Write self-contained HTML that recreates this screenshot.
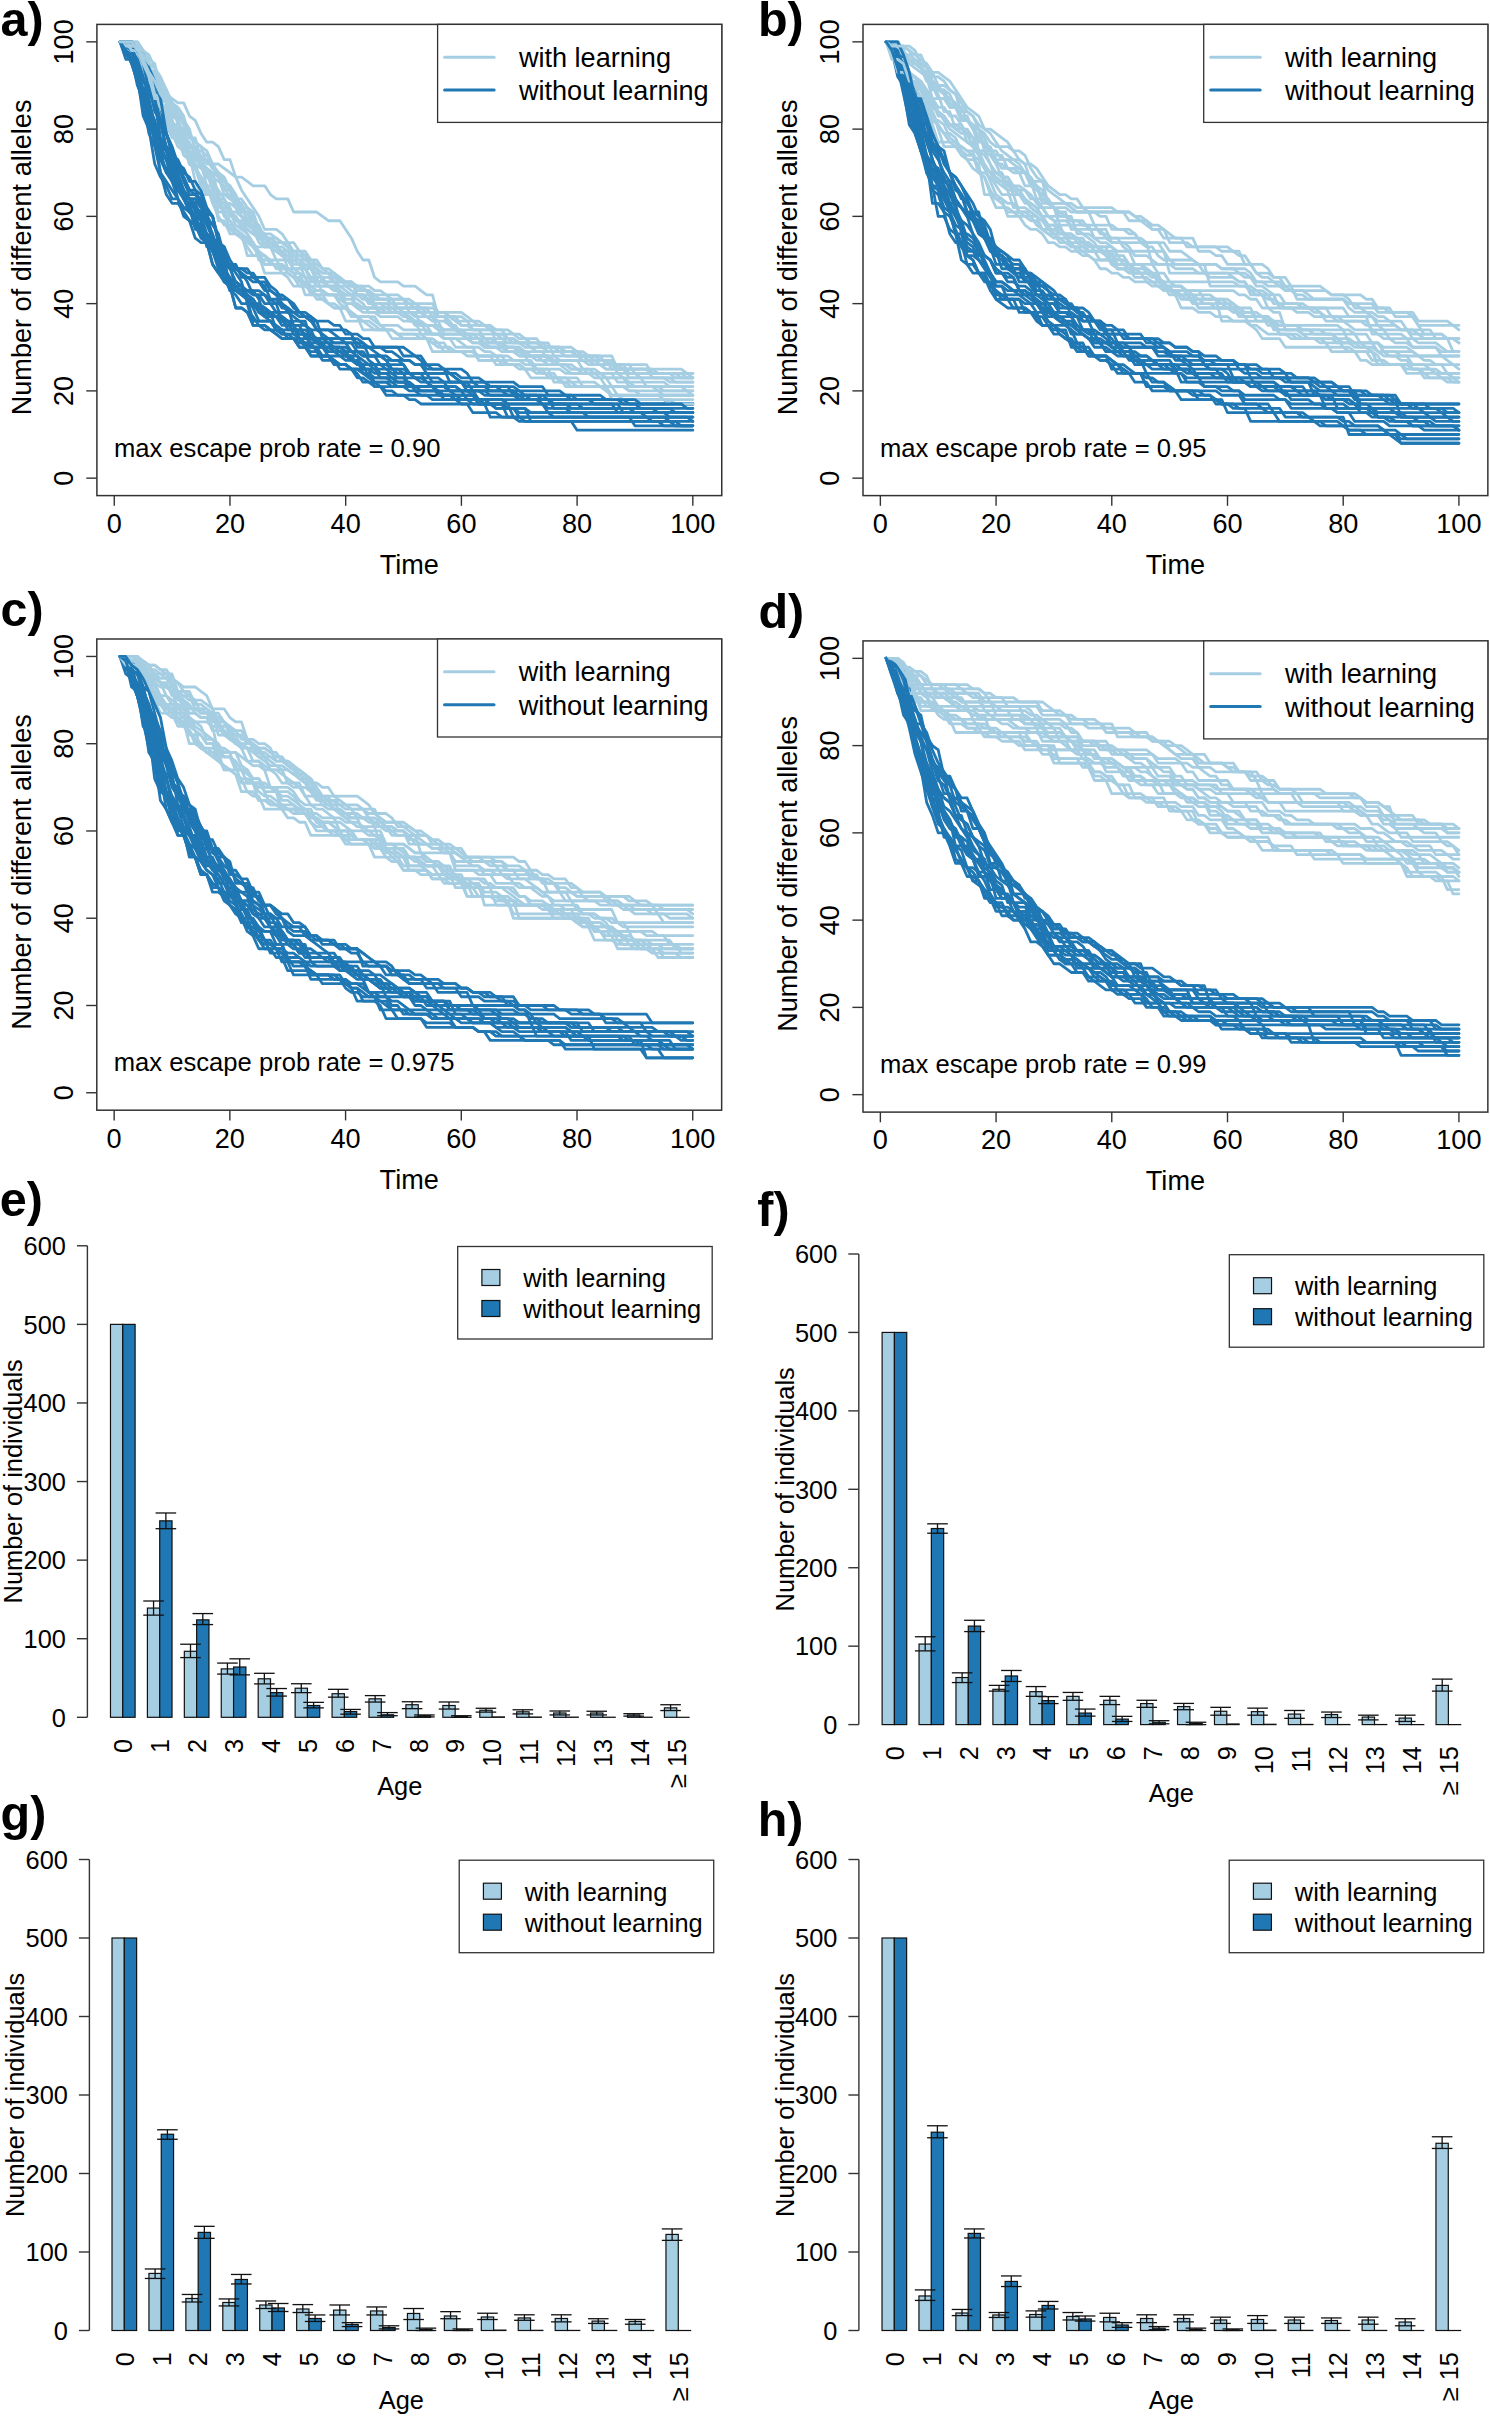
<!DOCTYPE html>
<html><head><meta charset="utf-8"><style>
html,body{margin:0;padding:0;background:#fff;}
svg{display:block;}
text{font-family:"Liberation Sans", sans-serif;fill:#000;}
</style></head><body>
<svg width="1490" height="2417" viewBox="0 0 1490 2417">
<rect width="1490" height="2417" fill="#fff"/>
<g fill="none" stroke-width="2.8" stroke-linejoin="round" stroke-linecap="round">
<polyline stroke="#a6cee3" points="120.04,41.85 125.83,41.85 131.61,41.85 137.4,41.85 143.19,50.58 148.97,54.94 154.76,68.03 160.54,76.76 166.33,89.84 172.11,116.02 177.9,116.02 183.68,120.39 189.47,129.11 195.26,150.93 201.04,150.93 206.83,155.29 212.61,164.01 218.4,177.1 224.18,181.47 229.97,185.83 235.76,194.56 241.54,207.64 247.33,207.64 253.11,216.37 258.9,238.19 264.68,238.19 270.47,238.19 276.26,238.19 282.04,242.55 287.83,246.91 293.61,251.27 299.4,251.27 305.18,255.64 310.97,268.73 316.75,268.73 322.54,273.09 328.33,273.09 334.11,281.81 339.9,281.81 345.68,281.81 351.47,286.18 357.25,286.18 363.04,290.54 368.83,290.54 374.61,299.27 380.4,299.27 386.18,299.27 391.97,299.27 397.75,299.27 403.54,299.27 409.33,312.36 415.11,312.36 420.9,312.36 426.68,312.36 432.47,312.36 438.25,312.36 444.04,312.36 449.82,316.72 455.61,321.08 461.4,325.44 467.18,325.44 472.97,329.81 478.75,329.81 484.54,329.81 490.32,329.81 496.11,329.81 501.9,329.81 507.68,338.53 513.47,338.53 519.25,342.9 525.04,342.9 530.82,342.9 536.61,342.9 542.39,342.9 548.18,347.26 553.97,347.26 559.75,347.26 565.54,351.62 571.32,351.62 577.11,351.62 582.89,351.62 588.68,355.99 594.47,355.99 600.25,355.99 606.04,355.99 611.82,355.99 617.61,369.07 623.39,369.07 629.18,369.07 634.97,369.07 640.75,369.07 646.54,369.07 652.32,369.07 658.11,369.07 663.89,369.07 669.68,369.07 675.46,369.07 681.25,369.07 687.04,373.44 692.82,373.44"/>
<polyline stroke="#1f78b4" points="120.04,41.85 125.83,50.58 131.61,59.3 137.4,76.76 143.19,85.48 148.97,102.93 154.76,137.84 160.54,159.65 166.33,168.38 172.11,177.1 177.9,198.92 183.68,207.64 189.47,212.01 195.26,220.73 201.04,229.46 206.83,233.82 212.61,251.27 218.4,255.64 224.18,268.73 229.97,281.81 235.76,290.54 241.54,294.9 247.33,299.27 253.11,321.08 258.9,321.08 264.68,321.08 270.47,321.08 276.26,325.44 282.04,329.81 287.83,338.53 293.61,338.53 299.4,342.9 305.18,342.9 310.97,342.9 316.75,351.62 322.54,360.35 328.33,360.35 334.11,360.35 339.9,364.71 345.68,364.71 351.47,369.07 357.25,369.07 363.04,369.07 368.83,369.07 374.61,386.53 380.4,386.53 386.18,386.53 391.97,386.53 397.75,386.53 403.54,386.53 409.33,386.53 415.11,386.53 420.9,390.89 426.68,390.89 432.47,390.89 438.25,390.89 444.04,395.25 449.82,395.25 455.61,399.61 461.4,399.61 467.18,399.61 472.97,399.61 478.75,399.61 484.54,403.98 490.32,403.98 496.11,408.34 501.9,408.34 507.68,408.34 513.47,408.34 519.25,408.34 525.04,408.34 530.82,412.7 536.61,412.7 542.39,412.7 548.18,412.7 553.97,412.7 559.75,412.7 565.54,412.7 571.32,412.7 577.11,412.7 582.89,412.7 588.68,417.07 594.47,417.07 600.25,417.07 606.04,417.07 611.82,417.07 617.61,417.07 623.39,417.07 629.18,417.07 634.97,425.79 640.75,425.79 646.54,425.79 652.32,425.79 658.11,425.79 663.89,425.79 669.68,425.79 675.46,425.79 681.25,425.79 687.04,425.79 692.82,425.79"/>
<polyline stroke="#a6cee3" points="120.04,41.85 125.83,46.21 131.61,46.21 137.4,63.67 143.19,68.03 148.97,85.48 154.76,102.93 160.54,107.3 166.33,129.11 172.11,133.47 177.9,146.56 183.68,150.93 189.47,155.29 195.26,181.47 201.04,194.56 206.83,194.56 212.61,194.56 218.4,198.92 224.18,216.37 229.97,220.73 235.76,229.46 241.54,233.82 247.33,238.19 253.11,242.55 258.9,251.27 264.68,255.64 270.47,260 276.26,268.73 282.04,268.73 287.83,268.73 293.61,273.09 299.4,273.09 305.18,277.45 310.97,290.54 316.75,290.54 322.54,290.54 328.33,294.9 334.11,294.9 339.9,299.27 345.68,303.63 351.47,316.72 357.25,316.72 363.04,316.72 368.83,316.72 374.61,316.72 380.4,325.44 386.18,325.44 391.97,325.44 397.75,325.44 403.54,329.81 409.33,329.81 415.11,329.81 420.9,329.81 426.68,329.81 432.47,334.17 438.25,334.17 444.04,338.53 449.82,338.53 455.61,347.26 461.4,347.26 467.18,347.26 472.97,347.26 478.75,360.35 484.54,360.35 490.32,360.35 496.11,360.35 501.9,360.35 507.68,360.35 513.47,360.35 519.25,360.35 525.04,360.35 530.82,360.35 536.61,369.07 542.39,369.07 548.18,369.07 553.97,369.07 559.75,369.07 565.54,373.44 571.32,373.44 577.11,373.44 582.89,373.44 588.68,373.44 594.47,373.44 600.25,377.8 606.04,377.8 611.82,386.53 617.61,386.53 623.39,386.53 629.18,386.53 634.97,386.53 640.75,386.53 646.54,386.53 652.32,386.53 658.11,386.53 663.89,390.89 669.68,390.89 675.46,390.89 681.25,390.89 687.04,390.89 692.82,390.89"/>
<polyline stroke="#1f78b4" points="120.04,41.85 125.83,41.85 131.61,46.21 137.4,59.3 143.19,72.39 148.97,94.21 154.76,102.93 160.54,116.02 166.33,150.93 172.11,159.65 177.9,172.74 183.68,190.19 189.47,198.92 195.26,198.92 201.04,207.64 206.83,220.73 212.61,233.82 218.4,251.27 224.18,264.36 229.97,264.36 235.76,290.54 241.54,290.54 247.33,290.54 253.11,290.54 258.9,290.54 264.68,294.9 270.47,299.27 276.26,303.63 282.04,303.63 287.83,307.99 293.61,325.44 299.4,325.44 305.18,325.44 310.97,329.81 316.75,342.9 322.54,342.9 328.33,342.9 334.11,342.9 339.9,342.9 345.68,342.9 351.47,351.62 357.25,351.62 363.04,355.99 368.83,355.99 374.61,355.99 380.4,355.99 386.18,360.35 391.97,369.07 397.75,369.07 403.54,373.44 409.33,373.44 415.11,373.44 420.9,373.44 426.68,382.16 432.47,382.16 438.25,382.16 444.04,382.16 449.82,390.89 455.61,390.89 461.4,390.89 467.18,390.89 472.97,390.89 478.75,390.89 484.54,395.25 490.32,395.25 496.11,395.25 501.9,395.25 507.68,395.25 513.47,395.25 519.25,399.61 525.04,399.61 530.82,399.61 536.61,399.61 542.39,403.98 548.18,403.98 553.97,403.98 559.75,403.98 565.54,403.98 571.32,403.98 577.11,403.98 582.89,408.34 588.68,408.34 594.47,408.34 600.25,408.34 606.04,408.34 611.82,408.34 617.61,408.34 623.39,408.34 629.18,408.34 634.97,412.7 640.75,412.7 646.54,412.7 652.32,412.7 658.11,412.7 663.89,412.7 669.68,412.7 675.46,412.7 681.25,412.7 687.04,412.7 692.82,412.7"/>
<polyline stroke="#a6cee3" points="120.04,41.85 125.83,41.85 131.61,46.21 137.4,46.21 143.19,54.94 148.97,63.67 154.76,68.03 160.54,81.12 166.33,98.57 172.11,102.93 177.9,107.3 183.68,116.02 189.47,137.84 195.26,137.84 201.04,159.65 206.83,159.65 212.61,168.38 218.4,172.74 224.18,190.19 229.97,190.19 235.76,198.92 241.54,207.64 247.33,212.01 253.11,220.73 258.9,229.46 264.68,233.82 270.47,233.82 276.26,238.19 282.04,242.55 287.83,246.91 293.61,251.27 299.4,251.27 305.18,255.64 310.97,264.36 316.75,264.36 322.54,268.73 328.33,273.09 334.11,277.45 339.9,281.81 345.68,281.81 351.47,281.81 357.25,290.54 363.04,290.54 368.83,290.54 374.61,294.9 380.4,299.27 386.18,299.27 391.97,303.63 397.75,307.99 403.54,307.99 409.33,307.99 415.11,307.99 420.9,307.99 426.68,312.36 432.47,312.36 438.25,316.72 444.04,316.72 449.82,325.44 455.61,325.44 461.4,334.17 467.18,334.17 472.97,334.17 478.75,334.17 484.54,338.53 490.32,342.9 496.11,342.9 501.9,342.9 507.68,347.26 513.47,347.26 519.25,347.26 525.04,355.99 530.82,355.99 536.61,355.99 542.39,355.99 548.18,355.99 553.97,355.99 559.75,360.35 565.54,360.35 571.32,360.35 577.11,360.35 582.89,360.35 588.68,360.35 594.47,360.35 600.25,364.71 606.04,364.71 611.82,364.71 617.61,369.07 623.39,369.07 629.18,369.07 634.97,369.07 640.75,369.07 646.54,369.07 652.32,373.44 658.11,373.44 663.89,373.44 669.68,373.44 675.46,373.44 681.25,373.44 687.04,373.44 692.82,373.44"/>
<polyline stroke="#1f78b4" points="120.04,41.85 125.83,59.3 131.61,59.3 137.4,85.48 143.19,98.57 148.97,116.02 154.76,142.2 160.54,159.65 166.33,172.74 172.11,181.47 177.9,190.19 183.68,198.92 189.47,207.64 195.26,220.73 201.04,225.1 206.83,238.19 212.61,246.91 218.4,260 224.18,268.73 229.97,277.45 235.76,286.18 241.54,290.54 247.33,299.27 253.11,307.99 258.9,321.08 264.68,321.08 270.47,321.08 276.26,329.81 282.04,334.17 287.83,334.17 293.61,338.53 299.4,347.26 305.18,347.26 310.97,351.62 316.75,351.62 322.54,355.99 328.33,355.99 334.11,360.35 339.9,364.71 345.68,364.71 351.47,369.07 357.25,373.44 363.04,382.16 368.83,382.16 374.61,382.16 380.4,382.16 386.18,382.16 391.97,386.53 397.75,386.53 403.54,386.53 409.33,390.89 415.11,390.89 420.9,390.89 426.68,390.89 432.47,390.89 438.25,390.89 444.04,399.61 449.82,399.61 455.61,399.61 461.4,403.98 467.18,403.98 472.97,403.98 478.75,403.98 484.54,403.98 490.32,403.98 496.11,403.98 501.9,403.98 507.68,403.98 513.47,417.07 519.25,417.07 525.04,421.43 530.82,421.43 536.61,421.43 542.39,421.43 548.18,421.43 553.97,421.43 559.75,421.43 565.54,421.43 571.32,421.43 577.11,421.43 582.89,421.43 588.68,421.43 594.47,421.43 600.25,421.43 606.04,421.43 611.82,421.43 617.61,421.43 623.39,421.43 629.18,421.43 634.97,421.43 640.75,421.43 646.54,421.43 652.32,421.43 658.11,421.43 663.89,421.43 669.68,421.43 675.46,425.79 681.25,425.79 687.04,425.79 692.82,425.79"/>
<polyline stroke="#a6cee3" points="120.04,41.85 125.83,41.85 131.61,41.85 137.4,46.21 143.19,59.3 148.97,76.76 154.76,94.21 160.54,94.21 166.33,102.93 172.11,120.39 177.9,133.47 183.68,137.84 189.47,150.93 195.26,164.01 201.04,168.38 206.83,172.74 212.61,190.19 218.4,198.92 224.18,198.92 229.97,212.01 235.76,225.1 241.54,229.46 247.33,233.82 253.11,242.55 258.9,260 264.68,260 270.47,260 276.26,260 282.04,268.73 287.83,268.73 293.61,273.09 299.4,273.09 305.18,286.18 310.97,286.18 316.75,290.54 322.54,290.54 328.33,294.9 334.11,294.9 339.9,294.9 345.68,303.63 351.47,303.63 357.25,307.99 363.04,312.36 368.83,312.36 374.61,312.36 380.4,316.72 386.18,316.72 391.97,316.72 397.75,316.72 403.54,321.08 409.33,321.08 415.11,321.08 420.9,334.17 426.68,334.17 432.47,334.17 438.25,334.17 444.04,334.17 449.82,334.17 455.61,334.17 461.4,334.17 467.18,338.53 472.97,342.9 478.75,342.9 484.54,347.26 490.32,347.26 496.11,347.26 501.9,347.26 507.68,351.62 513.47,351.62 519.25,355.99 525.04,355.99 530.82,355.99 536.61,360.35 542.39,360.35 548.18,364.71 553.97,364.71 559.75,364.71 565.54,369.07 571.32,373.44 577.11,373.44 582.89,373.44 588.68,373.44 594.47,377.8 600.25,377.8 606.04,386.53 611.82,386.53 617.61,386.53 623.39,386.53 629.18,390.89 634.97,390.89 640.75,390.89 646.54,390.89 652.32,390.89 658.11,390.89 663.89,395.25 669.68,395.25 675.46,395.25 681.25,395.25 687.04,395.25 692.82,395.25"/>
<polyline stroke="#1f78b4" points="120.04,41.85 125.83,41.85 131.61,46.21 137.4,54.94 143.19,81.12 148.97,89.84 154.76,102.93 160.54,124.75 166.33,133.47 172.11,150.93 177.9,168.38 183.68,177.1 189.47,190.19 195.26,190.19 201.04,203.28 206.83,212.01 212.61,216.37 218.4,242.55 224.18,246.91 229.97,268.73 235.76,268.73 241.54,268.73 247.33,273.09 253.11,273.09 258.9,281.81 264.68,281.81 270.47,290.54 276.26,294.9 282.04,303.63 287.83,312.36 293.61,312.36 299.4,312.36 305.18,316.72 310.97,316.72 316.75,329.81 322.54,329.81 328.33,329.81 334.11,334.17 339.9,338.53 345.68,338.53 351.47,338.53 357.25,342.9 363.04,342.9 368.83,355.99 374.61,355.99 380.4,355.99 386.18,355.99 391.97,360.35 397.75,360.35 403.54,360.35 409.33,360.35 415.11,364.71 420.9,364.71 426.68,364.71 432.47,364.71 438.25,364.71 444.04,369.07 449.82,382.16 455.61,382.16 461.4,382.16 467.18,382.16 472.97,382.16 478.75,386.53 484.54,386.53 490.32,386.53 496.11,386.53 501.9,386.53 507.68,386.53 513.47,386.53 519.25,390.89 525.04,390.89 530.82,390.89 536.61,390.89 542.39,390.89 548.18,390.89 553.97,390.89 559.75,390.89 565.54,395.25 571.32,395.25 577.11,399.61 582.89,399.61 588.68,399.61 594.47,399.61 600.25,399.61 606.04,399.61 611.82,399.61 617.61,399.61 623.39,399.61 629.18,399.61 634.97,399.61 640.75,399.61 646.54,399.61 652.32,399.61 658.11,399.61 663.89,399.61 669.68,403.98 675.46,403.98 681.25,403.98 687.04,403.98 692.82,403.98"/>
<polyline stroke="#a6cee3" points="120.04,41.85 125.83,46.21 131.61,50.58 137.4,50.58 143.19,54.94 148.97,68.03 154.76,85.48 160.54,116.02 166.33,116.02 172.11,120.39 177.9,133.47 183.68,146.56 189.47,150.93 195.26,155.29 201.04,164.01 206.83,185.83 212.61,185.83 218.4,194.56 224.18,212.01 229.97,212.01 235.76,212.01 241.54,216.37 247.33,225.1 253.11,229.46 258.9,238.19 264.68,242.55 270.47,246.91 276.26,246.91 282.04,255.64 287.83,260 293.61,260 299.4,264.36 305.18,277.45 310.97,277.45 316.75,277.45 322.54,294.9 328.33,294.9 334.11,294.9 339.9,294.9 345.68,294.9 351.47,294.9 357.25,294.9 363.04,299.27 368.83,299.27 374.61,307.99 380.4,307.99 386.18,307.99 391.97,307.99 397.75,312.36 403.54,312.36 409.33,312.36 415.11,312.36 420.9,325.44 426.68,325.44 432.47,325.44 438.25,325.44 444.04,329.81 449.82,329.81 455.61,329.81 461.4,334.17 467.18,334.17 472.97,338.53 478.75,338.53 484.54,342.9 490.32,347.26 496.11,347.26 501.9,351.62 507.68,351.62 513.47,351.62 519.25,355.99 525.04,355.99 530.82,355.99 536.61,355.99 542.39,360.35 548.18,360.35 553.97,360.35 559.75,364.71 565.54,364.71 571.32,369.07 577.11,369.07 582.89,369.07 588.68,373.44 594.47,373.44 600.25,373.44 606.04,377.8 611.82,377.8 617.61,377.8 623.39,377.8 629.18,386.53 634.97,386.53 640.75,386.53 646.54,386.53 652.32,386.53 658.11,386.53 663.89,386.53 669.68,386.53 675.46,386.53 681.25,386.53 687.04,390.89 692.82,390.89"/>
<polyline stroke="#1f78b4" points="120.04,41.85 125.83,50.58 131.61,50.58 137.4,72.39 143.19,94.21 148.97,116.02 154.76,129.11 160.54,146.56 166.33,159.65 172.11,177.1 177.9,185.83 183.68,198.92 189.47,212.01 195.26,216.37 201.04,229.46 206.83,238.19 212.61,242.55 218.4,260 224.18,264.36 229.97,286.18 235.76,290.54 241.54,294.9 247.33,299.27 253.11,303.63 258.9,307.99 264.68,312.36 270.47,312.36 276.26,316.72 282.04,321.08 287.83,321.08 293.61,325.44 299.4,334.17 305.18,334.17 310.97,334.17 316.75,338.53 322.54,342.9 328.33,342.9 334.11,351.62 339.9,351.62 345.68,355.99 351.47,355.99 357.25,364.71 363.04,364.71 368.83,364.71 374.61,364.71 380.4,364.71 386.18,369.07 391.97,369.07 397.75,373.44 403.54,373.44 409.33,386.53 415.11,386.53 420.9,386.53 426.68,386.53 432.47,386.53 438.25,386.53 444.04,386.53 449.82,386.53 455.61,386.53 461.4,390.89 467.18,390.89 472.97,390.89 478.75,399.61 484.54,399.61 490.32,399.61 496.11,399.61 501.9,399.61 507.68,399.61 513.47,399.61 519.25,399.61 525.04,399.61 530.82,399.61 536.61,399.61 542.39,399.61 548.18,399.61 553.97,403.98 559.75,403.98 565.54,403.98 571.32,403.98 577.11,403.98 582.89,403.98 588.68,403.98 594.47,403.98 600.25,403.98 606.04,403.98 611.82,403.98 617.61,403.98 623.39,412.7 629.18,412.7 634.97,412.7 640.75,412.7 646.54,412.7 652.32,412.7 658.11,412.7 663.89,412.7 669.68,412.7 675.46,412.7 681.25,412.7 687.04,412.7 692.82,412.7"/>
<polyline stroke="#a6cee3" points="120.04,41.85 125.83,50.58 131.61,50.58 137.4,54.94 143.19,85.48 148.97,85.48 154.76,94.21 160.54,102.93 166.33,111.66 172.11,124.75 177.9,137.84 183.68,146.56 189.47,155.29 195.26,164.01 201.04,181.47 206.83,190.19 212.61,194.56 218.4,220.73 224.18,220.73 229.97,233.82 235.76,233.82 241.54,238.19 247.33,246.91 253.11,255.64 258.9,255.64 264.68,273.09 270.47,273.09 276.26,273.09 282.04,273.09 287.83,277.45 293.61,286.18 299.4,286.18 305.18,286.18 310.97,290.54 316.75,299.27 322.54,299.27 328.33,303.63 334.11,307.99 339.9,307.99 345.68,307.99 351.47,312.36 357.25,316.72 363.04,329.81 368.83,329.81 374.61,329.81 380.4,329.81 386.18,329.81 391.97,338.53 397.75,338.53 403.54,338.53 409.33,338.53 415.11,338.53 420.9,338.53 426.68,338.53 432.47,342.9 438.25,347.26 444.04,347.26 449.82,347.26 455.61,351.62 461.4,351.62 467.18,351.62 472.97,351.62 478.75,355.99 484.54,355.99 490.32,355.99 496.11,355.99 501.9,364.71 507.68,364.71 513.47,364.71 519.25,364.71 525.04,369.07 530.82,369.07 536.61,369.07 542.39,373.44 548.18,373.44 553.97,377.8 559.75,377.8 565.54,377.8 571.32,377.8 577.11,377.8 582.89,386.53 588.68,386.53 594.47,386.53 600.25,386.53 606.04,386.53 611.82,386.53 617.61,395.25 623.39,395.25 629.18,395.25 634.97,395.25 640.75,395.25 646.54,395.25 652.32,395.25 658.11,395.25 663.89,399.61 669.68,399.61 675.46,403.98 681.25,403.98 687.04,403.98 692.82,403.98"/>
<polyline stroke="#1f78b4" points="120.04,41.85 125.83,46.21 131.61,46.21 137.4,81.12 143.19,94.21 148.97,111.66 154.76,129.11 160.54,142.2 166.33,150.93 172.11,172.74 177.9,190.19 183.68,194.56 189.47,198.92 195.26,212.01 201.04,220.73 206.83,238.19 212.61,238.19 218.4,264.36 224.18,268.73 229.97,281.81 235.76,281.81 241.54,286.18 247.33,294.9 253.11,299.27 258.9,307.99 264.68,307.99 270.47,316.72 276.26,316.72 282.04,325.44 287.83,325.44 293.61,325.44 299.4,338.53 305.18,338.53 310.97,338.53 316.75,342.9 322.54,342.9 328.33,351.62 334.11,351.62 339.9,351.62 345.68,351.62 351.47,360.35 357.25,364.71 363.04,364.71 368.83,364.71 374.61,369.07 380.4,377.8 386.18,377.8 391.97,377.8 397.75,382.16 403.54,382.16 409.33,382.16 415.11,386.53 420.9,390.89 426.68,390.89 432.47,390.89 438.25,390.89 444.04,390.89 449.82,390.89 455.61,395.25 461.4,395.25 467.18,395.25 472.97,395.25 478.75,399.61 484.54,399.61 490.32,399.61 496.11,399.61 501.9,399.61 507.68,403.98 513.47,403.98 519.25,403.98 525.04,403.98 530.82,403.98 536.61,403.98 542.39,403.98 548.18,412.7 553.97,412.7 559.75,412.7 565.54,412.7 571.32,412.7 577.11,412.7 582.89,412.7 588.68,412.7 594.47,412.7 600.25,412.7 606.04,412.7 611.82,412.7 617.61,412.7 623.39,412.7 629.18,412.7 634.97,412.7 640.75,412.7 646.54,417.07 652.32,417.07 658.11,417.07 663.89,417.07 669.68,417.07 675.46,417.07 681.25,417.07 687.04,417.07 692.82,417.07"/>
<polyline stroke="#a6cee3" points="120.04,41.85 125.83,41.85 131.61,41.85 137.4,46.21 143.19,63.67 148.97,76.76 154.76,85.48 160.54,89.84 166.33,98.57 172.11,102.93 177.9,120.39 183.68,133.47 189.47,146.56 195.26,150.93 201.04,164.01 206.83,168.38 212.61,172.74 218.4,177.1 224.18,194.56 229.97,194.56 235.76,207.64 241.54,216.37 247.33,220.73 253.11,229.46 258.9,238.19 264.68,238.19 270.47,246.91 276.26,251.27 282.04,255.64 287.83,255.64 293.61,255.64 299.4,260 305.18,268.73 310.97,277.45 316.75,281.81 322.54,281.81 328.33,281.81 334.11,281.81 339.9,286.18 345.68,290.54 351.47,294.9 357.25,294.9 363.04,294.9 368.83,299.27 374.61,303.63 380.4,303.63 386.18,303.63 391.97,307.99 397.75,307.99 403.54,307.99 409.33,307.99 415.11,307.99 420.9,312.36 426.68,316.72 432.47,321.08 438.25,321.08 444.04,321.08 449.82,325.44 455.61,329.81 461.4,334.17 467.18,334.17 472.97,334.17 478.75,334.17 484.54,334.17 490.32,334.17 496.11,334.17 501.9,338.53 507.68,342.9 513.47,342.9 519.25,342.9 525.04,342.9 530.82,347.26 536.61,351.62 542.39,351.62 548.18,351.62 553.97,351.62 559.75,351.62 565.54,351.62 571.32,351.62 577.11,355.99 582.89,355.99 588.68,355.99 594.47,360.35 600.25,360.35 606.04,360.35 611.82,360.35 617.61,373.44 623.39,373.44 629.18,373.44 634.97,373.44 640.75,373.44 646.54,373.44 652.32,373.44 658.11,373.44 663.89,373.44 669.68,373.44 675.46,373.44 681.25,373.44 687.04,377.8 692.82,377.8"/>
<polyline stroke="#1f78b4" points="120.04,41.85 125.83,41.85 131.61,46.21 137.4,68.03 143.19,81.12 148.97,89.84 154.76,102.93 160.54,137.84 166.33,146.56 172.11,164.01 177.9,177.1 183.68,198.92 189.47,198.92 195.26,207.64 201.04,212.01 206.83,225.1 212.61,238.19 218.4,242.55 224.18,264.36 229.97,268.73 235.76,281.81 241.54,286.18 247.33,290.54 253.11,294.9 258.9,294.9 264.68,294.9 270.47,303.63 276.26,303.63 282.04,321.08 287.83,321.08 293.61,321.08 299.4,321.08 305.18,321.08 310.97,338.53 316.75,338.53 322.54,338.53 328.33,338.53 334.11,338.53 339.9,338.53 345.68,342.9 351.47,342.9 357.25,342.9 363.04,347.26 368.83,347.26 374.61,351.62 380.4,355.99 386.18,360.35 391.97,360.35 397.75,360.35 403.54,364.71 409.33,373.44 415.11,373.44 420.9,373.44 426.68,373.44 432.47,373.44 438.25,373.44 444.04,373.44 449.82,373.44 455.61,377.8 461.4,382.16 467.18,390.89 472.97,390.89 478.75,390.89 484.54,390.89 490.32,390.89 496.11,390.89 501.9,390.89 507.68,390.89 513.47,390.89 519.25,390.89 525.04,395.25 530.82,395.25 536.61,395.25 542.39,399.61 548.18,399.61 553.97,403.98 559.75,403.98 565.54,403.98 571.32,403.98 577.11,403.98 582.89,403.98 588.68,403.98 594.47,403.98 600.25,403.98 606.04,403.98 611.82,403.98 617.61,412.7 623.39,412.7 629.18,412.7 634.97,412.7 640.75,412.7 646.54,412.7 652.32,412.7 658.11,412.7 663.89,412.7 669.68,412.7 675.46,412.7 681.25,412.7 687.04,412.7 692.82,412.7"/>
<polyline stroke="#a6cee3" points="120.04,41.85 125.83,41.85 131.61,50.58 137.4,50.58 143.19,72.39 148.97,81.12 154.76,89.84 160.54,102.93 166.33,107.3 172.11,124.75 177.9,137.84 183.68,142.2 189.47,164.01 195.26,168.38 201.04,177.1 206.83,190.19 212.61,194.56 218.4,207.64 224.18,207.64 229.97,212.01 235.76,216.37 241.54,225.1 247.33,233.82 253.11,246.91 258.9,246.91 264.68,246.91 270.47,246.91 276.26,260 282.04,260 287.83,260 293.61,268.73 299.4,273.09 305.18,277.45 310.97,286.18 316.75,286.18 322.54,286.18 328.33,286.18 334.11,290.54 339.9,290.54 345.68,303.63 351.47,303.63 357.25,303.63 363.04,307.99 368.83,307.99 374.61,307.99 380.4,307.99 386.18,312.36 391.97,312.36 397.75,312.36 403.54,316.72 409.33,316.72 415.11,321.08 420.9,321.08 426.68,325.44 432.47,325.44 438.25,325.44 444.04,329.81 449.82,329.81 455.61,329.81 461.4,334.17 467.18,338.53 472.97,338.53 478.75,338.53 484.54,342.9 490.32,342.9 496.11,342.9 501.9,342.9 507.68,347.26 513.47,347.26 519.25,351.62 525.04,351.62 530.82,355.99 536.61,355.99 542.39,355.99 548.18,355.99 553.97,364.71 559.75,364.71 565.54,364.71 571.32,364.71 577.11,369.07 582.89,369.07 588.68,369.07 594.47,369.07 600.25,373.44 606.04,373.44 611.82,373.44 617.61,373.44 623.39,377.8 629.18,377.8 634.97,377.8 640.75,377.8 646.54,386.53 652.32,386.53 658.11,386.53 663.89,386.53 669.68,386.53 675.46,386.53 681.25,386.53 687.04,386.53 692.82,386.53"/>
<polyline stroke="#1f78b4" points="120.04,41.85 125.83,54.94 131.61,59.3 137.4,76.76 143.19,116.02 148.97,129.11 154.76,164.01 160.54,177.1 166.33,185.83 172.11,198.92 177.9,198.92 183.68,212.01 189.47,220.73 195.26,225.1 201.04,238.19 206.83,242.55 212.61,251.27 218.4,268.73 224.18,281.81 229.97,286.18 235.76,307.99 241.54,307.99 247.33,312.36 253.11,325.44 258.9,325.44 264.68,325.44 270.47,329.81 276.26,329.81 282.04,329.81 287.83,338.53 293.61,338.53 299.4,338.53 305.18,347.26 310.97,355.99 316.75,355.99 322.54,355.99 328.33,355.99 334.11,364.71 339.9,364.71 345.68,364.71 351.47,369.07 357.25,377.8 363.04,377.8 368.83,382.16 374.61,386.53 380.4,386.53 386.18,390.89 391.97,390.89 397.75,395.25 403.54,395.25 409.33,395.25 415.11,395.25 420.9,395.25 426.68,395.25 432.47,399.61 438.25,399.61 444.04,399.61 449.82,399.61 455.61,399.61 461.4,399.61 467.18,399.61 472.97,403.98 478.75,403.98 484.54,403.98 490.32,417.07 496.11,417.07 501.9,417.07 507.68,417.07 513.47,417.07 519.25,417.07 525.04,417.07 530.82,417.07 536.61,417.07 542.39,417.07 548.18,417.07 553.97,417.07 559.75,417.07 565.54,417.07 571.32,417.07 577.11,417.07 582.89,417.07 588.68,417.07 594.47,417.07 600.25,417.07 606.04,417.07 611.82,417.07 617.61,417.07 623.39,417.07 629.18,417.07 634.97,417.07 640.75,417.07 646.54,417.07 652.32,417.07 658.11,417.07 663.89,417.07 669.68,417.07 675.46,417.07 681.25,417.07 687.04,417.07 692.82,417.07"/>
<polyline stroke="#a6cee3" points="120.04,41.85 125.83,41.85 131.61,41.85 137.4,41.85 143.19,50.58 148.97,68.03 154.76,72.39 160.54,81.12 166.33,102.93 172.11,107.3 177.9,111.66 183.68,120.39 189.47,159.65 195.26,159.65 201.04,159.65 206.83,159.65 212.61,168.38 218.4,172.74 224.18,181.47 229.97,190.19 235.76,198.92 241.54,198.92 247.33,207.64 253.11,212.01 258.9,229.46 264.68,238.19 270.47,238.19 276.26,242.55 282.04,242.55 287.83,246.91 293.61,255.64 299.4,255.64 305.18,255.64 310.97,260 316.75,264.36 322.54,268.73 328.33,273.09 334.11,273.09 339.9,277.45 345.68,286.18 351.47,286.18 357.25,286.18 363.04,286.18 368.83,286.18 374.61,290.54 380.4,290.54 386.18,294.9 391.97,299.27 397.75,307.99 403.54,307.99 409.33,307.99 415.11,307.99 420.9,312.36 426.68,316.72 432.47,316.72 438.25,316.72 444.04,316.72 449.82,321.08 455.61,329.81 461.4,329.81 467.18,329.81 472.97,329.81 478.75,329.81 484.54,338.53 490.32,338.53 496.11,338.53 501.9,338.53 507.68,338.53 513.47,338.53 519.25,342.9 525.04,347.26 530.82,347.26 536.61,347.26 542.39,347.26 548.18,347.26 553.97,347.26 559.75,351.62 565.54,351.62 571.32,351.62 577.11,355.99 582.89,355.99 588.68,355.99 594.47,360.35 600.25,360.35 606.04,360.35 611.82,364.71 617.61,364.71 623.39,364.71 629.18,373.44 634.97,373.44 640.75,373.44 646.54,373.44 652.32,373.44 658.11,373.44 663.89,373.44 669.68,373.44 675.46,373.44 681.25,373.44 687.04,373.44 692.82,373.44"/>
<polyline stroke="#1f78b4" points="120.04,41.85 125.83,46.21 131.61,46.21 137.4,50.58 143.19,54.94 148.97,68.03 154.76,89.84 160.54,107.3 166.33,133.47 172.11,146.56 177.9,164.01 183.68,168.38 189.47,181.47 195.26,181.47 201.04,190.19 206.83,207.64 212.61,216.37 218.4,242.55 224.18,246.91 229.97,260 235.76,268.73 241.54,268.73 247.33,268.73 253.11,277.45 258.9,277.45 264.68,277.45 270.47,286.18 276.26,290.54 282.04,299.27 287.83,299.27 293.61,307.99 299.4,312.36 305.18,316.72 310.97,321.08 316.75,321.08 322.54,338.53 328.33,338.53 334.11,338.53 339.9,338.53 345.68,338.53 351.47,338.53 357.25,338.53 363.04,342.9 368.83,347.26 374.61,347.26 380.4,347.26 386.18,351.62 391.97,351.62 397.75,355.99 403.54,360.35 409.33,360.35 415.11,364.71 420.9,364.71 426.68,373.44 432.47,373.44 438.25,373.44 444.04,373.44 449.82,373.44 455.61,377.8 461.4,382.16 467.18,382.16 472.97,382.16 478.75,382.16 484.54,382.16 490.32,386.53 496.11,386.53 501.9,390.89 507.68,390.89 513.47,390.89 519.25,399.61 525.04,399.61 530.82,399.61 536.61,399.61 542.39,399.61 548.18,399.61 553.97,399.61 559.75,399.61 565.54,399.61 571.32,399.61 577.11,399.61 582.89,399.61 588.68,399.61 594.47,399.61 600.25,399.61 606.04,399.61 611.82,399.61 617.61,399.61 623.39,399.61 629.18,403.98 634.97,403.98 640.75,403.98 646.54,403.98 652.32,403.98 658.11,403.98 663.89,403.98 669.68,403.98 675.46,403.98 681.25,403.98 687.04,403.98 692.82,403.98"/>
<polyline stroke="#a6cee3" points="120.04,41.85 125.83,46.21 131.61,46.21 137.4,50.58 143.19,68.03 148.97,81.12 154.76,102.93 160.54,102.93 166.33,116.02 172.11,124.75 177.9,129.11 183.68,133.47 189.47,155.29 195.26,159.65 201.04,164.01 206.83,172.74 212.61,185.83 218.4,198.92 224.18,203.28 229.97,216.37 235.76,216.37 241.54,229.46 247.33,229.46 253.11,233.82 258.9,238.19 264.68,242.55 270.47,242.55 276.26,246.91 282.04,251.27 287.83,268.73 293.61,268.73 299.4,268.73 305.18,268.73 310.97,281.81 316.75,281.81 322.54,281.81 328.33,286.18 334.11,286.18 339.9,294.9 345.68,294.9 351.47,294.9 357.25,307.99 363.04,307.99 368.83,307.99 374.61,307.99 380.4,307.99 386.18,307.99 391.97,312.36 397.75,312.36 403.54,312.36 409.33,321.08 415.11,321.08 420.9,325.44 426.68,325.44 432.47,334.17 438.25,334.17 444.04,338.53 449.82,338.53 455.61,338.53 461.4,342.9 467.18,347.26 472.97,347.26 478.75,347.26 484.54,351.62 490.32,351.62 496.11,355.99 501.9,355.99 507.68,355.99 513.47,360.35 519.25,360.35 525.04,364.71 530.82,364.71 536.61,369.07 542.39,369.07 548.18,377.8 553.97,377.8 559.75,377.8 565.54,377.8 571.32,382.16 577.11,386.53 582.89,386.53 588.68,386.53 594.47,386.53 600.25,386.53 606.04,386.53 611.82,395.25 617.61,395.25 623.39,395.25 629.18,395.25 634.97,395.25 640.75,395.25 646.54,395.25 652.32,395.25 658.11,395.25 663.89,395.25 669.68,395.25 675.46,395.25 681.25,395.25 687.04,395.25 692.82,395.25"/>
<polyline stroke="#1f78b4" points="120.04,41.85 125.83,50.58 131.61,54.94 137.4,81.12 143.19,89.84 148.97,120.39 154.76,129.11 160.54,150.93 166.33,159.65 172.11,181.47 177.9,198.92 183.68,207.64 189.47,207.64 195.26,229.46 201.04,229.46 206.83,233.82 212.61,251.27 218.4,264.36 224.18,277.45 229.97,281.81 235.76,290.54 241.54,290.54 247.33,299.27 253.11,303.63 258.9,312.36 264.68,316.72 270.47,321.08 276.26,329.81 282.04,334.17 287.83,334.17 293.61,334.17 299.4,338.53 305.18,342.9 310.97,347.26 316.75,347.26 322.54,355.99 328.33,355.99 334.11,355.99 339.9,355.99 345.68,355.99 351.47,360.35 357.25,360.35 363.04,364.71 368.83,377.8 374.61,377.8 380.4,377.8 386.18,377.8 391.97,382.16 397.75,386.53 403.54,386.53 409.33,386.53 415.11,386.53 420.9,386.53 426.68,386.53 432.47,386.53 438.25,386.53 444.04,386.53 449.82,390.89 455.61,390.89 461.4,390.89 467.18,399.61 472.97,399.61 478.75,399.61 484.54,399.61 490.32,399.61 496.11,399.61 501.9,399.61 507.68,403.98 513.47,403.98 519.25,403.98 525.04,403.98 530.82,403.98 536.61,403.98 542.39,403.98 548.18,408.34 553.97,408.34 559.75,408.34 565.54,408.34 571.32,412.7 577.11,412.7 582.89,412.7 588.68,412.7 594.47,412.7 600.25,412.7 606.04,412.7 611.82,412.7 617.61,412.7 623.39,412.7 629.18,412.7 634.97,412.7 640.75,412.7 646.54,412.7 652.32,412.7 658.11,412.7 663.89,412.7 669.68,417.07 675.46,417.07 681.25,417.07 687.04,417.07 692.82,421.43"/>
<polyline stroke="#a6cee3" points="120.04,41.85 125.83,41.85 131.61,41.85 137.4,46.21 143.19,68.03 148.97,68.03 154.76,76.76 160.54,94.21 166.33,102.93 172.11,116.02 177.9,120.39 183.68,137.84 189.47,142.2 195.26,155.29 201.04,164.01 206.83,168.38 212.61,172.74 218.4,194.56 224.18,194.56 229.97,198.92 235.76,203.28 241.54,216.37 247.33,225.1 253.11,229.46 258.9,229.46 264.68,238.19 270.47,242.55 276.26,242.55 282.04,255.64 287.83,255.64 293.61,255.64 299.4,260 305.18,264.36 310.97,268.73 316.75,273.09 322.54,277.45 328.33,277.45 334.11,281.81 339.9,290.54 345.68,294.9 351.47,294.9 357.25,294.9 363.04,294.9 368.83,303.63 374.61,303.63 380.4,312.36 386.18,312.36 391.97,312.36 397.75,312.36 403.54,312.36 409.33,312.36 415.11,312.36 420.9,312.36 426.68,316.72 432.47,316.72 438.25,321.08 444.04,334.17 449.82,334.17 455.61,334.17 461.4,334.17 467.18,334.17 472.97,334.17 478.75,338.53 484.54,338.53 490.32,338.53 496.11,342.9 501.9,347.26 507.68,347.26 513.47,347.26 519.25,351.62 525.04,351.62 530.82,351.62 536.61,351.62 542.39,351.62 548.18,360.35 553.97,360.35 559.75,360.35 565.54,360.35 571.32,360.35 577.11,360.35 582.89,360.35 588.68,360.35 594.47,364.71 600.25,364.71 606.04,364.71 611.82,364.71 617.61,364.71 623.39,369.07 629.18,369.07 634.97,369.07 640.75,369.07 646.54,369.07 652.32,369.07 658.11,373.44 663.89,373.44 669.68,373.44 675.46,373.44 681.25,377.8 687.04,377.8 692.82,377.8"/>
<polyline stroke="#1f78b4" points="120.04,41.85 125.83,41.85 131.61,41.85 137.4,54.94 143.19,59.3 148.97,81.12 154.76,98.57 160.54,120.39 166.33,133.47 172.11,150.93 177.9,164.01 183.68,181.47 189.47,194.56 195.26,194.56 201.04,203.28 206.83,216.37 212.61,225.1 218.4,233.82 224.18,255.64 229.97,268.73 235.76,268.73 241.54,273.09 247.33,277.45 253.11,277.45 258.9,281.81 264.68,286.18 270.47,299.27 276.26,299.27 282.04,307.99 287.83,307.99 293.61,312.36 299.4,316.72 305.18,316.72 310.97,321.08 316.75,329.81 322.54,329.81 328.33,329.81 334.11,329.81 339.9,329.81 345.68,329.81 351.47,334.17 357.25,347.26 363.04,347.26 368.83,347.26 374.61,347.26 380.4,347.26 386.18,347.26 391.97,347.26 397.75,347.26 403.54,347.26 409.33,351.62 415.11,355.99 420.9,355.99 426.68,364.71 432.47,369.07 438.25,369.07 444.04,369.07 449.82,373.44 455.61,373.44 461.4,377.8 467.18,377.8 472.97,377.8 478.75,377.8 484.54,382.16 490.32,386.53 496.11,386.53 501.9,386.53 507.68,386.53 513.47,395.25 519.25,395.25 525.04,395.25 530.82,395.25 536.61,395.25 542.39,395.25 548.18,395.25 553.97,395.25 559.75,395.25 565.54,395.25 571.32,395.25 577.11,395.25 582.89,395.25 588.68,395.25 594.47,395.25 600.25,395.25 606.04,399.61 611.82,399.61 617.61,399.61 623.39,403.98 629.18,403.98 634.97,403.98 640.75,403.98 646.54,403.98 652.32,403.98 658.11,403.98 663.89,403.98 669.68,403.98 675.46,403.98 681.25,403.98 687.04,403.98 692.82,403.98"/>
<polyline stroke="#a6cee3" points="120.04,41.85 125.83,41.85 131.61,41.85 137.4,59.3 143.19,72.39 148.97,81.12 154.76,98.57 160.54,107.3 166.33,120.39 172.11,129.11 177.9,137.84 183.68,155.29 189.47,159.65 195.26,168.38 201.04,185.83 206.83,194.56 212.61,194.56 218.4,203.28 224.18,212.01 229.97,229.46 235.76,233.82 241.54,233.82 247.33,242.55 253.11,246.91 258.9,251.27 264.68,264.36 270.47,264.36 276.26,264.36 282.04,273.09 287.83,273.09 293.61,277.45 299.4,286.18 305.18,286.18 310.97,290.54 316.75,294.9 322.54,299.27 328.33,303.63 334.11,307.99 339.9,307.99 345.68,321.08 351.47,321.08 357.25,321.08 363.04,321.08 368.83,321.08 374.61,325.44 380.4,329.81 386.18,329.81 391.97,329.81 397.75,334.17 403.54,338.53 409.33,338.53 415.11,338.53 420.9,338.53 426.68,338.53 432.47,351.62 438.25,351.62 444.04,351.62 449.82,351.62 455.61,351.62 461.4,351.62 467.18,355.99 472.97,355.99 478.75,355.99 484.54,355.99 490.32,355.99 496.11,364.71 501.9,364.71 507.68,364.71 513.47,364.71 519.25,369.07 525.04,369.07 530.82,369.07 536.61,373.44 542.39,373.44 548.18,373.44 553.97,373.44 559.75,382.16 565.54,382.16 571.32,386.53 577.11,386.53 582.89,386.53 588.68,386.53 594.47,386.53 600.25,386.53 606.04,386.53 611.82,399.61 617.61,399.61 623.39,399.61 629.18,399.61 634.97,399.61 640.75,399.61 646.54,399.61 652.32,399.61 658.11,399.61 663.89,399.61 669.68,403.98 675.46,403.98 681.25,403.98 687.04,403.98 692.82,403.98"/>
<polyline stroke="#1f78b4" points="120.04,41.85 125.83,46.21 131.61,59.3 137.4,81.12 143.19,102.93 148.97,116.02 154.76,142.2 160.54,150.93 166.33,172.74 172.11,177.1 177.9,185.83 183.68,198.92 189.47,203.28 195.26,225.1 201.04,225.1 206.83,246.91 212.61,246.91 218.4,255.64 224.18,264.36 229.97,290.54 235.76,290.54 241.54,290.54 247.33,299.27 253.11,299.27 258.9,307.99 264.68,312.36 270.47,316.72 276.26,316.72 282.04,316.72 287.83,329.81 293.61,329.81 299.4,329.81 305.18,334.17 310.97,338.53 316.75,338.53 322.54,338.53 328.33,342.9 334.11,347.26 339.9,347.26 345.68,347.26 351.47,351.62 357.25,351.62 363.04,351.62 368.83,360.35 374.61,364.71 380.4,364.71 386.18,364.71 391.97,369.07 397.75,369.07 403.54,369.07 409.33,373.44 415.11,377.8 420.9,377.8 426.68,377.8 432.47,377.8 438.25,377.8 444.04,382.16 449.82,382.16 455.61,382.16 461.4,382.16 467.18,386.53 472.97,386.53 478.75,386.53 484.54,386.53 490.32,390.89 496.11,390.89 501.9,390.89 507.68,395.25 513.47,395.25 519.25,395.25 525.04,399.61 530.82,399.61 536.61,399.61 542.39,403.98 548.18,403.98 553.97,403.98 559.75,403.98 565.54,403.98 571.32,408.34 577.11,408.34 582.89,408.34 588.68,408.34 594.47,408.34 600.25,408.34 606.04,408.34 611.82,408.34 617.61,408.34 623.39,408.34 629.18,408.34 634.97,408.34 640.75,408.34 646.54,408.34 652.32,408.34 658.11,412.7 663.89,412.7 669.68,412.7 675.46,412.7 681.25,412.7 687.04,412.7 692.82,412.7"/>
<polyline stroke="#a6cee3" points="120.04,41.85 125.83,46.21 131.61,54.94 137.4,54.94 143.19,76.76 148.97,89.84 154.76,94.21 160.54,107.3 166.33,120.39 172.11,133.47 177.9,142.2 183.68,146.56 189.47,164.01 195.26,168.38 201.04,181.47 206.83,185.83 212.61,203.28 218.4,216.37 224.18,225.1 229.97,225.1 235.76,233.82 241.54,238.19 247.33,238.19 253.11,246.91 258.9,255.64 264.68,255.64 270.47,264.36 276.26,264.36 282.04,264.36 287.83,268.73 293.61,273.09 299.4,281.81 305.18,281.81 310.97,294.9 316.75,294.9 322.54,294.9 328.33,294.9 334.11,294.9 339.9,303.63 345.68,307.99 351.47,316.72 357.25,316.72 363.04,316.72 368.83,316.72 374.61,321.08 380.4,325.44 386.18,329.81 391.97,329.81 397.75,334.17 403.54,334.17 409.33,334.17 415.11,334.17 420.9,334.17 426.68,338.53 432.47,338.53 438.25,342.9 444.04,342.9 449.82,351.62 455.61,351.62 461.4,351.62 467.18,351.62 472.97,351.62 478.75,355.99 484.54,355.99 490.32,355.99 496.11,355.99 501.9,355.99 507.68,364.71 513.47,364.71 519.25,364.71 525.04,369.07 530.82,369.07 536.61,369.07 542.39,369.07 548.18,369.07 553.97,382.16 559.75,382.16 565.54,382.16 571.32,382.16 577.11,382.16 582.89,382.16 588.68,382.16 594.47,382.16 600.25,386.53 606.04,386.53 611.82,386.53 617.61,386.53 623.39,386.53 629.18,390.89 634.97,390.89 640.75,395.25 646.54,395.25 652.32,395.25 658.11,395.25 663.89,395.25 669.68,395.25 675.46,395.25 681.25,395.25 687.04,395.25 692.82,395.25"/>
<polyline stroke="#1f78b4" points="120.04,41.85 125.83,50.58 131.61,63.67 137.4,81.12 143.19,107.3 148.97,124.75 154.76,137.84 160.54,172.74 166.33,181.47 172.11,190.19 177.9,198.92 183.68,216.37 189.47,220.73 195.26,238.19 201.04,242.55 206.83,242.55 212.61,264.36 218.4,273.09 224.18,277.45 229.97,290.54 235.76,294.9 241.54,303.63 247.33,303.63 253.11,325.44 258.9,325.44 264.68,329.81 270.47,329.81 276.26,334.17 282.04,338.53 287.83,338.53 293.61,338.53 299.4,347.26 305.18,347.26 310.97,347.26 316.75,347.26 322.54,347.26 328.33,355.99 334.11,360.35 339.9,364.71 345.68,364.71 351.47,369.07 357.25,369.07 363.04,373.44 368.83,373.44 374.61,382.16 380.4,382.16 386.18,382.16 391.97,382.16 397.75,382.16 403.54,382.16 409.33,382.16 415.11,390.89 420.9,395.25 426.68,395.25 432.47,395.25 438.25,395.25 444.04,395.25 449.82,395.25 455.61,399.61 461.4,399.61 467.18,399.61 472.97,399.61 478.75,399.61 484.54,403.98 490.32,403.98 496.11,403.98 501.9,403.98 507.68,408.34 513.47,408.34 519.25,412.7 525.04,412.7 530.82,412.7 536.61,412.7 542.39,412.7 548.18,412.7 553.97,417.07 559.75,417.07 565.54,417.07 571.32,417.07 577.11,417.07 582.89,417.07 588.68,417.07 594.47,417.07 600.25,417.07 606.04,417.07 611.82,417.07 617.61,417.07 623.39,417.07 629.18,417.07 634.97,417.07 640.75,417.07 646.54,417.07 652.32,417.07 658.11,417.07 663.89,417.07 669.68,417.07 675.46,417.07 681.25,417.07 687.04,417.07 692.82,417.07"/>
<polyline stroke="#a6cee3" points="120.04,41.85 125.83,46.21 131.61,50.58 137.4,54.94 143.19,63.67 148.97,72.39 154.76,94.21 160.54,98.57 166.33,124.75 172.11,137.84 177.9,137.84 183.68,146.56 189.47,159.65 195.26,168.38 201.04,177.1 206.83,185.83 212.61,194.56 218.4,212.01 224.18,212.01 229.97,220.73 235.76,229.46 241.54,233.82 247.33,255.64 253.11,255.64 258.9,255.64 264.68,264.36 270.47,264.36 276.26,264.36 282.04,264.36 287.83,273.09 293.61,277.45 299.4,277.45 305.18,294.9 310.97,294.9 316.75,294.9 322.54,294.9 328.33,303.63 334.11,303.63 339.9,307.99 345.68,307.99 351.47,312.36 357.25,316.72 363.04,321.08 368.83,325.44 374.61,329.81 380.4,329.81 386.18,329.81 391.97,329.81 397.75,334.17 403.54,334.17 409.33,334.17 415.11,334.17 420.9,338.53 426.68,338.53 432.47,342.9 438.25,342.9 444.04,351.62 449.82,351.62 455.61,351.62 461.4,351.62 467.18,351.62 472.97,351.62 478.75,360.35 484.54,360.35 490.32,360.35 496.11,360.35 501.9,360.35 507.68,364.71 513.47,364.71 519.25,364.71 525.04,369.07 530.82,377.8 536.61,377.8 542.39,377.8 548.18,377.8 553.97,377.8 559.75,377.8 565.54,386.53 571.32,386.53 577.11,386.53 582.89,386.53 588.68,386.53 594.47,386.53 600.25,386.53 606.04,390.89 611.82,395.25 617.61,395.25 623.39,399.61 629.18,399.61 634.97,399.61 640.75,399.61 646.54,399.61 652.32,399.61 658.11,399.61 663.89,399.61 669.68,399.61 675.46,399.61 681.25,399.61 687.04,399.61 692.82,399.61"/>
<polyline stroke="#1f78b4" points="120.04,41.85 125.83,46.21 131.61,46.21 137.4,63.67 143.19,81.12 148.97,85.48 154.76,111.66 160.54,120.39 166.33,150.93 172.11,168.38 177.9,181.47 183.68,190.19 189.47,198.92 195.26,198.92 201.04,207.64 206.83,216.37 212.61,242.55 218.4,251.27 224.18,255.64 229.97,290.54 235.76,290.54 241.54,290.54 247.33,290.54 253.11,290.54 258.9,299.27 264.68,316.72 270.47,316.72 276.26,316.72 282.04,316.72 287.83,321.08 293.61,325.44 299.4,325.44 305.18,338.53 310.97,338.53 316.75,338.53 322.54,338.53 328.33,342.9 334.11,347.26 339.9,347.26 345.68,351.62 351.47,360.35 357.25,360.35 363.04,369.07 368.83,369.07 374.61,369.07 380.4,369.07 386.18,369.07 391.97,373.44 397.75,377.8 403.54,377.8 409.33,377.8 415.11,377.8 420.9,377.8 426.68,382.16 432.47,386.53 438.25,386.53 444.04,386.53 449.82,390.89 455.61,390.89 461.4,390.89 467.18,390.89 472.97,395.25 478.75,403.98 484.54,403.98 490.32,403.98 496.11,403.98 501.9,403.98 507.68,417.07 513.47,417.07 519.25,417.07 525.04,417.07 530.82,417.07 536.61,417.07 542.39,417.07 548.18,417.07 553.97,417.07 559.75,417.07 565.54,417.07 571.32,417.07 577.11,417.07 582.89,417.07 588.68,417.07 594.47,417.07 600.25,417.07 606.04,417.07 611.82,417.07 617.61,417.07 623.39,417.07 629.18,417.07 634.97,417.07 640.75,417.07 646.54,417.07 652.32,417.07 658.11,417.07 663.89,417.07 669.68,421.43 675.46,421.43 681.25,421.43 687.04,421.43 692.82,421.43"/>
<polyline stroke="#a6cee3" points="120.04,41.85 125.83,46.21 131.61,46.21 137.4,46.21 143.19,50.58 148.97,59.3 154.76,63.67 160.54,89.84 166.33,89.84 172.11,102.93 177.9,111.66 183.68,124.75 189.47,133.47 195.26,142.2 201.04,146.56 206.83,150.93 212.61,164.01 218.4,164.01 224.18,168.38 229.97,172.74 235.76,177.1 241.54,190.19 247.33,198.92 253.11,207.64 258.9,216.37 264.68,229.46 270.47,229.46 276.26,229.46 282.04,233.82 287.83,242.55 293.61,242.55 299.4,251.27 305.18,251.27 310.97,260 316.75,260 322.54,268.73 328.33,268.73 334.11,273.09 339.9,281.81 345.68,281.81 351.47,286.18 357.25,286.18 363.04,286.18 368.83,294.9 374.61,294.9 380.4,294.9 386.18,294.9 391.97,294.9 397.75,294.9 403.54,299.27 409.33,299.27 415.11,303.63 420.9,303.63 426.68,303.63 432.47,303.63 438.25,312.36 444.04,312.36 449.82,312.36 455.61,312.36 461.4,312.36 467.18,316.72 472.97,321.08 478.75,321.08 484.54,325.44 490.32,325.44 496.11,329.81 501.9,329.81 507.68,329.81 513.47,334.17 519.25,338.53 525.04,338.53 530.82,338.53 536.61,338.53 542.39,347.26 548.18,347.26 553.97,347.26 559.75,347.26 565.54,347.26 571.32,347.26 577.11,351.62 582.89,355.99 588.68,355.99 594.47,355.99 600.25,360.35 606.04,360.35 611.82,369.07 617.61,369.07 623.39,369.07 629.18,369.07 634.97,369.07 640.75,369.07 646.54,369.07 652.32,377.8 658.11,377.8 663.89,377.8 669.68,377.8 675.46,377.8 681.25,377.8 687.04,377.8 692.82,377.8"/>
<polyline stroke="#1f78b4" points="120.04,41.85 125.83,46.21 131.61,50.58 137.4,68.03 143.19,89.84 148.97,107.3 154.76,120.39 160.54,142.2 166.33,146.56 172.11,159.65 177.9,177.1 183.68,190.19 189.47,198.92 195.26,207.64 201.04,216.37 206.83,233.82 212.61,238.19 218.4,255.64 224.18,260 229.97,264.36 235.76,273.09 241.54,281.81 247.33,303.63 253.11,303.63 258.9,303.63 264.68,307.99 270.47,312.36 276.26,329.81 282.04,329.81 287.83,329.81 293.61,329.81 299.4,334.17 305.18,334.17 310.97,347.26 316.75,347.26 322.54,347.26 328.33,347.26 334.11,351.62 339.9,355.99 345.68,360.35 351.47,360.35 357.25,360.35 363.04,373.44 368.83,373.44 374.61,377.8 380.4,377.8 386.18,377.8 391.97,377.8 397.75,377.8 403.54,377.8 409.33,386.53 415.11,386.53 420.9,386.53 426.68,386.53 432.47,386.53 438.25,390.89 444.04,395.25 449.82,395.25 455.61,395.25 461.4,395.25 467.18,395.25 472.97,395.25 478.75,403.98 484.54,403.98 490.32,403.98 496.11,403.98 501.9,403.98 507.68,408.34 513.47,408.34 519.25,408.34 525.04,408.34 530.82,421.43 536.61,421.43 542.39,421.43 548.18,421.43 553.97,421.43 559.75,421.43 565.54,421.43 571.32,421.43 577.11,421.43 582.89,421.43 588.68,421.43 594.47,421.43 600.25,421.43 606.04,421.43 611.82,421.43 617.61,421.43 623.39,421.43 629.18,421.43 634.97,421.43 640.75,421.43 646.54,421.43 652.32,421.43 658.11,421.43 663.89,425.79 669.68,425.79 675.46,425.79 681.25,425.79 687.04,425.79 692.82,425.79"/>
<polyline stroke="#a6cee3" points="120.04,41.85 125.83,41.85 131.61,50.58 137.4,50.58 143.19,63.67 148.97,72.39 154.76,76.76 160.54,81.12 166.33,89.84 172.11,102.93 177.9,124.75 183.68,129.11 189.47,146.56 195.26,150.93 201.04,155.29 206.83,172.74 212.61,172.74 218.4,172.74 224.18,177.1 229.97,190.19 235.76,203.28 241.54,212.01 247.33,212.01 253.11,229.46 258.9,233.82 264.68,233.82 270.47,242.55 276.26,246.91 282.04,246.91 287.83,251.27 293.61,260 299.4,260 305.18,260 310.97,264.36 316.75,268.73 322.54,281.81 328.33,281.81 334.11,281.81 339.9,281.81 345.68,281.81 351.47,281.81 357.25,294.9 363.04,294.9 368.83,294.9 374.61,303.63 380.4,303.63 386.18,303.63 391.97,303.63 397.75,303.63 403.54,303.63 409.33,303.63 415.11,307.99 420.9,307.99 426.68,307.99 432.47,307.99 438.25,312.36 444.04,312.36 449.82,316.72 455.61,321.08 461.4,321.08 467.18,321.08 472.97,329.81 478.75,329.81 484.54,329.81 490.32,329.81 496.11,334.17 501.9,334.17 507.68,338.53 513.47,342.9 519.25,342.9 525.04,342.9 530.82,342.9 536.61,342.9 542.39,347.26 548.18,351.62 553.97,351.62 559.75,351.62 565.54,355.99 571.32,355.99 577.11,355.99 582.89,360.35 588.68,360.35 594.47,364.71 600.25,364.71 606.04,369.07 611.82,369.07 617.61,369.07 623.39,369.07 629.18,377.8 634.97,377.8 640.75,377.8 646.54,377.8 652.32,377.8 658.11,377.8 663.89,377.8 669.68,377.8 675.46,382.16 681.25,382.16 687.04,382.16 692.82,382.16"/>
<polyline stroke="#1f78b4" points="120.04,41.85 125.83,46.21 131.61,50.58 137.4,59.3 143.19,76.76 148.97,98.57 154.76,124.75 160.54,146.56 166.33,150.93 172.11,164.01 177.9,190.19 183.68,194.56 189.47,198.92 195.26,203.28 201.04,216.37 206.83,220.73 212.61,238.19 218.4,251.27 224.18,268.73 229.97,286.18 235.76,286.18 241.54,286.18 247.33,299.27 253.11,303.63 258.9,307.99 264.68,307.99 270.47,312.36 276.26,312.36 282.04,316.72 287.83,321.08 293.61,334.17 299.4,334.17 305.18,334.17 310.97,342.9 316.75,342.9 322.54,347.26 328.33,347.26 334.11,347.26 339.9,347.26 345.68,351.62 351.47,351.62 357.25,355.99 363.04,360.35 368.83,364.71 374.61,364.71 380.4,373.44 386.18,373.44 391.97,373.44 397.75,373.44 403.54,373.44 409.33,373.44 415.11,377.8 420.9,382.16 426.68,382.16 432.47,386.53 438.25,386.53 444.04,386.53 449.82,386.53 455.61,386.53 461.4,390.89 467.18,390.89 472.97,390.89 478.75,390.89 484.54,390.89 490.32,395.25 496.11,395.25 501.9,395.25 507.68,395.25 513.47,395.25 519.25,395.25 525.04,395.25 530.82,399.61 536.61,399.61 542.39,399.61 548.18,399.61 553.97,399.61 559.75,399.61 565.54,399.61 571.32,399.61 577.11,399.61 582.89,399.61 588.68,399.61 594.47,403.98 600.25,403.98 606.04,403.98 611.82,403.98 617.61,403.98 623.39,403.98 629.18,403.98 634.97,403.98 640.75,408.34 646.54,408.34 652.32,408.34 658.11,408.34 663.89,408.34 669.68,408.34 675.46,408.34 681.25,408.34 687.04,408.34 692.82,408.34"/>
<polyline stroke="#a6cee3" points="120.04,41.85 125.83,46.21 131.61,46.21 137.4,46.21 143.19,54.94 148.97,63.67 154.76,98.57 160.54,98.57 166.33,102.93 172.11,129.11 177.9,129.11 183.68,150.93 189.47,150.93 195.26,155.29 201.04,168.38 206.83,172.74 212.61,181.47 218.4,190.19 224.18,198.92 229.97,207.64 235.76,220.73 241.54,220.73 247.33,229.46 253.11,233.82 258.9,233.82 264.68,246.91 270.47,246.91 276.26,251.27 282.04,255.64 287.83,260 293.61,268.73 299.4,268.73 305.18,268.73 310.97,277.45 316.75,286.18 322.54,286.18 328.33,286.18 334.11,286.18 339.9,290.54 345.68,294.9 351.47,294.9 357.25,299.27 363.04,303.63 368.83,312.36 374.61,312.36 380.4,312.36 386.18,312.36 391.97,312.36 397.75,312.36 403.54,312.36 409.33,316.72 415.11,325.44 420.9,325.44 426.68,325.44 432.47,325.44 438.25,329.81 444.04,338.53 449.82,338.53 455.61,338.53 461.4,338.53 467.18,338.53 472.97,342.9 478.75,342.9 484.54,342.9 490.32,342.9 496.11,342.9 501.9,342.9 507.68,351.62 513.47,351.62 519.25,351.62 525.04,355.99 530.82,355.99 536.61,355.99 542.39,355.99 548.18,355.99 553.97,360.35 559.75,360.35 565.54,360.35 571.32,360.35 577.11,360.35 582.89,369.07 588.68,369.07 594.47,373.44 600.25,373.44 606.04,373.44 611.82,373.44 617.61,382.16 623.39,382.16 629.18,382.16 634.97,382.16 640.75,382.16 646.54,382.16 652.32,382.16 658.11,382.16 663.89,382.16 669.68,386.53 675.46,386.53 681.25,386.53 687.04,386.53 692.82,386.53"/>
<polyline stroke="#1f78b4" points="120.04,41.85 125.83,46.21 131.61,46.21 137.4,50.58 143.19,63.67 148.97,89.84 154.76,98.57 160.54,124.75 166.33,146.56 172.11,150.93 177.9,168.38 183.68,177.1 189.47,190.19 195.26,194.56 201.04,198.92 206.83,212.01 212.61,238.19 218.4,246.91 224.18,260 229.97,268.73 235.76,268.73 241.54,273.09 247.33,281.81 253.11,294.9 258.9,294.9 264.68,303.63 270.47,303.63 276.26,312.36 282.04,312.36 287.83,312.36 293.61,316.72 299.4,321.08 305.18,325.44 310.97,329.81 316.75,329.81 322.54,334.17 328.33,338.53 334.11,342.9 339.9,342.9 345.68,342.9 351.47,342.9 357.25,351.62 363.04,355.99 368.83,355.99 374.61,355.99 380.4,364.71 386.18,364.71 391.97,364.71 397.75,364.71 403.54,364.71 409.33,373.44 415.11,373.44 420.9,373.44 426.68,373.44 432.47,382.16 438.25,382.16 444.04,382.16 449.82,382.16 455.61,382.16 461.4,382.16 467.18,382.16 472.97,390.89 478.75,390.89 484.54,390.89 490.32,390.89 496.11,390.89 501.9,390.89 507.68,390.89 513.47,390.89 519.25,395.25 525.04,395.25 530.82,395.25 536.61,395.25 542.39,395.25 548.18,399.61 553.97,408.34 559.75,408.34 565.54,408.34 571.32,408.34 577.11,408.34 582.89,408.34 588.68,408.34 594.47,408.34 600.25,408.34 606.04,408.34 611.82,408.34 617.61,408.34 623.39,408.34 629.18,408.34 634.97,408.34 640.75,408.34 646.54,408.34 652.32,408.34 658.11,408.34 663.89,408.34 669.68,408.34 675.46,412.7 681.25,412.7 687.04,412.7 692.82,412.7"/>
<polyline stroke="#a6cee3" points="120.04,41.85 125.83,41.85 131.61,50.58 137.4,50.58 143.19,63.67 148.97,76.76 154.76,98.57 160.54,98.57 166.33,102.93 172.11,111.66 177.9,120.39 183.68,150.93 189.47,150.93 195.26,159.65 201.04,164.01 206.83,177.1 212.61,181.47 218.4,203.28 224.18,203.28 229.97,203.28 235.76,207.64 241.54,216.37 247.33,220.73 253.11,225.1 258.9,233.82 264.68,238.19 270.47,242.55 276.26,246.91 282.04,251.27 287.83,251.27 293.61,255.64 299.4,260 305.18,268.73 310.97,268.73 316.75,277.45 322.54,277.45 328.33,286.18 334.11,286.18 339.9,286.18 345.68,286.18 351.47,290.54 357.25,294.9 363.04,294.9 368.83,303.63 374.61,303.63 380.4,303.63 386.18,307.99 391.97,307.99 397.75,307.99 403.54,312.36 409.33,312.36 415.11,316.72 420.9,316.72 426.68,316.72 432.47,316.72 438.25,329.81 444.04,329.81 449.82,329.81 455.61,329.81 461.4,329.81 467.18,334.17 472.97,338.53 478.75,338.53 484.54,342.9 490.32,347.26 496.11,347.26 501.9,347.26 507.68,347.26 513.47,347.26 519.25,347.26 525.04,351.62 530.82,355.99 536.61,355.99 542.39,355.99 548.18,355.99 553.97,360.35 559.75,360.35 565.54,360.35 571.32,360.35 577.11,360.35 582.89,360.35 588.68,364.71 594.47,364.71 600.25,364.71 606.04,369.07 611.82,369.07 617.61,369.07 623.39,369.07 629.18,373.44 634.97,373.44 640.75,377.8 646.54,377.8 652.32,377.8 658.11,377.8 663.89,377.8 669.68,382.16 675.46,382.16 681.25,382.16 687.04,382.16 692.82,382.16"/>
<polyline stroke="#1f78b4" points="120.04,41.85 125.83,50.58 131.61,63.67 137.4,81.12 143.19,102.93 148.97,133.47 154.76,146.56 160.54,172.74 166.33,194.56 172.11,203.28 177.9,203.28 183.68,212.01 189.47,220.73 195.26,225.1 201.04,233.82 206.83,242.55 212.61,264.36 218.4,273.09 224.18,281.81 229.97,286.18 235.76,307.99 241.54,307.99 247.33,312.36 253.11,316.72 258.9,325.44 264.68,325.44 270.47,329.81 276.26,334.17 282.04,338.53 287.83,338.53 293.61,338.53 299.4,342.9 305.18,342.9 310.97,355.99 316.75,355.99 322.54,355.99 328.33,355.99 334.11,360.35 339.9,369.07 345.68,369.07 351.47,369.07 357.25,369.07 363.04,373.44 368.83,377.8 374.61,382.16 380.4,386.53 386.18,395.25 391.97,395.25 397.75,395.25 403.54,395.25 409.33,399.61 415.11,399.61 420.9,403.98 426.68,403.98 432.47,403.98 438.25,403.98 444.04,403.98 449.82,403.98 455.61,403.98 461.4,403.98 467.18,403.98 472.97,412.7 478.75,412.7 484.54,412.7 490.32,412.7 496.11,412.7 501.9,417.07 507.68,417.07 513.47,417.07 519.25,421.43 525.04,421.43 530.82,421.43 536.61,421.43 542.39,421.43 548.18,421.43 553.97,421.43 559.75,421.43 565.54,421.43 571.32,421.43 577.11,430.16 582.89,430.16 588.68,430.16 594.47,430.16 600.25,430.16 606.04,430.16 611.82,430.16 617.61,430.16 623.39,430.16 629.18,430.16 634.97,430.16 640.75,430.16 646.54,430.16 652.32,430.16 658.11,430.16 663.89,430.16 669.68,430.16 675.46,430.16 681.25,430.16 687.04,430.16 692.82,430.16"/>
<polyline stroke="#a6cee3" points="120.04,41.85 125.83,41.85 131.61,46.21 137.4,46.21 143.19,50.58 148.97,63.67 154.76,68.03 160.54,85.48 166.33,102.93 172.11,102.93 177.9,116.02 183.68,124.75 189.47,137.84 195.26,142.2 201.04,146.56 206.83,164.01 212.61,164.01 218.4,172.74 224.18,181.47 229.97,185.83 235.76,198.92 241.54,203.28 247.33,220.73 253.11,220.73 258.9,225.1 264.68,238.19 270.47,238.19 276.26,242.55 282.04,242.55 287.83,242.55 293.61,251.27 299.4,255.64 305.18,260 310.97,264.36 316.75,268.73 322.54,273.09 328.33,273.09 334.11,277.45 339.9,277.45 345.68,281.81 351.47,281.81 357.25,286.18 363.04,290.54 368.83,290.54 374.61,299.27 380.4,299.27 386.18,299.27 391.97,299.27 397.75,299.27 403.54,299.27 409.33,303.63 415.11,303.63 420.9,307.99 426.68,307.99 432.47,316.72 438.25,316.72 444.04,316.72 449.82,316.72 455.61,316.72 461.4,316.72 467.18,321.08 472.97,321.08 478.75,325.44 484.54,325.44 490.32,325.44 496.11,342.9 501.9,342.9 507.68,342.9 513.47,342.9 519.25,342.9 525.04,342.9 530.82,347.26 536.61,347.26 542.39,347.26 548.18,347.26 553.97,347.26 559.75,347.26 565.54,351.62 571.32,351.62 577.11,351.62 582.89,355.99 588.68,360.35 594.47,360.35 600.25,360.35 606.04,360.35 611.82,364.71 617.61,364.71 623.39,364.71 629.18,364.71 634.97,364.71 640.75,364.71 646.54,364.71 652.32,373.44 658.11,373.44 663.89,373.44 669.68,373.44 675.46,373.44 681.25,373.44 687.04,373.44 692.82,377.8"/>
<polyline stroke="#1f78b4" points="120.04,41.85 125.83,41.85 131.61,41.85 137.4,50.58 143.19,54.94 148.97,68.03 154.76,81.12 160.54,98.57 166.33,133.47 172.11,155.29 177.9,159.65 183.68,172.74 189.47,177.1 195.26,190.19 201.04,194.56 206.83,212.01 212.61,216.37 218.4,238.19 224.18,264.36 229.97,264.36 235.76,264.36 241.54,277.45 247.33,277.45 253.11,281.81 258.9,281.81 264.68,290.54 270.47,290.54 276.26,294.9 282.04,294.9 287.83,299.27 293.61,303.63 299.4,312.36 305.18,312.36 310.97,316.72 316.75,321.08 322.54,321.08 328.33,321.08 334.11,325.44 339.9,325.44 345.68,334.17 351.47,334.17 357.25,334.17 363.04,338.53 368.83,338.53 374.61,347.26 380.4,347.26 386.18,347.26 391.97,347.26 397.75,347.26 403.54,355.99 409.33,355.99 415.11,355.99 420.9,360.35 426.68,369.07 432.47,369.07 438.25,369.07 444.04,369.07 449.82,369.07 455.61,369.07 461.4,369.07 467.18,373.44 472.97,382.16 478.75,382.16 484.54,382.16 490.32,382.16 496.11,382.16 501.9,382.16 507.68,382.16 513.47,382.16 519.25,386.53 525.04,386.53 530.82,386.53 536.61,386.53 542.39,386.53 548.18,395.25 553.97,395.25 559.75,395.25 565.54,395.25 571.32,399.61 577.11,399.61 582.89,399.61 588.68,399.61 594.47,399.61 600.25,399.61 606.04,399.61 611.82,399.61 617.61,399.61 623.39,399.61 629.18,399.61 634.97,399.61 640.75,403.98 646.54,403.98 652.32,403.98 658.11,403.98 663.89,403.98 669.68,403.98 675.46,403.98 681.25,403.98 687.04,408.34 692.82,408.34"/>
<polyline stroke="#a6cee3" points="120.04,41.85 125.83,46.21 131.61,46.21 137.4,46.21 143.19,59.3 148.97,72.39 154.76,81.12 160.54,94.21 166.33,102.93 172.11,124.75 177.9,124.75 183.68,137.84 189.47,146.56 195.26,146.56 201.04,164.01 206.83,168.38 212.61,177.1 218.4,181.47 224.18,185.83 229.97,198.92 235.76,198.92 241.54,207.64 247.33,220.73 253.11,229.46 258.9,242.55 264.68,246.91 270.47,246.91 276.26,251.27 282.04,251.27 287.83,255.64 293.61,264.36 299.4,264.36 305.18,264.36 310.97,268.73 316.75,281.81 322.54,281.81 328.33,286.18 334.11,290.54 339.9,290.54 345.68,299.27 351.47,299.27 357.25,307.99 363.04,307.99 368.83,307.99 374.61,307.99 380.4,312.36 386.18,312.36 391.97,312.36 397.75,312.36 403.54,312.36 409.33,316.72 415.11,321.08 420.9,321.08 426.68,334.17 432.47,334.17 438.25,334.17 444.04,334.17 449.82,334.17 455.61,334.17 461.4,334.17 467.18,338.53 472.97,338.53 478.75,338.53 484.54,347.26 490.32,347.26 496.11,347.26 501.9,347.26 507.68,351.62 513.47,351.62 519.25,351.62 525.04,355.99 530.82,364.71 536.61,364.71 542.39,364.71 548.18,364.71 553.97,364.71 559.75,364.71 565.54,364.71 571.32,369.07 577.11,369.07 582.89,373.44 588.68,373.44 594.47,373.44 600.25,373.44 606.04,377.8 611.82,377.8 617.61,377.8 623.39,377.8 629.18,382.16 634.97,386.53 640.75,386.53 646.54,386.53 652.32,386.53 658.11,390.89 663.89,390.89 669.68,390.89 675.46,390.89 681.25,390.89 687.04,390.89 692.82,395.25"/>
<polyline stroke="#1f78b4" points="120.04,41.85 125.83,50.58 131.61,54.94 137.4,72.39 143.19,89.84 148.97,120.39 154.76,129.11 160.54,146.56 166.33,159.65 172.11,172.74 177.9,181.47 183.68,194.56 189.47,207.64 195.26,216.37 201.04,220.73 206.83,242.55 212.61,246.91 218.4,264.36 224.18,273.09 229.97,281.81 235.76,281.81 241.54,286.18 247.33,294.9 253.11,299.27 258.9,312.36 264.68,312.36 270.47,316.72 276.26,316.72 282.04,321.08 287.83,325.44 293.61,329.81 299.4,329.81 305.18,329.81 310.97,334.17 316.75,338.53 322.54,347.26 328.33,347.26 334.11,347.26 339.9,351.62 345.68,355.99 351.47,355.99 357.25,355.99 363.04,369.07 368.83,369.07 374.61,373.44 380.4,373.44 386.18,373.44 391.97,377.8 397.75,382.16 403.54,382.16 409.33,386.53 415.11,386.53 420.9,386.53 426.68,386.53 432.47,386.53 438.25,395.25 444.04,395.25 449.82,395.25 455.61,395.25 461.4,399.61 467.18,399.61 472.97,399.61 478.75,399.61 484.54,399.61 490.32,403.98 496.11,408.34 501.9,408.34 507.68,408.34 513.47,408.34 519.25,417.07 525.04,417.07 530.82,417.07 536.61,417.07 542.39,417.07 548.18,417.07 553.97,417.07 559.75,417.07 565.54,417.07 571.32,417.07 577.11,417.07 582.89,417.07 588.68,417.07 594.47,417.07 600.25,417.07 606.04,417.07 611.82,417.07 617.61,417.07 623.39,417.07 629.18,417.07 634.97,417.07 640.75,417.07 646.54,417.07 652.32,421.43 658.11,421.43 663.89,421.43 669.68,421.43 675.46,421.43 681.25,425.79 687.04,425.79 692.82,425.79"/>
<polyline stroke="#a6cee3" points="120.04,41.85 125.83,41.85 131.61,41.85 137.4,50.58 143.19,54.94 148.97,63.67 154.76,68.03 160.54,81.12 166.33,94.21 172.11,98.57 177.9,102.93 183.68,102.93 189.47,116.02 195.26,120.39 201.04,133.47 206.83,142.2 212.61,142.2 218.4,146.56 224.18,159.65 229.97,159.65 235.76,177.1 241.54,177.1 247.33,181.47 253.11,185.83 258.9,185.83 264.68,185.83 270.47,194.56 276.26,198.92 282.04,198.92 287.83,198.92 293.61,212.01 299.4,212.01 305.18,212.01 310.97,212.01 316.75,212.01 322.54,216.37 328.33,220.73 334.11,220.73 339.9,220.73 345.68,229.46 351.47,238.19 357.25,251.27 363.04,260 368.83,260 374.61,277.45 380.4,281.81 386.18,281.81 391.97,281.81 397.75,281.81 403.54,286.18 409.33,286.18 415.11,286.18 420.9,290.54 426.68,294.9 432.47,294.9 438.25,316.72 444.04,316.72 449.82,316.72 455.61,316.72 461.4,325.44 467.18,325.44 472.97,325.44 478.75,325.44 484.54,325.44 490.32,329.81 496.11,334.17 501.9,334.17 507.68,334.17 513.47,334.17 519.25,334.17 525.04,338.53 530.82,342.9 536.61,342.9 542.39,342.9 548.18,342.9 553.97,355.99 559.75,355.99 565.54,355.99 571.32,355.99 577.11,355.99 582.89,355.99 588.68,355.99 594.47,355.99 600.25,355.99 606.04,364.71 611.82,364.71 617.61,364.71 623.39,364.71 629.18,364.71 634.97,373.44 640.75,373.44 646.54,373.44 652.32,373.44 658.11,373.44 663.89,373.44 669.68,373.44 675.46,377.8 681.25,377.8 687.04,377.8 692.82,377.8"/>
</g>
<rect x="96.9" y="24.4" width="624.85" height="471.2" fill="none" stroke="#333" stroke-width="1.5"/>
<line x1="114.26" y1="495.6" x2="114.26" y2="505.8" stroke="#333" stroke-width="1.4"/>
<text x="114.26" y="532.9" font-size="27.1" text-anchor="middle">0</text>
<line x1="229.97" y1="495.6" x2="229.97" y2="505.8" stroke="#333" stroke-width="1.4"/>
<text x="229.97" y="532.9" font-size="27.1" text-anchor="middle">20</text>
<line x1="345.68" y1="495.6" x2="345.68" y2="505.8" stroke="#333" stroke-width="1.4"/>
<text x="345.68" y="532.9" font-size="27.1" text-anchor="middle">40</text>
<line x1="461.4" y1="495.6" x2="461.4" y2="505.8" stroke="#333" stroke-width="1.4"/>
<text x="461.4" y="532.9" font-size="27.1" text-anchor="middle">60</text>
<line x1="577.11" y1="495.6" x2="577.11" y2="505.8" stroke="#333" stroke-width="1.4"/>
<text x="577.11" y="532.9" font-size="27.1" text-anchor="middle">80</text>
<line x1="692.82" y1="495.6" x2="692.82" y2="505.8" stroke="#333" stroke-width="1.4"/>
<text x="692.82" y="532.9" font-size="27.1" text-anchor="middle">100</text>
<line x1="96.9" y1="478.15" x2="86.3" y2="478.15" stroke="#333" stroke-width="1.4"/>
<text x="72.9" y="478.15" font-size="27.1" text-anchor="middle" transform="rotate(-90 72.9 478.15)">0</text>
<line x1="96.9" y1="390.89" x2="86.3" y2="390.89" stroke="#333" stroke-width="1.4"/>
<text x="72.9" y="390.89" font-size="27.1" text-anchor="middle" transform="rotate(-90 72.9 390.89)">20</text>
<line x1="96.9" y1="303.63" x2="86.3" y2="303.63" stroke="#333" stroke-width="1.4"/>
<text x="72.9" y="303.63" font-size="27.1" text-anchor="middle" transform="rotate(-90 72.9 303.63)">40</text>
<line x1="96.9" y1="216.37" x2="86.3" y2="216.37" stroke="#333" stroke-width="1.4"/>
<text x="72.9" y="216.37" font-size="27.1" text-anchor="middle" transform="rotate(-90 72.9 216.37)">60</text>
<line x1="96.9" y1="129.11" x2="86.3" y2="129.11" stroke="#333" stroke-width="1.4"/>
<text x="72.9" y="129.11" font-size="27.1" text-anchor="middle" transform="rotate(-90 72.9 129.11)">80</text>
<line x1="96.9" y1="41.85" x2="86.3" y2="41.85" stroke="#333" stroke-width="1.4"/>
<text x="72.9" y="41.85" font-size="27.1" text-anchor="middle" transform="rotate(-90 72.9 41.85)">100</text>
<text x="409.32" y="573.9" font-size="27.1" text-anchor="middle">Time</text>
<text x="31.3" y="257.4" font-size="27.1" text-anchor="middle" transform="rotate(-90 31.3 257.4)">Number of different alleles</text>
<rect x="437.6" y="24.4" width="284.15" height="98" fill="#fff" stroke="#333" stroke-width="1.3"/>
<line x1="444.6" y1="57.2" x2="494.1" y2="57.2" stroke="#a6cee3" stroke-width="3" stroke-linecap="round"/>
<line x1="444.6" y1="90.1" x2="494.1" y2="90.1" stroke="#1f78b4" stroke-width="3" stroke-linecap="round"/>
<text x="518.9" y="66.7" font-size="27.1" text-anchor="start">with learning</text>
<text x="518.9" y="100" font-size="27.1" text-anchor="start">without learning</text>
<text x="113.9" y="456.6" font-size="25.6" text-anchor="start">max escape prob rate = 0.90</text>
<g fill="none" stroke-width="2.8" stroke-linejoin="round" stroke-linecap="round">
<polyline stroke="#a6cee3" points="886.14,41.85 891.93,46.21 897.71,54.94 903.5,68.03 909.29,76.76 915.07,76.76 920.86,85.48 926.64,89.84 932.43,107.3 938.21,111.66 944,116.02 949.78,124.75 955.57,124.75 961.36,129.11 967.14,133.47 972.93,146.56 978.71,155.29 984.5,168.38 990.28,172.74 996.07,172.74 1001.86,177.1 1007.64,185.83 1013.43,190.19 1019.21,194.56 1025,198.92 1030.78,203.28 1036.57,207.64 1042.36,207.64 1048.14,216.37 1053.93,220.73 1059.71,229.46 1065.5,233.82 1071.28,238.19 1077.07,238.19 1082.85,238.19 1088.64,246.91 1094.43,246.91 1100.21,246.91 1106,246.91 1111.78,246.91 1117.57,255.64 1123.35,255.64 1129.14,264.36 1134.93,268.73 1140.71,273.09 1146.5,273.09 1152.28,273.09 1158.07,281.81 1163.85,281.81 1169.64,290.54 1175.42,290.54 1181.21,290.54 1187,290.54 1192.78,290.54 1198.57,290.54 1204.35,299.27 1210.14,299.27 1215.92,299.27 1221.71,303.63 1227.5,307.99 1233.28,307.99 1239.07,312.36 1244.85,312.36 1250.64,312.36 1256.42,316.72 1262.21,316.72 1268,321.08 1273.78,321.08 1279.57,325.44 1285.35,325.44 1291.14,325.44 1296.92,325.44 1302.71,334.17 1308.49,334.17 1314.28,334.17 1320.07,334.17 1325.85,334.17 1331.64,334.17 1337.42,338.53 1343.21,338.53 1348.99,338.53 1354.78,342.9 1360.57,342.9 1366.35,347.26 1372.14,347.26 1377.92,351.62 1383.71,355.99 1389.49,355.99 1395.28,355.99 1401.07,360.35 1406.85,360.35 1412.64,369.07 1418.42,369.07 1424.21,369.07 1429.99,369.07 1435.78,369.07 1441.56,373.44 1447.35,373.44 1453.14,373.44 1458.92,373.44"/>
<polyline stroke="#1f78b4" points="886.14,41.85 891.93,41.85 897.71,41.85 903.5,50.58 909.29,81.12 915.07,89.84 920.86,102.93 926.64,120.39 932.43,142.2 938.21,150.93 944,159.65 949.78,172.74 955.57,190.19 961.36,194.56 967.14,203.28 972.93,212.01 978.71,229.46 984.5,233.82 990.28,242.55 996.07,255.64 1001.86,255.64 1007.64,260 1013.43,264.36 1019.21,264.36 1025,273.09 1030.78,273.09 1036.57,281.81 1042.36,286.18 1048.14,290.54 1053.93,299.27 1059.71,307.99 1065.5,307.99 1071.28,307.99 1077.07,307.99 1082.85,321.08 1088.64,321.08 1094.43,321.08 1100.21,321.08 1106,329.81 1111.78,329.81 1117.57,329.81 1123.35,338.53 1129.14,338.53 1134.93,338.53 1140.71,338.53 1146.5,338.53 1152.28,338.53 1158.07,342.9 1163.85,342.9 1169.64,342.9 1175.42,347.26 1181.21,347.26 1187,347.26 1192.78,351.62 1198.57,351.62 1204.35,355.99 1210.14,355.99 1215.92,355.99 1221.71,360.35 1227.5,360.35 1233.28,360.35 1239.07,369.07 1244.85,369.07 1250.64,369.07 1256.42,369.07 1262.21,369.07 1268,369.07 1273.78,377.8 1279.57,377.8 1285.35,377.8 1291.14,377.8 1296.92,377.8 1302.71,377.8 1308.49,377.8 1314.28,377.8 1320.07,382.16 1325.85,382.16 1331.64,382.16 1337.42,386.53 1343.21,390.89 1348.99,390.89 1354.78,390.89 1360.57,390.89 1366.35,395.25 1372.14,395.25 1377.92,395.25 1383.71,395.25 1389.49,399.61 1395.28,403.98 1401.07,403.98 1406.85,403.98 1412.64,403.98 1418.42,403.98 1424.21,403.98 1429.99,408.34 1435.78,408.34 1441.56,412.7 1447.35,412.7 1453.14,412.7 1458.92,412.7"/>
<polyline stroke="#a6cee3" points="886.14,41.85 891.93,46.21 897.71,54.94 903.5,54.94 909.29,63.67 915.07,63.67 920.86,68.03 926.64,72.39 932.43,85.48 938.21,98.57 944,98.57 949.78,102.93 955.57,107.3 961.36,116.02 967.14,120.39 972.93,124.75 978.71,129.11 984.5,137.84 990.28,150.93 996.07,150.93 1001.86,159.65 1007.64,159.65 1013.43,159.65 1019.21,164.01 1025,172.74 1030.78,177.1 1036.57,185.83 1042.36,190.19 1048.14,203.28 1053.93,203.28 1059.71,203.28 1065.5,203.28 1071.28,207.64 1077.07,212.01 1082.85,212.01 1088.64,212.01 1094.43,212.01 1100.21,212.01 1106,212.01 1111.78,212.01 1117.57,212.01 1123.35,212.01 1129.14,220.73 1134.93,220.73 1140.71,220.73 1146.5,220.73 1152.28,225.1 1158.07,225.1 1163.85,229.46 1169.64,242.55 1175.42,242.55 1181.21,242.55 1187,242.55 1192.78,246.91 1198.57,246.91 1204.35,246.91 1210.14,246.91 1215.92,246.91 1221.71,246.91 1227.5,246.91 1233.28,251.27 1239.07,255.64 1244.85,255.64 1250.64,264.36 1256.42,264.36 1262.21,264.36 1268,268.73 1273.78,277.45 1279.57,277.45 1285.35,277.45 1291.14,286.18 1296.92,286.18 1302.71,286.18 1308.49,286.18 1314.28,286.18 1320.07,286.18 1325.85,290.54 1331.64,294.9 1337.42,294.9 1343.21,294.9 1348.99,294.9 1354.78,294.9 1360.57,294.9 1366.35,299.27 1372.14,299.27 1377.92,307.99 1383.71,307.99 1389.49,312.36 1395.28,312.36 1401.07,312.36 1406.85,312.36 1412.64,316.72 1418.42,325.44 1424.21,334.17 1429.99,334.17 1435.78,334.17 1441.56,334.17 1447.35,338.53 1453.14,338.53 1458.92,342.9"/>
<polyline stroke="#1f78b4" points="886.14,41.85 891.93,46.21 897.71,59.3 903.5,81.12 909.29,111.66 915.07,116.02 920.86,146.56 926.64,159.65 932.43,168.38 938.21,177.1 944,185.83 949.78,203.28 955.57,212.01 961.36,220.73 967.14,238.19 972.93,242.55 978.71,251.27 984.5,260 990.28,273.09 996.07,281.81 1001.86,281.81 1007.64,286.18 1013.43,290.54 1019.21,290.54 1025,294.9 1030.78,294.9 1036.57,303.63 1042.36,307.99 1048.14,307.99 1053.93,316.72 1059.71,316.72 1065.5,316.72 1071.28,316.72 1077.07,325.44 1082.85,329.81 1088.64,334.17 1094.43,334.17 1100.21,342.9 1106,342.9 1111.78,342.9 1117.57,342.9 1123.35,351.62 1129.14,351.62 1134.93,355.99 1140.71,355.99 1146.5,355.99 1152.28,360.35 1158.07,360.35 1163.85,360.35 1169.64,360.35 1175.42,369.07 1181.21,369.07 1187,373.44 1192.78,373.44 1198.57,373.44 1204.35,373.44 1210.14,373.44 1215.92,373.44 1221.71,373.44 1227.5,382.16 1233.28,382.16 1239.07,382.16 1244.85,382.16 1250.64,386.53 1256.42,386.53 1262.21,386.53 1268,390.89 1273.78,390.89 1279.57,390.89 1285.35,395.25 1291.14,395.25 1296.92,395.25 1302.71,395.25 1308.49,395.25 1314.28,395.25 1320.07,395.25 1325.85,395.25 1331.64,395.25 1337.42,408.34 1343.21,408.34 1348.99,408.34 1354.78,408.34 1360.57,408.34 1366.35,408.34 1372.14,408.34 1377.92,408.34 1383.71,408.34 1389.49,408.34 1395.28,412.7 1401.07,412.7 1406.85,412.7 1412.64,412.7 1418.42,412.7 1424.21,412.7 1429.99,417.07 1435.78,417.07 1441.56,417.07 1447.35,417.07 1453.14,417.07 1458.92,417.07"/>
<polyline stroke="#a6cee3" points="886.14,41.85 891.93,46.21 897.71,54.94 903.5,76.76 909.29,76.76 915.07,76.76 920.86,85.48 926.64,94.21 932.43,102.93 938.21,116.02 944,116.02 949.78,124.75 955.57,129.11 961.36,133.47 967.14,133.47 972.93,146.56 978.71,150.93 984.5,168.38 990.28,172.74 996.07,177.1 1001.86,181.47 1007.64,181.47 1013.43,194.56 1019.21,194.56 1025,203.28 1030.78,203.28 1036.57,207.64 1042.36,216.37 1048.14,225.1 1053.93,233.82 1059.71,233.82 1065.5,233.82 1071.28,233.82 1077.07,238.19 1082.85,242.55 1088.64,251.27 1094.43,251.27 1100.21,260 1106,260 1111.78,260 1117.57,268.73 1123.35,268.73 1129.14,273.09 1134.93,273.09 1140.71,273.09 1146.5,273.09 1152.28,273.09 1158.07,277.45 1163.85,286.18 1169.64,286.18 1175.42,286.18 1181.21,286.18 1187,294.9 1192.78,294.9 1198.57,294.9 1204.35,294.9 1210.14,294.9 1215.92,299.27 1221.71,299.27 1227.5,299.27 1233.28,303.63 1239.07,312.36 1244.85,316.72 1250.64,316.72 1256.42,316.72 1262.21,316.72 1268,325.44 1273.78,325.44 1279.57,325.44 1285.35,325.44 1291.14,325.44 1296.92,325.44 1302.71,329.81 1308.49,329.81 1314.28,329.81 1320.07,329.81 1325.85,334.17 1331.64,334.17 1337.42,334.17 1343.21,334.17 1348.99,334.17 1354.78,334.17 1360.57,342.9 1366.35,342.9 1372.14,342.9 1377.92,342.9 1383.71,351.62 1389.49,351.62 1395.28,351.62 1401.07,351.62 1406.85,351.62 1412.64,351.62 1418.42,355.99 1424.21,355.99 1429.99,355.99 1435.78,355.99 1441.56,355.99 1447.35,355.99 1453.14,355.99 1458.92,355.99"/>
<polyline stroke="#1f78b4" points="886.14,41.85 891.93,41.85 897.71,50.58 903.5,68.03 909.29,85.48 915.07,102.93 920.86,124.75 926.64,133.47 932.43,150.93 938.21,159.65 944,172.74 949.78,181.47 955.57,198.92 961.36,207.64 967.14,216.37 972.93,220.73 978.71,233.82 984.5,238.19 990.28,246.91 996.07,251.27 1001.86,268.73 1007.64,268.73 1013.43,268.73 1019.21,281.81 1025,281.81 1030.78,281.81 1036.57,294.9 1042.36,294.9 1048.14,312.36 1053.93,312.36 1059.71,312.36 1065.5,312.36 1071.28,316.72 1077.07,325.44 1082.85,329.81 1088.64,329.81 1094.43,329.81 1100.21,334.17 1106,338.53 1111.78,347.26 1117.57,351.62 1123.35,351.62 1129.14,351.62 1134.93,351.62 1140.71,355.99 1146.5,355.99 1152.28,360.35 1158.07,364.71 1163.85,364.71 1169.64,364.71 1175.42,364.71 1181.21,369.07 1187,369.07 1192.78,373.44 1198.57,377.8 1204.35,377.8 1210.14,377.8 1215.92,377.8 1221.71,377.8 1227.5,377.8 1233.28,382.16 1239.07,382.16 1244.85,382.16 1250.64,382.16 1256.42,382.16 1262.21,382.16 1268,382.16 1273.78,382.16 1279.57,386.53 1285.35,386.53 1291.14,386.53 1296.92,390.89 1302.71,390.89 1308.49,390.89 1314.28,390.89 1320.07,395.25 1325.85,399.61 1331.64,399.61 1337.42,399.61 1343.21,399.61 1348.99,399.61 1354.78,403.98 1360.57,408.34 1366.35,408.34 1372.14,412.7 1377.92,412.7 1383.71,412.7 1389.49,412.7 1395.28,412.7 1401.07,417.07 1406.85,417.07 1412.64,417.07 1418.42,417.07 1424.21,417.07 1429.99,417.07 1435.78,421.43 1441.56,421.43 1447.35,421.43 1453.14,421.43 1458.92,421.43"/>
<polyline stroke="#a6cee3" points="886.14,41.85 891.93,41.85 897.71,46.21 903.5,81.12 909.29,81.12 915.07,81.12 920.86,89.84 926.64,98.57 932.43,107.3 938.21,111.66 944,120.39 949.78,129.11 955.57,133.47 961.36,137.84 967.14,142.2 972.93,146.56 978.71,155.29 984.5,168.38 990.28,172.74 996.07,181.47 1001.86,185.83 1007.64,190.19 1013.43,207.64 1019.21,207.64 1025,207.64 1030.78,212.01 1036.57,216.37 1042.36,220.73 1048.14,225.1 1053.93,225.1 1059.71,225.1 1065.5,238.19 1071.28,238.19 1077.07,238.19 1082.85,242.55 1088.64,242.55 1094.43,246.91 1100.21,246.91 1106,246.91 1111.78,264.36 1117.57,264.36 1123.35,264.36 1129.14,264.36 1134.93,264.36 1140.71,264.36 1146.5,268.73 1152.28,273.09 1158.07,277.45 1163.85,286.18 1169.64,290.54 1175.42,290.54 1181.21,299.27 1187,299.27 1192.78,299.27 1198.57,307.99 1204.35,307.99 1210.14,307.99 1215.92,307.99 1221.71,307.99 1227.5,307.99 1233.28,307.99 1239.07,316.72 1244.85,316.72 1250.64,316.72 1256.42,316.72 1262.21,316.72 1268,316.72 1273.78,325.44 1279.57,329.81 1285.35,329.81 1291.14,329.81 1296.92,329.81 1302.71,329.81 1308.49,329.81 1314.28,334.17 1320.07,334.17 1325.85,334.17 1331.64,334.17 1337.42,338.53 1343.21,347.26 1348.99,347.26 1354.78,351.62 1360.57,351.62 1366.35,351.62 1372.14,351.62 1377.92,364.71 1383.71,364.71 1389.49,364.71 1395.28,364.71 1401.07,364.71 1406.85,373.44 1412.64,373.44 1418.42,373.44 1424.21,373.44 1429.99,373.44 1435.78,373.44 1441.56,373.44 1447.35,373.44 1453.14,377.8 1458.92,382.16"/>
<polyline stroke="#1f78b4" points="886.14,41.85 891.93,41.85 897.71,50.58 903.5,54.94 909.29,76.76 915.07,94.21 920.86,98.57 926.64,116.02 932.43,129.11 938.21,146.56 944,150.93 949.78,172.74 955.57,177.1 961.36,185.83 967.14,194.56 972.93,203.28 978.71,216.37 984.5,220.73 990.28,229.46 996.07,251.27 1001.86,251.27 1007.64,255.64 1013.43,268.73 1019.21,268.73 1025,273.09 1030.78,273.09 1036.57,277.45 1042.36,281.81 1048.14,286.18 1053.93,290.54 1059.71,299.27 1065.5,303.63 1071.28,307.99 1077.07,307.99 1082.85,316.72 1088.64,316.72 1094.43,321.08 1100.21,325.44 1106,334.17 1111.78,334.17 1117.57,334.17 1123.35,334.17 1129.14,338.53 1134.93,338.53 1140.71,338.53 1146.5,338.53 1152.28,342.9 1158.07,342.9 1163.85,347.26 1169.64,351.62 1175.42,351.62 1181.21,351.62 1187,351.62 1192.78,355.99 1198.57,355.99 1204.35,364.71 1210.14,364.71 1215.92,364.71 1221.71,364.71 1227.5,364.71 1233.28,364.71 1239.07,364.71 1244.85,364.71 1250.64,377.8 1256.42,377.8 1262.21,377.8 1268,377.8 1273.78,377.8 1279.57,377.8 1285.35,377.8 1291.14,377.8 1296.92,377.8 1302.71,377.8 1308.49,377.8 1314.28,382.16 1320.07,382.16 1325.85,382.16 1331.64,382.16 1337.42,386.53 1343.21,386.53 1348.99,386.53 1354.78,395.25 1360.57,395.25 1366.35,395.25 1372.14,395.25 1377.92,395.25 1383.71,395.25 1389.49,395.25 1395.28,395.25 1401.07,403.98 1406.85,403.98 1412.64,403.98 1418.42,403.98 1424.21,403.98 1429.99,403.98 1435.78,403.98 1441.56,403.98 1447.35,403.98 1453.14,403.98 1458.92,403.98"/>
<polyline stroke="#a6cee3" points="886.14,41.85 891.93,41.85 897.71,46.21 903.5,50.58 909.29,59.3 915.07,63.67 920.86,68.03 926.64,81.12 932.43,85.48 938.21,94.21 944,111.66 949.78,111.66 955.57,129.11 961.36,129.11 967.14,129.11 972.93,137.84 978.71,150.93 984.5,164.01 990.28,172.74 996.07,172.74 1001.86,177.1 1007.64,177.1 1013.43,185.83 1019.21,190.19 1025,198.92 1030.78,207.64 1036.57,212.01 1042.36,216.37 1048.14,225.1 1053.93,225.1 1059.71,233.82 1065.5,233.82 1071.28,246.91 1077.07,246.91 1082.85,246.91 1088.64,246.91 1094.43,246.91 1100.21,246.91 1106,255.64 1111.78,255.64 1117.57,260 1123.35,260 1129.14,264.36 1134.93,264.36 1140.71,264.36 1146.5,268.73 1152.28,273.09 1158.07,277.45 1163.85,286.18 1169.64,290.54 1175.42,290.54 1181.21,294.9 1187,294.9 1192.78,294.9 1198.57,307.99 1204.35,307.99 1210.14,307.99 1215.92,307.99 1221.71,307.99 1227.5,307.99 1233.28,307.99 1239.07,312.36 1244.85,316.72 1250.64,316.72 1256.42,316.72 1262.21,316.72 1268,316.72 1273.78,321.08 1279.57,334.17 1285.35,334.17 1291.14,334.17 1296.92,338.53 1302.71,338.53 1308.49,338.53 1314.28,338.53 1320.07,342.9 1325.85,342.9 1331.64,342.9 1337.42,342.9 1343.21,342.9 1348.99,342.9 1354.78,347.26 1360.57,347.26 1366.35,347.26 1372.14,351.62 1377.92,355.99 1383.71,364.71 1389.49,364.71 1395.28,364.71 1401.07,364.71 1406.85,364.71 1412.64,369.07 1418.42,369.07 1424.21,369.07 1429.99,369.07 1435.78,373.44 1441.56,377.8 1447.35,377.8 1453.14,382.16 1458.92,382.16"/>
<polyline stroke="#1f78b4" points="886.14,41.85 891.93,50.58 897.71,76.76 903.5,85.48 909.29,111.66 915.07,124.75 920.86,150.93 926.64,159.65 932.43,185.83 938.21,190.19 944,207.64 949.78,212.01 955.57,233.82 961.36,246.91 967.14,255.64 972.93,260 978.71,273.09 984.5,273.09 990.28,286.18 996.07,290.54 1001.86,294.9 1007.64,299.27 1013.43,307.99 1019.21,307.99 1025,307.99 1030.78,312.36 1036.57,312.36 1042.36,325.44 1048.14,325.44 1053.93,325.44 1059.71,334.17 1065.5,338.53 1071.28,342.9 1077.07,342.9 1082.85,347.26 1088.64,347.26 1094.43,355.99 1100.21,360.35 1106,360.35 1111.78,364.71 1117.57,373.44 1123.35,373.44 1129.14,373.44 1134.93,382.16 1140.71,382.16 1146.5,382.16 1152.28,390.89 1158.07,390.89 1163.85,390.89 1169.64,390.89 1175.42,390.89 1181.21,399.61 1187,399.61 1192.78,399.61 1198.57,399.61 1204.35,399.61 1210.14,399.61 1215.92,399.61 1221.71,403.98 1227.5,403.98 1233.28,408.34 1239.07,408.34 1244.85,408.34 1250.64,421.43 1256.42,421.43 1262.21,421.43 1268,421.43 1273.78,421.43 1279.57,421.43 1285.35,421.43 1291.14,421.43 1296.92,421.43 1302.71,421.43 1308.49,421.43 1314.28,421.43 1320.07,421.43 1325.85,421.43 1331.64,421.43 1337.42,421.43 1343.21,425.79 1348.99,425.79 1354.78,425.79 1360.57,425.79 1366.35,425.79 1372.14,425.79 1377.92,425.79 1383.71,430.16 1389.49,434.52 1395.28,434.52 1401.07,443.24 1406.85,443.24 1412.64,443.24 1418.42,443.24 1424.21,443.24 1429.99,443.24 1435.78,443.24 1441.56,443.24 1447.35,443.24 1453.14,443.24 1458.92,443.24"/>
<polyline stroke="#a6cee3" points="886.14,41.85 891.93,50.58 897.71,59.3 903.5,68.03 909.29,81.12 915.07,85.48 920.86,98.57 926.64,102.93 932.43,120.39 938.21,124.75 944,133.47 949.78,133.47 955.57,137.84 961.36,150.93 967.14,159.65 972.93,159.65 978.71,164.01 984.5,194.56 990.28,194.56 996.07,207.64 1001.86,207.64 1007.64,207.64 1013.43,212.01 1019.21,212.01 1025,212.01 1030.78,216.37 1036.57,225.1 1042.36,229.46 1048.14,233.82 1053.93,238.19 1059.71,238.19 1065.5,238.19 1071.28,242.55 1077.07,242.55 1082.85,246.91 1088.64,251.27 1094.43,251.27 1100.21,251.27 1106,251.27 1111.78,255.64 1117.57,255.64 1123.35,264.36 1129.14,264.36 1134.93,264.36 1140.71,264.36 1146.5,273.09 1152.28,273.09 1158.07,281.81 1163.85,286.18 1169.64,286.18 1175.42,294.9 1181.21,294.9 1187,294.9 1192.78,299.27 1198.57,299.27 1204.35,299.27 1210.14,299.27 1215.92,299.27 1221.71,299.27 1227.5,303.63 1233.28,303.63 1239.07,307.99 1244.85,307.99 1250.64,307.99 1256.42,321.08 1262.21,321.08 1268,321.08 1273.78,321.08 1279.57,321.08 1285.35,325.44 1291.14,325.44 1296.92,325.44 1302.71,325.44 1308.49,325.44 1314.28,325.44 1320.07,325.44 1325.85,325.44 1331.64,325.44 1337.42,325.44 1343.21,329.81 1348.99,329.81 1354.78,334.17 1360.57,334.17 1366.35,334.17 1372.14,342.9 1377.92,342.9 1383.71,347.26 1389.49,347.26 1395.28,347.26 1401.07,347.26 1406.85,347.26 1412.64,351.62 1418.42,355.99 1424.21,355.99 1429.99,355.99 1435.78,355.99 1441.56,355.99 1447.35,360.35 1453.14,364.71 1458.92,364.71"/>
<polyline stroke="#1f78b4" points="886.14,41.85 891.93,50.58 897.71,63.67 903.5,76.76 909.29,94.21 915.07,116.02 920.86,137.84 926.64,172.74 932.43,177.1 938.21,185.83 944,198.92 949.78,207.64 955.57,216.37 961.36,225.1 967.14,251.27 972.93,251.27 978.71,251.27 984.5,264.36 990.28,273.09 996.07,286.18 1001.86,286.18 1007.64,290.54 1013.43,290.54 1019.21,294.9 1025,294.9 1030.78,299.27 1036.57,303.63 1042.36,312.36 1048.14,312.36 1053.93,312.36 1059.71,321.08 1065.5,321.08 1071.28,334.17 1077.07,334.17 1082.85,334.17 1088.64,338.53 1094.43,342.9 1100.21,342.9 1106,351.62 1111.78,351.62 1117.57,351.62 1123.35,351.62 1129.14,360.35 1134.93,360.35 1140.71,360.35 1146.5,364.71 1152.28,364.71 1158.07,364.71 1163.85,369.07 1169.64,369.07 1175.42,373.44 1181.21,373.44 1187,382.16 1192.78,382.16 1198.57,382.16 1204.35,386.53 1210.14,386.53 1215.92,386.53 1221.71,390.89 1227.5,390.89 1233.28,390.89 1239.07,390.89 1244.85,395.25 1250.64,395.25 1256.42,395.25 1262.21,395.25 1268,395.25 1273.78,395.25 1279.57,399.61 1285.35,399.61 1291.14,403.98 1296.92,403.98 1302.71,403.98 1308.49,403.98 1314.28,403.98 1320.07,403.98 1325.85,408.34 1331.64,408.34 1337.42,412.7 1343.21,412.7 1348.99,412.7 1354.78,412.7 1360.57,412.7 1366.35,412.7 1372.14,417.07 1377.92,417.07 1383.71,417.07 1389.49,417.07 1395.28,421.43 1401.07,421.43 1406.85,421.43 1412.64,425.79 1418.42,425.79 1424.21,430.16 1429.99,430.16 1435.78,430.16 1441.56,430.16 1447.35,430.16 1453.14,430.16 1458.92,430.16"/>
<polyline stroke="#a6cee3" points="886.14,41.85 891.93,46.21 897.71,46.21 903.5,46.21 909.29,50.58 915.07,63.67 920.86,63.67 926.64,68.03 932.43,81.12 938.21,89.84 944,89.84 949.78,94.21 955.57,107.3 961.36,120.39 967.14,120.39 972.93,124.75 978.71,129.11 984.5,150.93 990.28,150.93 996.07,155.29 1001.86,155.29 1007.64,168.38 1013.43,168.38 1019.21,168.38 1025,172.74 1030.78,185.83 1036.57,190.19 1042.36,194.56 1048.14,198.92 1053.93,207.64 1059.71,212.01 1065.5,212.01 1071.28,229.46 1077.07,229.46 1082.85,229.46 1088.64,229.46 1094.43,229.46 1100.21,229.46 1106,238.19 1111.78,238.19 1117.57,238.19 1123.35,246.91 1129.14,251.27 1134.93,251.27 1140.71,251.27 1146.5,251.27 1152.28,251.27 1158.07,251.27 1163.85,251.27 1169.64,273.09 1175.42,273.09 1181.21,273.09 1187,273.09 1192.78,273.09 1198.57,273.09 1204.35,273.09 1210.14,273.09 1215.92,273.09 1221.71,273.09 1227.5,273.09 1233.28,277.45 1239.07,281.81 1244.85,281.81 1250.64,294.9 1256.42,294.9 1262.21,294.9 1268,294.9 1273.78,303.63 1279.57,303.63 1285.35,307.99 1291.14,307.99 1296.92,307.99 1302.71,307.99 1308.49,307.99 1314.28,307.99 1320.07,307.99 1325.85,307.99 1331.64,316.72 1337.42,316.72 1343.21,316.72 1348.99,316.72 1354.78,316.72 1360.57,316.72 1366.35,316.72 1372.14,334.17 1377.92,334.17 1383.71,334.17 1389.49,334.17 1395.28,334.17 1401.07,334.17 1406.85,338.53 1412.64,338.53 1418.42,342.9 1424.21,342.9 1429.99,342.9 1435.78,342.9 1441.56,347.26 1447.35,351.62 1453.14,351.62 1458.92,351.62"/>
<polyline stroke="#1f78b4" points="886.14,41.85 891.93,41.85 897.71,46.21 903.5,54.94 909.29,72.39 915.07,94.21 920.86,98.57 926.64,111.66 932.43,133.47 938.21,146.56 944,159.65 949.78,172.74 955.57,185.83 961.36,198.92 967.14,198.92 972.93,216.37 978.71,220.73 984.5,229.46 990.28,246.91 996.07,251.27 1001.86,255.64 1007.64,268.73 1013.43,268.73 1019.21,268.73 1025,268.73 1030.78,281.81 1036.57,281.81 1042.36,281.81 1048.14,290.54 1053.93,299.27 1059.71,299.27 1065.5,299.27 1071.28,316.72 1077.07,316.72 1082.85,316.72 1088.64,316.72 1094.43,321.08 1100.21,321.08 1106,329.81 1111.78,329.81 1117.57,342.9 1123.35,342.9 1129.14,342.9 1134.93,342.9 1140.71,342.9 1146.5,347.26 1152.28,347.26 1158.07,347.26 1163.85,347.26 1169.64,351.62 1175.42,360.35 1181.21,360.35 1187,360.35 1192.78,360.35 1198.57,360.35 1204.35,360.35 1210.14,360.35 1215.92,364.71 1221.71,364.71 1227.5,364.71 1233.28,377.8 1239.07,377.8 1244.85,377.8 1250.64,377.8 1256.42,377.8 1262.21,377.8 1268,377.8 1273.78,377.8 1279.57,377.8 1285.35,382.16 1291.14,382.16 1296.92,382.16 1302.71,382.16 1308.49,382.16 1314.28,395.25 1320.07,395.25 1325.85,395.25 1331.64,395.25 1337.42,395.25 1343.21,395.25 1348.99,395.25 1354.78,395.25 1360.57,395.25 1366.35,395.25 1372.14,395.25 1377.92,395.25 1383.71,399.61 1389.49,399.61 1395.28,399.61 1401.07,417.07 1406.85,417.07 1412.64,417.07 1418.42,417.07 1424.21,417.07 1429.99,417.07 1435.78,417.07 1441.56,417.07 1447.35,417.07 1453.14,417.07 1458.92,417.07"/>
<polyline stroke="#a6cee3" points="886.14,41.85 891.93,41.85 897.71,54.94 903.5,59.3 909.29,76.76 915.07,76.76 920.86,81.12 926.64,89.84 932.43,98.57 938.21,107.3 944,107.3 949.78,116.02 955.57,116.02 961.36,124.75 967.14,133.47 972.93,137.84 978.71,150.93 984.5,150.93 990.28,164.01 996.07,172.74 1001.86,172.74 1007.64,185.83 1013.43,185.83 1019.21,185.83 1025,190.19 1030.78,194.56 1036.57,203.28 1042.36,207.64 1048.14,216.37 1053.93,216.37 1059.71,216.37 1065.5,216.37 1071.28,220.73 1077.07,220.73 1082.85,225.1 1088.64,225.1 1094.43,238.19 1100.21,238.19 1106,238.19 1111.78,242.55 1117.57,242.55 1123.35,242.55 1129.14,246.91 1134.93,255.64 1140.71,255.64 1146.5,255.64 1152.28,260 1158.07,264.36 1163.85,264.36 1169.64,264.36 1175.42,268.73 1181.21,268.73 1187,268.73 1192.78,268.73 1198.57,273.09 1204.35,273.09 1210.14,277.45 1215.92,277.45 1221.71,277.45 1227.5,277.45 1233.28,277.45 1239.07,281.81 1244.85,281.81 1250.64,290.54 1256.42,294.9 1262.21,294.9 1268,299.27 1273.78,299.27 1279.57,303.63 1285.35,303.63 1291.14,303.63 1296.92,303.63 1302.71,307.99 1308.49,307.99 1314.28,307.99 1320.07,307.99 1325.85,307.99 1331.64,307.99 1337.42,307.99 1343.21,307.99 1348.99,316.72 1354.78,316.72 1360.57,316.72 1366.35,316.72 1372.14,316.72 1377.92,325.44 1383.71,325.44 1389.49,325.44 1395.28,325.44 1401.07,329.81 1406.85,329.81 1412.64,334.17 1418.42,334.17 1424.21,338.53 1429.99,338.53 1435.78,338.53 1441.56,338.53 1447.35,338.53 1453.14,338.53 1458.92,338.53"/>
<polyline stroke="#1f78b4" points="886.14,41.85 891.93,46.21 897.71,59.3 903.5,81.12 909.29,120.39 915.07,120.39 920.86,137.84 926.64,155.29 932.43,172.74 938.21,181.47 944,190.19 949.78,212.01 955.57,233.82 961.36,233.82 967.14,255.64 972.93,255.64 978.71,260 984.5,264.36 990.28,273.09 996.07,294.9 1001.86,294.9 1007.64,294.9 1013.43,294.9 1019.21,294.9 1025,299.27 1030.78,303.63 1036.57,303.63 1042.36,307.99 1048.14,312.36 1053.93,316.72 1059.71,321.08 1065.5,325.44 1071.28,329.81 1077.07,334.17 1082.85,334.17 1088.64,338.53 1094.43,338.53 1100.21,342.9 1106,351.62 1111.78,351.62 1117.57,351.62 1123.35,355.99 1129.14,355.99 1134.93,364.71 1140.71,364.71 1146.5,364.71 1152.28,364.71 1158.07,364.71 1163.85,364.71 1169.64,369.07 1175.42,369.07 1181.21,369.07 1187,369.07 1192.78,373.44 1198.57,373.44 1204.35,373.44 1210.14,373.44 1215.92,377.8 1221.71,377.8 1227.5,377.8 1233.28,377.8 1239.07,382.16 1244.85,382.16 1250.64,386.53 1256.42,386.53 1262.21,390.89 1268,390.89 1273.78,390.89 1279.57,390.89 1285.35,390.89 1291.14,399.61 1296.92,399.61 1302.71,399.61 1308.49,399.61 1314.28,403.98 1320.07,403.98 1325.85,403.98 1331.64,403.98 1337.42,403.98 1343.21,403.98 1348.99,408.34 1354.78,408.34 1360.57,408.34 1366.35,408.34 1372.14,408.34 1377.92,417.07 1383.71,417.07 1389.49,417.07 1395.28,421.43 1401.07,421.43 1406.85,421.43 1412.64,421.43 1418.42,421.43 1424.21,421.43 1429.99,421.43 1435.78,425.79 1441.56,425.79 1447.35,425.79 1453.14,425.79 1458.92,425.79"/>
<polyline stroke="#a6cee3" points="886.14,41.85 891.93,41.85 897.71,41.85 903.5,50.58 909.29,59.3 915.07,63.67 920.86,68.03 926.64,72.39 932.43,81.12 938.21,85.48 944,94.21 949.78,107.3 955.57,107.3 961.36,116.02 967.14,120.39 972.93,129.11 978.71,142.2 984.5,142.2 990.28,150.93 996.07,164.01 1001.86,164.01 1007.64,168.38 1013.43,168.38 1019.21,172.74 1025,172.74 1030.78,181.47 1036.57,198.92 1042.36,198.92 1048.14,203.28 1053.93,207.64 1059.71,225.1 1065.5,225.1 1071.28,225.1 1077.07,225.1 1082.85,225.1 1088.64,225.1 1094.43,225.1 1100.21,233.82 1106,233.82 1111.78,238.19 1117.57,238.19 1123.35,238.19 1129.14,238.19 1134.93,238.19 1140.71,238.19 1146.5,242.55 1152.28,242.55 1158.07,242.55 1163.85,251.27 1169.64,260 1175.42,260 1181.21,260 1187,260 1192.78,260 1198.57,264.36 1204.35,264.36 1210.14,286.18 1215.92,286.18 1221.71,286.18 1227.5,286.18 1233.28,286.18 1239.07,286.18 1244.85,286.18 1250.64,290.54 1256.42,290.54 1262.21,290.54 1268,294.9 1273.78,294.9 1279.57,307.99 1285.35,307.99 1291.14,307.99 1296.92,307.99 1302.71,307.99 1308.49,307.99 1314.28,307.99 1320.07,312.36 1325.85,321.08 1331.64,321.08 1337.42,321.08 1343.21,321.08 1348.99,321.08 1354.78,321.08 1360.57,321.08 1366.35,325.44 1372.14,325.44 1377.92,325.44 1383.71,329.81 1389.49,338.53 1395.28,338.53 1401.07,338.53 1406.85,338.53 1412.64,347.26 1418.42,347.26 1424.21,347.26 1429.99,347.26 1435.78,347.26 1441.56,351.62 1447.35,351.62 1453.14,351.62 1458.92,351.62"/>
<polyline stroke="#1f78b4" points="886.14,41.85 891.93,41.85 897.71,54.94 903.5,63.67 909.29,94.21 915.07,111.66 920.86,120.39 926.64,142.2 932.43,159.65 938.21,172.74 944,185.83 949.78,194.56 955.57,207.64 961.36,220.73 967.14,225.1 972.93,233.82 978.71,242.55 984.5,255.64 990.28,260 996.07,273.09 1001.86,273.09 1007.64,277.45 1013.43,277.45 1019.21,290.54 1025,290.54 1030.78,294.9 1036.57,299.27 1042.36,303.63 1048.14,307.99 1053.93,316.72 1059.71,316.72 1065.5,321.08 1071.28,321.08 1077.07,329.81 1082.85,329.81 1088.64,329.81 1094.43,342.9 1100.21,342.9 1106,342.9 1111.78,347.26 1117.57,347.26 1123.35,351.62 1129.14,351.62 1134.93,360.35 1140.71,364.71 1146.5,364.71 1152.28,369.07 1158.07,369.07 1163.85,369.07 1169.64,369.07 1175.42,369.07 1181.21,382.16 1187,382.16 1192.78,382.16 1198.57,382.16 1204.35,382.16 1210.14,382.16 1215.92,382.16 1221.71,382.16 1227.5,382.16 1233.28,382.16 1239.07,382.16 1244.85,382.16 1250.64,386.53 1256.42,386.53 1262.21,386.53 1268,386.53 1273.78,386.53 1279.57,386.53 1285.35,395.25 1291.14,395.25 1296.92,395.25 1302.71,395.25 1308.49,395.25 1314.28,395.25 1320.07,395.25 1325.85,408.34 1331.64,408.34 1337.42,408.34 1343.21,408.34 1348.99,408.34 1354.78,408.34 1360.57,408.34 1366.35,408.34 1372.14,408.34 1377.92,412.7 1383.71,412.7 1389.49,412.7 1395.28,412.7 1401.07,412.7 1406.85,417.07 1412.64,417.07 1418.42,417.07 1424.21,417.07 1429.99,417.07 1435.78,417.07 1441.56,417.07 1447.35,417.07 1453.14,421.43 1458.92,421.43"/>
<polyline stroke="#a6cee3" points="886.14,41.85 891.93,41.85 897.71,46.21 903.5,50.58 909.29,63.67 915.07,68.03 920.86,72.39 926.64,76.76 932.43,98.57 938.21,98.57 944,98.57 949.78,107.3 955.57,107.3 961.36,120.39 967.14,120.39 972.93,124.75 978.71,150.93 984.5,150.93 990.28,155.29 996.07,164.01 1001.86,177.1 1007.64,177.1 1013.43,190.19 1019.21,190.19 1025,190.19 1030.78,198.92 1036.57,198.92 1042.36,207.64 1048.14,207.64 1053.93,207.64 1059.71,212.01 1065.5,216.37 1071.28,216.37 1077.07,233.82 1082.85,233.82 1088.64,233.82 1094.43,238.19 1100.21,242.55 1106,242.55 1111.78,246.91 1117.57,251.27 1123.35,251.27 1129.14,251.27 1134.93,264.36 1140.71,264.36 1146.5,264.36 1152.28,264.36 1158.07,273.09 1163.85,273.09 1169.64,281.81 1175.42,281.81 1181.21,281.81 1187,281.81 1192.78,281.81 1198.57,281.81 1204.35,281.81 1210.14,281.81 1215.92,281.81 1221.71,281.81 1227.5,281.81 1233.28,281.81 1239.07,286.18 1244.85,286.18 1250.64,286.18 1256.42,290.54 1262.21,294.9 1268,307.99 1273.78,307.99 1279.57,307.99 1285.35,307.99 1291.14,307.99 1296.92,312.36 1302.71,312.36 1308.49,312.36 1314.28,316.72 1320.07,316.72 1325.85,316.72 1331.64,316.72 1337.42,321.08 1343.21,321.08 1348.99,321.08 1354.78,321.08 1360.57,321.08 1366.35,321.08 1372.14,329.81 1377.92,329.81 1383.71,329.81 1389.49,329.81 1395.28,329.81 1401.07,329.81 1406.85,329.81 1412.64,338.53 1418.42,338.53 1424.21,338.53 1429.99,338.53 1435.78,338.53 1441.56,338.53 1447.35,338.53 1453.14,338.53 1458.92,342.9"/>
<polyline stroke="#1f78b4" points="886.14,41.85 891.93,50.58 897.71,68.03 903.5,76.76 909.29,94.21 915.07,111.66 920.86,142.2 926.64,164.01 932.43,177.1 938.21,181.47 944,194.56 949.78,203.28 955.57,216.37 961.36,229.46 967.14,246.91 972.93,251.27 978.71,260 984.5,268.73 990.28,277.45 996.07,286.18 1001.86,286.18 1007.64,299.27 1013.43,299.27 1019.21,299.27 1025,303.63 1030.78,303.63 1036.57,312.36 1042.36,312.36 1048.14,321.08 1053.93,325.44 1059.71,325.44 1065.5,325.44 1071.28,329.81 1077.07,342.9 1082.85,342.9 1088.64,355.99 1094.43,355.99 1100.21,355.99 1106,355.99 1111.78,360.35 1117.57,364.71 1123.35,364.71 1129.14,369.07 1134.93,373.44 1140.71,373.44 1146.5,377.8 1152.28,377.8 1158.07,382.16 1163.85,382.16 1169.64,386.53 1175.42,390.89 1181.21,390.89 1187,390.89 1192.78,395.25 1198.57,395.25 1204.35,395.25 1210.14,395.25 1215.92,399.61 1221.71,403.98 1227.5,403.98 1233.28,403.98 1239.07,408.34 1244.85,408.34 1250.64,408.34 1256.42,408.34 1262.21,408.34 1268,412.7 1273.78,412.7 1279.57,421.43 1285.35,421.43 1291.14,421.43 1296.92,421.43 1302.71,421.43 1308.49,421.43 1314.28,421.43 1320.07,425.79 1325.85,425.79 1331.64,425.79 1337.42,425.79 1343.21,425.79 1348.99,430.16 1354.78,430.16 1360.57,430.16 1366.35,430.16 1372.14,430.16 1377.92,430.16 1383.71,430.16 1389.49,434.52 1395.28,434.52 1401.07,438.88 1406.85,438.88 1412.64,438.88 1418.42,438.88 1424.21,438.88 1429.99,438.88 1435.78,438.88 1441.56,438.88 1447.35,438.88 1453.14,438.88 1458.92,438.88"/>
<polyline stroke="#a6cee3" points="886.14,41.85 891.93,46.21 897.71,50.58 903.5,59.3 909.29,81.12 915.07,85.48 920.86,89.84 926.64,107.3 932.43,124.75 938.21,142.2 944,142.2 949.78,142.2 955.57,146.56 961.36,146.56 967.14,150.93 972.93,155.29 978.71,172.74 984.5,177.1 990.28,190.19 996.07,198.92 1001.86,198.92 1007.64,203.28 1013.43,203.28 1019.21,212.01 1025,216.37 1030.78,216.37 1036.57,216.37 1042.36,220.73 1048.14,229.46 1053.93,233.82 1059.71,238.19 1065.5,242.55 1071.28,242.55 1077.07,251.27 1082.85,255.64 1088.64,255.64 1094.43,260 1100.21,260 1106,260 1111.78,260 1117.57,264.36 1123.35,264.36 1129.14,268.73 1134.93,277.45 1140.71,277.45 1146.5,277.45 1152.28,281.81 1158.07,281.81 1163.85,286.18 1169.64,286.18 1175.42,286.18 1181.21,286.18 1187,290.54 1192.78,294.9 1198.57,299.27 1204.35,299.27 1210.14,299.27 1215.92,299.27 1221.71,321.08 1227.5,321.08 1233.28,321.08 1239.07,321.08 1244.85,321.08 1250.64,321.08 1256.42,321.08 1262.21,321.08 1268,321.08 1273.78,325.44 1279.57,334.17 1285.35,334.17 1291.14,334.17 1296.92,334.17 1302.71,338.53 1308.49,338.53 1314.28,338.53 1320.07,338.53 1325.85,338.53 1331.64,338.53 1337.42,342.9 1343.21,342.9 1348.99,342.9 1354.78,342.9 1360.57,342.9 1366.35,342.9 1372.14,342.9 1377.92,342.9 1383.71,351.62 1389.49,351.62 1395.28,351.62 1401.07,355.99 1406.85,355.99 1412.64,355.99 1418.42,355.99 1424.21,360.35 1429.99,360.35 1435.78,364.71 1441.56,364.71 1447.35,364.71 1453.14,364.71 1458.92,369.07"/>
<polyline stroke="#1f78b4" points="886.14,41.85 891.93,46.21 897.71,46.21 903.5,59.3 909.29,89.84 915.07,94.21 920.86,102.93 926.64,124.75 932.43,142.2 938.21,150.93 944,159.65 949.78,172.74 955.57,185.83 961.36,194.56 967.14,212.01 972.93,216.37 978.71,225.1 984.5,238.19 990.28,251.27 996.07,255.64 1001.86,260 1007.64,268.73 1013.43,273.09 1019.21,277.45 1025,277.45 1030.78,286.18 1036.57,294.9 1042.36,294.9 1048.14,303.63 1053.93,303.63 1059.71,312.36 1065.5,312.36 1071.28,312.36 1077.07,316.72 1082.85,321.08 1088.64,321.08 1094.43,334.17 1100.21,334.17 1106,334.17 1111.78,338.53 1117.57,347.26 1123.35,347.26 1129.14,347.26 1134.93,347.26 1140.71,347.26 1146.5,347.26 1152.28,347.26 1158.07,355.99 1163.85,355.99 1169.64,355.99 1175.42,355.99 1181.21,360.35 1187,364.71 1192.78,364.71 1198.57,364.71 1204.35,364.71 1210.14,369.07 1215.92,369.07 1221.71,369.07 1227.5,369.07 1233.28,369.07 1239.07,369.07 1244.85,373.44 1250.64,373.44 1256.42,373.44 1262.21,377.8 1268,377.8 1273.78,377.8 1279.57,377.8 1285.35,377.8 1291.14,382.16 1296.92,382.16 1302.71,382.16 1308.49,382.16 1314.28,386.53 1320.07,390.89 1325.85,390.89 1331.64,390.89 1337.42,390.89 1343.21,390.89 1348.99,390.89 1354.78,390.89 1360.57,390.89 1366.35,390.89 1372.14,395.25 1377.92,395.25 1383.71,395.25 1389.49,395.25 1395.28,399.61 1401.07,403.98 1406.85,403.98 1412.64,403.98 1418.42,403.98 1424.21,403.98 1429.99,403.98 1435.78,403.98 1441.56,403.98 1447.35,403.98 1453.14,403.98 1458.92,403.98"/>
<polyline stroke="#a6cee3" points="886.14,41.85 891.93,54.94 897.71,54.94 903.5,63.67 909.29,81.12 915.07,94.21 920.86,98.57 926.64,102.93 932.43,111.66 938.21,129.11 944,146.56 949.78,146.56 955.57,146.56 961.36,155.29 967.14,159.65 972.93,168.38 978.71,172.74 984.5,177.1 990.28,194.56 996.07,198.92 1001.86,203.28 1007.64,212.01 1013.43,212.01 1019.21,216.37 1025,225.1 1030.78,229.46 1036.57,229.46 1042.36,233.82 1048.14,242.55 1053.93,242.55 1059.71,246.91 1065.5,246.91 1071.28,251.27 1077.07,251.27 1082.85,251.27 1088.64,255.64 1094.43,260 1100.21,268.73 1106,268.73 1111.78,273.09 1117.57,273.09 1123.35,277.45 1129.14,277.45 1134.93,281.81 1140.71,281.81 1146.5,281.81 1152.28,286.18 1158.07,286.18 1163.85,290.54 1169.64,290.54 1175.42,294.9 1181.21,294.9 1187,299.27 1192.78,299.27 1198.57,299.27 1204.35,303.63 1210.14,303.63 1215.92,307.99 1221.71,307.99 1227.5,307.99 1233.28,312.36 1239.07,312.36 1244.85,316.72 1250.64,325.44 1256.42,325.44 1262.21,329.81 1268,334.17 1273.78,334.17 1279.57,334.17 1285.35,334.17 1291.14,338.53 1296.92,338.53 1302.71,338.53 1308.49,338.53 1314.28,338.53 1320.07,338.53 1325.85,338.53 1331.64,338.53 1337.42,338.53 1343.21,342.9 1348.99,342.9 1354.78,342.9 1360.57,347.26 1366.35,347.26 1372.14,351.62 1377.92,364.71 1383.71,364.71 1389.49,364.71 1395.28,364.71 1401.07,364.71 1406.85,364.71 1412.64,364.71 1418.42,364.71 1424.21,364.71 1429.99,364.71 1435.78,364.71 1441.56,364.71 1447.35,373.44 1453.14,373.44 1458.92,373.44"/>
<polyline stroke="#1f78b4" points="886.14,41.85 891.93,46.21 897.71,54.94 903.5,72.39 909.29,85.48 915.07,107.3 920.86,129.11 926.64,155.29 932.43,164.01 938.21,168.38 944,185.83 949.78,203.28 955.57,203.28 961.36,233.82 967.14,233.82 972.93,238.19 978.71,246.91 984.5,255.64 990.28,260 996.07,273.09 1001.86,273.09 1007.64,281.81 1013.43,281.81 1019.21,286.18 1025,286.18 1030.78,290.54 1036.57,303.63 1042.36,303.63 1048.14,303.63 1053.93,303.63 1059.71,312.36 1065.5,312.36 1071.28,316.72 1077.07,316.72 1082.85,329.81 1088.64,329.81 1094.43,334.17 1100.21,342.9 1106,342.9 1111.78,342.9 1117.57,342.9 1123.35,342.9 1129.14,347.26 1134.93,360.35 1140.71,360.35 1146.5,360.35 1152.28,360.35 1158.07,364.71 1163.85,364.71 1169.64,364.71 1175.42,364.71 1181.21,364.71 1187,364.71 1192.78,369.07 1198.57,369.07 1204.35,369.07 1210.14,369.07 1215.92,369.07 1221.71,369.07 1227.5,373.44 1233.28,382.16 1239.07,382.16 1244.85,382.16 1250.64,382.16 1256.42,382.16 1262.21,386.53 1268,386.53 1273.78,386.53 1279.57,390.89 1285.35,390.89 1291.14,390.89 1296.92,390.89 1302.71,395.25 1308.49,395.25 1314.28,395.25 1320.07,395.25 1325.85,399.61 1331.64,399.61 1337.42,399.61 1343.21,399.61 1348.99,399.61 1354.78,403.98 1360.57,412.7 1366.35,412.7 1372.14,412.7 1377.92,417.07 1383.71,417.07 1389.49,421.43 1395.28,421.43 1401.07,421.43 1406.85,421.43 1412.64,425.79 1418.42,425.79 1424.21,425.79 1429.99,425.79 1435.78,425.79 1441.56,425.79 1447.35,425.79 1453.14,425.79 1458.92,430.16"/>
<polyline stroke="#a6cee3" points="886.14,41.85 891.93,50.58 897.71,59.3 903.5,59.3 909.29,72.39 915.07,76.76 920.86,89.84 926.64,94.21 932.43,98.57 938.21,111.66 944,116.02 949.78,124.75 955.57,124.75 961.36,124.75 967.14,142.2 972.93,142.2 978.71,150.93 984.5,155.29 990.28,164.01 996.07,181.47 1001.86,181.47 1007.64,190.19 1013.43,190.19 1019.21,190.19 1025,198.92 1030.78,207.64 1036.57,212.01 1042.36,216.37 1048.14,216.37 1053.93,220.73 1059.71,220.73 1065.5,220.73 1071.28,225.1 1077.07,229.46 1082.85,233.82 1088.64,238.19 1094.43,242.55 1100.21,251.27 1106,251.27 1111.78,255.64 1117.57,264.36 1123.35,264.36 1129.14,264.36 1134.93,273.09 1140.71,273.09 1146.5,273.09 1152.28,277.45 1158.07,277.45 1163.85,281.81 1169.64,281.81 1175.42,286.18 1181.21,286.18 1187,294.9 1192.78,303.63 1198.57,303.63 1204.35,303.63 1210.14,303.63 1215.92,303.63 1221.71,303.63 1227.5,303.63 1233.28,307.99 1239.07,307.99 1244.85,312.36 1250.64,312.36 1256.42,312.36 1262.21,316.72 1268,316.72 1273.78,329.81 1279.57,329.81 1285.35,329.81 1291.14,329.81 1296.92,329.81 1302.71,334.17 1308.49,338.53 1314.28,338.53 1320.07,338.53 1325.85,342.9 1331.64,351.62 1337.42,351.62 1343.21,351.62 1348.99,351.62 1354.78,351.62 1360.57,351.62 1366.35,351.62 1372.14,360.35 1377.92,360.35 1383.71,360.35 1389.49,364.71 1395.28,364.71 1401.07,364.71 1406.85,369.07 1412.64,369.07 1418.42,369.07 1424.21,373.44 1429.99,377.8 1435.78,377.8 1441.56,377.8 1447.35,382.16 1453.14,382.16 1458.92,382.16"/>
<polyline stroke="#1f78b4" points="886.14,41.85 891.93,41.85 897.71,59.3 903.5,63.67 909.29,94.21 915.07,98.57 920.86,120.39 926.64,124.75 932.43,146.56 938.21,155.29 944,181.47 949.78,181.47 955.57,185.83 961.36,194.56 967.14,212.01 972.93,212.01 978.71,216.37 984.5,225.1 990.28,242.55 996.07,255.64 1001.86,255.64 1007.64,264.36 1013.43,273.09 1019.21,273.09 1025,281.81 1030.78,281.81 1036.57,281.81 1042.36,294.9 1048.14,294.9 1053.93,299.27 1059.71,303.63 1065.5,307.99 1071.28,307.99 1077.07,312.36 1082.85,312.36 1088.64,321.08 1094.43,321.08 1100.21,329.81 1106,329.81 1111.78,347.26 1117.57,347.26 1123.35,347.26 1129.14,347.26 1134.93,347.26 1140.71,347.26 1146.5,347.26 1152.28,347.26 1158.07,351.62 1163.85,351.62 1169.64,355.99 1175.42,355.99 1181.21,355.99 1187,360.35 1192.78,364.71 1198.57,364.71 1204.35,364.71 1210.14,369.07 1215.92,369.07 1221.71,377.8 1227.5,377.8 1233.28,377.8 1239.07,377.8 1244.85,377.8 1250.64,377.8 1256.42,386.53 1262.21,386.53 1268,386.53 1273.78,386.53 1279.57,386.53 1285.35,386.53 1291.14,386.53 1296.92,386.53 1302.71,386.53 1308.49,395.25 1314.28,395.25 1320.07,395.25 1325.85,395.25 1331.64,399.61 1337.42,399.61 1343.21,399.61 1348.99,403.98 1354.78,403.98 1360.57,403.98 1366.35,403.98 1372.14,408.34 1377.92,417.07 1383.71,417.07 1389.49,417.07 1395.28,417.07 1401.07,417.07 1406.85,417.07 1412.64,417.07 1418.42,421.43 1424.21,421.43 1429.99,425.79 1435.78,425.79 1441.56,425.79 1447.35,425.79 1453.14,425.79 1458.92,430.16"/>
<polyline stroke="#a6cee3" points="886.14,41.85 891.93,41.85 897.71,46.21 903.5,46.21 909.29,50.58 915.07,54.94 920.86,54.94 926.64,68.03 932.43,72.39 938.21,72.39 944,76.76 949.78,81.12 955.57,89.84 961.36,98.57 967.14,107.3 972.93,111.66 978.71,116.02 984.5,129.11 990.28,129.11 996.07,133.47 1001.86,137.84 1007.64,142.2 1013.43,150.93 1019.21,150.93 1025,155.29 1030.78,168.38 1036.57,177.1 1042.36,181.47 1048.14,203.28 1053.93,203.28 1059.71,203.28 1065.5,203.28 1071.28,203.28 1077.07,207.64 1082.85,207.64 1088.64,212.01 1094.43,212.01 1100.21,212.01 1106,212.01 1111.78,212.01 1117.57,212.01 1123.35,212.01 1129.14,212.01 1134.93,216.37 1140.71,216.37 1146.5,220.73 1152.28,229.46 1158.07,229.46 1163.85,229.46 1169.64,233.82 1175.42,238.19 1181.21,238.19 1187,238.19 1192.78,238.19 1198.57,251.27 1204.35,251.27 1210.14,251.27 1215.92,255.64 1221.71,255.64 1227.5,264.36 1233.28,264.36 1239.07,264.36 1244.85,264.36 1250.64,264.36 1256.42,273.09 1262.21,273.09 1268,273.09 1273.78,277.45 1279.57,277.45 1285.35,286.18 1291.14,290.54 1296.92,290.54 1302.71,290.54 1308.49,290.54 1314.28,290.54 1320.07,290.54 1325.85,290.54 1331.64,294.9 1337.42,294.9 1343.21,294.9 1348.99,299.27 1354.78,307.99 1360.57,307.99 1366.35,307.99 1372.14,307.99 1377.92,307.99 1383.71,307.99 1389.49,307.99 1395.28,316.72 1401.07,316.72 1406.85,316.72 1412.64,316.72 1418.42,325.44 1424.21,325.44 1429.99,325.44 1435.78,325.44 1441.56,325.44 1447.35,325.44 1453.14,325.44 1458.92,329.81"/>
<polyline stroke="#1f78b4" points="886.14,41.85 891.93,50.58 897.71,63.67 903.5,76.76 909.29,111.66 915.07,129.11 920.86,150.93 926.64,168.38 932.43,190.19 938.21,194.56 944,212.01 949.78,216.37 955.57,229.46 961.36,242.55 967.14,255.64 972.93,260 978.71,273.09 984.5,281.81 990.28,281.81 996.07,299.27 1001.86,299.27 1007.64,299.27 1013.43,299.27 1019.21,312.36 1025,312.36 1030.78,312.36 1036.57,316.72 1042.36,325.44 1048.14,325.44 1053.93,329.81 1059.71,329.81 1065.5,334.17 1071.28,342.9 1077.07,351.62 1082.85,351.62 1088.64,351.62 1094.43,355.99 1100.21,355.99 1106,355.99 1111.78,360.35 1117.57,364.71 1123.35,373.44 1129.14,373.44 1134.93,373.44 1140.71,373.44 1146.5,373.44 1152.28,382.16 1158.07,382.16 1163.85,382.16 1169.64,390.89 1175.42,390.89 1181.21,390.89 1187,390.89 1192.78,390.89 1198.57,390.89 1204.35,390.89 1210.14,390.89 1215.92,390.89 1221.71,395.25 1227.5,395.25 1233.28,395.25 1239.07,395.25 1244.85,403.98 1250.64,403.98 1256.42,403.98 1262.21,403.98 1268,403.98 1273.78,412.7 1279.57,412.7 1285.35,412.7 1291.14,412.7 1296.92,412.7 1302.71,412.7 1308.49,417.07 1314.28,417.07 1320.07,417.07 1325.85,417.07 1331.64,417.07 1337.42,417.07 1343.21,421.43 1348.99,421.43 1354.78,425.79 1360.57,425.79 1366.35,425.79 1372.14,425.79 1377.92,425.79 1383.71,430.16 1389.49,430.16 1395.28,430.16 1401.07,434.52 1406.85,438.88 1412.64,438.88 1418.42,438.88 1424.21,438.88 1429.99,438.88 1435.78,438.88 1441.56,438.88 1447.35,438.88 1453.14,438.88 1458.92,438.88"/>
<polyline stroke="#a6cee3" points="886.14,41.85 891.93,46.21 897.71,46.21 903.5,54.94 909.29,59.3 915.07,63.67 920.86,68.03 926.64,76.76 932.43,89.84 938.21,89.84 944,94.21 949.78,98.57 955.57,102.93 961.36,116.02 967.14,116.02 972.93,129.11 978.71,129.11 984.5,146.56 990.28,150.93 996.07,159.65 1001.86,168.38 1007.64,168.38 1013.43,172.74 1019.21,172.74 1025,185.83 1030.78,185.83 1036.57,185.83 1042.36,203.28 1048.14,203.28 1053.93,207.64 1059.71,216.37 1065.5,216.37 1071.28,220.73 1077.07,220.73 1082.85,220.73 1088.64,229.46 1094.43,229.46 1100.21,229.46 1106,229.46 1111.78,242.55 1117.57,242.55 1123.35,242.55 1129.14,242.55 1134.93,242.55 1140.71,242.55 1146.5,246.91 1152.28,246.91 1158.07,255.64 1163.85,260 1169.64,260 1175.42,264.36 1181.21,264.36 1187,264.36 1192.78,264.36 1198.57,264.36 1204.35,273.09 1210.14,273.09 1215.92,273.09 1221.71,273.09 1227.5,273.09 1233.28,273.09 1239.07,273.09 1244.85,273.09 1250.64,277.45 1256.42,286.18 1262.21,286.18 1268,290.54 1273.78,294.9 1279.57,294.9 1285.35,303.63 1291.14,303.63 1296.92,303.63 1302.71,303.63 1308.49,307.99 1314.28,312.36 1320.07,312.36 1325.85,316.72 1331.64,316.72 1337.42,316.72 1343.21,321.08 1348.99,325.44 1354.78,329.81 1360.57,329.81 1366.35,329.81 1372.14,329.81 1377.92,334.17 1383.71,338.53 1389.49,338.53 1395.28,342.9 1401.07,342.9 1406.85,342.9 1412.64,347.26 1418.42,347.26 1424.21,347.26 1429.99,347.26 1435.78,347.26 1441.56,355.99 1447.35,355.99 1453.14,355.99 1458.92,355.99"/>
<polyline stroke="#1f78b4" points="886.14,41.85 891.93,50.58 897.71,59.3 903.5,89.84 909.29,124.75 915.07,133.47 920.86,150.93 926.64,159.65 932.43,203.28 938.21,203.28 944,212.01 949.78,233.82 955.57,242.55 961.36,242.55 967.14,264.36 972.93,264.36 978.71,273.09 984.5,273.09 990.28,286.18 996.07,290.54 1001.86,299.27 1007.64,299.27 1013.43,299.27 1019.21,299.27 1025,312.36 1030.78,312.36 1036.57,316.72 1042.36,316.72 1048.14,325.44 1053.93,325.44 1059.71,329.81 1065.5,329.81 1071.28,347.26 1077.07,347.26 1082.85,347.26 1088.64,355.99 1094.43,355.99 1100.21,360.35 1106,360.35 1111.78,364.71 1117.57,364.71 1123.35,369.07 1129.14,373.44 1134.93,373.44 1140.71,373.44 1146.5,386.53 1152.28,386.53 1158.07,386.53 1163.85,386.53 1169.64,390.89 1175.42,390.89 1181.21,390.89 1187,390.89 1192.78,390.89 1198.57,399.61 1204.35,399.61 1210.14,399.61 1215.92,399.61 1221.71,399.61 1227.5,412.7 1233.28,412.7 1239.07,412.7 1244.85,412.7 1250.64,412.7 1256.42,412.7 1262.21,412.7 1268,412.7 1273.78,412.7 1279.57,412.7 1285.35,412.7 1291.14,412.7 1296.92,412.7 1302.71,417.07 1308.49,417.07 1314.28,417.07 1320.07,417.07 1325.85,417.07 1331.64,417.07 1337.42,417.07 1343.21,417.07 1348.99,434.52 1354.78,434.52 1360.57,434.52 1366.35,434.52 1372.14,434.52 1377.92,434.52 1383.71,434.52 1389.49,434.52 1395.28,434.52 1401.07,434.52 1406.85,434.52 1412.64,434.52 1418.42,434.52 1424.21,434.52 1429.99,434.52 1435.78,434.52 1441.56,434.52 1447.35,434.52 1453.14,434.52 1458.92,434.52"/>
<polyline stroke="#a6cee3" points="886.14,41.85 891.93,41.85 897.71,46.21 903.5,46.21 909.29,46.21 915.07,50.58 920.86,63.67 926.64,63.67 932.43,72.39 938.21,85.48 944,85.48 949.78,89.84 955.57,94.21 961.36,111.66 967.14,111.66 972.93,116.02 978.71,129.11 984.5,133.47 990.28,142.2 996.07,146.56 1001.86,146.56 1007.64,146.56 1013.43,150.93 1019.21,159.65 1025,164.01 1030.78,164.01 1036.57,168.38 1042.36,177.1 1048.14,185.83 1053.93,190.19 1059.71,194.56 1065.5,194.56 1071.28,198.92 1077.07,198.92 1082.85,207.64 1088.64,207.64 1094.43,207.64 1100.21,207.64 1106,207.64 1111.78,207.64 1117.57,212.01 1123.35,212.01 1129.14,212.01 1134.93,216.37 1140.71,220.73 1146.5,225.1 1152.28,229.46 1158.07,229.46 1163.85,238.19 1169.64,238.19 1175.42,238.19 1181.21,238.19 1187,246.91 1192.78,246.91 1198.57,246.91 1204.35,246.91 1210.14,246.91 1215.92,246.91 1221.71,251.27 1227.5,251.27 1233.28,251.27 1239.07,251.27 1244.85,264.36 1250.64,264.36 1256.42,273.09 1262.21,277.45 1268,277.45 1273.78,281.81 1279.57,281.81 1285.35,290.54 1291.14,290.54 1296.92,294.9 1302.71,294.9 1308.49,299.27 1314.28,299.27 1320.07,299.27 1325.85,299.27 1331.64,299.27 1337.42,299.27 1343.21,299.27 1348.99,307.99 1354.78,312.36 1360.57,312.36 1366.35,312.36 1372.14,312.36 1377.92,316.72 1383.71,316.72 1389.49,321.08 1395.28,321.08 1401.07,321.08 1406.85,329.81 1412.64,329.81 1418.42,329.81 1424.21,329.81 1429.99,329.81 1435.78,338.53 1441.56,338.53 1447.35,338.53 1453.14,338.53 1458.92,338.53"/>
<polyline stroke="#1f78b4" points="886.14,41.85 891.93,46.21 897.71,54.94 903.5,63.67 909.29,85.48 915.07,94.21 920.86,111.66 926.64,137.84 932.43,159.65 938.21,177.1 944,181.47 949.78,185.83 955.57,198.92 961.36,207.64 967.14,212.01 972.93,220.73 978.71,229.46 984.5,238.19 990.28,246.91 996.07,264.36 1001.86,264.36 1007.64,264.36 1013.43,268.73 1019.21,268.73 1025,277.45 1030.78,277.45 1036.57,290.54 1042.36,290.54 1048.14,299.27 1053.93,299.27 1059.71,299.27 1065.5,303.63 1071.28,303.63 1077.07,312.36 1082.85,316.72 1088.64,316.72 1094.43,321.08 1100.21,321.08 1106,325.44 1111.78,325.44 1117.57,329.81 1123.35,329.81 1129.14,338.53 1134.93,338.53 1140.71,338.53 1146.5,338.53 1152.28,338.53 1158.07,338.53 1163.85,342.9 1169.64,342.9 1175.42,347.26 1181.21,347.26 1187,347.26 1192.78,351.62 1198.57,351.62 1204.35,364.71 1210.14,364.71 1215.92,364.71 1221.71,364.71 1227.5,364.71 1233.28,364.71 1239.07,364.71 1244.85,364.71 1250.64,364.71 1256.42,364.71 1262.21,369.07 1268,369.07 1273.78,369.07 1279.57,369.07 1285.35,373.44 1291.14,373.44 1296.92,377.8 1302.71,377.8 1308.49,377.8 1314.28,382.16 1320.07,386.53 1325.85,386.53 1331.64,386.53 1337.42,386.53 1343.21,390.89 1348.99,390.89 1354.78,399.61 1360.57,399.61 1366.35,399.61 1372.14,399.61 1377.92,399.61 1383.71,399.61 1389.49,403.98 1395.28,403.98 1401.07,403.98 1406.85,403.98 1412.64,403.98 1418.42,408.34 1424.21,408.34 1429.99,408.34 1435.78,408.34 1441.56,408.34 1447.35,408.34 1453.14,408.34 1458.92,412.7"/>
<polyline stroke="#a6cee3" points="886.14,41.85 891.93,41.85 897.71,50.58 903.5,54.94 909.29,54.94 915.07,59.3 920.86,63.67 926.64,81.12 932.43,81.12 938.21,89.84 944,89.84 949.78,102.93 955.57,107.3 961.36,107.3 967.14,120.39 972.93,124.75 978.71,137.84 984.5,146.56 990.28,146.56 996.07,159.65 1001.86,159.65 1007.64,159.65 1013.43,164.01 1019.21,168.38 1025,172.74 1030.78,181.47 1036.57,185.83 1042.36,198.92 1048.14,198.92 1053.93,207.64 1059.71,207.64 1065.5,207.64 1071.28,212.01 1077.07,212.01 1082.85,212.01 1088.64,212.01 1094.43,225.1 1100.21,225.1 1106,225.1 1111.78,225.1 1117.57,229.46 1123.35,229.46 1129.14,229.46 1134.93,233.82 1140.71,242.55 1146.5,242.55 1152.28,242.55 1158.07,242.55 1163.85,242.55 1169.64,251.27 1175.42,251.27 1181.21,251.27 1187,255.64 1192.78,260 1198.57,264.36 1204.35,264.36 1210.14,264.36 1215.92,264.36 1221.71,268.73 1227.5,268.73 1233.28,268.73 1239.07,273.09 1244.85,277.45 1250.64,277.45 1256.42,281.81 1262.21,281.81 1268,286.18 1273.78,286.18 1279.57,286.18 1285.35,290.54 1291.14,290.54 1296.92,290.54 1302.71,290.54 1308.49,294.9 1314.28,299.27 1320.07,299.27 1325.85,299.27 1331.64,299.27 1337.42,299.27 1343.21,299.27 1348.99,303.63 1354.78,303.63 1360.57,303.63 1366.35,303.63 1372.14,303.63 1377.92,312.36 1383.71,312.36 1389.49,312.36 1395.28,312.36 1401.07,312.36 1406.85,312.36 1412.64,312.36 1418.42,321.08 1424.21,321.08 1429.99,321.08 1435.78,321.08 1441.56,321.08 1447.35,321.08 1453.14,325.44 1458.92,325.44"/>
<polyline stroke="#1f78b4" points="886.14,41.85 891.93,46.21 897.71,54.94 903.5,68.03 909.29,102.93 915.07,120.39 920.86,129.11 926.64,159.65 932.43,185.83 938.21,185.83 944,198.92 949.78,212.01 955.57,225.1 961.36,229.46 967.14,242.55 972.93,246.91 978.71,260 984.5,264.36 990.28,273.09 996.07,281.81 1001.86,281.81 1007.64,286.18 1013.43,290.54 1019.21,290.54 1025,294.9 1030.78,294.9 1036.57,299.27 1042.36,307.99 1048.14,316.72 1053.93,316.72 1059.71,321.08 1065.5,321.08 1071.28,325.44 1077.07,329.81 1082.85,334.17 1088.64,338.53 1094.43,347.26 1100.21,347.26 1106,347.26 1111.78,351.62 1117.57,355.99 1123.35,355.99 1129.14,355.99 1134.93,360.35 1140.71,360.35 1146.5,373.44 1152.28,373.44 1158.07,373.44 1163.85,373.44 1169.64,373.44 1175.42,373.44 1181.21,373.44 1187,377.8 1192.78,377.8 1198.57,377.8 1204.35,386.53 1210.14,386.53 1215.92,386.53 1221.71,386.53 1227.5,386.53 1233.28,390.89 1239.07,390.89 1244.85,399.61 1250.64,399.61 1256.42,399.61 1262.21,399.61 1268,399.61 1273.78,399.61 1279.57,399.61 1285.35,399.61 1291.14,408.34 1296.92,408.34 1302.71,408.34 1308.49,408.34 1314.28,408.34 1320.07,408.34 1325.85,408.34 1331.64,408.34 1337.42,412.7 1343.21,412.7 1348.99,412.7 1354.78,421.43 1360.57,421.43 1366.35,421.43 1372.14,421.43 1377.92,421.43 1383.71,421.43 1389.49,425.79 1395.28,425.79 1401.07,425.79 1406.85,425.79 1412.64,425.79 1418.42,425.79 1424.21,425.79 1429.99,425.79 1435.78,425.79 1441.56,425.79 1447.35,425.79 1453.14,425.79 1458.92,425.79"/>
<polyline stroke="#a6cee3" points="886.14,41.85 891.93,50.58 897.71,72.39 903.5,72.39 909.29,76.76 915.07,85.48 920.86,98.57 926.64,98.57 932.43,120.39 938.21,120.39 944,124.75 949.78,137.84 955.57,142.2 961.36,150.93 967.14,155.29 972.93,155.29 978.71,159.65 984.5,168.38 990.28,181.47 996.07,194.56 1001.86,198.92 1007.64,216.37 1013.43,216.37 1019.21,216.37 1025,216.37 1030.78,220.73 1036.57,220.73 1042.36,229.46 1048.14,233.82 1053.93,233.82 1059.71,242.55 1065.5,242.55 1071.28,246.91 1077.07,246.91 1082.85,251.27 1088.64,251.27 1094.43,251.27 1100.21,251.27 1106,255.64 1111.78,264.36 1117.57,268.73 1123.35,268.73 1129.14,268.73 1134.93,273.09 1140.71,273.09 1146.5,281.81 1152.28,281.81 1158.07,286.18 1163.85,286.18 1169.64,294.9 1175.42,294.9 1181.21,307.99 1187,307.99 1192.78,307.99 1198.57,312.36 1204.35,312.36 1210.14,312.36 1215.92,316.72 1221.71,316.72 1227.5,316.72 1233.28,321.08 1239.07,321.08 1244.85,321.08 1250.64,325.44 1256.42,329.81 1262.21,338.53 1268,338.53 1273.78,338.53 1279.57,338.53 1285.35,347.26 1291.14,347.26 1296.92,347.26 1302.71,347.26 1308.49,347.26 1314.28,347.26 1320.07,347.26 1325.85,347.26 1331.64,347.26 1337.42,347.26 1343.21,347.26 1348.99,351.62 1354.78,351.62 1360.57,360.35 1366.35,360.35 1372.14,364.71 1377.92,364.71 1383.71,364.71 1389.49,364.71 1395.28,364.71 1401.07,364.71 1406.85,364.71 1412.64,369.07 1418.42,369.07 1424.21,377.8 1429.99,377.8 1435.78,377.8 1441.56,377.8 1447.35,377.8 1453.14,377.8 1458.92,377.8"/>
<polyline stroke="#1f78b4" points="886.14,41.85 891.93,46.21 897.71,50.58 903.5,68.03 909.29,85.48 915.07,120.39 920.86,129.11 926.64,137.84 932.43,159.65 938.21,177.1 944,177.1 949.78,190.19 955.57,203.28 961.36,207.64 967.14,216.37 972.93,233.82 978.71,255.64 984.5,255.64 990.28,260 996.07,268.73 1001.86,273.09 1007.64,273.09 1013.43,277.45 1019.21,290.54 1025,290.54 1030.78,294.9 1036.57,294.9 1042.36,299.27 1048.14,303.63 1053.93,312.36 1059.71,316.72 1065.5,321.08 1071.28,325.44 1077.07,329.81 1082.85,334.17 1088.64,338.53 1094.43,338.53 1100.21,338.53 1106,342.9 1111.78,342.9 1117.57,342.9 1123.35,347.26 1129.14,347.26 1134.93,355.99 1140.71,360.35 1146.5,360.35 1152.28,360.35 1158.07,364.71 1163.85,364.71 1169.64,364.71 1175.42,369.07 1181.21,369.07 1187,369.07 1192.78,369.07 1198.57,377.8 1204.35,377.8 1210.14,377.8 1215.92,377.8 1221.71,377.8 1227.5,377.8 1233.28,377.8 1239.07,377.8 1244.85,382.16 1250.64,382.16 1256.42,382.16 1262.21,382.16 1268,382.16 1273.78,382.16 1279.57,386.53 1285.35,386.53 1291.14,386.53 1296.92,390.89 1302.71,390.89 1308.49,390.89 1314.28,390.89 1320.07,390.89 1325.85,390.89 1331.64,390.89 1337.42,395.25 1343.21,395.25 1348.99,395.25 1354.78,395.25 1360.57,408.34 1366.35,408.34 1372.14,408.34 1377.92,408.34 1383.71,408.34 1389.49,408.34 1395.28,408.34 1401.07,408.34 1406.85,408.34 1412.64,408.34 1418.42,408.34 1424.21,412.7 1429.99,412.7 1435.78,412.7 1441.56,412.7 1447.35,417.07 1453.14,417.07 1458.92,417.07"/>
<polyline stroke="#a6cee3" points="886.14,41.85 891.93,59.3 897.71,59.3 903.5,63.67 909.29,81.12 915.07,81.12 920.86,89.84 926.64,102.93 932.43,111.66 938.21,124.75 944,133.47 949.78,142.2 955.57,142.2 961.36,146.56 967.14,150.93 972.93,150.93 978.71,172.74 984.5,172.74 990.28,177.1 996.07,185.83 1001.86,194.56 1007.64,194.56 1013.43,194.56 1019.21,212.01 1025,212.01 1030.78,212.01 1036.57,216.37 1042.36,229.46 1048.14,229.46 1053.93,229.46 1059.71,233.82 1065.5,233.82 1071.28,233.82 1077.07,242.55 1082.85,242.55 1088.64,242.55 1094.43,251.27 1100.21,251.27 1106,251.27 1111.78,251.27 1117.57,268.73 1123.35,268.73 1129.14,268.73 1134.93,268.73 1140.71,268.73 1146.5,268.73 1152.28,273.09 1158.07,273.09 1163.85,290.54 1169.64,290.54 1175.42,290.54 1181.21,290.54 1187,290.54 1192.78,290.54 1198.57,290.54 1204.35,290.54 1210.14,290.54 1215.92,290.54 1221.71,290.54 1227.5,290.54 1233.28,290.54 1239.07,294.9 1244.85,294.9 1250.64,299.27 1256.42,299.27 1262.21,307.99 1268,307.99 1273.78,312.36 1279.57,312.36 1285.35,329.81 1291.14,329.81 1296.92,329.81 1302.71,329.81 1308.49,329.81 1314.28,329.81 1320.07,329.81 1325.85,329.81 1331.64,329.81 1337.42,329.81 1343.21,329.81 1348.99,342.9 1354.78,342.9 1360.57,342.9 1366.35,342.9 1372.14,342.9 1377.92,351.62 1383.71,351.62 1389.49,355.99 1395.28,355.99 1401.07,355.99 1406.85,355.99 1412.64,364.71 1418.42,364.71 1424.21,364.71 1429.99,369.07 1435.78,373.44 1441.56,373.44 1447.35,373.44 1453.14,377.8 1458.92,377.8"/>
<polyline stroke="#1f78b4" points="886.14,41.85 891.93,41.85 897.71,41.85 903.5,54.94 909.29,72.39 915.07,98.57 920.86,98.57 926.64,120.39 932.43,133.47 938.21,146.56 944,164.01 949.78,172.74 955.57,177.1 961.36,185.83 967.14,198.92 972.93,212.01 978.71,212.01 984.5,238.19 990.28,238.19 996.07,246.91 1001.86,251.27 1007.64,255.64 1013.43,260 1019.21,260 1025,268.73 1030.78,277.45 1036.57,286.18 1042.36,286.18 1048.14,290.54 1053.93,294.9 1059.71,294.9 1065.5,299.27 1071.28,307.99 1077.07,307.99 1082.85,307.99 1088.64,312.36 1094.43,321.08 1100.21,321.08 1106,334.17 1111.78,334.17 1117.57,334.17 1123.35,334.17 1129.14,334.17 1134.93,334.17 1140.71,334.17 1146.5,342.9 1152.28,342.9 1158.07,347.26 1163.85,347.26 1169.64,355.99 1175.42,355.99 1181.21,355.99 1187,355.99 1192.78,355.99 1198.57,355.99 1204.35,360.35 1210.14,360.35 1215.92,360.35 1221.71,360.35 1227.5,360.35 1233.28,360.35 1239.07,364.71 1244.85,364.71 1250.64,369.07 1256.42,369.07 1262.21,373.44 1268,373.44 1273.78,373.44 1279.57,373.44 1285.35,373.44 1291.14,382.16 1296.92,382.16 1302.71,382.16 1308.49,382.16 1314.28,382.16 1320.07,382.16 1325.85,386.53 1331.64,390.89 1337.42,390.89 1343.21,390.89 1348.99,390.89 1354.78,390.89 1360.57,403.98 1366.35,403.98 1372.14,403.98 1377.92,403.98 1383.71,403.98 1389.49,403.98 1395.28,403.98 1401.07,403.98 1406.85,403.98 1412.64,408.34 1418.42,408.34 1424.21,408.34 1429.99,408.34 1435.78,408.34 1441.56,408.34 1447.35,412.7 1453.14,412.7 1458.92,412.7"/>
<polyline stroke="#a6cee3" points="886.14,41.85 891.93,46.21 897.71,46.21 903.5,46.21 909.29,50.58 915.07,54.94 920.86,59.3 926.64,63.67 932.43,76.76 938.21,76.76 944,81.12 949.78,89.84 955.57,94.21 961.36,102.93 967.14,111.66 972.93,116.02 978.71,124.75 984.5,129.11 990.28,133.47 996.07,142.2 1001.86,150.93 1007.64,155.29 1013.43,159.65 1019.21,159.65 1025,164.01 1030.78,181.47 1036.57,181.47 1042.36,181.47 1048.14,190.19 1053.93,194.56 1059.71,198.92 1065.5,203.28 1071.28,207.64 1077.07,212.01 1082.85,212.01 1088.64,212.01 1094.43,212.01 1100.21,216.37 1106,216.37 1111.78,229.46 1117.57,229.46 1123.35,229.46 1129.14,233.82 1134.93,233.82 1140.71,242.55 1146.5,242.55 1152.28,264.36 1158.07,264.36 1163.85,264.36 1169.64,264.36 1175.42,264.36 1181.21,264.36 1187,264.36 1192.78,264.36 1198.57,264.36 1204.35,264.36 1210.14,264.36 1215.92,264.36 1221.71,268.73 1227.5,268.73 1233.28,268.73 1239.07,268.73 1244.85,268.73 1250.64,273.09 1256.42,281.81 1262.21,281.81 1268,281.81 1273.78,281.81 1279.57,286.18 1285.35,286.18 1291.14,286.18 1296.92,299.27 1302.71,299.27 1308.49,299.27 1314.28,299.27 1320.07,299.27 1325.85,299.27 1331.64,299.27 1337.42,299.27 1343.21,299.27 1348.99,303.63 1354.78,303.63 1360.57,307.99 1366.35,312.36 1372.14,316.72 1377.92,321.08 1383.71,321.08 1389.49,321.08 1395.28,325.44 1401.07,329.81 1406.85,329.81 1412.64,329.81 1418.42,334.17 1424.21,334.17 1429.99,334.17 1435.78,334.17 1441.56,334.17 1447.35,338.53 1453.14,351.62 1458.92,351.62"/>
<polyline stroke="#1f78b4" points="886.14,41.85 891.93,50.58 897.71,68.03 903.5,94.21 909.29,120.39 915.07,133.47 920.86,150.93 926.64,172.74 932.43,185.83 938.21,216.37 944,216.37 949.78,229.46 955.57,233.82 961.36,260 967.14,264.36 972.93,273.09 978.71,273.09 984.5,277.45 990.28,290.54 996.07,299.27 1001.86,303.63 1007.64,307.99 1013.43,307.99 1019.21,307.99 1025,307.99 1030.78,312.36 1036.57,321.08 1042.36,325.44 1048.14,325.44 1053.93,334.17 1059.71,334.17 1065.5,338.53 1071.28,338.53 1077.07,347.26 1082.85,351.62 1088.64,351.62 1094.43,355.99 1100.21,355.99 1106,355.99 1111.78,369.07 1117.57,369.07 1123.35,369.07 1129.14,373.44 1134.93,373.44 1140.71,373.44 1146.5,386.53 1152.28,386.53 1158.07,386.53 1163.85,386.53 1169.64,386.53 1175.42,390.89 1181.21,390.89 1187,390.89 1192.78,390.89 1198.57,390.89 1204.35,395.25 1210.14,395.25 1215.92,403.98 1221.71,403.98 1227.5,403.98 1233.28,403.98 1239.07,403.98 1244.85,403.98 1250.64,403.98 1256.42,403.98 1262.21,408.34 1268,408.34 1273.78,408.34 1279.57,408.34 1285.35,417.07 1291.14,417.07 1296.92,417.07 1302.71,417.07 1308.49,417.07 1314.28,421.43 1320.07,421.43 1325.85,425.79 1331.64,425.79 1337.42,425.79 1343.21,425.79 1348.99,430.16 1354.78,430.16 1360.57,430.16 1366.35,434.52 1372.14,434.52 1377.92,434.52 1383.71,434.52 1389.49,434.52 1395.28,438.88 1401.07,443.24 1406.85,443.24 1412.64,443.24 1418.42,443.24 1424.21,443.24 1429.99,443.24 1435.78,443.24 1441.56,443.24 1447.35,443.24 1453.14,443.24 1458.92,443.24"/>
</g>
<rect x="863" y="24.4" width="624.85" height="471.2" fill="none" stroke="#333" stroke-width="1.5"/>
<line x1="880.36" y1="495.6" x2="880.36" y2="505.8" stroke="#333" stroke-width="1.4"/>
<text x="880.36" y="532.9" font-size="27.1" text-anchor="middle">0</text>
<line x1="996.07" y1="495.6" x2="996.07" y2="505.8" stroke="#333" stroke-width="1.4"/>
<text x="996.07" y="532.9" font-size="27.1" text-anchor="middle">20</text>
<line x1="1111.78" y1="495.6" x2="1111.78" y2="505.8" stroke="#333" stroke-width="1.4"/>
<text x="1111.78" y="532.9" font-size="27.1" text-anchor="middle">40</text>
<line x1="1227.5" y1="495.6" x2="1227.5" y2="505.8" stroke="#333" stroke-width="1.4"/>
<text x="1227.5" y="532.9" font-size="27.1" text-anchor="middle">60</text>
<line x1="1343.21" y1="495.6" x2="1343.21" y2="505.8" stroke="#333" stroke-width="1.4"/>
<text x="1343.21" y="532.9" font-size="27.1" text-anchor="middle">80</text>
<line x1="1458.92" y1="495.6" x2="1458.92" y2="505.8" stroke="#333" stroke-width="1.4"/>
<text x="1458.92" y="532.9" font-size="27.1" text-anchor="middle">100</text>
<line x1="863" y1="478.15" x2="852.4" y2="478.15" stroke="#333" stroke-width="1.4"/>
<text x="839" y="478.15" font-size="27.1" text-anchor="middle" transform="rotate(-90 839 478.15)">0</text>
<line x1="863" y1="390.89" x2="852.4" y2="390.89" stroke="#333" stroke-width="1.4"/>
<text x="839" y="390.89" font-size="27.1" text-anchor="middle" transform="rotate(-90 839 390.89)">20</text>
<line x1="863" y1="303.63" x2="852.4" y2="303.63" stroke="#333" stroke-width="1.4"/>
<text x="839" y="303.63" font-size="27.1" text-anchor="middle" transform="rotate(-90 839 303.63)">40</text>
<line x1="863" y1="216.37" x2="852.4" y2="216.37" stroke="#333" stroke-width="1.4"/>
<text x="839" y="216.37" font-size="27.1" text-anchor="middle" transform="rotate(-90 839 216.37)">60</text>
<line x1="863" y1="129.11" x2="852.4" y2="129.11" stroke="#333" stroke-width="1.4"/>
<text x="839" y="129.11" font-size="27.1" text-anchor="middle" transform="rotate(-90 839 129.11)">80</text>
<line x1="863" y1="41.85" x2="852.4" y2="41.85" stroke="#333" stroke-width="1.4"/>
<text x="839" y="41.85" font-size="27.1" text-anchor="middle" transform="rotate(-90 839 41.85)">100</text>
<text x="1175.42" y="573.9" font-size="27.1" text-anchor="middle">Time</text>
<text x="797.4" y="257.4" font-size="27.1" text-anchor="middle" transform="rotate(-90 797.4 257.4)">Number of different alleles</text>
<rect x="1203.7" y="24.4" width="284.15" height="98" fill="#fff" stroke="#333" stroke-width="1.3"/>
<line x1="1210.7" y1="57.2" x2="1260.2" y2="57.2" stroke="#a6cee3" stroke-width="3" stroke-linecap="round"/>
<line x1="1210.7" y1="90.1" x2="1260.2" y2="90.1" stroke="#1f78b4" stroke-width="3" stroke-linecap="round"/>
<text x="1285" y="66.7" font-size="27.1" text-anchor="start">with learning</text>
<text x="1285" y="100" font-size="27.1" text-anchor="start">without learning</text>
<text x="880" y="456.6" font-size="25.6" text-anchor="start">max escape prob rate = 0.95</text>
<g fill="none" stroke-width="2.8" stroke-linejoin="round" stroke-linecap="round">
<polyline stroke="#a6cee3" points="119.94,656.45 125.73,656.45 131.51,673.9 137.3,673.9 143.09,673.9 148.87,678.27 154.66,686.99 160.44,695.72 166.23,704.44 172.01,704.44 177.8,713.17 183.58,713.17 189.37,734.99 195.16,734.99 200.94,734.99 206.73,743.71 212.51,743.71 218.3,748.07 224.08,756.8 229.87,756.8 235.66,765.53 241.44,782.98 247.23,782.98 253.01,782.98 258.8,787.34 264.58,787.34 270.37,787.34 276.16,791.7 281.94,809.16 287.73,809.16 293.51,809.16 299.3,813.52 305.08,813.52 310.87,822.24 316.65,830.97 322.44,830.97 328.23,830.97 334.01,830.97 339.8,835.33 345.58,835.33 351.37,839.7 357.15,839.7 362.94,839.7 368.73,844.06 374.51,857.15 380.3,857.15 386.08,857.15 391.87,857.15 397.65,861.51 403.44,870.24 409.23,870.24 415.01,870.24 420.8,870.24 426.58,870.24 432.37,878.96 438.15,878.96 443.94,878.96 449.72,883.33 455.51,883.33 461.3,883.33 467.08,883.33 472.87,896.41 478.65,896.41 484.44,896.41 490.22,896.41 496.01,896.41 501.8,896.41 507.58,900.78 513.37,900.78 519.15,918.23 524.94,918.23 530.72,918.23 536.51,918.23 542.29,918.23 548.08,918.23 553.87,918.23 559.65,918.23 565.44,918.23 571.22,918.23 577.01,922.59 582.79,922.59 588.58,922.59 594.37,926.96 600.15,931.32 605.94,931.32 611.72,935.68 617.51,935.68 623.29,935.68 629.08,944.41 634.87,944.41 640.65,944.41 646.44,944.41 652.22,948.77 658.01,957.5 663.79,957.5 669.58,957.5 675.36,957.5 681.15,957.5 686.94,957.5 692.72,957.5"/>
<polyline stroke="#1f78b4" points="119.94,656.45 125.73,660.81 131.51,673.9 137.3,682.63 143.09,695.72 148.87,721.9 154.66,748.07 160.44,756.8 166.23,778.61 172.01,796.07 177.8,804.79 183.58,817.88 189.37,835.33 195.16,835.33 200.94,848.42 206.73,857.15 212.51,865.87 218.3,870.24 224.08,874.6 229.87,892.05 235.66,892.05 241.44,892.05 247.23,896.41 253.01,913.87 258.8,913.87 264.58,913.87 270.37,926.96 276.16,926.96 281.94,935.68 287.73,940.04 293.51,944.41 299.3,944.41 305.08,948.77 310.87,948.77 316.65,953.13 322.44,953.13 328.23,953.13 334.01,961.86 339.8,961.86 345.58,961.86 351.37,970.59 357.15,970.59 362.94,970.59 368.73,970.59 374.51,974.95 380.3,974.95 386.08,979.31 391.87,983.67 397.65,988.04 403.44,988.04 409.23,988.04 415.01,992.4 420.8,996.76 426.58,1005.49 432.37,1005.49 438.15,1005.49 443.94,1005.49 449.72,1005.49 455.51,1005.49 461.3,1005.49 467.08,1005.49 472.87,1005.49 478.65,1009.85 484.44,1018.58 490.22,1018.58 496.01,1018.58 501.8,1022.94 507.58,1022.94 513.37,1027.3 519.15,1027.3 524.94,1027.3 530.72,1027.3 536.51,1027.3 542.29,1027.3 548.08,1027.3 553.87,1027.3 559.65,1027.3 565.44,1027.3 571.22,1031.67 577.01,1036.03 582.79,1036.03 588.58,1036.03 594.37,1036.03 600.15,1036.03 605.94,1036.03 611.72,1036.03 617.51,1036.03 623.29,1036.03 629.08,1036.03 634.87,1044.76 640.65,1044.76 646.44,1044.76 652.22,1044.76 658.01,1044.76 663.79,1044.76 669.58,1044.76 675.36,1044.76 681.15,1044.76 686.94,1044.76 692.72,1049.12"/>
<polyline stroke="#a6cee3" points="119.94,656.45 125.73,656.45 131.51,656.45 137.3,656.45 143.09,665.18 148.87,669.54 154.66,673.9 160.44,682.63 166.23,686.99 172.01,691.36 177.8,691.36 183.58,700.08 189.37,708.81 195.16,708.81 200.94,713.17 206.73,713.17 212.51,713.17 218.3,734.99 224.08,734.99 229.87,739.35 235.66,739.35 241.44,743.71 247.23,748.07 253.01,752.44 258.8,756.8 264.58,761.16 270.37,765.53 276.16,765.53 281.94,769.89 287.73,782.98 293.51,782.98 299.3,782.98 305.08,796.07 310.87,796.07 316.65,796.07 322.44,796.07 328.23,796.07 334.01,809.16 339.8,809.16 345.58,813.52 351.37,817.88 357.15,817.88 362.94,817.88 368.73,822.24 374.51,822.24 380.3,826.61 386.08,826.61 391.87,826.61 397.65,830.97 403.44,830.97 409.23,835.33 415.01,835.33 420.8,839.7 426.58,844.06 432.37,848.42 438.15,848.42 443.94,852.79 449.72,852.79 455.51,861.51 461.3,861.51 467.08,861.51 472.87,861.51 478.65,861.51 484.44,861.51 490.22,861.51 496.01,861.51 501.8,861.51 507.58,870.24 513.37,870.24 519.15,870.24 524.94,870.24 530.72,878.96 536.51,878.96 542.29,878.96 548.08,883.33 553.87,883.33 559.65,887.69 565.44,887.69 571.22,892.05 577.01,896.41 582.79,896.41 588.58,896.41 594.37,896.41 600.15,896.41 605.94,896.41 611.72,900.78 617.51,900.78 623.29,905.14 629.08,905.14 634.87,905.14 640.65,905.14 646.44,905.14 652.22,905.14 658.01,913.87 663.79,913.87 669.58,913.87 675.36,913.87 681.15,913.87 686.94,913.87 692.72,918.23"/>
<polyline stroke="#1f78b4" points="119.94,656.45 125.73,660.81 131.51,665.18 137.3,686.99 143.09,686.99 148.87,708.81 154.66,717.53 160.44,730.62 166.23,748.07 172.01,782.98 177.8,787.34 183.58,809.16 189.37,809.16 195.16,817.88 200.94,826.61 206.73,835.33 212.51,852.79 218.3,857.15 224.08,865.87 229.87,870.24 235.66,878.96 241.44,883.33 247.23,887.69 253.01,900.78 258.8,905.14 264.58,905.14 270.37,918.23 276.16,918.23 281.94,926.96 287.73,926.96 293.51,931.32 299.3,931.32 305.08,931.32 310.87,940.04 316.65,940.04 322.44,940.04 328.23,940.04 334.01,940.04 339.8,948.77 345.58,948.77 351.37,953.13 357.15,953.13 362.94,961.86 368.73,961.86 374.51,961.86 380.3,961.86 386.08,961.86 391.87,966.22 397.65,974.95 403.44,974.95 409.23,974.95 415.01,979.31 420.8,979.31 426.58,979.31 432.37,983.67 438.15,983.67 443.94,983.67 449.72,983.67 455.51,983.67 461.3,988.04 467.08,988.04 472.87,992.4 478.65,992.4 484.44,992.4 490.22,992.4 496.01,996.76 501.8,1001.13 507.58,1001.13 513.37,1001.13 519.15,1005.49 524.94,1005.49 530.72,1009.85 536.51,1009.85 542.29,1009.85 548.08,1009.85 553.87,1009.85 559.65,1009.85 565.44,1009.85 571.22,1014.21 577.01,1014.21 582.79,1014.21 588.58,1014.21 594.37,1014.21 600.15,1014.21 605.94,1022.94 611.72,1022.94 617.51,1022.94 623.29,1022.94 629.08,1022.94 634.87,1022.94 640.65,1022.94 646.44,1031.67 652.22,1031.67 658.01,1031.67 663.79,1031.67 669.58,1031.67 675.36,1031.67 681.15,1031.67 686.94,1031.67 692.72,1031.67"/>
<polyline stroke="#a6cee3" points="119.94,656.45 125.73,656.45 131.51,656.45 137.3,656.45 143.09,665.18 148.87,665.18 154.66,665.18 160.44,669.54 166.23,673.9 172.01,673.9 177.8,691.36 183.58,691.36 189.37,691.36 195.16,704.44 200.94,704.44 206.73,708.81 212.51,713.17 218.3,713.17 224.08,721.9 229.87,726.26 235.66,730.62 241.44,739.35 247.23,739.35 253.01,743.71 258.8,748.07 264.58,756.8 270.37,756.8 276.16,761.16 281.94,761.16 287.73,765.53 293.51,769.89 299.3,769.89 305.08,774.25 310.87,791.7 316.65,791.7 322.44,800.43 328.23,800.43 334.01,800.43 339.8,813.52 345.58,813.52 351.37,813.52 357.15,813.52 362.94,817.88 368.73,817.88 374.51,822.24 380.3,826.61 386.08,826.61 391.87,835.33 397.65,835.33 403.44,835.33 409.23,835.33 415.01,835.33 420.8,852.79 426.58,852.79 432.37,852.79 438.15,852.79 443.94,852.79 449.72,852.79 455.51,865.87 461.3,865.87 467.08,865.87 472.87,865.87 478.65,865.87 484.44,870.24 490.22,870.24 496.01,870.24 501.8,870.24 507.58,870.24 513.37,870.24 519.15,870.24 524.94,870.24 530.72,870.24 536.51,878.96 542.29,878.96 548.08,878.96 553.87,883.33 559.65,892.05 565.44,892.05 571.22,892.05 577.01,892.05 582.79,892.05 588.58,892.05 594.37,892.05 600.15,892.05 605.94,896.41 611.72,896.41 617.51,896.41 623.29,896.41 629.08,896.41 634.87,900.78 640.65,900.78 646.44,900.78 652.22,905.14 658.01,905.14 663.79,905.14 669.58,905.14 675.36,905.14 681.15,905.14 686.94,905.14 692.72,905.14"/>
<polyline stroke="#1f78b4" points="119.94,656.45 125.73,669.54 131.51,669.54 137.3,691.36 143.09,700.08 148.87,717.53 154.66,743.71 160.44,756.8 166.23,791.7 172.01,800.43 177.8,804.79 183.58,813.52 189.37,830.97 195.16,839.7 200.94,852.79 206.73,861.51 212.51,865.87 218.3,874.6 224.08,883.33 229.87,887.69 235.66,892.05 241.44,909.5 247.23,909.5 253.01,922.59 258.8,926.96 264.58,931.32 270.37,931.32 276.16,944.41 281.94,944.41 287.73,961.86 293.51,961.86 299.3,961.86 305.08,961.86 310.87,961.86 316.65,966.22 322.44,966.22 328.23,966.22 334.01,966.22 339.8,966.22 345.58,970.59 351.37,970.59 357.15,974.95 362.94,974.95 368.73,979.31 374.51,983.67 380.3,988.04 386.08,988.04 391.87,988.04 397.65,988.04 403.44,996.76 409.23,996.76 415.01,996.76 420.8,1001.13 426.58,1001.13 432.37,1001.13 438.15,1005.49 443.94,1009.85 449.72,1009.85 455.51,1009.85 461.3,1009.85 467.08,1009.85 472.87,1009.85 478.65,1014.21 484.44,1014.21 490.22,1014.21 496.01,1014.21 501.8,1018.58 507.58,1018.58 513.37,1018.58 519.15,1022.94 524.94,1022.94 530.72,1022.94 536.51,1022.94 542.29,1022.94 548.08,1022.94 553.87,1022.94 559.65,1022.94 565.44,1022.94 571.22,1022.94 577.01,1027.3 582.79,1027.3 588.58,1027.3 594.37,1027.3 600.15,1027.3 605.94,1027.3 611.72,1027.3 617.51,1027.3 623.29,1027.3 629.08,1027.3 634.87,1031.67 640.65,1031.67 646.44,1031.67 652.22,1036.03 658.01,1036.03 663.79,1036.03 669.58,1036.03 675.36,1036.03 681.15,1036.03 686.94,1036.03 692.72,1036.03"/>
<polyline stroke="#a6cee3" points="119.94,656.45 125.73,656.45 131.51,656.45 137.3,656.45 143.09,660.81 148.87,665.18 154.66,678.27 160.44,682.63 166.23,686.99 172.01,686.99 177.8,695.72 183.58,708.81 189.37,708.81 195.16,708.81 200.94,708.81 206.73,713.17 212.51,721.9 218.3,721.9 224.08,730.62 229.87,739.35 235.66,743.71 241.44,743.71 247.23,748.07 253.01,748.07 258.8,756.8 264.58,756.8 270.37,769.89 276.16,769.89 281.94,769.89 287.73,769.89 293.51,774.25 299.3,778.61 305.08,782.98 310.87,787.34 316.65,796.07 322.44,800.43 328.23,804.79 334.01,809.16 339.8,809.16 345.58,813.52 351.37,817.88 357.15,817.88 362.94,830.97 368.73,830.97 374.51,830.97 380.3,830.97 386.08,844.06 391.87,844.06 397.65,844.06 403.44,844.06 409.23,848.42 415.01,852.79 420.8,852.79 426.58,861.51 432.37,861.51 438.15,865.87 443.94,865.87 449.72,865.87 455.51,878.96 461.3,878.96 467.08,878.96 472.87,878.96 478.65,878.96 484.44,883.33 490.22,883.33 496.01,887.69 501.8,887.69 507.58,887.69 513.37,892.05 519.15,896.41 524.94,896.41 530.72,905.14 536.51,905.14 542.29,905.14 548.08,905.14 553.87,905.14 559.65,905.14 565.44,909.5 571.22,909.5 577.01,909.5 582.79,913.87 588.58,913.87 594.37,913.87 600.15,918.23 605.94,918.23 611.72,918.23 617.51,922.59 623.29,922.59 629.08,931.32 634.87,931.32 640.65,931.32 646.44,931.32 652.22,931.32 658.01,935.68 663.79,935.68 669.58,935.68 675.36,935.68 681.15,935.68 686.94,935.68 692.72,935.68"/>
<polyline stroke="#1f78b4" points="119.94,656.45 125.73,660.81 131.51,669.54 137.3,695.72 143.09,704.44 148.87,717.53 154.66,734.99 160.44,756.8 166.23,761.16 172.01,778.61 177.8,796.07 183.58,804.79 189.37,822.24 195.16,830.97 200.94,835.33 206.73,844.06 212.51,848.42 218.3,861.51 224.08,870.24 229.87,883.33 235.66,892.05 241.44,900.78 247.23,900.78 253.01,905.14 258.8,918.23 264.58,918.23 270.37,926.96 276.16,935.68 281.94,935.68 287.73,944.41 293.51,944.41 299.3,953.13 305.08,953.13 310.87,957.5 316.65,957.5 322.44,957.5 328.23,957.5 334.01,961.86 339.8,961.86 345.58,966.22 351.37,970.59 357.15,970.59 362.94,974.95 368.73,979.31 374.51,979.31 380.3,983.67 386.08,996.76 391.87,996.76 397.65,996.76 403.44,996.76 409.23,996.76 415.01,1005.49 420.8,1005.49 426.58,1009.85 432.37,1009.85 438.15,1009.85 443.94,1014.21 449.72,1014.21 455.51,1018.58 461.3,1018.58 467.08,1018.58 472.87,1018.58 478.65,1018.58 484.44,1022.94 490.22,1022.94 496.01,1022.94 501.8,1022.94 507.58,1022.94 513.37,1027.3 519.15,1027.3 524.94,1027.3 530.72,1027.3 536.51,1027.3 542.29,1031.67 548.08,1031.67 553.87,1031.67 559.65,1031.67 565.44,1036.03 571.22,1036.03 577.01,1036.03 582.79,1036.03 588.58,1040.39 594.37,1040.39 600.15,1040.39 605.94,1040.39 611.72,1040.39 617.51,1040.39 623.29,1040.39 629.08,1040.39 634.87,1040.39 640.65,1044.76 646.44,1044.76 652.22,1044.76 658.01,1044.76 663.79,1044.76 669.58,1049.12 675.36,1049.12 681.15,1049.12 686.94,1049.12 692.72,1049.12"/>
<polyline stroke="#a6cee3" points="119.94,656.45 125.73,656.45 131.51,660.81 137.3,660.81 143.09,665.18 148.87,665.18 154.66,665.18 160.44,669.54 166.23,669.54 172.01,678.27 177.8,682.63 183.58,686.99 189.37,686.99 195.16,686.99 200.94,691.36 206.73,695.72 212.51,708.81 218.3,708.81 224.08,708.81 229.87,717.53 235.66,721.9 241.44,721.9 247.23,739.35 253.01,739.35 258.8,743.71 264.58,743.71 270.37,748.07 276.16,761.16 281.94,761.16 287.73,761.16 293.51,765.53 299.3,769.89 305.08,774.25 310.87,778.61 316.65,787.34 322.44,796.07 328.23,796.07 334.01,796.07 339.8,800.43 345.58,804.79 351.37,809.16 357.15,809.16 362.94,809.16 368.73,813.52 374.51,813.52 380.3,817.88 386.08,822.24 391.87,822.24 397.65,822.24 403.44,826.61 409.23,830.97 415.01,835.33 420.8,835.33 426.58,835.33 432.37,844.06 438.15,844.06 443.94,844.06 449.72,844.06 455.51,848.42 461.3,852.79 467.08,857.15 472.87,857.15 478.65,857.15 484.44,857.15 490.22,857.15 496.01,861.51 501.8,861.51 507.58,865.87 513.37,865.87 519.15,865.87 524.94,870.24 530.72,874.6 536.51,874.6 542.29,883.33 548.08,883.33 553.87,883.33 559.65,883.33 565.44,883.33 571.22,883.33 577.01,887.69 582.79,896.41 588.58,896.41 594.37,896.41 600.15,896.41 605.94,896.41 611.72,896.41 617.51,896.41 623.29,896.41 629.08,900.78 634.87,900.78 640.65,905.14 646.44,905.14 652.22,905.14 658.01,905.14 663.79,909.5 669.58,909.5 675.36,909.5 681.15,909.5 686.94,909.5 692.72,913.87"/>
<polyline stroke="#1f78b4" points="119.94,656.45 125.73,656.45 131.51,665.18 137.3,665.18 143.09,686.99 148.87,691.36 154.66,713.17 160.44,734.99 166.23,761.16 172.01,778.61 177.8,796.07 183.58,796.07 189.37,804.79 195.16,813.52 200.94,826.61 206.73,839.7 212.51,839.7 218.3,852.79 224.08,857.15 229.87,861.51 235.66,883.33 241.44,883.33 247.23,887.69 253.01,887.69 258.8,900.78 264.58,905.14 270.37,905.14 276.16,909.5 281.94,918.23 287.73,922.59 293.51,926.96 299.3,926.96 305.08,935.68 310.87,935.68 316.65,940.04 322.44,940.04 328.23,940.04 334.01,944.41 339.8,944.41 345.58,944.41 351.37,948.77 357.15,948.77 362.94,953.13 368.73,957.5 374.51,961.86 380.3,966.22 386.08,966.22 391.87,970.59 397.65,970.59 403.44,970.59 409.23,970.59 415.01,974.95 420.8,974.95 426.58,979.31 432.37,979.31 438.15,979.31 443.94,983.67 449.72,983.67 455.51,983.67 461.3,988.04 467.08,988.04 472.87,992.4 478.65,992.4 484.44,992.4 490.22,996.76 496.01,996.76 501.8,996.76 507.58,1005.49 513.37,1005.49 519.15,1005.49 524.94,1005.49 530.72,1005.49 536.51,1005.49 542.29,1005.49 548.08,1009.85 553.87,1009.85 559.65,1009.85 565.44,1009.85 571.22,1009.85 577.01,1009.85 582.79,1009.85 588.58,1009.85 594.37,1014.21 600.15,1014.21 605.94,1018.58 611.72,1018.58 617.51,1022.94 623.29,1022.94 629.08,1027.3 634.87,1027.3 640.65,1027.3 646.44,1027.3 652.22,1027.3 658.01,1031.67 663.79,1031.67 669.58,1031.67 675.36,1036.03 681.15,1036.03 686.94,1036.03 692.72,1036.03"/>
<polyline stroke="#a6cee3" points="119.94,656.45 125.73,656.45 131.51,656.45 137.3,660.81 143.09,660.81 148.87,665.18 154.66,673.9 160.44,678.27 166.23,678.27 172.01,686.99 177.8,691.36 183.58,695.72 189.37,695.72 195.16,708.81 200.94,708.81 206.73,708.81 212.51,717.53 218.3,721.9 224.08,721.9 229.87,734.99 235.66,734.99 241.44,748.07 247.23,748.07 253.01,748.07 258.8,748.07 264.58,748.07 270.37,752.44 276.16,756.8 281.94,756.8 287.73,765.53 293.51,769.89 299.3,778.61 305.08,782.98 310.87,791.7 316.65,796.07 322.44,804.79 328.23,804.79 334.01,804.79 339.8,804.79 345.58,804.79 351.37,809.16 357.15,817.88 362.94,817.88 368.73,817.88 374.51,822.24 380.3,822.24 386.08,826.61 391.87,826.61 397.65,830.97 403.44,830.97 409.23,839.7 415.01,839.7 420.8,844.06 426.58,844.06 432.37,848.42 438.15,848.42 443.94,848.42 449.72,852.79 455.51,870.24 461.3,870.24 467.08,870.24 472.87,870.24 478.65,870.24 484.44,870.24 490.22,870.24 496.01,874.6 501.8,874.6 507.58,874.6 513.37,883.33 519.15,883.33 524.94,887.69 530.72,887.69 536.51,892.05 542.29,896.41 548.08,896.41 553.87,905.14 559.65,905.14 565.44,905.14 571.22,905.14 577.01,905.14 582.79,913.87 588.58,913.87 594.37,913.87 600.15,918.23 605.94,918.23 611.72,922.59 617.51,922.59 623.29,926.96 629.08,926.96 634.87,926.96 640.65,926.96 646.44,926.96 652.22,926.96 658.01,926.96 663.79,926.96 669.58,926.96 675.36,926.96 681.15,926.96 686.94,926.96 692.72,926.96"/>
<polyline stroke="#1f78b4" points="119.94,656.45 125.73,665.18 131.51,673.9 137.3,695.72 143.09,708.81 148.87,717.53 154.66,752.44 160.44,769.89 166.23,796.07 172.01,800.43 177.8,817.88 183.58,830.97 189.37,835.33 195.16,844.06 200.94,857.15 206.73,865.87 212.51,865.87 218.3,883.33 224.08,883.33 229.87,892.05 235.66,900.78 241.44,905.14 247.23,918.23 253.01,918.23 258.8,926.96 264.58,940.04 270.37,940.04 276.16,948.77 281.94,948.77 287.73,953.13 293.51,953.13 299.3,957.5 305.08,961.86 310.87,966.22 316.65,966.22 322.44,966.22 328.23,966.22 334.01,966.22 339.8,970.59 345.58,970.59 351.37,974.95 357.15,979.31 362.94,979.31 368.73,992.4 374.51,992.4 380.3,992.4 386.08,992.4 391.87,992.4 397.65,992.4 403.44,996.76 409.23,996.76 415.01,1001.13 420.8,1001.13 426.58,1001.13 432.37,1005.49 438.15,1009.85 443.94,1009.85 449.72,1014.21 455.51,1014.21 461.3,1014.21 467.08,1018.58 472.87,1018.58 478.65,1018.58 484.44,1018.58 490.22,1018.58 496.01,1022.94 501.8,1022.94 507.58,1027.3 513.37,1027.3 519.15,1031.67 524.94,1031.67 530.72,1031.67 536.51,1031.67 542.29,1031.67 548.08,1031.67 553.87,1031.67 559.65,1031.67 565.44,1031.67 571.22,1040.39 577.01,1040.39 582.79,1040.39 588.58,1040.39 594.37,1040.39 600.15,1040.39 605.94,1040.39 611.72,1040.39 617.51,1040.39 623.29,1040.39 629.08,1040.39 634.87,1040.39 640.65,1040.39 646.44,1057.84 652.22,1057.84 658.01,1057.84 663.79,1057.84 669.58,1057.84 675.36,1057.84 681.15,1057.84 686.94,1057.84 692.72,1057.84"/>
<polyline stroke="#a6cee3" points="119.94,656.45 125.73,656.45 131.51,660.81 137.3,665.18 143.09,669.54 148.87,686.99 154.66,691.36 160.44,700.08 166.23,708.81 172.01,708.81 177.8,713.17 183.58,717.53 189.37,726.26 195.16,730.62 200.94,734.99 206.73,743.71 212.51,743.71 218.3,756.8 224.08,756.8 229.87,756.8 235.66,761.16 241.44,769.89 247.23,774.25 253.01,778.61 258.8,778.61 264.58,791.7 270.37,791.7 276.16,791.7 281.94,791.7 287.73,791.7 293.51,796.07 299.3,804.79 305.08,809.16 310.87,809.16 316.65,822.24 322.44,822.24 328.23,822.24 334.01,822.24 339.8,822.24 345.58,826.61 351.37,830.97 357.15,839.7 362.94,839.7 368.73,839.7 374.51,839.7 380.3,839.7 386.08,844.06 391.87,844.06 397.65,848.42 403.44,848.42 409.23,857.15 415.01,857.15 420.8,857.15 426.58,861.51 432.37,861.51 438.15,861.51 443.94,865.87 449.72,870.24 455.51,878.96 461.3,878.96 467.08,878.96 472.87,883.33 478.65,887.69 484.44,887.69 490.22,887.69 496.01,905.14 501.8,905.14 507.58,905.14 513.37,905.14 519.15,905.14 524.94,905.14 530.72,905.14 536.51,905.14 542.29,905.14 548.08,905.14 553.87,909.5 559.65,909.5 565.44,913.87 571.22,918.23 577.01,918.23 582.79,918.23 588.58,922.59 594.37,926.96 600.15,926.96 605.94,926.96 611.72,931.32 617.51,935.68 623.29,935.68 629.08,940.04 634.87,940.04 640.65,940.04 646.44,940.04 652.22,944.41 658.01,944.41 663.79,948.77 669.58,948.77 675.36,948.77 681.15,948.77 686.94,948.77 692.72,948.77"/>
<polyline stroke="#1f78b4" points="119.94,656.45 125.73,660.81 131.51,669.54 137.3,673.9 143.09,686.99 148.87,721.9 154.66,726.26 160.44,752.44 166.23,765.53 172.01,787.34 177.8,796.07 183.58,809.16 189.37,813.52 195.16,826.61 200.94,839.7 206.73,857.15 212.51,857.15 218.3,870.24 224.08,870.24 229.87,883.33 235.66,887.69 241.44,900.78 247.23,905.14 253.01,913.87 258.8,918.23 264.58,926.96 270.37,926.96 276.16,931.32 281.94,931.32 287.73,940.04 293.51,944.41 299.3,953.13 305.08,953.13 310.87,957.5 316.65,957.5 322.44,957.5 328.23,961.86 334.01,961.86 339.8,961.86 345.58,970.59 351.37,970.59 357.15,974.95 362.94,974.95 368.73,979.31 374.51,983.67 380.3,988.04 386.08,988.04 391.87,992.4 397.65,992.4 403.44,992.4 409.23,992.4 415.01,1001.13 420.8,1001.13 426.58,1001.13 432.37,1001.13 438.15,1001.13 443.94,1001.13 449.72,1001.13 455.51,1014.21 461.3,1014.21 467.08,1014.21 472.87,1014.21 478.65,1014.21 484.44,1014.21 490.22,1014.21 496.01,1014.21 501.8,1014.21 507.58,1014.21 513.37,1014.21 519.15,1014.21 524.94,1014.21 530.72,1014.21 536.51,1022.94 542.29,1022.94 548.08,1022.94 553.87,1022.94 559.65,1022.94 565.44,1022.94 571.22,1027.3 577.01,1027.3 582.79,1027.3 588.58,1027.3 594.37,1027.3 600.15,1027.3 605.94,1027.3 611.72,1027.3 617.51,1027.3 623.29,1031.67 629.08,1031.67 634.87,1031.67 640.65,1031.67 646.44,1031.67 652.22,1031.67 658.01,1031.67 663.79,1031.67 669.58,1036.03 675.36,1036.03 681.15,1036.03 686.94,1040.39 692.72,1040.39"/>
<polyline stroke="#a6cee3" points="119.94,656.45 125.73,665.18 131.51,665.18 137.3,665.18 143.09,669.54 148.87,678.27 154.66,695.72 160.44,704.44 166.23,704.44 172.01,708.81 177.8,717.53 183.58,717.53 189.37,717.53 195.16,721.9 200.94,726.26 206.73,739.35 212.51,739.35 218.3,743.71 224.08,752.44 229.87,752.44 235.66,752.44 241.44,765.53 247.23,769.89 253.01,778.61 258.8,778.61 264.58,787.34 270.37,787.34 276.16,787.34 281.94,800.43 287.73,800.43 293.51,804.79 299.3,809.16 305.08,813.52 310.87,813.52 316.65,822.24 322.44,822.24 328.23,822.24 334.01,826.61 339.8,830.97 345.58,830.97 351.37,835.33 357.15,839.7 362.94,839.7 368.73,839.7 374.51,844.06 380.3,848.42 386.08,848.42 391.87,852.79 397.65,852.79 403.44,857.15 409.23,857.15 415.01,861.51 420.8,861.51 426.58,865.87 432.37,865.87 438.15,865.87 443.94,870.24 449.72,874.6 455.51,874.6 461.3,883.33 467.08,883.33 472.87,883.33 478.65,883.33 484.44,892.05 490.22,892.05 496.01,892.05 501.8,896.41 507.58,896.41 513.37,900.78 519.15,905.14 524.94,905.14 530.72,905.14 536.51,905.14 542.29,909.5 548.08,909.5 553.87,909.5 559.65,909.5 565.44,913.87 571.22,913.87 577.01,913.87 582.79,922.59 588.58,922.59 594.37,922.59 600.15,922.59 605.94,926.96 611.72,926.96 617.51,940.04 623.29,940.04 629.08,940.04 634.87,940.04 640.65,940.04 646.44,944.41 652.22,944.41 658.01,944.41 663.79,944.41 669.58,944.41 675.36,944.41 681.15,953.13 686.94,953.13 692.72,953.13"/>
<polyline stroke="#1f78b4" points="119.94,656.45 125.73,660.81 131.51,678.27 137.3,691.36 143.09,695.72 148.87,713.17 154.66,739.35 160.44,752.44 166.23,761.16 172.01,774.25 177.8,804.79 183.58,809.16 189.37,817.88 195.16,830.97 200.94,848.42 206.73,848.42 212.51,861.51 218.3,865.87 224.08,870.24 229.87,878.96 235.66,900.78 241.44,900.78 247.23,900.78 253.01,900.78 258.8,905.14 264.58,913.87 270.37,922.59 276.16,922.59 281.94,931.32 287.73,940.04 293.51,940.04 299.3,940.04 305.08,948.77 310.87,957.5 316.65,957.5 322.44,957.5 328.23,957.5 334.01,966.22 339.8,966.22 345.58,966.22 351.37,966.22 357.15,974.95 362.94,974.95 368.73,974.95 374.51,974.95 380.3,983.67 386.08,983.67 391.87,983.67 397.65,988.04 403.44,988.04 409.23,988.04 415.01,992.4 420.8,996.76 426.58,996.76 432.37,1005.49 438.15,1005.49 443.94,1005.49 449.72,1005.49 455.51,1005.49 461.3,1005.49 467.08,1005.49 472.87,1005.49 478.65,1009.85 484.44,1009.85 490.22,1009.85 496.01,1009.85 501.8,1014.21 507.58,1014.21 513.37,1014.21 519.15,1014.21 524.94,1014.21 530.72,1018.58 536.51,1018.58 542.29,1018.58 548.08,1022.94 553.87,1022.94 559.65,1022.94 565.44,1022.94 571.22,1022.94 577.01,1022.94 582.79,1022.94 588.58,1022.94 594.37,1031.67 600.15,1031.67 605.94,1031.67 611.72,1031.67 617.51,1031.67 623.29,1031.67 629.08,1031.67 634.87,1031.67 640.65,1031.67 646.44,1031.67 652.22,1031.67 658.01,1031.67 663.79,1031.67 669.58,1031.67 675.36,1031.67 681.15,1031.67 686.94,1031.67 692.72,1036.03"/>
<polyline stroke="#a6cee3" points="119.94,656.45 125.73,660.81 131.51,665.18 137.3,669.54 143.09,682.63 148.87,682.63 154.66,700.08 160.44,713.17 166.23,713.17 172.01,713.17 177.8,726.26 183.58,726.26 189.37,730.62 195.16,739.35 200.94,748.07 206.73,748.07 212.51,752.44 218.3,752.44 224.08,769.89 229.87,769.89 235.66,769.89 241.44,769.89 247.23,782.98 253.01,782.98 258.8,791.7 264.58,796.07 270.37,796.07 276.16,800.43 281.94,804.79 287.73,804.79 293.51,804.79 299.3,813.52 305.08,813.52 310.87,817.88 316.65,817.88 322.44,822.24 328.23,822.24 334.01,826.61 339.8,830.97 345.58,830.97 351.37,830.97 357.15,839.7 362.94,839.7 368.73,844.06 374.51,844.06 380.3,848.42 386.08,848.42 391.87,857.15 397.65,857.15 403.44,865.87 409.23,865.87 415.01,865.87 420.8,865.87 426.58,870.24 432.37,878.96 438.15,878.96 443.94,878.96 449.72,878.96 455.51,878.96 461.3,878.96 467.08,896.41 472.87,896.41 478.65,896.41 484.44,896.41 490.22,896.41 496.01,900.78 501.8,900.78 507.58,900.78 513.37,918.23 519.15,918.23 524.94,918.23 530.72,918.23 536.51,918.23 542.29,918.23 548.08,918.23 553.87,918.23 559.65,918.23 565.44,918.23 571.22,918.23 577.01,922.59 582.79,926.96 588.58,926.96 594.37,926.96 600.15,931.32 605.94,935.68 611.72,935.68 617.51,948.77 623.29,948.77 629.08,948.77 634.87,948.77 640.65,948.77 646.44,948.77 652.22,948.77 658.01,948.77 663.79,957.5 669.58,957.5 675.36,957.5 681.15,957.5 686.94,957.5 692.72,957.5"/>
<polyline stroke="#1f78b4" points="119.94,656.45 125.73,656.45 131.51,660.81 137.3,669.54 143.09,686.99 148.87,708.81 154.66,726.26 160.44,748.07 166.23,752.44 172.01,765.53 177.8,782.98 183.58,800.43 189.37,813.52 195.16,826.61 200.94,830.97 206.73,848.42 212.51,848.42 218.3,848.42 224.08,857.15 229.87,865.87 235.66,878.96 241.44,883.33 247.23,883.33 253.01,896.41 258.8,896.41 264.58,913.87 270.37,913.87 276.16,918.23 281.94,918.23 287.73,931.32 293.51,935.68 299.3,935.68 305.08,935.68 310.87,940.04 316.65,944.41 322.44,948.77 328.23,953.13 334.01,953.13 339.8,961.86 345.58,961.86 351.37,961.86 357.15,961.86 362.94,961.86 368.73,966.22 374.51,966.22 380.3,966.22 386.08,974.95 391.87,974.95 397.65,974.95 403.44,979.31 409.23,983.67 415.01,983.67 420.8,983.67 426.58,983.67 432.37,983.67 438.15,992.4 443.94,992.4 449.72,992.4 455.51,992.4 461.3,992.4 467.08,992.4 472.87,1005.49 478.65,1005.49 484.44,1005.49 490.22,1005.49 496.01,1005.49 501.8,1005.49 507.58,1005.49 513.37,1005.49 519.15,1009.85 524.94,1009.85 530.72,1022.94 536.51,1022.94 542.29,1022.94 548.08,1022.94 553.87,1022.94 559.65,1022.94 565.44,1022.94 571.22,1022.94 577.01,1022.94 582.79,1031.67 588.58,1031.67 594.37,1031.67 600.15,1031.67 605.94,1031.67 611.72,1031.67 617.51,1031.67 623.29,1031.67 629.08,1031.67 634.87,1031.67 640.65,1031.67 646.44,1031.67 652.22,1031.67 658.01,1031.67 663.79,1031.67 669.58,1031.67 675.36,1036.03 681.15,1036.03 686.94,1036.03 692.72,1036.03"/>
<polyline stroke="#a6cee3" points="119.94,656.45 125.73,660.81 131.51,665.18 137.3,665.18 143.09,669.54 148.87,678.27 154.66,700.08 160.44,704.44 166.23,708.81 172.01,713.17 177.8,717.53 183.58,721.9 189.37,743.71 195.16,743.71 200.94,743.71 206.73,752.44 212.51,756.8 218.3,761.16 224.08,765.53 229.87,769.89 235.66,774.25 241.44,791.7 247.23,791.7 253.01,791.7 258.8,800.43 264.58,800.43 270.37,800.43 276.16,804.79 281.94,809.16 287.73,817.88 293.51,817.88 299.3,822.24 305.08,822.24 310.87,835.33 316.65,835.33 322.44,835.33 328.23,835.33 334.01,835.33 339.8,835.33 345.58,844.06 351.37,844.06 357.15,844.06 362.94,844.06 368.73,844.06 374.51,848.42 380.3,848.42 386.08,857.15 391.87,861.51 397.65,861.51 403.44,870.24 409.23,870.24 415.01,870.24 420.8,874.6 426.58,874.6 432.37,874.6 438.15,874.6 443.94,883.33 449.72,883.33 455.51,883.33 461.3,883.33 467.08,896.41 472.87,896.41 478.65,896.41 484.44,896.41 490.22,896.41 496.01,896.41 501.8,900.78 507.58,900.78 513.37,900.78 519.15,900.78 524.94,905.14 530.72,905.14 536.51,905.14 542.29,905.14 548.08,909.5 553.87,918.23 559.65,918.23 565.44,918.23 571.22,918.23 577.01,918.23 582.79,922.59 588.58,922.59 594.37,931.32 600.15,931.32 605.94,940.04 611.72,940.04 617.51,940.04 623.29,944.41 629.08,944.41 634.87,944.41 640.65,948.77 646.44,948.77 652.22,948.77 658.01,948.77 663.79,953.13 669.58,953.13 675.36,953.13 681.15,953.13 686.94,953.13 692.72,953.13"/>
<polyline stroke="#1f78b4" points="119.94,656.45 125.73,665.18 131.51,669.54 137.3,686.99 143.09,726.26 148.87,734.99 154.66,743.71 160.44,791.7 166.23,791.7 172.01,800.43 177.8,809.16 183.58,826.61 189.37,835.33 195.16,848.42 200.94,857.15 206.73,861.51 212.51,870.24 218.3,874.6 224.08,883.33 229.87,896.41 235.66,896.41 241.44,900.78 247.23,913.87 253.01,922.59 258.8,931.32 264.58,931.32 270.37,931.32 276.16,935.68 281.94,944.41 287.73,944.41 293.51,948.77 299.3,948.77 305.08,957.5 310.87,957.5 316.65,957.5 322.44,957.5 328.23,957.5 334.01,961.86 339.8,966.22 345.58,966.22 351.37,974.95 357.15,974.95 362.94,979.31 368.73,979.31 374.51,983.67 380.3,983.67 386.08,983.67 391.87,988.04 397.65,992.4 403.44,992.4 409.23,992.4 415.01,996.76 420.8,996.76 426.58,996.76 432.37,1001.13 438.15,1001.13 443.94,1001.13 449.72,1009.85 455.51,1009.85 461.3,1009.85 467.08,1009.85 472.87,1009.85 478.65,1009.85 484.44,1009.85 490.22,1009.85 496.01,1014.21 501.8,1018.58 507.58,1018.58 513.37,1022.94 519.15,1022.94 524.94,1022.94 530.72,1022.94 536.51,1022.94 542.29,1027.3 548.08,1027.3 553.87,1027.3 559.65,1027.3 565.44,1027.3 571.22,1031.67 577.01,1031.67 582.79,1031.67 588.58,1031.67 594.37,1031.67 600.15,1031.67 605.94,1031.67 611.72,1031.67 617.51,1031.67 623.29,1031.67 629.08,1031.67 634.87,1031.67 640.65,1031.67 646.44,1031.67 652.22,1031.67 658.01,1031.67 663.79,1031.67 669.58,1036.03 675.36,1036.03 681.15,1036.03 686.94,1036.03 692.72,1036.03"/>
<polyline stroke="#a6cee3" points="119.94,656.45 125.73,656.45 131.51,660.81 137.3,660.81 143.09,669.54 148.87,673.9 154.66,678.27 160.44,682.63 166.23,682.63 172.01,695.72 177.8,695.72 183.58,704.44 189.37,713.17 195.16,713.17 200.94,717.53 206.73,717.53 212.51,717.53 218.3,726.26 224.08,726.26 229.87,726.26 235.66,743.71 241.44,743.71 247.23,743.71 253.01,743.71 258.8,752.44 264.58,756.8 270.37,761.16 276.16,765.53 281.94,765.53 287.73,769.89 293.51,774.25 299.3,774.25 305.08,778.61 310.87,791.7 316.65,791.7 322.44,796.07 328.23,800.43 334.01,800.43 339.8,804.79 345.58,809.16 351.37,809.16 357.15,809.16 362.94,809.16 368.73,817.88 374.51,817.88 380.3,822.24 386.08,826.61 391.87,830.97 397.65,830.97 403.44,830.97 409.23,844.06 415.01,844.06 420.8,844.06 426.58,844.06 432.37,848.42 438.15,848.42 443.94,852.79 449.72,852.79 455.51,852.79 461.3,857.15 467.08,861.51 472.87,865.87 478.65,865.87 484.44,874.6 490.22,874.6 496.01,874.6 501.8,874.6 507.58,878.96 513.37,878.96 519.15,878.96 524.94,878.96 530.72,883.33 536.51,887.69 542.29,892.05 548.08,896.41 553.87,900.78 559.65,900.78 565.44,900.78 571.22,900.78 577.01,909.5 582.79,909.5 588.58,909.5 594.37,909.5 600.15,909.5 605.94,909.5 611.72,909.5 617.51,922.59 623.29,922.59 629.08,922.59 634.87,922.59 640.65,922.59 646.44,922.59 652.22,922.59 658.01,922.59 663.79,922.59 669.58,922.59 675.36,922.59 681.15,922.59 686.94,922.59 692.72,922.59"/>
<polyline stroke="#1f78b4" points="119.94,656.45 125.73,665.18 131.51,682.63 137.3,695.72 143.09,713.17 148.87,752.44 154.66,761.16 160.44,800.43 166.23,809.16 172.01,822.24 177.8,835.33 183.58,835.33 189.37,852.79 195.16,857.15 200.94,874.6 206.73,874.6 212.51,883.33 218.3,887.69 224.08,896.41 229.87,905.14 235.66,909.5 241.44,913.87 247.23,926.96 253.01,926.96 258.8,931.32 264.58,940.04 270.37,944.41 276.16,948.77 281.94,948.77 287.73,957.5 293.51,966.22 299.3,966.22 305.08,966.22 310.87,979.31 316.65,979.31 322.44,979.31 328.23,979.31 334.01,979.31 339.8,979.31 345.58,983.67 351.37,988.04 357.15,988.04 362.94,992.4 368.73,996.76 374.51,996.76 380.3,1009.85 386.08,1009.85 391.87,1009.85 397.65,1009.85 403.44,1009.85 409.23,1009.85 415.01,1014.21 420.8,1014.21 426.58,1014.21 432.37,1018.58 438.15,1018.58 443.94,1018.58 449.72,1018.58 455.51,1018.58 461.3,1022.94 467.08,1022.94 472.87,1022.94 478.65,1022.94 484.44,1022.94 490.22,1022.94 496.01,1027.3 501.8,1031.67 507.58,1031.67 513.37,1031.67 519.15,1036.03 524.94,1036.03 530.72,1036.03 536.51,1036.03 542.29,1036.03 548.08,1036.03 553.87,1036.03 559.65,1036.03 565.44,1036.03 571.22,1036.03 577.01,1036.03 582.79,1036.03 588.58,1036.03 594.37,1036.03 600.15,1036.03 605.94,1036.03 611.72,1036.03 617.51,1036.03 623.29,1036.03 629.08,1036.03 634.87,1036.03 640.65,1036.03 646.44,1036.03 652.22,1040.39 658.01,1040.39 663.79,1040.39 669.58,1040.39 675.36,1049.12 681.15,1049.12 686.94,1049.12 692.72,1049.12"/>
<polyline stroke="#a6cee3" points="119.94,656.45 125.73,660.81 131.51,665.18 137.3,669.54 143.09,669.54 148.87,682.63 154.66,704.44 160.44,704.44 166.23,713.17 172.01,717.53 177.8,717.53 183.58,726.26 189.37,730.62 195.16,743.71 200.94,748.07 206.73,752.44 212.51,752.44 218.3,761.16 224.08,765.53 229.87,769.89 235.66,774.25 241.44,778.61 247.23,791.7 253.01,796.07 258.8,796.07 264.58,809.16 270.37,809.16 276.16,809.16 281.94,809.16 287.73,809.16 293.51,809.16 299.3,813.52 305.08,813.52 310.87,822.24 316.65,826.61 322.44,826.61 328.23,830.97 334.01,830.97 339.8,835.33 345.58,835.33 351.37,835.33 357.15,839.7 362.94,839.7 368.73,839.7 374.51,844.06 380.3,844.06 386.08,852.79 391.87,852.79 397.65,852.79 403.44,857.15 409.23,857.15 415.01,857.15 420.8,861.51 426.58,865.87 432.37,865.87 438.15,865.87 443.94,874.6 449.72,874.6 455.51,878.96 461.3,878.96 467.08,878.96 472.87,878.96 478.65,878.96 484.44,878.96 490.22,887.69 496.01,887.69 501.8,887.69 507.58,887.69 513.37,887.69 519.15,896.41 524.94,896.41 530.72,900.78 536.51,900.78 542.29,900.78 548.08,905.14 553.87,909.5 559.65,913.87 565.44,913.87 571.22,918.23 577.01,918.23 582.79,918.23 588.58,926.96 594.37,926.96 600.15,926.96 605.94,926.96 611.72,931.32 617.51,931.32 623.29,931.32 629.08,931.32 634.87,944.41 640.65,944.41 646.44,948.77 652.22,948.77 658.01,948.77 663.79,948.77 669.58,948.77 675.36,948.77 681.15,948.77 686.94,948.77 692.72,948.77"/>
<polyline stroke="#1f78b4" points="119.94,656.45 125.73,660.81 131.51,678.27 137.3,686.99 143.09,708.81 148.87,726.26 154.66,739.35 160.44,765.53 166.23,774.25 172.01,809.16 177.8,809.16 183.58,817.88 189.37,826.61 195.16,844.06 200.94,844.06 206.73,861.51 212.51,861.51 218.3,865.87 224.08,878.96 229.87,883.33 235.66,887.69 241.44,905.14 247.23,905.14 253.01,909.5 258.8,913.87 264.58,918.23 270.37,926.96 276.16,931.32 281.94,940.04 287.73,940.04 293.51,940.04 299.3,944.41 305.08,944.41 310.87,961.86 316.65,961.86 322.44,961.86 328.23,961.86 334.01,961.86 339.8,970.59 345.58,970.59 351.37,970.59 357.15,974.95 362.94,979.31 368.73,979.31 374.51,983.67 380.3,988.04 386.08,988.04 391.87,988.04 397.65,988.04 403.44,992.4 409.23,996.76 415.01,996.76 420.8,1001.13 426.58,1001.13 432.37,1001.13 438.15,1001.13 443.94,1001.13 449.72,1009.85 455.51,1009.85 461.3,1009.85 467.08,1009.85 472.87,1009.85 478.65,1009.85 484.44,1009.85 490.22,1009.85 496.01,1009.85 501.8,1009.85 507.58,1009.85 513.37,1009.85 519.15,1014.21 524.94,1014.21 530.72,1018.58 536.51,1018.58 542.29,1022.94 548.08,1022.94 553.87,1022.94 559.65,1022.94 565.44,1022.94 571.22,1027.3 577.01,1027.3 582.79,1027.3 588.58,1027.3 594.37,1027.3 600.15,1027.3 605.94,1027.3 611.72,1031.67 617.51,1031.67 623.29,1031.67 629.08,1031.67 634.87,1031.67 640.65,1036.03 646.44,1036.03 652.22,1036.03 658.01,1036.03 663.79,1036.03 669.58,1036.03 675.36,1036.03 681.15,1040.39 686.94,1040.39 692.72,1040.39"/>
<polyline stroke="#a6cee3" points="119.94,656.45 125.73,665.18 131.51,665.18 137.3,665.18 143.09,673.9 148.87,678.27 154.66,695.72 160.44,700.08 166.23,704.44 172.01,713.17 177.8,721.9 183.58,726.26 189.37,730.62 195.16,739.35 200.94,743.71 206.73,752.44 212.51,752.44 218.3,756.8 224.08,769.89 229.87,769.89 235.66,774.25 241.44,778.61 247.23,778.61 253.01,782.98 258.8,800.43 264.58,800.43 270.37,804.79 276.16,804.79 281.94,804.79 287.73,809.16 293.51,809.16 299.3,809.16 305.08,809.16 310.87,813.52 316.65,822.24 322.44,826.61 328.23,830.97 334.01,830.97 339.8,830.97 345.58,839.7 351.37,839.7 357.15,839.7 362.94,839.7 368.73,839.7 374.51,839.7 380.3,848.42 386.08,848.42 391.87,848.42 397.65,852.79 403.44,857.15 409.23,857.15 415.01,857.15 420.8,861.51 426.58,865.87 432.37,865.87 438.15,874.6 443.94,874.6 449.72,878.96 455.51,878.96 461.3,883.33 467.08,883.33 472.87,887.69 478.65,896.41 484.44,896.41 490.22,896.41 496.01,896.41 501.8,900.78 507.58,900.78 513.37,913.87 519.15,913.87 524.94,913.87 530.72,913.87 536.51,913.87 542.29,913.87 548.08,913.87 553.87,913.87 559.65,913.87 565.44,913.87 571.22,913.87 577.01,918.23 582.79,918.23 588.58,918.23 594.37,931.32 600.15,931.32 605.94,931.32 611.72,931.32 617.51,931.32 623.29,935.68 629.08,935.68 634.87,940.04 640.65,944.41 646.44,944.41 652.22,944.41 658.01,944.41 663.79,944.41 669.58,944.41 675.36,944.41 681.15,948.77 686.94,948.77 692.72,948.77"/>
<polyline stroke="#1f78b4" points="119.94,656.45 125.73,660.81 131.51,669.54 137.3,673.9 143.09,691.36 148.87,704.44 154.66,721.9 160.44,743.71 166.23,761.16 172.01,769.89 177.8,782.98 183.58,804.79 189.37,804.79 195.16,813.52 200.94,844.06 206.73,844.06 212.51,848.42 218.3,852.79 224.08,857.15 229.87,874.6 235.66,874.6 241.44,878.96 247.23,892.05 253.01,892.05 258.8,900.78 264.58,905.14 270.37,905.14 276.16,913.87 281.94,918.23 287.73,926.96 293.51,926.96 299.3,926.96 305.08,926.96 310.87,935.68 316.65,935.68 322.44,944.41 328.23,944.41 334.01,944.41 339.8,948.77 345.58,948.77 351.37,948.77 357.15,948.77 362.94,953.13 368.73,957.5 374.51,961.86 380.3,966.22 386.08,966.22 391.87,970.59 397.65,970.59 403.44,979.31 409.23,979.31 415.01,979.31 420.8,979.31 426.58,988.04 432.37,988.04 438.15,988.04 443.94,988.04 449.72,988.04 455.51,988.04 461.3,996.76 467.08,996.76 472.87,996.76 478.65,996.76 484.44,1001.13 490.22,1001.13 496.01,1001.13 501.8,1001.13 507.58,1001.13 513.37,1005.49 519.15,1009.85 524.94,1009.85 530.72,1014.21 536.51,1014.21 542.29,1014.21 548.08,1014.21 553.87,1014.21 559.65,1018.58 565.44,1018.58 571.22,1018.58 577.01,1018.58 582.79,1018.58 588.58,1018.58 594.37,1018.58 600.15,1018.58 605.94,1018.58 611.72,1018.58 617.51,1018.58 623.29,1022.94 629.08,1022.94 634.87,1022.94 640.65,1022.94 646.44,1022.94 652.22,1022.94 658.01,1022.94 663.79,1022.94 669.58,1022.94 675.36,1022.94 681.15,1022.94 686.94,1022.94 692.72,1022.94"/>
<polyline stroke="#a6cee3" points="119.94,656.45 125.73,660.81 131.51,660.81 137.3,660.81 143.09,669.54 148.87,673.9 154.66,678.27 160.44,682.63 166.23,695.72 172.01,700.08 177.8,704.44 183.58,708.81 189.37,717.53 195.16,721.9 200.94,721.9 206.73,721.9 212.51,726.26 218.3,752.44 224.08,752.44 229.87,752.44 235.66,752.44 241.44,756.8 247.23,761.16 253.01,765.53 258.8,765.53 264.58,769.89 270.37,787.34 276.16,787.34 281.94,787.34 287.73,787.34 293.51,791.7 299.3,800.43 305.08,804.79 310.87,804.79 316.65,809.16 322.44,809.16 328.23,813.52 334.01,817.88 339.8,830.97 345.58,830.97 351.37,830.97 357.15,830.97 362.94,830.97 368.73,835.33 374.51,835.33 380.3,835.33 386.08,848.42 391.87,848.42 397.65,848.42 403.44,852.79 409.23,857.15 415.01,857.15 420.8,865.87 426.58,865.87 432.37,865.87 438.15,865.87 443.94,870.24 449.72,870.24 455.51,874.6 461.3,874.6 467.08,887.69 472.87,887.69 478.65,887.69 484.44,887.69 490.22,887.69 496.01,887.69 501.8,887.69 507.58,892.05 513.37,896.41 519.15,900.78 524.94,905.14 530.72,905.14 536.51,905.14 542.29,905.14 548.08,905.14 553.87,909.5 559.65,909.5 565.44,909.5 571.22,909.5 577.01,922.59 582.79,922.59 588.58,922.59 594.37,922.59 600.15,922.59 605.94,926.96 611.72,926.96 617.51,931.32 623.29,940.04 629.08,940.04 634.87,940.04 640.65,940.04 646.44,940.04 652.22,940.04 658.01,940.04 663.79,940.04 669.58,940.04 675.36,948.77 681.15,948.77 686.94,948.77 692.72,948.77"/>
<polyline stroke="#1f78b4" points="119.94,656.45 125.73,656.45 131.51,669.54 137.3,673.9 143.09,691.36 148.87,704.44 154.66,726.26 160.44,743.71 166.23,761.16 172.01,782.98 177.8,791.7 183.58,796.07 189.37,813.52 195.16,822.24 200.94,835.33 206.73,839.7 212.51,865.87 218.3,865.87 224.08,874.6 229.87,878.96 235.66,887.69 241.44,892.05 247.23,892.05 253.01,905.14 258.8,909.5 264.58,913.87 270.37,913.87 276.16,926.96 281.94,931.32 287.73,940.04 293.51,940.04 299.3,944.41 305.08,953.13 310.87,953.13 316.65,953.13 322.44,957.5 328.23,957.5 334.01,957.5 339.8,957.5 345.58,966.22 351.37,966.22 357.15,966.22 362.94,974.95 368.73,979.31 374.51,979.31 380.3,979.31 386.08,988.04 391.87,988.04 397.65,988.04 403.44,992.4 409.23,992.4 415.01,992.4 420.8,992.4 426.58,992.4 432.37,1001.13 438.15,1001.13 443.94,1001.13 449.72,1005.49 455.51,1005.49 461.3,1009.85 467.08,1009.85 472.87,1014.21 478.65,1014.21 484.44,1018.58 490.22,1018.58 496.01,1018.58 501.8,1018.58 507.58,1018.58 513.37,1022.94 519.15,1022.94 524.94,1022.94 530.72,1022.94 536.51,1036.03 542.29,1036.03 548.08,1036.03 553.87,1036.03 559.65,1036.03 565.44,1036.03 571.22,1036.03 577.01,1036.03 582.79,1036.03 588.58,1036.03 594.37,1036.03 600.15,1036.03 605.94,1036.03 611.72,1036.03 617.51,1036.03 623.29,1036.03 629.08,1040.39 634.87,1040.39 640.65,1040.39 646.44,1040.39 652.22,1040.39 658.01,1040.39 663.79,1044.76 669.58,1044.76 675.36,1044.76 681.15,1044.76 686.94,1044.76 692.72,1044.76"/>
<polyline stroke="#a6cee3" points="119.94,656.45 125.73,656.45 131.51,660.81 137.3,660.81 143.09,665.18 148.87,673.9 154.66,682.63 160.44,686.99 166.23,686.99 172.01,691.36 177.8,708.81 183.58,708.81 189.37,713.17 195.16,713.17 200.94,717.53 206.73,717.53 212.51,730.62 218.3,730.62 224.08,730.62 229.87,734.99 235.66,743.71 241.44,748.07 247.23,761.16 253.01,761.16 258.8,761.16 264.58,769.89 270.37,769.89 276.16,774.25 281.94,782.98 287.73,782.98 293.51,787.34 299.3,787.34 305.08,796.07 310.87,804.79 316.65,804.79 322.44,804.79 328.23,809.16 334.01,809.16 339.8,813.52 345.58,817.88 351.37,822.24 357.15,822.24 362.94,826.61 368.73,826.61 374.51,826.61 380.3,844.06 386.08,844.06 391.87,844.06 397.65,844.06 403.44,844.06 409.23,848.42 415.01,852.79 420.8,852.79 426.58,857.15 432.37,861.51 438.15,861.51 443.94,870.24 449.72,870.24 455.51,870.24 461.3,870.24 467.08,870.24 472.87,870.24 478.65,874.6 484.44,874.6 490.22,874.6 496.01,883.33 501.8,883.33 507.58,883.33 513.37,883.33 519.15,887.69 524.94,887.69 530.72,887.69 536.51,887.69 542.29,892.05 548.08,892.05 553.87,892.05 559.65,892.05 565.44,892.05 571.22,900.78 577.01,900.78 582.79,900.78 588.58,900.78 594.37,900.78 600.15,900.78 605.94,900.78 611.72,905.14 617.51,905.14 623.29,905.14 629.08,905.14 634.87,909.5 640.65,909.5 646.44,909.5 652.22,913.87 658.01,913.87 663.79,913.87 669.58,918.23 675.36,918.23 681.15,918.23 686.94,918.23 692.72,918.23"/>
<polyline stroke="#1f78b4" points="119.94,656.45 125.73,665.18 131.51,673.9 137.3,686.99 143.09,721.9 148.87,748.07 154.66,765.53 160.44,787.34 166.23,796.07 172.01,817.88 177.8,826.61 183.58,835.33 189.37,852.79 195.16,857.15 200.94,870.24 206.73,874.6 212.51,892.05 218.3,892.05 224.08,896.41 229.87,905.14 235.66,913.87 241.44,918.23 247.23,931.32 253.01,935.68 258.8,948.77 264.58,948.77 270.37,948.77 276.16,957.5 281.94,957.5 287.73,970.59 293.51,970.59 299.3,970.59 305.08,970.59 310.87,970.59 316.65,974.95 322.44,983.67 328.23,983.67 334.01,983.67 339.8,983.67 345.58,983.67 351.37,988.04 357.15,1001.13 362.94,1001.13 368.73,1001.13 374.51,1001.13 380.3,1005.49 386.08,1018.58 391.87,1018.58 397.65,1018.58 403.44,1018.58 409.23,1018.58 415.01,1018.58 420.8,1018.58 426.58,1027.3 432.37,1027.3 438.15,1027.3 443.94,1027.3 449.72,1027.3 455.51,1027.3 461.3,1027.3 467.08,1027.3 472.87,1027.3 478.65,1031.67 484.44,1031.67 490.22,1031.67 496.01,1036.03 501.8,1036.03 507.58,1036.03 513.37,1036.03 519.15,1036.03 524.94,1040.39 530.72,1040.39 536.51,1040.39 542.29,1040.39 548.08,1040.39 553.87,1044.76 559.65,1044.76 565.44,1044.76 571.22,1044.76 577.01,1044.76 582.79,1044.76 588.58,1044.76 594.37,1044.76 600.15,1044.76 605.94,1044.76 611.72,1044.76 617.51,1044.76 623.29,1044.76 629.08,1044.76 634.87,1044.76 640.65,1044.76 646.44,1044.76 652.22,1049.12 658.01,1049.12 663.79,1057.84 669.58,1057.84 675.36,1057.84 681.15,1057.84 686.94,1057.84 692.72,1057.84"/>
<polyline stroke="#a6cee3" points="119.94,656.45 125.73,656.45 131.51,660.81 137.3,660.81 143.09,673.9 148.87,678.27 154.66,682.63 160.44,695.72 166.23,695.72 172.01,704.44 177.8,704.44 183.58,708.81 189.37,717.53 195.16,726.26 200.94,730.62 206.73,734.99 212.51,739.35 218.3,748.07 224.08,748.07 229.87,752.44 235.66,769.89 241.44,769.89 247.23,769.89 253.01,782.98 258.8,782.98 264.58,782.98 270.37,787.34 276.16,791.7 281.94,796.07 287.73,796.07 293.51,800.43 299.3,804.79 305.08,813.52 310.87,813.52 316.65,813.52 322.44,817.88 328.23,817.88 334.01,817.88 339.8,817.88 345.58,822.24 351.37,822.24 357.15,826.61 362.94,826.61 368.73,830.97 374.51,835.33 380.3,839.7 386.08,848.42 391.87,848.42 397.65,848.42 403.44,848.42 409.23,865.87 415.01,865.87 420.8,865.87 426.58,865.87 432.37,865.87 438.15,865.87 443.94,874.6 449.72,874.6 455.51,874.6 461.3,878.96 467.08,883.33 472.87,883.33 478.65,883.33 484.44,905.14 490.22,905.14 496.01,905.14 501.8,905.14 507.58,905.14 513.37,905.14 519.15,905.14 524.94,905.14 530.72,905.14 536.51,905.14 542.29,905.14 548.08,905.14 553.87,913.87 559.65,913.87 565.44,913.87 571.22,913.87 577.01,913.87 582.79,913.87 588.58,913.87 594.37,918.23 600.15,918.23 605.94,922.59 611.72,931.32 617.51,931.32 623.29,931.32 629.08,931.32 634.87,931.32 640.65,931.32 646.44,935.68 652.22,935.68 658.01,935.68 663.79,935.68 669.58,944.41 675.36,944.41 681.15,944.41 686.94,944.41 692.72,944.41"/>
<polyline stroke="#1f78b4" points="119.94,656.45 125.73,673.9 131.51,678.27 137.3,695.72 143.09,717.53 148.87,743.71 154.66,761.16 160.44,782.98 166.23,791.7 172.01,804.79 177.8,835.33 183.58,835.33 189.37,848.42 195.16,857.15 200.94,861.51 206.73,870.24 212.51,874.6 218.3,887.69 224.08,892.05 229.87,896.41 235.66,900.78 241.44,918.23 247.23,918.23 253.01,931.32 258.8,940.04 264.58,948.77 270.37,948.77 276.16,948.77 281.94,953.13 287.73,961.86 293.51,974.95 299.3,974.95 305.08,974.95 310.87,974.95 316.65,974.95 322.44,974.95 328.23,974.95 334.01,979.31 339.8,979.31 345.58,979.31 351.37,983.67 357.15,983.67 362.94,988.04 368.73,992.4 374.51,996.76 380.3,996.76 386.08,996.76 391.87,1005.49 397.65,1005.49 403.44,1014.21 409.23,1014.21 415.01,1014.21 420.8,1014.21 426.58,1014.21 432.37,1018.58 438.15,1018.58 443.94,1018.58 449.72,1018.58 455.51,1018.58 461.3,1018.58 467.08,1018.58 472.87,1022.94 478.65,1022.94 484.44,1022.94 490.22,1022.94 496.01,1022.94 501.8,1022.94 507.58,1022.94 513.37,1022.94 519.15,1027.3 524.94,1027.3 530.72,1027.3 536.51,1027.3 542.29,1027.3 548.08,1031.67 553.87,1031.67 559.65,1031.67 565.44,1031.67 571.22,1031.67 577.01,1031.67 582.79,1036.03 588.58,1036.03 594.37,1036.03 600.15,1036.03 605.94,1036.03 611.72,1036.03 617.51,1036.03 623.29,1040.39 629.08,1040.39 634.87,1040.39 640.65,1040.39 646.44,1040.39 652.22,1040.39 658.01,1040.39 663.79,1044.76 669.58,1044.76 675.36,1044.76 681.15,1044.76 686.94,1044.76 692.72,1044.76"/>
<polyline stroke="#a6cee3" points="119.94,656.45 125.73,656.45 131.51,660.81 137.3,660.81 143.09,673.9 148.87,673.9 154.66,678.27 160.44,682.63 166.23,686.99 172.01,691.36 177.8,700.08 183.58,700.08 189.37,704.44 195.16,713.17 200.94,717.53 206.73,717.53 212.51,726.26 218.3,726.26 224.08,734.99 229.87,734.99 235.66,743.71 241.44,743.71 247.23,748.07 253.01,761.16 258.8,761.16 264.58,765.53 270.37,769.89 276.16,769.89 281.94,774.25 287.73,778.61 293.51,782.98 299.3,787.34 305.08,787.34 310.87,791.7 316.65,800.43 322.44,800.43 328.23,800.43 334.01,809.16 339.8,813.52 345.58,817.88 351.37,817.88 357.15,817.88 362.94,817.88 368.73,817.88 374.51,826.61 380.3,826.61 386.08,830.97 391.87,830.97 397.65,835.33 403.44,835.33 409.23,835.33 415.01,844.06 420.8,844.06 426.58,844.06 432.37,844.06 438.15,844.06 443.94,848.42 449.72,852.79 455.51,852.79 461.3,857.15 467.08,857.15 472.87,857.15 478.65,857.15 484.44,861.51 490.22,865.87 496.01,865.87 501.8,874.6 507.58,874.6 513.37,874.6 519.15,874.6 524.94,874.6 530.72,874.6 536.51,878.96 542.29,878.96 548.08,892.05 553.87,892.05 559.65,892.05 565.44,892.05 571.22,892.05 577.01,896.41 582.79,896.41 588.58,900.78 594.37,900.78 600.15,905.14 605.94,905.14 611.72,905.14 617.51,905.14 623.29,909.5 629.08,909.5 634.87,909.5 640.65,909.5 646.44,909.5 652.22,909.5 658.01,909.5 663.79,909.5 669.58,909.5 675.36,909.5 681.15,909.5 686.94,909.5 692.72,909.5"/>
<polyline stroke="#1f78b4" points="119.94,656.45 125.73,660.81 131.51,686.99 137.3,691.36 143.09,708.81 148.87,739.35 154.66,752.44 160.44,774.25 166.23,809.16 172.01,822.24 177.8,830.97 183.58,830.97 189.37,857.15 195.16,857.15 200.94,874.6 206.73,874.6 212.51,883.33 218.3,887.69 224.08,892.05 229.87,900.78 235.66,905.14 241.44,913.87 247.23,926.96 253.01,931.32 258.8,940.04 264.58,940.04 270.37,944.41 276.16,948.77 281.94,961.86 287.73,961.86 293.51,961.86 299.3,961.86 305.08,966.22 310.87,970.59 316.65,974.95 322.44,974.95 328.23,974.95 334.01,974.95 339.8,979.31 345.58,979.31 351.37,988.04 357.15,988.04 362.94,1001.13 368.73,1001.13 374.51,1001.13 380.3,1001.13 386.08,1005.49 391.87,1009.85 397.65,1018.58 403.44,1018.58 409.23,1018.58 415.01,1018.58 420.8,1018.58 426.58,1022.94 432.37,1022.94 438.15,1022.94 443.94,1022.94 449.72,1022.94 455.51,1027.3 461.3,1027.3 467.08,1027.3 472.87,1027.3 478.65,1031.67 484.44,1031.67 490.22,1040.39 496.01,1040.39 501.8,1040.39 507.58,1040.39 513.37,1040.39 519.15,1040.39 524.94,1040.39 530.72,1040.39 536.51,1040.39 542.29,1040.39 548.08,1040.39 553.87,1040.39 559.65,1040.39 565.44,1049.12 571.22,1049.12 577.01,1049.12 582.79,1049.12 588.58,1049.12 594.37,1049.12 600.15,1049.12 605.94,1049.12 611.72,1049.12 617.51,1049.12 623.29,1049.12 629.08,1049.12 634.87,1049.12 640.65,1049.12 646.44,1057.84 652.22,1057.84 658.01,1057.84 663.79,1057.84 669.58,1057.84 675.36,1057.84 681.15,1057.84 686.94,1057.84 692.72,1057.84"/>
<polyline stroke="#a6cee3" points="119.94,656.45 125.73,656.45 131.51,656.45 137.3,656.45 143.09,673.9 148.87,673.9 154.66,673.9 160.44,673.9 166.23,678.27 172.01,678.27 177.8,682.63 183.58,691.36 189.37,695.72 195.16,700.08 200.94,700.08 206.73,704.44 212.51,708.81 218.3,721.9 224.08,721.9 229.87,730.62 235.66,734.99 241.44,734.99 247.23,743.71 253.01,743.71 258.8,748.07 264.58,748.07 270.37,752.44 276.16,752.44 281.94,761.16 287.73,761.16 293.51,765.53 299.3,774.25 305.08,774.25 310.87,782.98 316.65,782.98 322.44,787.34 328.23,787.34 334.01,796.07 339.8,796.07 345.58,796.07 351.37,796.07 357.15,796.07 362.94,800.43 368.73,804.79 374.51,813.52 380.3,813.52 386.08,813.52 391.87,817.88 397.65,826.61 403.44,826.61 409.23,826.61 415.01,830.97 420.8,835.33 426.58,835.33 432.37,839.7 438.15,844.06 443.94,848.42 449.72,848.42 455.51,852.79 461.3,857.15 467.08,857.15 472.87,861.51 478.65,861.51 484.44,861.51 490.22,861.51 496.01,865.87 501.8,865.87 507.58,870.24 513.37,870.24 519.15,878.96 524.94,878.96 530.72,878.96 536.51,878.96 542.29,878.96 548.08,883.33 553.87,883.33 559.65,892.05 565.44,900.78 571.22,900.78 577.01,900.78 582.79,900.78 588.58,900.78 594.37,900.78 600.15,900.78 605.94,900.78 611.72,900.78 617.51,905.14 623.29,905.14 629.08,909.5 634.87,913.87 640.65,913.87 646.44,913.87 652.22,913.87 658.01,913.87 663.79,922.59 669.58,922.59 675.36,922.59 681.15,922.59 686.94,922.59 692.72,922.59"/>
<polyline stroke="#1f78b4" points="119.94,656.45 125.73,660.81 131.51,678.27 137.3,695.72 143.09,717.53 148.87,730.62 154.66,778.61 160.44,791.7 166.23,796.07 172.01,817.88 177.8,826.61 183.58,835.33 189.37,844.06 195.16,857.15 200.94,874.6 206.73,874.6 212.51,887.69 218.3,887.69 224.08,900.78 229.87,905.14 235.66,909.5 241.44,922.59 247.23,922.59 253.01,935.68 258.8,935.68 264.58,940.04 270.37,953.13 276.16,953.13 281.94,953.13 287.73,961.86 293.51,961.86 299.3,961.86 305.08,966.22 310.87,974.95 316.65,974.95 322.44,974.95 328.23,974.95 334.01,979.31 339.8,979.31 345.58,988.04 351.37,992.4 357.15,992.4 362.94,996.76 368.73,996.76 374.51,996.76 380.3,1001.13 386.08,1001.13 391.87,1009.85 397.65,1009.85 403.44,1009.85 409.23,1014.21 415.01,1014.21 420.8,1014.21 426.58,1014.21 432.37,1014.21 438.15,1018.58 443.94,1018.58 449.72,1018.58 455.51,1027.3 461.3,1027.3 467.08,1027.3 472.87,1027.3 478.65,1031.67 484.44,1031.67 490.22,1031.67 496.01,1031.67 501.8,1036.03 507.58,1036.03 513.37,1036.03 519.15,1036.03 524.94,1040.39 530.72,1040.39 536.51,1040.39 542.29,1040.39 548.08,1040.39 553.87,1040.39 559.65,1040.39 565.44,1044.76 571.22,1044.76 577.01,1044.76 582.79,1044.76 588.58,1044.76 594.37,1044.76 600.15,1044.76 605.94,1044.76 611.72,1044.76 617.51,1044.76 623.29,1044.76 629.08,1044.76 634.87,1044.76 640.65,1044.76 646.44,1044.76 652.22,1044.76 658.01,1044.76 663.79,1049.12 669.58,1049.12 675.36,1049.12 681.15,1049.12 686.94,1049.12 692.72,1049.12"/>
<polyline stroke="#a6cee3" points="119.94,656.45 125.73,665.18 131.51,665.18 137.3,665.18 143.09,673.9 148.87,678.27 154.66,704.44 160.44,704.44 166.23,704.44 172.01,704.44 177.8,708.81 183.58,713.17 189.37,721.9 195.16,730.62 200.94,748.07 206.73,748.07 212.51,748.07 218.3,752.44 224.08,756.8 229.87,756.8 235.66,769.89 241.44,769.89 247.23,769.89 253.01,782.98 258.8,782.98 264.58,791.7 270.37,804.79 276.16,804.79 281.94,804.79 287.73,809.16 293.51,813.52 299.3,813.52 305.08,813.52 310.87,817.88 316.65,817.88 322.44,822.24 328.23,830.97 334.01,835.33 339.8,835.33 345.58,839.7 351.37,844.06 357.15,844.06 362.94,844.06 368.73,844.06 374.51,848.42 380.3,848.42 386.08,848.42 391.87,852.79 397.65,857.15 403.44,857.15 409.23,870.24 415.01,870.24 420.8,870.24 426.58,870.24 432.37,874.6 438.15,874.6 443.94,874.6 449.72,874.6 455.51,887.69 461.3,887.69 467.08,887.69 472.87,887.69 478.65,887.69 484.44,896.41 490.22,896.41 496.01,896.41 501.8,896.41 507.58,905.14 513.37,905.14 519.15,905.14 524.94,905.14 530.72,905.14 536.51,905.14 542.29,905.14 548.08,905.14 553.87,909.5 559.65,913.87 565.44,918.23 571.22,918.23 577.01,922.59 582.79,926.96 588.58,926.96 594.37,940.04 600.15,940.04 605.94,940.04 611.72,940.04 617.51,944.41 623.29,944.41 629.08,944.41 634.87,948.77 640.65,948.77 646.44,948.77 652.22,953.13 658.01,953.13 663.79,953.13 669.58,953.13 675.36,953.13 681.15,957.5 686.94,957.5 692.72,957.5"/>
<polyline stroke="#1f78b4" points="119.94,656.45 125.73,660.81 131.51,678.27 137.3,695.72 143.09,721.9 148.87,743.71 154.66,761.16 160.44,778.61 166.23,796.07 172.01,809.16 177.8,822.24 183.58,830.97 189.37,844.06 195.16,848.42 200.94,861.51 206.73,870.24 212.51,874.6 218.3,878.96 224.08,892.05 229.87,892.05 235.66,905.14 241.44,918.23 247.23,922.59 253.01,922.59 258.8,940.04 264.58,944.41 270.37,944.41 276.16,944.41 281.94,944.41 287.73,957.5 293.51,957.5 299.3,957.5 305.08,961.86 310.87,974.95 316.65,974.95 322.44,974.95 328.23,974.95 334.01,974.95 339.8,974.95 345.58,983.67 351.37,983.67 357.15,983.67 362.94,983.67 368.73,992.4 374.51,992.4 380.3,996.76 386.08,996.76 391.87,1001.13 397.65,1001.13 403.44,1005.49 409.23,1009.85 415.01,1009.85 420.8,1009.85 426.58,1009.85 432.37,1014.21 438.15,1014.21 443.94,1014.21 449.72,1018.58 455.51,1018.58 461.3,1018.58 467.08,1018.58 472.87,1022.94 478.65,1022.94 484.44,1022.94 490.22,1022.94 496.01,1027.3 501.8,1027.3 507.58,1027.3 513.37,1027.3 519.15,1027.3 524.94,1027.3 530.72,1027.3 536.51,1027.3 542.29,1031.67 548.08,1031.67 553.87,1036.03 559.65,1036.03 565.44,1036.03 571.22,1036.03 577.01,1036.03 582.79,1036.03 588.58,1036.03 594.37,1049.12 600.15,1049.12 605.94,1049.12 611.72,1049.12 617.51,1049.12 623.29,1049.12 629.08,1049.12 634.87,1049.12 640.65,1049.12 646.44,1049.12 652.22,1049.12 658.01,1049.12 663.79,1049.12 669.58,1049.12 675.36,1049.12 681.15,1049.12 686.94,1049.12 692.72,1049.12"/>
<polyline stroke="#a6cee3" points="119.94,656.45 125.73,656.45 131.51,660.81 137.3,660.81 143.09,669.54 148.87,669.54 154.66,669.54 160.44,673.9 166.23,673.9 172.01,682.63 177.8,695.72 183.58,695.72 189.37,700.08 195.16,700.08 200.94,713.17 206.73,713.17 212.51,713.17 218.3,717.53 224.08,721.9 229.87,730.62 235.66,730.62 241.44,730.62 247.23,739.35 253.01,748.07 258.8,752.44 264.58,752.44 270.37,756.8 276.16,756.8 281.94,756.8 287.73,765.53 293.51,765.53 299.3,778.61 305.08,778.61 310.87,782.98 316.65,791.7 322.44,800.43 328.23,800.43 334.01,800.43 339.8,800.43 345.58,804.79 351.37,804.79 357.15,804.79 362.94,809.16 368.73,809.16 374.51,809.16 380.3,822.24 386.08,822.24 391.87,822.24 397.65,822.24 403.44,822.24 409.23,826.61 415.01,830.97 420.8,830.97 426.58,835.33 432.37,839.7 438.15,839.7 443.94,844.06 449.72,848.42 455.51,848.42 461.3,848.42 467.08,857.15 472.87,857.15 478.65,857.15 484.44,857.15 490.22,857.15 496.01,857.15 501.8,857.15 507.58,857.15 513.37,857.15 519.15,861.51 524.94,861.51 530.72,870.24 536.51,870.24 542.29,874.6 548.08,874.6 553.87,878.96 559.65,878.96 565.44,878.96 571.22,887.69 577.01,887.69 582.79,892.05 588.58,892.05 594.37,892.05 600.15,892.05 605.94,900.78 611.72,900.78 617.51,900.78 623.29,905.14 629.08,905.14 634.87,905.14 640.65,905.14 646.44,905.14 652.22,905.14 658.01,905.14 663.79,905.14 669.58,905.14 675.36,905.14 681.15,905.14 686.94,905.14 692.72,905.14"/>
<polyline stroke="#1f78b4" points="119.94,656.45 125.73,656.45 131.51,665.18 137.3,669.54 143.09,678.27 148.87,691.36 154.66,704.44 160.44,717.53 166.23,748.07 172.01,761.16 177.8,778.61 183.58,787.34 189.37,804.79 195.16,809.16 200.94,830.97 206.73,830.97 212.51,848.42 218.3,857.15 224.08,857.15 229.87,870.24 235.66,870.24 241.44,878.96 247.23,878.96 253.01,892.05 258.8,892.05 264.58,905.14 270.37,905.14 276.16,909.5 281.94,913.87 287.73,913.87 293.51,922.59 299.3,922.59 305.08,926.96 310.87,935.68 316.65,935.68 322.44,940.04 328.23,940.04 334.01,944.41 339.8,944.41 345.58,948.77 351.37,948.77 357.15,948.77 362.94,966.22 368.73,966.22 374.51,966.22 380.3,966.22 386.08,966.22 391.87,974.95 397.65,974.95 403.44,974.95 409.23,983.67 415.01,983.67 420.8,983.67 426.58,983.67 432.37,983.67 438.15,983.67 443.94,988.04 449.72,988.04 455.51,988.04 461.3,988.04 467.08,988.04 472.87,992.4 478.65,992.4 484.44,996.76 490.22,996.76 496.01,996.76 501.8,996.76 507.58,996.76 513.37,996.76 519.15,1005.49 524.94,1005.49 530.72,1005.49 536.51,1005.49 542.29,1005.49 548.08,1005.49 553.87,1005.49 559.65,1009.85 565.44,1009.85 571.22,1009.85 577.01,1009.85 582.79,1014.21 588.58,1014.21 594.37,1014.21 600.15,1014.21 605.94,1014.21 611.72,1014.21 617.51,1014.21 623.29,1014.21 629.08,1014.21 634.87,1014.21 640.65,1014.21 646.44,1014.21 652.22,1022.94 658.01,1022.94 663.79,1022.94 669.58,1022.94 675.36,1022.94 681.15,1022.94 686.94,1022.94 692.72,1022.94"/>
</g>
<rect x="96.8" y="639" width="624.85" height="471.2" fill="none" stroke="#333" stroke-width="1.5"/>
<line x1="114.16" y1="1110.2" x2="114.16" y2="1120.4" stroke="#333" stroke-width="1.4"/>
<text x="114.16" y="1147.5" font-size="27.1" text-anchor="middle">0</text>
<line x1="229.87" y1="1110.2" x2="229.87" y2="1120.4" stroke="#333" stroke-width="1.4"/>
<text x="229.87" y="1147.5" font-size="27.1" text-anchor="middle">20</text>
<line x1="345.58" y1="1110.2" x2="345.58" y2="1120.4" stroke="#333" stroke-width="1.4"/>
<text x="345.58" y="1147.5" font-size="27.1" text-anchor="middle">40</text>
<line x1="461.3" y1="1110.2" x2="461.3" y2="1120.4" stroke="#333" stroke-width="1.4"/>
<text x="461.3" y="1147.5" font-size="27.1" text-anchor="middle">60</text>
<line x1="577.01" y1="1110.2" x2="577.01" y2="1120.4" stroke="#333" stroke-width="1.4"/>
<text x="577.01" y="1147.5" font-size="27.1" text-anchor="middle">80</text>
<line x1="692.72" y1="1110.2" x2="692.72" y2="1120.4" stroke="#333" stroke-width="1.4"/>
<text x="692.72" y="1147.5" font-size="27.1" text-anchor="middle">100</text>
<line x1="96.8" y1="1092.75" x2="86.2" y2="1092.75" stroke="#333" stroke-width="1.4"/>
<text x="72.8" y="1092.75" font-size="27.1" text-anchor="middle" transform="rotate(-90 72.8 1092.75)">0</text>
<line x1="96.8" y1="1005.49" x2="86.2" y2="1005.49" stroke="#333" stroke-width="1.4"/>
<text x="72.8" y="1005.49" font-size="27.1" text-anchor="middle" transform="rotate(-90 72.8 1005.49)">20</text>
<line x1="96.8" y1="918.23" x2="86.2" y2="918.23" stroke="#333" stroke-width="1.4"/>
<text x="72.8" y="918.23" font-size="27.1" text-anchor="middle" transform="rotate(-90 72.8 918.23)">40</text>
<line x1="96.8" y1="830.97" x2="86.2" y2="830.97" stroke="#333" stroke-width="1.4"/>
<text x="72.8" y="830.97" font-size="27.1" text-anchor="middle" transform="rotate(-90 72.8 830.97)">60</text>
<line x1="96.8" y1="743.71" x2="86.2" y2="743.71" stroke="#333" stroke-width="1.4"/>
<text x="72.8" y="743.71" font-size="27.1" text-anchor="middle" transform="rotate(-90 72.8 743.71)">80</text>
<line x1="96.8" y1="656.45" x2="86.2" y2="656.45" stroke="#333" stroke-width="1.4"/>
<text x="72.8" y="656.45" font-size="27.1" text-anchor="middle" transform="rotate(-90 72.8 656.45)">100</text>
<text x="409.22" y="1188.5" font-size="27.1" text-anchor="middle">Time</text>
<text x="31.2" y="872" font-size="27.1" text-anchor="middle" transform="rotate(-90 31.2 872)">Number of different alleles</text>
<rect x="437.5" y="639" width="284.15" height="98" fill="#fff" stroke="#333" stroke-width="1.3"/>
<line x1="444.5" y1="671.8" x2="494" y2="671.8" stroke="#a6cee3" stroke-width="3" stroke-linecap="round"/>
<line x1="444.5" y1="704.7" x2="494" y2="704.7" stroke="#1f78b4" stroke-width="3" stroke-linecap="round"/>
<text x="518.8" y="681.3" font-size="27.1" text-anchor="start">with learning</text>
<text x="518.8" y="714.6" font-size="27.1" text-anchor="start">without learning</text>
<text x="113.8" y="1071.2" font-size="25.6" text-anchor="start">max escape prob rate = 0.975</text>
<g fill="none" stroke-width="2.8" stroke-linejoin="round" stroke-linecap="round">
<polyline stroke="#a6cee3" points="886.14,658.35 891.93,658.35 897.71,658.35 903.5,671.44 909.29,684.53 915.07,684.53 920.86,684.53 926.64,693.26 932.43,697.62 938.21,697.62 944,697.62 949.78,701.98 955.57,701.98 961.36,706.34 967.14,706.34 972.93,706.34 978.71,710.71 984.5,710.71 990.28,715.07 996.07,715.07 1001.86,715.07 1007.64,715.07 1013.43,715.07 1019.21,715.07 1025,723.8 1030.78,723.8 1036.57,723.8 1042.36,723.8 1048.14,736.89 1053.93,736.89 1059.71,736.89 1065.5,736.89 1071.28,736.89 1077.07,736.89 1082.85,741.25 1088.64,741.25 1094.43,745.61 1100.21,745.61 1106,745.61 1111.78,745.61 1117.57,749.97 1123.35,754.34 1129.14,758.7 1134.93,763.06 1140.71,763.06 1146.5,767.43 1152.28,767.43 1158.07,776.15 1163.85,776.15 1169.64,776.15 1175.42,784.88 1181.21,784.88 1187,784.88 1192.78,784.88 1198.57,789.24 1204.35,789.24 1210.14,789.24 1215.92,793.6 1221.71,793.6 1227.5,793.6 1233.28,802.33 1239.07,802.33 1244.85,802.33 1250.64,802.33 1256.42,802.33 1262.21,802.33 1268,811.06 1273.78,811.06 1279.57,811.06 1285.35,815.42 1291.14,815.42 1296.92,819.78 1302.71,819.78 1308.49,819.78 1314.28,824.14 1320.07,824.14 1325.85,824.14 1331.64,824.14 1337.42,828.51 1343.21,828.51 1348.99,828.51 1354.78,828.51 1360.57,832.87 1366.35,841.6 1372.14,841.6 1377.92,841.6 1383.71,841.6 1389.49,845.96 1395.28,850.32 1401.07,854.69 1406.85,863.41 1412.64,863.41 1418.42,863.41 1424.21,863.41 1429.99,863.41 1435.78,863.41 1441.56,867.77 1447.35,867.77 1453.14,867.77 1458.92,872.14"/>
<polyline stroke="#1f78b4" points="886.14,658.35 891.93,671.44 897.71,671.44 903.5,680.17 909.29,688.89 915.07,706.34 920.86,723.8 926.64,741.25 932.43,763.06 938.21,776.15 944,776.15 949.78,784.88 955.57,802.33 961.36,806.69 967.14,811.06 972.93,828.51 978.71,828.51 984.5,841.6 990.28,854.69 996.07,859.05 1001.86,867.77 1007.64,872.14 1013.43,893.95 1019.21,893.95 1025,893.95 1030.78,907.04 1036.57,907.04 1042.36,911.4 1048.14,920.13 1053.93,924.49 1059.71,928.86 1065.5,933.22 1071.28,933.22 1077.07,933.22 1082.85,937.58 1088.64,937.58 1094.43,941.94 1100.21,946.31 1106,950.67 1111.78,950.67 1117.57,959.4 1123.35,963.76 1129.14,963.76 1134.93,963.76 1140.71,963.76 1146.5,981.21 1152.28,981.21 1158.07,981.21 1163.85,981.21 1169.64,981.21 1175.42,981.21 1181.21,985.57 1187,985.57 1192.78,985.57 1198.57,985.57 1204.35,989.94 1210.14,989.94 1215.92,994.3 1221.71,994.3 1227.5,998.66 1233.28,998.66 1239.07,998.66 1244.85,998.66 1250.64,998.66 1256.42,998.66 1262.21,998.66 1268,1003.03 1273.78,1007.39 1279.57,1007.39 1285.35,1007.39 1291.14,1007.39 1296.92,1007.39 1302.71,1007.39 1308.49,1007.39 1314.28,1016.11 1320.07,1016.11 1325.85,1016.11 1331.64,1016.11 1337.42,1016.11 1343.21,1016.11 1348.99,1016.11 1354.78,1016.11 1360.57,1016.11 1366.35,1016.11 1372.14,1020.48 1377.92,1020.48 1383.71,1020.48 1389.49,1020.48 1395.28,1020.48 1401.07,1020.48 1406.85,1020.48 1412.64,1029.2 1418.42,1029.2 1424.21,1029.2 1429.99,1029.2 1435.78,1029.2 1441.56,1029.2 1447.35,1029.2 1453.14,1029.2 1458.92,1029.2"/>
<polyline stroke="#a6cee3" points="886.14,658.35 891.93,662.71 897.71,662.71 903.5,667.08 909.29,684.53 915.07,701.98 920.86,701.98 926.64,701.98 932.43,701.98 938.21,710.71 944,715.07 949.78,715.07 955.57,719.43 961.36,719.43 967.14,723.8 972.93,723.8 978.71,723.8 984.5,728.16 990.28,728.16 996.07,728.16 1001.86,732.52 1007.64,732.52 1013.43,732.52 1019.21,732.52 1025,732.52 1030.78,741.25 1036.57,741.25 1042.36,749.97 1048.14,749.97 1053.93,749.97 1059.71,749.97 1065.5,749.97 1071.28,749.97 1077.07,749.97 1082.85,758.7 1088.64,758.7 1094.43,763.06 1100.21,763.06 1106,763.06 1111.78,763.06 1117.57,767.43 1123.35,771.79 1129.14,771.79 1134.93,776.15 1140.71,776.15 1146.5,780.51 1152.28,780.51 1158.07,780.51 1163.85,780.51 1169.64,784.88 1175.42,784.88 1181.21,784.88 1187,789.24 1192.78,789.24 1198.57,797.97 1204.35,797.97 1210.14,802.33 1215.92,802.33 1221.71,806.69 1227.5,811.06 1233.28,811.06 1239.07,811.06 1244.85,819.78 1250.64,819.78 1256.42,819.78 1262.21,828.51 1268,828.51 1273.78,828.51 1279.57,828.51 1285.35,837.23 1291.14,837.23 1296.92,837.23 1302.71,837.23 1308.49,837.23 1314.28,837.23 1320.07,837.23 1325.85,837.23 1331.64,837.23 1337.42,837.23 1343.21,837.23 1348.99,837.23 1354.78,837.23 1360.57,837.23 1366.35,837.23 1372.14,837.23 1377.92,845.96 1383.71,850.32 1389.49,850.32 1395.28,850.32 1401.07,850.32 1406.85,850.32 1412.64,850.32 1418.42,854.69 1424.21,854.69 1429.99,854.69 1435.78,859.05 1441.56,863.41 1447.35,863.41 1453.14,863.41 1458.92,867.77"/>
<polyline stroke="#1f78b4" points="886.14,658.35 891.93,671.44 897.71,675.8 903.5,697.62 909.29,706.34 915.07,719.43 920.86,741.25 926.64,763.06 932.43,776.15 938.21,793.6 944,797.97 949.78,802.33 955.57,815.42 961.36,828.51 967.14,832.87 972.93,845.96 978.71,854.69 984.5,867.77 990.28,872.14 996.07,880.86 1001.86,885.23 1007.64,902.68 1013.43,902.68 1019.21,907.04 1025,907.04 1030.78,915.77 1036.57,920.13 1042.36,924.49 1048.14,933.22 1053.93,946.31 1059.71,946.31 1065.5,946.31 1071.28,950.67 1077.07,955.03 1082.85,955.03 1088.64,955.03 1094.43,955.03 1100.21,959.4 1106,963.76 1111.78,976.85 1117.57,976.85 1123.35,976.85 1129.14,976.85 1134.93,976.85 1140.71,981.21 1146.5,981.21 1152.28,985.57 1158.07,989.94 1163.85,989.94 1169.64,989.94 1175.42,998.66 1181.21,998.66 1187,998.66 1192.78,998.66 1198.57,998.66 1204.35,998.66 1210.14,998.66 1215.92,1007.39 1221.71,1007.39 1227.5,1007.39 1233.28,1007.39 1239.07,1007.39 1244.85,1007.39 1250.64,1007.39 1256.42,1007.39 1262.21,1011.75 1268,1011.75 1273.78,1011.75 1279.57,1016.11 1285.35,1016.11 1291.14,1016.11 1296.92,1020.48 1302.71,1020.48 1308.49,1020.48 1314.28,1020.48 1320.07,1020.48 1325.85,1020.48 1331.64,1020.48 1337.42,1020.48 1343.21,1020.48 1348.99,1020.48 1354.78,1020.48 1360.57,1020.48 1366.35,1033.57 1372.14,1033.57 1377.92,1033.57 1383.71,1033.57 1389.49,1033.57 1395.28,1033.57 1401.07,1033.57 1406.85,1033.57 1412.64,1037.93 1418.42,1037.93 1424.21,1037.93 1429.99,1037.93 1435.78,1037.93 1441.56,1037.93 1447.35,1037.93 1453.14,1037.93 1458.92,1037.93"/>
<polyline stroke="#a6cee3" points="886.14,658.35 891.93,658.35 897.71,658.35 903.5,675.8 909.29,675.8 915.07,688.89 920.86,688.89 926.64,688.89 932.43,688.89 938.21,693.26 944,697.62 949.78,697.62 955.57,697.62 961.36,701.98 967.14,701.98 972.93,701.98 978.71,701.98 984.5,701.98 990.28,701.98 996.07,715.07 1001.86,715.07 1007.64,715.07 1013.43,715.07 1019.21,715.07 1025,715.07 1030.78,719.43 1036.57,719.43 1042.36,723.8 1048.14,723.8 1053.93,728.16 1059.71,741.25 1065.5,741.25 1071.28,741.25 1077.07,741.25 1082.85,741.25 1088.64,741.25 1094.43,741.25 1100.21,745.61 1106,749.97 1111.78,749.97 1117.57,754.34 1123.35,754.34 1129.14,754.34 1134.93,754.34 1140.71,754.34 1146.5,754.34 1152.28,754.34 1158.07,758.7 1163.85,758.7 1169.64,758.7 1175.42,758.7 1181.21,763.06 1187,763.06 1192.78,767.43 1198.57,767.43 1204.35,771.79 1210.14,776.15 1215.92,776.15 1221.71,784.88 1227.5,784.88 1233.28,789.24 1239.07,789.24 1244.85,789.24 1250.64,793.6 1256.42,793.6 1262.21,797.97 1268,802.33 1273.78,802.33 1279.57,802.33 1285.35,802.33 1291.14,802.33 1296.92,802.33 1302.71,802.33 1308.49,802.33 1314.28,802.33 1320.07,802.33 1325.85,802.33 1331.64,802.33 1337.42,802.33 1343.21,802.33 1348.99,802.33 1354.78,806.69 1360.57,811.06 1366.35,815.42 1372.14,815.42 1377.92,815.42 1383.71,815.42 1389.49,819.78 1395.28,824.14 1401.07,824.14 1406.85,824.14 1412.64,824.14 1418.42,828.51 1424.21,828.51 1429.99,828.51 1435.78,828.51 1441.56,828.51 1447.35,832.87 1453.14,832.87 1458.92,832.87"/>
<polyline stroke="#1f78b4" points="886.14,658.35 891.93,662.71 897.71,667.08 903.5,680.17 909.29,701.98 915.07,719.43 920.86,736.89 926.64,749.97 932.43,763.06 938.21,780.51 944,784.88 949.78,797.97 955.57,815.42 961.36,815.42 967.14,832.87 972.93,837.23 978.71,845.96 984.5,850.32 990.28,863.41 996.07,867.77 1001.86,872.14 1007.64,880.86 1013.43,902.68 1019.21,902.68 1025,902.68 1030.78,911.4 1036.57,915.77 1042.36,928.86 1048.14,933.22 1053.93,933.22 1059.71,941.94 1065.5,941.94 1071.28,941.94 1077.07,950.67 1082.85,950.67 1088.64,950.67 1094.43,959.4 1100.21,963.76 1106,963.76 1111.78,968.12 1117.57,972.49 1123.35,972.49 1129.14,976.85 1134.93,976.85 1140.71,976.85 1146.5,985.57 1152.28,985.57 1158.07,985.57 1163.85,985.57 1169.64,994.3 1175.42,994.3 1181.21,994.3 1187,998.66 1192.78,998.66 1198.57,998.66 1204.35,1003.03 1210.14,1003.03 1215.92,1007.39 1221.71,1007.39 1227.5,1007.39 1233.28,1007.39 1239.07,1011.75 1244.85,1016.11 1250.64,1016.11 1256.42,1016.11 1262.21,1016.11 1268,1016.11 1273.78,1020.48 1279.57,1020.48 1285.35,1020.48 1291.14,1020.48 1296.92,1020.48 1302.71,1020.48 1308.49,1020.48 1314.28,1020.48 1320.07,1020.48 1325.85,1020.48 1331.64,1020.48 1337.42,1020.48 1343.21,1020.48 1348.99,1020.48 1354.78,1020.48 1360.57,1020.48 1366.35,1029.2 1372.14,1029.2 1377.92,1029.2 1383.71,1029.2 1389.49,1029.2 1395.28,1029.2 1401.07,1033.57 1406.85,1033.57 1412.64,1033.57 1418.42,1033.57 1424.21,1033.57 1429.99,1033.57 1435.78,1037.93 1441.56,1037.93 1447.35,1037.93 1453.14,1037.93 1458.92,1037.93"/>
<polyline stroke="#a6cee3" points="886.14,658.35 891.93,658.35 897.71,658.35 903.5,667.08 909.29,671.44 915.07,693.26 920.86,693.26 926.64,693.26 932.43,693.26 938.21,697.62 944,697.62 949.78,701.98 955.57,706.34 961.36,706.34 967.14,710.71 972.93,715.07 978.71,715.07 984.5,715.07 990.28,732.52 996.07,732.52 1001.86,732.52 1007.64,732.52 1013.43,732.52 1019.21,732.52 1025,732.52 1030.78,732.52 1036.57,732.52 1042.36,736.89 1048.14,736.89 1053.93,741.25 1059.71,741.25 1065.5,745.61 1071.28,749.97 1077.07,749.97 1082.85,749.97 1088.64,763.06 1094.43,763.06 1100.21,763.06 1106,767.43 1111.78,767.43 1117.57,767.43 1123.35,776.15 1129.14,776.15 1134.93,780.51 1140.71,780.51 1146.5,780.51 1152.28,780.51 1158.07,784.88 1163.85,784.88 1169.64,784.88 1175.42,793.6 1181.21,793.6 1187,797.97 1192.78,797.97 1198.57,802.33 1204.35,802.33 1210.14,811.06 1215.92,811.06 1221.71,815.42 1227.5,815.42 1233.28,819.78 1239.07,824.14 1244.85,824.14 1250.64,828.51 1256.42,828.51 1262.21,828.51 1268,828.51 1273.78,832.87 1279.57,832.87 1285.35,832.87 1291.14,832.87 1296.92,832.87 1302.71,832.87 1308.49,832.87 1314.28,832.87 1320.07,832.87 1325.85,841.6 1331.64,841.6 1337.42,841.6 1343.21,841.6 1348.99,845.96 1354.78,845.96 1360.57,845.96 1366.35,850.32 1372.14,850.32 1377.92,850.32 1383.71,850.32 1389.49,850.32 1395.28,850.32 1401.07,850.32 1406.85,854.69 1412.64,859.05 1418.42,867.77 1424.21,867.77 1429.99,867.77 1435.78,867.77 1441.56,867.77 1447.35,872.14 1453.14,872.14 1458.92,872.14"/>
<polyline stroke="#1f78b4" points="886.14,658.35 891.93,667.08 897.71,675.8 903.5,697.62 909.29,715.07 915.07,736.89 920.86,754.34 926.64,771.79 932.43,780.51 938.21,811.06 944,811.06 949.78,819.78 955.57,845.96 961.36,845.96 967.14,845.96 972.93,854.69 978.71,863.41 984.5,872.14 990.28,876.5 996.07,885.23 1001.86,889.59 1007.64,898.31 1013.43,902.68 1019.21,911.4 1025,911.4 1030.78,924.49 1036.57,924.49 1042.36,928.86 1048.14,933.22 1053.93,950.67 1059.71,950.67 1065.5,950.67 1071.28,950.67 1077.07,950.67 1082.85,950.67 1088.64,950.67 1094.43,968.12 1100.21,968.12 1106,968.12 1111.78,972.49 1117.57,972.49 1123.35,972.49 1129.14,981.21 1134.93,981.21 1140.71,989.94 1146.5,989.94 1152.28,989.94 1158.07,1003.03 1163.85,1003.03 1169.64,1003.03 1175.42,1003.03 1181.21,1003.03 1187,1003.03 1192.78,1003.03 1198.57,1003.03 1204.35,1003.03 1210.14,1007.39 1215.92,1007.39 1221.71,1007.39 1227.5,1016.11 1233.28,1016.11 1239.07,1016.11 1244.85,1016.11 1250.64,1016.11 1256.42,1016.11 1262.21,1020.48 1268,1020.48 1273.78,1020.48 1279.57,1020.48 1285.35,1020.48 1291.14,1024.84 1296.92,1024.84 1302.71,1024.84 1308.49,1024.84 1314.28,1024.84 1320.07,1024.84 1325.85,1024.84 1331.64,1024.84 1337.42,1024.84 1343.21,1024.84 1348.99,1024.84 1354.78,1024.84 1360.57,1029.2 1366.35,1029.2 1372.14,1029.2 1377.92,1029.2 1383.71,1029.2 1389.49,1029.2 1395.28,1029.2 1401.07,1029.2 1406.85,1029.2 1412.64,1029.2 1418.42,1029.2 1424.21,1033.57 1429.99,1033.57 1435.78,1033.57 1441.56,1033.57 1447.35,1033.57 1453.14,1033.57 1458.92,1033.57"/>
<polyline stroke="#a6cee3" points="886.14,658.35 891.93,662.71 897.71,662.71 903.5,671.44 909.29,675.8 915.07,688.89 920.86,688.89 926.64,688.89 932.43,688.89 938.21,693.26 944,693.26 949.78,697.62 955.57,706.34 961.36,706.34 967.14,706.34 972.93,706.34 978.71,719.43 984.5,719.43 990.28,719.43 996.07,719.43 1001.86,719.43 1007.64,719.43 1013.43,719.43 1019.21,719.43 1025,719.43 1030.78,719.43 1036.57,728.16 1042.36,728.16 1048.14,732.52 1053.93,732.52 1059.71,732.52 1065.5,736.89 1071.28,741.25 1077.07,741.25 1082.85,749.97 1088.64,749.97 1094.43,758.7 1100.21,758.7 1106,758.7 1111.78,758.7 1117.57,763.06 1123.35,767.43 1129.14,767.43 1134.93,767.43 1140.71,771.79 1146.5,771.79 1152.28,776.15 1158.07,780.51 1163.85,793.6 1169.64,793.6 1175.42,793.6 1181.21,797.97 1187,797.97 1192.78,797.97 1198.57,802.33 1204.35,802.33 1210.14,806.69 1215.92,806.69 1221.71,811.06 1227.5,819.78 1233.28,819.78 1239.07,819.78 1244.85,819.78 1250.64,824.14 1256.42,824.14 1262.21,832.87 1268,832.87 1273.78,832.87 1279.57,832.87 1285.35,832.87 1291.14,832.87 1296.92,832.87 1302.71,832.87 1308.49,832.87 1314.28,832.87 1320.07,837.23 1325.85,837.23 1331.64,841.6 1337.42,841.6 1343.21,841.6 1348.99,841.6 1354.78,841.6 1360.57,845.96 1366.35,845.96 1372.14,845.96 1377.92,845.96 1383.71,845.96 1389.49,850.32 1395.28,850.32 1401.07,850.32 1406.85,850.32 1412.64,863.41 1418.42,863.41 1424.21,863.41 1429.99,863.41 1435.78,863.41 1441.56,863.41 1447.35,872.14 1453.14,872.14 1458.92,872.14"/>
<polyline stroke="#1f78b4" points="886.14,658.35 891.93,662.71 897.71,671.44 903.5,693.26 909.29,715.07 915.07,728.16 920.86,741.25 926.64,771.79 932.43,784.88 938.21,789.24 944,806.69 949.78,811.06 955.57,819.78 961.36,828.51 967.14,837.23 972.93,850.32 978.71,854.69 984.5,859.05 990.28,876.5 996.07,898.31 1001.86,898.31 1007.64,898.31 1013.43,902.68 1019.21,915.77 1025,915.77 1030.78,915.77 1036.57,915.77 1042.36,933.22 1048.14,933.22 1053.93,937.58 1059.71,937.58 1065.5,946.31 1071.28,946.31 1077.07,950.67 1082.85,955.03 1088.64,959.4 1094.43,963.76 1100.21,963.76 1106,963.76 1111.78,968.12 1117.57,976.85 1123.35,976.85 1129.14,976.85 1134.93,981.21 1140.71,981.21 1146.5,985.57 1152.28,989.94 1158.07,989.94 1163.85,989.94 1169.64,994.3 1175.42,998.66 1181.21,998.66 1187,998.66 1192.78,998.66 1198.57,998.66 1204.35,1003.03 1210.14,1003.03 1215.92,1003.03 1221.71,1003.03 1227.5,1003.03 1233.28,1003.03 1239.07,1007.39 1244.85,1007.39 1250.64,1007.39 1256.42,1007.39 1262.21,1011.75 1268,1011.75 1273.78,1011.75 1279.57,1016.11 1285.35,1016.11 1291.14,1016.11 1296.92,1016.11 1302.71,1016.11 1308.49,1016.11 1314.28,1016.11 1320.07,1016.11 1325.85,1016.11 1331.64,1016.11 1337.42,1016.11 1343.21,1024.84 1348.99,1024.84 1354.78,1024.84 1360.57,1024.84 1366.35,1024.84 1372.14,1024.84 1377.92,1024.84 1383.71,1024.84 1389.49,1029.2 1395.28,1033.57 1401.07,1033.57 1406.85,1033.57 1412.64,1033.57 1418.42,1033.57 1424.21,1033.57 1429.99,1037.93 1435.78,1037.93 1441.56,1037.93 1447.35,1037.93 1453.14,1042.29 1458.92,1042.29"/>
<polyline stroke="#a6cee3" points="886.14,658.35 891.93,658.35 897.71,658.35 903.5,662.71 909.29,675.8 915.07,675.8 920.86,675.8 926.64,684.53 932.43,684.53 938.21,684.53 944,684.53 949.78,684.53 955.57,684.53 961.36,684.53 967.14,684.53 972.93,688.89 978.71,688.89 984.5,693.26 990.28,701.98 996.07,701.98 1001.86,701.98 1007.64,701.98 1013.43,701.98 1019.21,701.98 1025,701.98 1030.78,701.98 1036.57,701.98 1042.36,710.71 1048.14,710.71 1053.93,710.71 1059.71,710.71 1065.5,715.07 1071.28,719.43 1077.07,719.43 1082.85,719.43 1088.64,719.43 1094.43,719.43 1100.21,723.8 1106,723.8 1111.78,723.8 1117.57,736.89 1123.35,736.89 1129.14,736.89 1134.93,736.89 1140.71,736.89 1146.5,736.89 1152.28,736.89 1158.07,741.25 1163.85,745.61 1169.64,745.61 1175.42,745.61 1181.21,749.97 1187,754.34 1192.78,754.34 1198.57,754.34 1204.35,754.34 1210.14,763.06 1215.92,763.06 1221.71,763.06 1227.5,763.06 1233.28,763.06 1239.07,771.79 1244.85,771.79 1250.64,771.79 1256.42,771.79 1262.21,780.51 1268,780.51 1273.78,789.24 1279.57,793.6 1285.35,793.6 1291.14,793.6 1296.92,793.6 1302.71,793.6 1308.49,793.6 1314.28,793.6 1320.07,793.6 1325.85,793.6 1331.64,793.6 1337.42,793.6 1343.21,793.6 1348.99,793.6 1354.78,797.97 1360.57,797.97 1366.35,802.33 1372.14,802.33 1377.92,802.33 1383.71,806.69 1389.49,811.06 1395.28,815.42 1401.07,819.78 1406.85,819.78 1412.64,819.78 1418.42,819.78 1424.21,819.78 1429.99,824.14 1435.78,824.14 1441.56,824.14 1447.35,828.51 1453.14,828.51 1458.92,828.51"/>
<polyline stroke="#1f78b4" points="886.14,658.35 891.93,667.08 897.71,684.53 903.5,697.62 909.29,719.43 915.07,749.97 920.86,754.34 926.64,763.06 932.43,789.24 938.21,802.33 944,819.78 949.78,828.51 955.57,832.87 961.36,837.23 967.14,841.6 972.93,859.05 978.71,872.14 984.5,872.14 990.28,880.86 996.07,885.23 1001.86,893.95 1007.64,893.95 1013.43,902.68 1019.21,911.4 1025,915.77 1030.78,928.86 1036.57,928.86 1042.36,928.86 1048.14,937.58 1053.93,946.31 1059.71,946.31 1065.5,950.67 1071.28,955.03 1077.07,959.4 1082.85,963.76 1088.64,968.12 1094.43,968.12 1100.21,968.12 1106,972.49 1111.78,976.85 1117.57,985.57 1123.35,985.57 1129.14,985.57 1134.93,985.57 1140.71,985.57 1146.5,994.3 1152.28,994.3 1158.07,998.66 1163.85,1003.03 1169.64,1011.75 1175.42,1011.75 1181.21,1011.75 1187,1016.11 1192.78,1016.11 1198.57,1016.11 1204.35,1016.11 1210.14,1016.11 1215.92,1020.48 1221.71,1020.48 1227.5,1020.48 1233.28,1020.48 1239.07,1020.48 1244.85,1029.2 1250.64,1029.2 1256.42,1029.2 1262.21,1029.2 1268,1029.2 1273.78,1033.57 1279.57,1033.57 1285.35,1033.57 1291.14,1037.93 1296.92,1037.93 1302.71,1042.29 1308.49,1042.29 1314.28,1042.29 1320.07,1042.29 1325.85,1042.29 1331.64,1042.29 1337.42,1042.29 1343.21,1042.29 1348.99,1042.29 1354.78,1042.29 1360.57,1046.66 1366.35,1046.66 1372.14,1046.66 1377.92,1046.66 1383.71,1046.66 1389.49,1046.66 1395.28,1046.66 1401.07,1046.66 1406.85,1046.66 1412.64,1046.66 1418.42,1051.02 1424.21,1051.02 1429.99,1051.02 1435.78,1051.02 1441.56,1051.02 1447.35,1051.02 1453.14,1051.02 1458.92,1051.02"/>
<polyline stroke="#a6cee3" points="886.14,658.35 891.93,658.35 897.71,658.35 903.5,671.44 909.29,671.44 915.07,671.44 920.86,671.44 926.64,675.8 932.43,688.89 938.21,688.89 944,688.89 949.78,688.89 955.57,688.89 961.36,688.89 967.14,688.89 972.93,688.89 978.71,688.89 984.5,693.26 990.28,693.26 996.07,697.62 1001.86,697.62 1007.64,697.62 1013.43,697.62 1019.21,701.98 1025,701.98 1030.78,701.98 1036.57,701.98 1042.36,701.98 1048.14,706.34 1053.93,710.71 1059.71,715.07 1065.5,715.07 1071.28,715.07 1077.07,719.43 1082.85,719.43 1088.64,723.8 1094.43,723.8 1100.21,723.8 1106,732.52 1111.78,732.52 1117.57,732.52 1123.35,732.52 1129.14,732.52 1134.93,736.89 1140.71,736.89 1146.5,736.89 1152.28,736.89 1158.07,741.25 1163.85,745.61 1169.64,749.97 1175.42,754.34 1181.21,758.7 1187,758.7 1192.78,758.7 1198.57,767.43 1204.35,767.43 1210.14,767.43 1215.92,771.79 1221.71,771.79 1227.5,771.79 1233.28,771.79 1239.07,771.79 1244.85,771.79 1250.64,780.51 1256.42,780.51 1262.21,780.51 1268,784.88 1273.78,784.88 1279.57,789.24 1285.35,789.24 1291.14,789.24 1296.92,793.6 1302.71,802.33 1308.49,802.33 1314.28,802.33 1320.07,802.33 1325.85,802.33 1331.64,802.33 1337.42,802.33 1343.21,811.06 1348.99,811.06 1354.78,811.06 1360.57,815.42 1366.35,815.42 1372.14,824.14 1377.92,824.14 1383.71,828.51 1389.49,832.87 1395.28,832.87 1401.07,832.87 1406.85,832.87 1412.64,841.6 1418.42,841.6 1424.21,841.6 1429.99,841.6 1435.78,841.6 1441.56,841.6 1447.35,845.96 1453.14,845.96 1458.92,854.69"/>
<polyline stroke="#1f78b4" points="886.14,658.35 891.93,667.08 897.71,675.8 903.5,701.98 909.29,719.43 915.07,741.25 920.86,758.7 926.64,771.79 932.43,793.6 938.21,797.97 944,815.42 949.78,824.14 955.57,828.51 961.36,841.6 967.14,850.32 972.93,859.05 978.71,863.41 984.5,872.14 990.28,876.5 996.07,885.23 1001.86,889.59 1007.64,898.31 1013.43,902.68 1019.21,911.4 1025,911.4 1030.78,920.13 1036.57,928.86 1042.36,937.58 1048.14,955.03 1053.93,955.03 1059.71,955.03 1065.5,959.4 1071.28,959.4 1077.07,963.76 1082.85,963.76 1088.64,968.12 1094.43,972.49 1100.21,972.49 1106,976.85 1111.78,985.57 1117.57,985.57 1123.35,985.57 1129.14,985.57 1134.93,989.94 1140.71,989.94 1146.5,994.3 1152.28,994.3 1158.07,998.66 1163.85,1003.03 1169.64,1003.03 1175.42,1007.39 1181.21,1007.39 1187,1007.39 1192.78,1007.39 1198.57,1011.75 1204.35,1011.75 1210.14,1011.75 1215.92,1016.11 1221.71,1016.11 1227.5,1016.11 1233.28,1016.11 1239.07,1020.48 1244.85,1020.48 1250.64,1020.48 1256.42,1020.48 1262.21,1024.84 1268,1024.84 1273.78,1024.84 1279.57,1024.84 1285.35,1024.84 1291.14,1024.84 1296.92,1024.84 1302.71,1024.84 1308.49,1024.84 1314.28,1042.29 1320.07,1042.29 1325.85,1042.29 1331.64,1042.29 1337.42,1042.29 1343.21,1042.29 1348.99,1042.29 1354.78,1042.29 1360.57,1042.29 1366.35,1042.29 1372.14,1042.29 1377.92,1042.29 1383.71,1042.29 1389.49,1042.29 1395.28,1042.29 1401.07,1042.29 1406.85,1046.66 1412.64,1046.66 1418.42,1046.66 1424.21,1046.66 1429.99,1046.66 1435.78,1046.66 1441.56,1046.66 1447.35,1055.38 1453.14,1055.38 1458.92,1055.38"/>
<polyline stroke="#a6cee3" points="886.14,658.35 891.93,658.35 897.71,667.08 903.5,675.8 909.29,693.26 915.07,693.26 920.86,693.26 926.64,697.62 932.43,706.34 938.21,706.34 944,710.71 949.78,715.07 955.57,715.07 961.36,719.43 967.14,719.43 972.93,719.43 978.71,728.16 984.5,728.16 990.28,728.16 996.07,732.52 1001.86,732.52 1007.64,736.89 1013.43,736.89 1019.21,736.89 1025,736.89 1030.78,741.25 1036.57,745.61 1042.36,745.61 1048.14,745.61 1053.93,758.7 1059.71,758.7 1065.5,758.7 1071.28,758.7 1077.07,758.7 1082.85,758.7 1088.64,763.06 1094.43,771.79 1100.21,771.79 1106,776.15 1111.78,776.15 1117.57,784.88 1123.35,784.88 1129.14,797.97 1134.93,797.97 1140.71,797.97 1146.5,802.33 1152.28,802.33 1158.07,802.33 1163.85,806.69 1169.64,806.69 1175.42,811.06 1181.21,811.06 1187,819.78 1192.78,819.78 1198.57,819.78 1204.35,824.14 1210.14,832.87 1215.92,832.87 1221.71,832.87 1227.5,837.23 1233.28,837.23 1239.07,837.23 1244.85,837.23 1250.64,841.6 1256.42,841.6 1262.21,841.6 1268,841.6 1273.78,845.96 1279.57,850.32 1285.35,850.32 1291.14,850.32 1296.92,850.32 1302.71,850.32 1308.49,850.32 1314.28,859.05 1320.07,859.05 1325.85,859.05 1331.64,859.05 1337.42,859.05 1343.21,859.05 1348.99,859.05 1354.78,859.05 1360.57,859.05 1366.35,859.05 1372.14,859.05 1377.92,859.05 1383.71,859.05 1389.49,859.05 1395.28,859.05 1401.07,859.05 1406.85,859.05 1412.64,863.41 1418.42,872.14 1424.21,872.14 1429.99,872.14 1435.78,872.14 1441.56,876.5 1447.35,876.5 1453.14,876.5 1458.92,880.86"/>
<polyline stroke="#1f78b4" points="886.14,658.35 891.93,662.71 897.71,675.8 903.5,680.17 909.29,688.89 915.07,706.34 920.86,719.43 926.64,736.89 932.43,745.61 938.21,749.97 944,776.15 949.78,776.15 955.57,789.24 961.36,797.97 967.14,797.97 972.93,811.06 978.71,824.14 984.5,832.87 990.28,850.32 996.07,859.05 1001.86,867.77 1007.64,880.86 1013.43,880.86 1019.21,885.23 1025,893.95 1030.78,898.31 1036.57,907.04 1042.36,911.4 1048.14,915.77 1053.93,924.49 1059.71,928.86 1065.5,933.22 1071.28,933.22 1077.07,937.58 1082.85,937.58 1088.64,941.94 1094.43,941.94 1100.21,950.67 1106,950.67 1111.78,955.03 1117.57,955.03 1123.35,963.76 1129.14,963.76 1134.93,976.85 1140.71,976.85 1146.5,976.85 1152.28,976.85 1158.07,976.85 1163.85,981.21 1169.64,981.21 1175.42,981.21 1181.21,985.57 1187,985.57 1192.78,985.57 1198.57,985.57 1204.35,985.57 1210.14,1003.03 1215.92,1003.03 1221.71,1003.03 1227.5,1003.03 1233.28,1003.03 1239.07,1003.03 1244.85,1003.03 1250.64,1003.03 1256.42,1003.03 1262.21,1003.03 1268,1003.03 1273.78,1003.03 1279.57,1003.03 1285.35,1007.39 1291.14,1007.39 1296.92,1007.39 1302.71,1007.39 1308.49,1007.39 1314.28,1007.39 1320.07,1007.39 1325.85,1007.39 1331.64,1007.39 1337.42,1007.39 1343.21,1007.39 1348.99,1007.39 1354.78,1007.39 1360.57,1007.39 1366.35,1007.39 1372.14,1007.39 1377.92,1011.75 1383.71,1011.75 1389.49,1016.11 1395.28,1016.11 1401.07,1016.11 1406.85,1016.11 1412.64,1020.48 1418.42,1020.48 1424.21,1020.48 1429.99,1020.48 1435.78,1020.48 1441.56,1024.84 1447.35,1024.84 1453.14,1024.84 1458.92,1024.84"/>
<polyline stroke="#a6cee3" points="886.14,658.35 891.93,658.35 897.71,662.71 903.5,675.8 909.29,684.53 915.07,693.26 920.86,706.34 926.64,706.34 932.43,706.34 938.21,715.07 944,719.43 949.78,719.43 955.57,719.43 961.36,719.43 967.14,728.16 972.93,728.16 978.71,728.16 984.5,736.89 990.28,736.89 996.07,736.89 1001.86,736.89 1007.64,736.89 1013.43,736.89 1019.21,736.89 1025,741.25 1030.78,741.25 1036.57,745.61 1042.36,745.61 1048.14,745.61 1053.93,745.61 1059.71,763.06 1065.5,763.06 1071.28,763.06 1077.07,763.06 1082.85,763.06 1088.64,763.06 1094.43,776.15 1100.21,776.15 1106,780.51 1111.78,780.51 1117.57,784.88 1123.35,784.88 1129.14,784.88 1134.93,797.97 1140.71,797.97 1146.5,797.97 1152.28,797.97 1158.07,797.97 1163.85,797.97 1169.64,811.06 1175.42,811.06 1181.21,811.06 1187,811.06 1192.78,811.06 1198.57,824.14 1204.35,824.14 1210.14,824.14 1215.92,824.14 1221.71,832.87 1227.5,832.87 1233.28,832.87 1239.07,832.87 1244.85,837.23 1250.64,837.23 1256.42,841.6 1262.21,850.32 1268,850.32 1273.78,850.32 1279.57,850.32 1285.35,850.32 1291.14,850.32 1296.92,850.32 1302.71,850.32 1308.49,850.32 1314.28,850.32 1320.07,850.32 1325.85,850.32 1331.64,854.69 1337.42,854.69 1343.21,863.41 1348.99,863.41 1354.78,863.41 1360.57,863.41 1366.35,863.41 1372.14,863.41 1377.92,863.41 1383.71,863.41 1389.49,863.41 1395.28,863.41 1401.07,863.41 1406.85,876.5 1412.64,876.5 1418.42,876.5 1424.21,876.5 1429.99,876.5 1435.78,880.86 1441.56,880.86 1447.35,880.86 1453.14,893.95 1458.92,893.95"/>
<polyline stroke="#1f78b4" points="886.14,658.35 891.93,662.71 897.71,684.53 903.5,706.34 909.29,723.8 915.07,749.97 920.86,754.34 926.64,776.15 932.43,806.69 938.21,811.06 944,837.23 949.78,837.23 955.57,845.96 961.36,850.32 967.14,867.77 972.93,867.77 978.71,872.14 984.5,880.86 990.28,893.95 996.07,902.68 1001.86,902.68 1007.64,915.77 1013.43,915.77 1019.21,915.77 1025,924.49 1030.78,924.49 1036.57,933.22 1042.36,933.22 1048.14,946.31 1053.93,950.67 1059.71,950.67 1065.5,955.03 1071.28,955.03 1077.07,968.12 1082.85,968.12 1088.64,968.12 1094.43,972.49 1100.21,976.85 1106,981.21 1111.78,989.94 1117.57,989.94 1123.35,994.3 1129.14,994.3 1134.93,994.3 1140.71,994.3 1146.5,998.66 1152.28,1007.39 1158.07,1007.39 1163.85,1007.39 1169.64,1011.75 1175.42,1016.11 1181.21,1016.11 1187,1020.48 1192.78,1020.48 1198.57,1020.48 1204.35,1020.48 1210.14,1020.48 1215.92,1020.48 1221.71,1020.48 1227.5,1024.84 1233.28,1024.84 1239.07,1024.84 1244.85,1024.84 1250.64,1024.84 1256.42,1024.84 1262.21,1024.84 1268,1033.57 1273.78,1033.57 1279.57,1033.57 1285.35,1033.57 1291.14,1033.57 1296.92,1033.57 1302.71,1033.57 1308.49,1033.57 1314.28,1033.57 1320.07,1033.57 1325.85,1033.57 1331.64,1033.57 1337.42,1033.57 1343.21,1033.57 1348.99,1033.57 1354.78,1033.57 1360.57,1033.57 1366.35,1033.57 1372.14,1033.57 1377.92,1033.57 1383.71,1033.57 1389.49,1033.57 1395.28,1037.93 1401.07,1037.93 1406.85,1037.93 1412.64,1037.93 1418.42,1037.93 1424.21,1037.93 1429.99,1037.93 1435.78,1037.93 1441.56,1037.93 1447.35,1037.93 1453.14,1037.93 1458.92,1037.93"/>
<polyline stroke="#a6cee3" points="886.14,658.35 891.93,658.35 897.71,662.71 903.5,671.44 909.29,684.53 915.07,697.62 920.86,697.62 926.64,706.34 932.43,706.34 938.21,710.71 944,715.07 949.78,723.8 955.57,723.8 961.36,723.8 967.14,728.16 972.93,728.16 978.71,732.52 984.5,732.52 990.28,736.89 996.07,736.89 1001.86,741.25 1007.64,741.25 1013.43,741.25 1019.21,745.61 1025,745.61 1030.78,745.61 1036.57,745.61 1042.36,754.34 1048.14,754.34 1053.93,754.34 1059.71,758.7 1065.5,758.7 1071.28,758.7 1077.07,758.7 1082.85,767.43 1088.64,767.43 1094.43,780.51 1100.21,780.51 1106,780.51 1111.78,793.6 1117.57,793.6 1123.35,793.6 1129.14,797.97 1134.93,797.97 1140.71,797.97 1146.5,797.97 1152.28,802.33 1158.07,802.33 1163.85,802.33 1169.64,802.33 1175.42,802.33 1181.21,806.69 1187,806.69 1192.78,806.69 1198.57,815.42 1204.35,815.42 1210.14,819.78 1215.92,819.78 1221.71,819.78 1227.5,828.51 1233.28,828.51 1239.07,832.87 1244.85,837.23 1250.64,837.23 1256.42,837.23 1262.21,837.23 1268,837.23 1273.78,850.32 1279.57,850.32 1285.35,850.32 1291.14,850.32 1296.92,850.32 1302.71,850.32 1308.49,850.32 1314.28,850.32 1320.07,850.32 1325.85,850.32 1331.64,850.32 1337.42,854.69 1343.21,854.69 1348.99,854.69 1354.78,854.69 1360.57,854.69 1366.35,863.41 1372.14,863.41 1377.92,863.41 1383.71,863.41 1389.49,863.41 1395.28,863.41 1401.07,863.41 1406.85,872.14 1412.64,872.14 1418.42,872.14 1424.21,876.5 1429.99,876.5 1435.78,876.5 1441.56,876.5 1447.35,889.59 1453.14,889.59 1458.92,889.59"/>
<polyline stroke="#1f78b4" points="886.14,658.35 891.93,671.44 897.71,693.26 903.5,706.34 909.29,728.16 915.07,754.34 920.86,771.79 926.64,789.24 932.43,806.69 938.21,819.78 944,832.87 949.78,845.96 955.57,863.41 961.36,863.41 967.14,876.5 972.93,876.5 978.71,880.86 984.5,898.31 990.28,898.31 996.07,902.68 1001.86,915.77 1007.64,915.77 1013.43,920.13 1019.21,920.13 1025,928.86 1030.78,941.94 1036.57,941.94 1042.36,946.31 1048.14,955.03 1053.93,963.76 1059.71,963.76 1065.5,968.12 1071.28,972.49 1077.07,972.49 1082.85,972.49 1088.64,976.85 1094.43,981.21 1100.21,985.57 1106,989.94 1111.78,989.94 1117.57,989.94 1123.35,994.3 1129.14,998.66 1134.93,998.66 1140.71,998.66 1146.5,1007.39 1152.28,1007.39 1158.07,1007.39 1163.85,1016.11 1169.64,1016.11 1175.42,1016.11 1181.21,1020.48 1187,1020.48 1192.78,1020.48 1198.57,1020.48 1204.35,1020.48 1210.14,1020.48 1215.92,1024.84 1221.71,1024.84 1227.5,1024.84 1233.28,1024.84 1239.07,1024.84 1244.85,1029.2 1250.64,1029.2 1256.42,1029.2 1262.21,1029.2 1268,1033.57 1273.78,1033.57 1279.57,1033.57 1285.35,1033.57 1291.14,1042.29 1296.92,1042.29 1302.71,1042.29 1308.49,1042.29 1314.28,1042.29 1320.07,1042.29 1325.85,1042.29 1331.64,1042.29 1337.42,1042.29 1343.21,1042.29 1348.99,1042.29 1354.78,1042.29 1360.57,1042.29 1366.35,1042.29 1372.14,1042.29 1377.92,1042.29 1383.71,1042.29 1389.49,1042.29 1395.28,1042.29 1401.07,1055.38 1406.85,1055.38 1412.64,1055.38 1418.42,1055.38 1424.21,1055.38 1429.99,1055.38 1435.78,1055.38 1441.56,1055.38 1447.35,1055.38 1453.14,1055.38 1458.92,1055.38"/>
<polyline stroke="#a6cee3" points="886.14,658.35 891.93,662.71 897.71,662.71 903.5,667.08 909.29,680.17 915.07,680.17 920.86,684.53 926.64,684.53 932.43,684.53 938.21,684.53 944,688.89 949.78,693.26 955.57,693.26 961.36,693.26 967.14,693.26 972.93,697.62 978.71,697.62 984.5,710.71 990.28,710.71 996.07,710.71 1001.86,710.71 1007.64,710.71 1013.43,710.71 1019.21,710.71 1025,710.71 1030.78,715.07 1036.57,715.07 1042.36,719.43 1048.14,723.8 1053.93,723.8 1059.71,723.8 1065.5,723.8 1071.28,732.52 1077.07,732.52 1082.85,741.25 1088.64,741.25 1094.43,741.25 1100.21,749.97 1106,749.97 1111.78,749.97 1117.57,749.97 1123.35,749.97 1129.14,749.97 1134.93,749.97 1140.71,749.97 1146.5,749.97 1152.28,754.34 1158.07,763.06 1163.85,763.06 1169.64,763.06 1175.42,763.06 1181.21,763.06 1187,771.79 1192.78,771.79 1198.57,780.51 1204.35,780.51 1210.14,780.51 1215.92,780.51 1221.71,780.51 1227.5,780.51 1233.28,789.24 1239.07,789.24 1244.85,789.24 1250.64,789.24 1256.42,789.24 1262.21,789.24 1268,789.24 1273.78,789.24 1279.57,793.6 1285.35,793.6 1291.14,793.6 1296.92,802.33 1302.71,802.33 1308.49,802.33 1314.28,802.33 1320.07,802.33 1325.85,802.33 1331.64,802.33 1337.42,802.33 1343.21,802.33 1348.99,806.69 1354.78,806.69 1360.57,806.69 1366.35,811.06 1372.14,811.06 1377.92,811.06 1383.71,815.42 1389.49,815.42 1395.28,819.78 1401.07,819.78 1406.85,819.78 1412.64,819.78 1418.42,819.78 1424.21,824.14 1429.99,824.14 1435.78,824.14 1441.56,824.14 1447.35,828.51 1453.14,828.51 1458.92,828.51"/>
<polyline stroke="#1f78b4" points="886.14,658.35 891.93,658.35 897.71,662.71 903.5,684.53 909.29,688.89 915.07,732.52 920.86,732.52 926.64,736.89 932.43,763.06 938.21,767.43 944,776.15 949.78,797.97 955.57,797.97 961.36,802.33 967.14,811.06 972.93,819.78 978.71,828.51 984.5,841.6 990.28,863.41 996.07,863.41 1001.86,880.86 1007.64,880.86 1013.43,885.23 1019.21,889.59 1025,893.95 1030.78,902.68 1036.57,911.4 1042.36,911.4 1048.14,920.13 1053.93,928.86 1059.71,928.86 1065.5,937.58 1071.28,937.58 1077.07,937.58 1082.85,941.94 1088.64,941.94 1094.43,941.94 1100.21,950.67 1106,955.03 1111.78,959.4 1117.57,959.4 1123.35,963.76 1129.14,968.12 1134.93,972.49 1140.71,972.49 1146.5,976.85 1152.28,976.85 1158.07,976.85 1163.85,989.94 1169.64,989.94 1175.42,989.94 1181.21,989.94 1187,989.94 1192.78,989.94 1198.57,989.94 1204.35,989.94 1210.14,989.94 1215.92,989.94 1221.71,998.66 1227.5,998.66 1233.28,998.66 1239.07,998.66 1244.85,998.66 1250.64,998.66 1256.42,998.66 1262.21,1003.03 1268,1003.03 1273.78,1007.39 1279.57,1007.39 1285.35,1007.39 1291.14,1011.75 1296.92,1011.75 1302.71,1011.75 1308.49,1011.75 1314.28,1011.75 1320.07,1011.75 1325.85,1011.75 1331.64,1011.75 1337.42,1011.75 1343.21,1011.75 1348.99,1011.75 1354.78,1011.75 1360.57,1011.75 1366.35,1011.75 1372.14,1011.75 1377.92,1016.11 1383.71,1016.11 1389.49,1020.48 1395.28,1020.48 1401.07,1020.48 1406.85,1020.48 1412.64,1020.48 1418.42,1020.48 1424.21,1020.48 1429.99,1020.48 1435.78,1029.2 1441.56,1029.2 1447.35,1029.2 1453.14,1029.2 1458.92,1029.2"/>
<polyline stroke="#a6cee3" points="886.14,658.35 891.93,658.35 897.71,658.35 903.5,662.71 909.29,671.44 915.07,675.8 920.86,684.53 926.64,684.53 932.43,684.53 938.21,684.53 944,684.53 949.78,684.53 955.57,684.53 961.36,688.89 967.14,693.26 972.93,693.26 978.71,693.26 984.5,701.98 990.28,701.98 996.07,706.34 1001.86,706.34 1007.64,706.34 1013.43,706.34 1019.21,706.34 1025,719.43 1030.78,719.43 1036.57,719.43 1042.36,719.43 1048.14,719.43 1053.93,719.43 1059.71,719.43 1065.5,723.8 1071.28,723.8 1077.07,723.8 1082.85,723.8 1088.64,723.8 1094.43,723.8 1100.21,723.8 1106,728.16 1111.78,728.16 1117.57,732.52 1123.35,732.52 1129.14,732.52 1134.93,732.52 1140.71,736.89 1146.5,736.89 1152.28,741.25 1158.07,741.25 1163.85,741.25 1169.64,741.25 1175.42,745.61 1181.21,745.61 1187,749.97 1192.78,754.34 1198.57,758.7 1204.35,763.06 1210.14,763.06 1215.92,763.06 1221.71,763.06 1227.5,767.43 1233.28,771.79 1239.07,771.79 1244.85,771.79 1250.64,771.79 1256.42,780.51 1262.21,793.6 1268,793.6 1273.78,793.6 1279.57,793.6 1285.35,793.6 1291.14,793.6 1296.92,793.6 1302.71,793.6 1308.49,793.6 1314.28,793.6 1320.07,797.97 1325.85,797.97 1331.64,797.97 1337.42,797.97 1343.21,797.97 1348.99,797.97 1354.78,797.97 1360.57,797.97 1366.35,806.69 1372.14,806.69 1377.92,806.69 1383.71,815.42 1389.49,815.42 1395.28,815.42 1401.07,815.42 1406.85,815.42 1412.64,815.42 1418.42,824.14 1424.21,824.14 1429.99,824.14 1435.78,824.14 1441.56,824.14 1447.35,832.87 1453.14,832.87 1458.92,832.87"/>
<polyline stroke="#1f78b4" points="886.14,658.35 891.93,675.8 897.71,688.89 903.5,706.34 909.29,723.8 915.07,741.25 920.86,754.34 926.64,789.24 932.43,797.97 938.21,802.33 944,811.06 949.78,819.78 955.57,832.87 961.36,845.96 967.14,854.69 972.93,859.05 978.71,876.5 984.5,876.5 990.28,880.86 996.07,889.59 1001.86,898.31 1007.64,898.31 1013.43,911.4 1019.21,915.77 1025,920.13 1030.78,924.49 1036.57,937.58 1042.36,937.58 1048.14,941.94 1053.93,950.67 1059.71,959.4 1065.5,959.4 1071.28,959.4 1077.07,959.4 1082.85,968.12 1088.64,968.12 1094.43,976.85 1100.21,976.85 1106,981.21 1111.78,981.21 1117.57,989.94 1123.35,989.94 1129.14,989.94 1134.93,989.94 1140.71,994.3 1146.5,994.3 1152.28,998.66 1158.07,1003.03 1163.85,1011.75 1169.64,1011.75 1175.42,1016.11 1181.21,1016.11 1187,1016.11 1192.78,1016.11 1198.57,1020.48 1204.35,1020.48 1210.14,1020.48 1215.92,1024.84 1221.71,1024.84 1227.5,1024.84 1233.28,1024.84 1239.07,1024.84 1244.85,1029.2 1250.64,1033.57 1256.42,1033.57 1262.21,1033.57 1268,1033.57 1273.78,1033.57 1279.57,1037.93 1285.35,1037.93 1291.14,1037.93 1296.92,1037.93 1302.71,1037.93 1308.49,1042.29 1314.28,1042.29 1320.07,1042.29 1325.85,1042.29 1331.64,1042.29 1337.42,1042.29 1343.21,1042.29 1348.99,1042.29 1354.78,1042.29 1360.57,1042.29 1366.35,1042.29 1372.14,1042.29 1377.92,1042.29 1383.71,1042.29 1389.49,1042.29 1395.28,1042.29 1401.07,1042.29 1406.85,1042.29 1412.64,1042.29 1418.42,1042.29 1424.21,1042.29 1429.99,1042.29 1435.78,1042.29 1441.56,1042.29 1447.35,1046.66 1453.14,1046.66 1458.92,1046.66"/>
<polyline stroke="#a6cee3" points="886.14,658.35 891.93,662.71 897.71,662.71 903.5,667.08 909.29,680.17 915.07,680.17 920.86,693.26 926.64,693.26 932.43,693.26 938.21,693.26 944,697.62 949.78,701.98 955.57,706.34 961.36,706.34 967.14,706.34 972.93,719.43 978.71,719.43 984.5,719.43 990.28,719.43 996.07,719.43 1001.86,719.43 1007.64,719.43 1013.43,719.43 1019.21,719.43 1025,723.8 1030.78,723.8 1036.57,723.8 1042.36,728.16 1048.14,728.16 1053.93,728.16 1059.71,728.16 1065.5,736.89 1071.28,736.89 1077.07,736.89 1082.85,745.61 1088.64,745.61 1094.43,745.61 1100.21,745.61 1106,745.61 1111.78,754.34 1117.57,754.34 1123.35,754.34 1129.14,758.7 1134.93,758.7 1140.71,758.7 1146.5,758.7 1152.28,763.06 1158.07,767.43 1163.85,771.79 1169.64,771.79 1175.42,780.51 1181.21,780.51 1187,780.51 1192.78,780.51 1198.57,784.88 1204.35,784.88 1210.14,784.88 1215.92,784.88 1221.71,793.6 1227.5,793.6 1233.28,793.6 1239.07,793.6 1244.85,793.6 1250.64,793.6 1256.42,797.97 1262.21,797.97 1268,802.33 1273.78,802.33 1279.57,802.33 1285.35,811.06 1291.14,811.06 1296.92,811.06 1302.71,811.06 1308.49,811.06 1314.28,811.06 1320.07,811.06 1325.85,811.06 1331.64,811.06 1337.42,811.06 1343.21,811.06 1348.99,811.06 1354.78,811.06 1360.57,815.42 1366.35,815.42 1372.14,815.42 1377.92,815.42 1383.71,824.14 1389.49,824.14 1395.28,828.51 1401.07,837.23 1406.85,837.23 1412.64,837.23 1418.42,837.23 1424.21,837.23 1429.99,837.23 1435.78,837.23 1441.56,837.23 1447.35,837.23 1453.14,837.23 1458.92,837.23"/>
<polyline stroke="#1f78b4" points="886.14,658.35 891.93,667.08 897.71,675.8 903.5,680.17 909.29,697.62 915.07,723.8 920.86,741.25 926.64,749.97 932.43,771.79 938.21,789.24 944,797.97 949.78,802.33 955.57,815.42 961.36,819.78 967.14,824.14 972.93,837.23 978.71,845.96 984.5,863.41 990.28,867.77 996.07,876.5 1001.86,880.86 1007.64,885.23 1013.43,893.95 1019.21,898.31 1025,902.68 1030.78,907.04 1036.57,915.77 1042.36,920.13 1048.14,924.49 1053.93,933.22 1059.71,933.22 1065.5,937.58 1071.28,946.31 1077.07,950.67 1082.85,950.67 1088.64,955.03 1094.43,959.4 1100.21,963.76 1106,963.76 1111.78,963.76 1117.57,968.12 1123.35,968.12 1129.14,968.12 1134.93,968.12 1140.71,981.21 1146.5,981.21 1152.28,981.21 1158.07,981.21 1163.85,985.57 1169.64,989.94 1175.42,989.94 1181.21,989.94 1187,989.94 1192.78,989.94 1198.57,998.66 1204.35,998.66 1210.14,998.66 1215.92,998.66 1221.71,998.66 1227.5,1003.03 1233.28,1003.03 1239.07,1003.03 1244.85,1003.03 1250.64,1003.03 1256.42,1003.03 1262.21,1003.03 1268,1011.75 1273.78,1011.75 1279.57,1011.75 1285.35,1016.11 1291.14,1016.11 1296.92,1016.11 1302.71,1016.11 1308.49,1020.48 1314.28,1020.48 1320.07,1020.48 1325.85,1020.48 1331.64,1020.48 1337.42,1020.48 1343.21,1020.48 1348.99,1020.48 1354.78,1020.48 1360.57,1020.48 1366.35,1020.48 1372.14,1020.48 1377.92,1020.48 1383.71,1024.84 1389.49,1024.84 1395.28,1024.84 1401.07,1024.84 1406.85,1029.2 1412.64,1029.2 1418.42,1029.2 1424.21,1029.2 1429.99,1029.2 1435.78,1042.29 1441.56,1042.29 1447.35,1042.29 1453.14,1042.29 1458.92,1042.29"/>
<polyline stroke="#a6cee3" points="886.14,658.35 891.93,667.08 897.71,667.08 903.5,684.53 909.29,693.26 915.07,693.26 920.86,710.71 926.64,710.71 932.43,710.71 938.21,710.71 944,710.71 949.78,719.43 955.57,732.52 961.36,732.52 967.14,732.52 972.93,732.52 978.71,732.52 984.5,732.52 990.28,732.52 996.07,732.52 1001.86,736.89 1007.64,736.89 1013.43,741.25 1019.21,741.25 1025,749.97 1030.78,749.97 1036.57,749.97 1042.36,749.97 1048.14,749.97 1053.93,763.06 1059.71,763.06 1065.5,763.06 1071.28,763.06 1077.07,763.06 1082.85,763.06 1088.64,767.43 1094.43,771.79 1100.21,771.79 1106,776.15 1111.78,780.51 1117.57,784.88 1123.35,793.6 1129.14,793.6 1134.93,793.6 1140.71,793.6 1146.5,797.97 1152.28,797.97 1158.07,806.69 1163.85,806.69 1169.64,806.69 1175.42,806.69 1181.21,811.06 1187,811.06 1192.78,819.78 1198.57,824.14 1204.35,824.14 1210.14,828.51 1215.92,828.51 1221.71,832.87 1227.5,837.23 1233.28,837.23 1239.07,837.23 1244.85,837.23 1250.64,841.6 1256.42,841.6 1262.21,841.6 1268,841.6 1273.78,845.96 1279.57,845.96 1285.35,845.96 1291.14,845.96 1296.92,854.69 1302.71,854.69 1308.49,854.69 1314.28,854.69 1320.07,854.69 1325.85,854.69 1331.64,854.69 1337.42,854.69 1343.21,854.69 1348.99,854.69 1354.78,854.69 1360.57,854.69 1366.35,859.05 1372.14,859.05 1377.92,859.05 1383.71,859.05 1389.49,859.05 1395.28,859.05 1401.07,863.41 1406.85,867.77 1412.64,876.5 1418.42,876.5 1424.21,876.5 1429.99,876.5 1435.78,876.5 1441.56,880.86 1447.35,880.86 1453.14,880.86 1458.92,880.86"/>
<polyline stroke="#1f78b4" points="886.14,658.35 891.93,667.08 897.71,667.08 903.5,680.17 909.29,701.98 915.07,710.71 920.86,715.07 926.64,741.25 932.43,758.7 938.21,771.79 944,780.51 949.78,784.88 955.57,789.24 961.36,811.06 967.14,811.06 972.93,815.42 978.71,828.51 984.5,841.6 990.28,850.32 996.07,863.41 1001.86,867.77 1007.64,872.14 1013.43,880.86 1019.21,889.59 1025,893.95 1030.78,907.04 1036.57,920.13 1042.36,920.13 1048.14,924.49 1053.93,928.86 1059.71,928.86 1065.5,928.86 1071.28,937.58 1077.07,937.58 1082.85,937.58 1088.64,941.94 1094.43,946.31 1100.21,946.31 1106,950.67 1111.78,950.67 1117.57,955.03 1123.35,959.4 1129.14,963.76 1134.93,963.76 1140.71,968.12 1146.5,968.12 1152.28,968.12 1158.07,972.49 1163.85,976.85 1169.64,976.85 1175.42,981.21 1181.21,981.21 1187,985.57 1192.78,985.57 1198.57,994.3 1204.35,994.3 1210.14,994.3 1215.92,994.3 1221.71,994.3 1227.5,994.3 1233.28,994.3 1239.07,998.66 1244.85,998.66 1250.64,1003.03 1256.42,1003.03 1262.21,1007.39 1268,1007.39 1273.78,1007.39 1279.57,1007.39 1285.35,1007.39 1291.14,1007.39 1296.92,1011.75 1302.71,1011.75 1308.49,1011.75 1314.28,1011.75 1320.07,1011.75 1325.85,1011.75 1331.64,1011.75 1337.42,1011.75 1343.21,1011.75 1348.99,1011.75 1354.78,1024.84 1360.57,1024.84 1366.35,1024.84 1372.14,1024.84 1377.92,1024.84 1383.71,1024.84 1389.49,1024.84 1395.28,1024.84 1401.07,1024.84 1406.85,1024.84 1412.64,1024.84 1418.42,1024.84 1424.21,1024.84 1429.99,1033.57 1435.78,1033.57 1441.56,1033.57 1447.35,1033.57 1453.14,1033.57 1458.92,1033.57"/>
<polyline stroke="#a6cee3" points="886.14,658.35 891.93,658.35 897.71,658.35 903.5,675.8 909.29,693.26 915.07,693.26 920.86,701.98 926.64,701.98 932.43,706.34 938.21,710.71 944,710.71 949.78,715.07 955.57,719.43 961.36,719.43 967.14,723.8 972.93,723.8 978.71,723.8 984.5,723.8 990.28,728.16 996.07,732.52 1001.86,732.52 1007.64,732.52 1013.43,732.52 1019.21,732.52 1025,745.61 1030.78,745.61 1036.57,745.61 1042.36,745.61 1048.14,745.61 1053.93,749.97 1059.71,749.97 1065.5,749.97 1071.28,749.97 1077.07,754.34 1082.85,754.34 1088.64,754.34 1094.43,754.34 1100.21,758.7 1106,771.79 1111.78,771.79 1117.57,771.79 1123.35,771.79 1129.14,780.51 1134.93,780.51 1140.71,784.88 1146.5,784.88 1152.28,784.88 1158.07,793.6 1163.85,793.6 1169.64,793.6 1175.42,793.6 1181.21,793.6 1187,802.33 1192.78,802.33 1198.57,802.33 1204.35,802.33 1210.14,815.42 1215.92,815.42 1221.71,815.42 1227.5,824.14 1233.28,824.14 1239.07,824.14 1244.85,824.14 1250.64,824.14 1256.42,824.14 1262.21,824.14 1268,824.14 1273.78,828.51 1279.57,828.51 1285.35,832.87 1291.14,832.87 1296.92,837.23 1302.71,837.23 1308.49,837.23 1314.28,837.23 1320.07,837.23 1325.85,837.23 1331.64,837.23 1337.42,837.23 1343.21,845.96 1348.99,845.96 1354.78,845.96 1360.57,845.96 1366.35,845.96 1372.14,845.96 1377.92,850.32 1383.71,850.32 1389.49,850.32 1395.28,850.32 1401.07,850.32 1406.85,850.32 1412.64,854.69 1418.42,854.69 1424.21,863.41 1429.99,863.41 1435.78,863.41 1441.56,867.77 1447.35,867.77 1453.14,867.77 1458.92,872.14"/>
<polyline stroke="#1f78b4" points="886.14,658.35 891.93,667.08 897.71,688.89 903.5,715.07 909.29,723.8 915.07,741.25 920.86,763.06 926.64,780.51 932.43,806.69 938.21,824.14 944,828.51 949.78,837.23 955.57,859.05 961.36,863.41 967.14,867.77 972.93,880.86 978.71,885.23 984.5,889.59 990.28,898.31 996.07,911.4 1001.86,911.4 1007.64,911.4 1013.43,911.4 1019.21,920.13 1025,924.49 1030.78,924.49 1036.57,928.86 1042.36,937.58 1048.14,941.94 1053.93,946.31 1059.71,950.67 1065.5,963.76 1071.28,963.76 1077.07,963.76 1082.85,963.76 1088.64,963.76 1094.43,963.76 1100.21,968.12 1106,972.49 1111.78,976.85 1117.57,976.85 1123.35,976.85 1129.14,981.21 1134.93,981.21 1140.71,981.21 1146.5,985.57 1152.28,989.94 1158.07,994.3 1163.85,998.66 1169.64,998.66 1175.42,998.66 1181.21,1003.03 1187,1003.03 1192.78,1007.39 1198.57,1007.39 1204.35,1007.39 1210.14,1007.39 1215.92,1007.39 1221.71,1011.75 1227.5,1011.75 1233.28,1011.75 1239.07,1016.11 1244.85,1016.11 1250.64,1016.11 1256.42,1016.11 1262.21,1020.48 1268,1020.48 1273.78,1020.48 1279.57,1020.48 1285.35,1020.48 1291.14,1020.48 1296.92,1020.48 1302.71,1020.48 1308.49,1024.84 1314.28,1024.84 1320.07,1024.84 1325.85,1029.2 1331.64,1029.2 1337.42,1029.2 1343.21,1029.2 1348.99,1029.2 1354.78,1029.2 1360.57,1029.2 1366.35,1029.2 1372.14,1029.2 1377.92,1029.2 1383.71,1037.93 1389.49,1037.93 1395.28,1037.93 1401.07,1037.93 1406.85,1037.93 1412.64,1037.93 1418.42,1037.93 1424.21,1037.93 1429.99,1037.93 1435.78,1037.93 1441.56,1042.29 1447.35,1042.29 1453.14,1042.29 1458.92,1042.29"/>
<polyline stroke="#a6cee3" points="886.14,658.35 891.93,658.35 897.71,658.35 903.5,667.08 909.29,667.08 915.07,671.44 920.86,675.8 926.64,680.17 932.43,684.53 938.21,684.53 944,684.53 949.78,693.26 955.57,693.26 961.36,693.26 967.14,693.26 972.93,693.26 978.71,697.62 984.5,697.62 990.28,697.62 996.07,697.62 1001.86,697.62 1007.64,706.34 1013.43,706.34 1019.21,706.34 1025,706.34 1030.78,706.34 1036.57,706.34 1042.36,715.07 1048.14,715.07 1053.93,715.07 1059.71,715.07 1065.5,715.07 1071.28,723.8 1077.07,723.8 1082.85,723.8 1088.64,728.16 1094.43,728.16 1100.21,728.16 1106,728.16 1111.78,728.16 1117.57,728.16 1123.35,728.16 1129.14,728.16 1134.93,732.52 1140.71,732.52 1146.5,732.52 1152.28,741.25 1158.07,741.25 1163.85,741.25 1169.64,749.97 1175.42,754.34 1181.21,754.34 1187,754.34 1192.78,754.34 1198.57,763.06 1204.35,763.06 1210.14,763.06 1215.92,763.06 1221.71,763.06 1227.5,767.43 1233.28,767.43 1239.07,771.79 1244.85,771.79 1250.64,776.15 1256.42,776.15 1262.21,776.15 1268,780.51 1273.78,780.51 1279.57,789.24 1285.35,789.24 1291.14,789.24 1296.92,789.24 1302.71,789.24 1308.49,789.24 1314.28,789.24 1320.07,789.24 1325.85,793.6 1331.64,793.6 1337.42,793.6 1343.21,793.6 1348.99,793.6 1354.78,793.6 1360.57,797.97 1366.35,802.33 1372.14,802.33 1377.92,802.33 1383.71,806.69 1389.49,806.69 1395.28,824.14 1401.07,824.14 1406.85,824.14 1412.64,824.14 1418.42,824.14 1424.21,824.14 1429.99,824.14 1435.78,824.14 1441.56,824.14 1447.35,824.14 1453.14,824.14 1458.92,828.51"/>
<polyline stroke="#1f78b4" points="886.14,658.35 891.93,671.44 897.71,680.17 903.5,688.89 909.29,719.43 915.07,736.89 920.86,758.7 926.64,776.15 932.43,797.97 938.21,815.42 944,828.51 949.78,841.6 955.57,850.32 961.36,859.05 967.14,867.77 972.93,880.86 978.71,880.86 984.5,893.95 990.28,902.68 996.07,902.68 1001.86,907.04 1007.64,911.4 1013.43,920.13 1019.21,920.13 1025,924.49 1030.78,928.86 1036.57,937.58 1042.36,946.31 1048.14,955.03 1053.93,955.03 1059.71,955.03 1065.5,959.4 1071.28,963.76 1077.07,963.76 1082.85,968.12 1088.64,976.85 1094.43,976.85 1100.21,981.21 1106,981.21 1111.78,989.94 1117.57,989.94 1123.35,989.94 1129.14,994.3 1134.93,994.3 1140.71,994.3 1146.5,1003.03 1152.28,1003.03 1158.07,1003.03 1163.85,1011.75 1169.64,1011.75 1175.42,1011.75 1181.21,1016.11 1187,1016.11 1192.78,1016.11 1198.57,1016.11 1204.35,1016.11 1210.14,1016.11 1215.92,1024.84 1221.71,1024.84 1227.5,1024.84 1233.28,1024.84 1239.07,1029.2 1244.85,1029.2 1250.64,1029.2 1256.42,1029.2 1262.21,1037.93 1268,1037.93 1273.78,1037.93 1279.57,1037.93 1285.35,1037.93 1291.14,1037.93 1296.92,1037.93 1302.71,1037.93 1308.49,1037.93 1314.28,1037.93 1320.07,1037.93 1325.85,1037.93 1331.64,1037.93 1337.42,1037.93 1343.21,1037.93 1348.99,1037.93 1354.78,1037.93 1360.57,1037.93 1366.35,1042.29 1372.14,1042.29 1377.92,1042.29 1383.71,1042.29 1389.49,1042.29 1395.28,1042.29 1401.07,1042.29 1406.85,1042.29 1412.64,1042.29 1418.42,1042.29 1424.21,1046.66 1429.99,1046.66 1435.78,1046.66 1441.56,1046.66 1447.35,1046.66 1453.14,1046.66 1458.92,1046.66"/>
<polyline stroke="#a6cee3" points="886.14,658.35 891.93,662.71 897.71,662.71 903.5,667.08 909.29,671.44 915.07,675.8 920.86,684.53 926.64,693.26 932.43,697.62 938.21,706.34 944,706.34 949.78,706.34 955.57,706.34 961.36,710.71 967.14,710.71 972.93,715.07 978.71,715.07 984.5,719.43 990.28,719.43 996.07,719.43 1001.86,723.8 1007.64,723.8 1013.43,728.16 1019.21,728.16 1025,728.16 1030.78,732.52 1036.57,732.52 1042.36,732.52 1048.14,736.89 1053.93,736.89 1059.71,736.89 1065.5,736.89 1071.28,741.25 1077.07,749.97 1082.85,749.97 1088.64,749.97 1094.43,749.97 1100.21,758.7 1106,763.06 1111.78,763.06 1117.57,763.06 1123.35,767.43 1129.14,771.79 1134.93,780.51 1140.71,780.51 1146.5,780.51 1152.28,780.51 1158.07,780.51 1163.85,780.51 1169.64,780.51 1175.42,784.88 1181.21,784.88 1187,789.24 1192.78,789.24 1198.57,797.97 1204.35,797.97 1210.14,802.33 1215.92,802.33 1221.71,802.33 1227.5,802.33 1233.28,806.69 1239.07,806.69 1244.85,806.69 1250.64,806.69 1256.42,806.69 1262.21,815.42 1268,815.42 1273.78,815.42 1279.57,819.78 1285.35,819.78 1291.14,824.14 1296.92,824.14 1302.71,824.14 1308.49,824.14 1314.28,824.14 1320.07,824.14 1325.85,824.14 1331.64,824.14 1337.42,824.14 1343.21,824.14 1348.99,824.14 1354.78,824.14 1360.57,828.51 1366.35,828.51 1372.14,828.51 1377.92,832.87 1383.71,832.87 1389.49,837.23 1395.28,841.6 1401.07,841.6 1406.85,841.6 1412.64,845.96 1418.42,845.96 1424.21,845.96 1429.99,845.96 1435.78,854.69 1441.56,854.69 1447.35,854.69 1453.14,859.05 1458.92,859.05"/>
<polyline stroke="#1f78b4" points="886.14,658.35 891.93,658.35 897.71,667.08 903.5,671.44 909.29,697.62 915.07,723.8 920.86,723.8 926.64,732.52 932.43,749.97 938.21,763.06 944,771.79 949.78,780.51 955.57,789.24 961.36,802.33 967.14,806.69 972.93,811.06 978.71,824.14 984.5,837.23 990.28,845.96 996.07,854.69 1001.86,863.41 1007.64,876.5 1013.43,880.86 1019.21,885.23 1025,898.31 1030.78,898.31 1036.57,907.04 1042.36,920.13 1048.14,920.13 1053.93,924.49 1059.71,924.49 1065.5,933.22 1071.28,937.58 1077.07,937.58 1082.85,941.94 1088.64,941.94 1094.43,946.31 1100.21,950.67 1106,959.4 1111.78,963.76 1117.57,963.76 1123.35,968.12 1129.14,968.12 1134.93,968.12 1140.71,972.49 1146.5,972.49 1152.28,985.57 1158.07,989.94 1163.85,989.94 1169.64,994.3 1175.42,994.3 1181.21,994.3 1187,994.3 1192.78,1003.03 1198.57,1003.03 1204.35,1003.03 1210.14,1003.03 1215.92,1003.03 1221.71,1003.03 1227.5,1003.03 1233.28,1003.03 1239.07,1007.39 1244.85,1011.75 1250.64,1011.75 1256.42,1011.75 1262.21,1011.75 1268,1011.75 1273.78,1016.11 1279.57,1016.11 1285.35,1016.11 1291.14,1016.11 1296.92,1016.11 1302.71,1020.48 1308.49,1020.48 1314.28,1020.48 1320.07,1020.48 1325.85,1020.48 1331.64,1020.48 1337.42,1024.84 1343.21,1024.84 1348.99,1024.84 1354.78,1024.84 1360.57,1024.84 1366.35,1024.84 1372.14,1024.84 1377.92,1024.84 1383.71,1029.2 1389.49,1029.2 1395.28,1029.2 1401.07,1037.93 1406.85,1037.93 1412.64,1037.93 1418.42,1037.93 1424.21,1037.93 1429.99,1037.93 1435.78,1037.93 1441.56,1037.93 1447.35,1037.93 1453.14,1037.93 1458.92,1037.93"/>
<polyline stroke="#a6cee3" points="886.14,658.35 891.93,658.35 897.71,662.71 903.5,675.8 909.29,675.8 915.07,688.89 920.86,688.89 926.64,688.89 932.43,688.89 938.21,688.89 944,688.89 949.78,688.89 955.57,693.26 961.36,701.98 967.14,701.98 972.93,701.98 978.71,701.98 984.5,706.34 990.28,706.34 996.07,706.34 1001.86,706.34 1007.64,706.34 1013.43,706.34 1019.21,706.34 1025,706.34 1030.78,710.71 1036.57,719.43 1042.36,719.43 1048.14,723.8 1053.93,723.8 1059.71,723.8 1065.5,728.16 1071.28,728.16 1077.07,732.52 1082.85,741.25 1088.64,741.25 1094.43,741.25 1100.21,741.25 1106,741.25 1111.78,749.97 1117.57,749.97 1123.35,749.97 1129.14,754.34 1134.93,758.7 1140.71,758.7 1146.5,758.7 1152.28,767.43 1158.07,767.43 1163.85,767.43 1169.64,767.43 1175.42,776.15 1181.21,776.15 1187,784.88 1192.78,784.88 1198.57,784.88 1204.35,784.88 1210.14,784.88 1215.92,789.24 1221.71,789.24 1227.5,789.24 1233.28,789.24 1239.07,789.24 1244.85,789.24 1250.64,789.24 1256.42,793.6 1262.21,793.6 1268,802.33 1273.78,802.33 1279.57,802.33 1285.35,802.33 1291.14,802.33 1296.92,802.33 1302.71,806.69 1308.49,806.69 1314.28,806.69 1320.07,806.69 1325.85,806.69 1331.64,806.69 1337.42,806.69 1343.21,806.69 1348.99,806.69 1354.78,811.06 1360.57,811.06 1366.35,815.42 1372.14,815.42 1377.92,815.42 1383.71,819.78 1389.49,819.78 1395.28,828.51 1401.07,828.51 1406.85,828.51 1412.64,828.51 1418.42,828.51 1424.21,832.87 1429.99,832.87 1435.78,832.87 1441.56,841.6 1447.35,841.6 1453.14,845.96 1458.92,850.32"/>
<polyline stroke="#1f78b4" points="886.14,658.35 891.93,675.8 897.71,693.26 903.5,706.34 909.29,719.43 915.07,745.61 920.86,767.43 926.64,802.33 932.43,815.42 938.21,832.87 944,832.87 949.78,837.23 955.57,845.96 961.36,863.41 967.14,867.77 972.93,872.14 978.71,880.86 984.5,889.59 990.28,893.95 996.07,907.04 1001.86,907.04 1007.64,907.04 1013.43,911.4 1019.21,915.77 1025,920.13 1030.78,924.49 1036.57,933.22 1042.36,941.94 1048.14,946.31 1053.93,950.67 1059.71,959.4 1065.5,963.76 1071.28,963.76 1077.07,972.49 1082.85,972.49 1088.64,981.21 1094.43,981.21 1100.21,981.21 1106,981.21 1111.78,989.94 1117.57,994.3 1123.35,994.3 1129.14,994.3 1134.93,1003.03 1140.71,1003.03 1146.5,1003.03 1152.28,1003.03 1158.07,1003.03 1163.85,1011.75 1169.64,1016.11 1175.42,1016.11 1181.21,1016.11 1187,1016.11 1192.78,1020.48 1198.57,1020.48 1204.35,1020.48 1210.14,1020.48 1215.92,1020.48 1221.71,1029.2 1227.5,1029.2 1233.28,1029.2 1239.07,1029.2 1244.85,1029.2 1250.64,1033.57 1256.42,1033.57 1262.21,1033.57 1268,1037.93 1273.78,1037.93 1279.57,1037.93 1285.35,1037.93 1291.14,1037.93 1296.92,1037.93 1302.71,1037.93 1308.49,1037.93 1314.28,1037.93 1320.07,1042.29 1325.85,1042.29 1331.64,1042.29 1337.42,1042.29 1343.21,1042.29 1348.99,1042.29 1354.78,1042.29 1360.57,1042.29 1366.35,1042.29 1372.14,1042.29 1377.92,1042.29 1383.71,1042.29 1389.49,1042.29 1395.28,1042.29 1401.07,1046.66 1406.85,1046.66 1412.64,1046.66 1418.42,1046.66 1424.21,1046.66 1429.99,1046.66 1435.78,1046.66 1441.56,1046.66 1447.35,1051.02 1453.14,1051.02 1458.92,1051.02"/>
<polyline stroke="#a6cee3" points="886.14,658.35 891.93,658.35 897.71,658.35 903.5,667.08 909.29,671.44 915.07,680.17 920.86,684.53 926.64,693.26 932.43,693.26 938.21,693.26 944,693.26 949.78,693.26 955.57,697.62 961.36,697.62 967.14,706.34 972.93,706.34 978.71,706.34 984.5,706.34 990.28,706.34 996.07,706.34 1001.86,710.71 1007.64,710.71 1013.43,719.43 1019.21,719.43 1025,723.8 1030.78,723.8 1036.57,723.8 1042.36,728.16 1048.14,736.89 1053.93,736.89 1059.71,736.89 1065.5,736.89 1071.28,741.25 1077.07,745.61 1082.85,749.97 1088.64,754.34 1094.43,754.34 1100.21,758.7 1106,758.7 1111.78,763.06 1117.57,763.06 1123.35,767.43 1129.14,767.43 1134.93,767.43 1140.71,767.43 1146.5,767.43 1152.28,776.15 1158.07,780.51 1163.85,780.51 1169.64,780.51 1175.42,780.51 1181.21,784.88 1187,784.88 1192.78,784.88 1198.57,789.24 1204.35,793.6 1210.14,797.97 1215.92,797.97 1221.71,802.33 1227.5,802.33 1233.28,802.33 1239.07,802.33 1244.85,802.33 1250.64,811.06 1256.42,811.06 1262.21,811.06 1268,815.42 1273.78,815.42 1279.57,815.42 1285.35,824.14 1291.14,824.14 1296.92,824.14 1302.71,824.14 1308.49,824.14 1314.28,824.14 1320.07,824.14 1325.85,824.14 1331.64,824.14 1337.42,824.14 1343.21,828.51 1348.99,832.87 1354.78,832.87 1360.57,832.87 1366.35,837.23 1372.14,837.23 1377.92,837.23 1383.71,841.6 1389.49,841.6 1395.28,841.6 1401.07,841.6 1406.85,845.96 1412.64,845.96 1418.42,850.32 1424.21,850.32 1429.99,850.32 1435.78,850.32 1441.56,850.32 1447.35,854.69 1453.14,854.69 1458.92,854.69"/>
<polyline stroke="#1f78b4" points="886.14,658.35 891.93,662.71 897.71,667.08 903.5,675.8 909.29,701.98 915.07,723.8 920.86,732.52 926.64,741.25 932.43,763.06 938.21,776.15 944,793.6 949.78,793.6 955.57,806.69 961.36,819.78 967.14,824.14 972.93,837.23 978.71,841.6 984.5,845.96 990.28,867.77 996.07,867.77 1001.86,872.14 1007.64,880.86 1013.43,893.95 1019.21,898.31 1025,902.68 1030.78,911.4 1036.57,911.4 1042.36,920.13 1048.14,933.22 1053.93,933.22 1059.71,937.58 1065.5,937.58 1071.28,941.94 1077.07,941.94 1082.85,946.31 1088.64,955.03 1094.43,955.03 1100.21,959.4 1106,968.12 1111.78,968.12 1117.57,968.12 1123.35,968.12 1129.14,976.85 1134.93,976.85 1140.71,976.85 1146.5,981.21 1152.28,981.21 1158.07,989.94 1163.85,989.94 1169.64,989.94 1175.42,989.94 1181.21,989.94 1187,989.94 1192.78,1003.03 1198.57,1003.03 1204.35,1003.03 1210.14,1003.03 1215.92,1003.03 1221.71,1003.03 1227.5,1003.03 1233.28,1003.03 1239.07,1003.03 1244.85,1003.03 1250.64,1003.03 1256.42,1016.11 1262.21,1016.11 1268,1016.11 1273.78,1016.11 1279.57,1016.11 1285.35,1016.11 1291.14,1016.11 1296.92,1016.11 1302.71,1016.11 1308.49,1016.11 1314.28,1016.11 1320.07,1016.11 1325.85,1016.11 1331.64,1016.11 1337.42,1016.11 1343.21,1016.11 1348.99,1016.11 1354.78,1016.11 1360.57,1016.11 1366.35,1020.48 1372.14,1020.48 1377.92,1020.48 1383.71,1020.48 1389.49,1020.48 1395.28,1020.48 1401.07,1020.48 1406.85,1020.48 1412.64,1024.84 1418.42,1024.84 1424.21,1024.84 1429.99,1024.84 1435.78,1024.84 1441.56,1029.2 1447.35,1029.2 1453.14,1029.2 1458.92,1029.2"/>
<polyline stroke="#a6cee3" points="886.14,658.35 891.93,658.35 897.71,662.71 903.5,671.44 909.29,680.17 915.07,680.17 920.86,693.26 926.64,693.26 932.43,710.71 938.21,710.71 944,710.71 949.78,710.71 955.57,710.71 961.36,710.71 967.14,710.71 972.93,710.71 978.71,715.07 984.5,715.07 990.28,715.07 996.07,719.43 1001.86,719.43 1007.64,719.43 1013.43,723.8 1019.21,728.16 1025,728.16 1030.78,728.16 1036.57,728.16 1042.36,741.25 1048.14,741.25 1053.93,741.25 1059.71,741.25 1065.5,741.25 1071.28,749.97 1077.07,749.97 1082.85,749.97 1088.64,754.34 1094.43,754.34 1100.21,758.7 1106,758.7 1111.78,758.7 1117.57,763.06 1123.35,767.43 1129.14,767.43 1134.93,776.15 1140.71,776.15 1146.5,784.88 1152.28,784.88 1158.07,784.88 1163.85,784.88 1169.64,784.88 1175.42,789.24 1181.21,793.6 1187,797.97 1192.78,802.33 1198.57,806.69 1204.35,806.69 1210.14,806.69 1215.92,806.69 1221.71,806.69 1227.5,811.06 1233.28,811.06 1239.07,815.42 1244.85,819.78 1250.64,819.78 1256.42,819.78 1262.21,828.51 1268,828.51 1273.78,828.51 1279.57,832.87 1285.35,837.23 1291.14,837.23 1296.92,837.23 1302.71,837.23 1308.49,837.23 1314.28,837.23 1320.07,837.23 1325.85,837.23 1331.64,841.6 1337.42,845.96 1343.21,845.96 1348.99,845.96 1354.78,845.96 1360.57,845.96 1366.35,845.96 1372.14,850.32 1377.92,850.32 1383.71,850.32 1389.49,854.69 1395.28,859.05 1401.07,859.05 1406.85,859.05 1412.64,859.05 1418.42,859.05 1424.21,859.05 1429.99,863.41 1435.78,863.41 1441.56,863.41 1447.35,867.77 1453.14,867.77 1458.92,876.5"/>
<polyline stroke="#1f78b4" points="886.14,658.35 891.93,667.08 897.71,693.26 903.5,693.26 909.29,706.34 915.07,732.52 920.86,741.25 926.64,767.43 932.43,780.51 938.21,797.97 944,811.06 949.78,819.78 955.57,837.23 961.36,837.23 967.14,854.69 972.93,859.05 978.71,859.05 984.5,872.14 990.28,889.59 996.07,889.59 1001.86,898.31 1007.64,898.31 1013.43,902.68 1019.21,915.77 1025,915.77 1030.78,920.13 1036.57,920.13 1042.36,924.49 1048.14,950.67 1053.93,950.67 1059.71,950.67 1065.5,950.67 1071.28,955.03 1077.07,955.03 1082.85,955.03 1088.64,959.4 1094.43,968.12 1100.21,968.12 1106,972.49 1111.78,976.85 1117.57,976.85 1123.35,981.21 1129.14,981.21 1134.93,985.57 1140.71,985.57 1146.5,985.57 1152.28,994.3 1158.07,994.3 1163.85,994.3 1169.64,998.66 1175.42,998.66 1181.21,1003.03 1187,1007.39 1192.78,1007.39 1198.57,1007.39 1204.35,1007.39 1210.14,1007.39 1215.92,1007.39 1221.71,1007.39 1227.5,1007.39 1233.28,1011.75 1239.07,1011.75 1244.85,1011.75 1250.64,1016.11 1256.42,1020.48 1262.21,1020.48 1268,1020.48 1273.78,1020.48 1279.57,1020.48 1285.35,1024.84 1291.14,1024.84 1296.92,1024.84 1302.71,1024.84 1308.49,1024.84 1314.28,1024.84 1320.07,1024.84 1325.85,1024.84 1331.64,1024.84 1337.42,1024.84 1343.21,1024.84 1348.99,1024.84 1354.78,1024.84 1360.57,1024.84 1366.35,1024.84 1372.14,1024.84 1377.92,1024.84 1383.71,1024.84 1389.49,1024.84 1395.28,1024.84 1401.07,1024.84 1406.85,1029.2 1412.64,1029.2 1418.42,1029.2 1424.21,1033.57 1429.99,1033.57 1435.78,1033.57 1441.56,1033.57 1447.35,1033.57 1453.14,1033.57 1458.92,1033.57"/>
</g>
<rect x="863" y="640.9" width="624.85" height="471.2" fill="none" stroke="#333" stroke-width="1.5"/>
<line x1="880.36" y1="1112.1" x2="880.36" y2="1122.3" stroke="#333" stroke-width="1.4"/>
<text x="880.36" y="1149.4" font-size="27.1" text-anchor="middle">0</text>
<line x1="996.07" y1="1112.1" x2="996.07" y2="1122.3" stroke="#333" stroke-width="1.4"/>
<text x="996.07" y="1149.4" font-size="27.1" text-anchor="middle">20</text>
<line x1="1111.78" y1="1112.1" x2="1111.78" y2="1122.3" stroke="#333" stroke-width="1.4"/>
<text x="1111.78" y="1149.4" font-size="27.1" text-anchor="middle">40</text>
<line x1="1227.5" y1="1112.1" x2="1227.5" y2="1122.3" stroke="#333" stroke-width="1.4"/>
<text x="1227.5" y="1149.4" font-size="27.1" text-anchor="middle">60</text>
<line x1="1343.21" y1="1112.1" x2="1343.21" y2="1122.3" stroke="#333" stroke-width="1.4"/>
<text x="1343.21" y="1149.4" font-size="27.1" text-anchor="middle">80</text>
<line x1="1458.92" y1="1112.1" x2="1458.92" y2="1122.3" stroke="#333" stroke-width="1.4"/>
<text x="1458.92" y="1149.4" font-size="27.1" text-anchor="middle">100</text>
<line x1="863" y1="1094.65" x2="852.4" y2="1094.65" stroke="#333" stroke-width="1.4"/>
<text x="839" y="1094.65" font-size="27.1" text-anchor="middle" transform="rotate(-90 839 1094.65)">0</text>
<line x1="863" y1="1007.39" x2="852.4" y2="1007.39" stroke="#333" stroke-width="1.4"/>
<text x="839" y="1007.39" font-size="27.1" text-anchor="middle" transform="rotate(-90 839 1007.39)">20</text>
<line x1="863" y1="920.13" x2="852.4" y2="920.13" stroke="#333" stroke-width="1.4"/>
<text x="839" y="920.13" font-size="27.1" text-anchor="middle" transform="rotate(-90 839 920.13)">40</text>
<line x1="863" y1="832.87" x2="852.4" y2="832.87" stroke="#333" stroke-width="1.4"/>
<text x="839" y="832.87" font-size="27.1" text-anchor="middle" transform="rotate(-90 839 832.87)">60</text>
<line x1="863" y1="745.61" x2="852.4" y2="745.61" stroke="#333" stroke-width="1.4"/>
<text x="839" y="745.61" font-size="27.1" text-anchor="middle" transform="rotate(-90 839 745.61)">80</text>
<line x1="863" y1="658.35" x2="852.4" y2="658.35" stroke="#333" stroke-width="1.4"/>
<text x="839" y="658.35" font-size="27.1" text-anchor="middle" transform="rotate(-90 839 658.35)">100</text>
<text x="1175.42" y="1190.4" font-size="27.1" text-anchor="middle">Time</text>
<text x="797.4" y="873.9" font-size="27.1" text-anchor="middle" transform="rotate(-90 797.4 873.9)">Number of different alleles</text>
<rect x="1203.7" y="640.9" width="284.15" height="98" fill="#fff" stroke="#333" stroke-width="1.3"/>
<line x1="1210.7" y1="673.7" x2="1260.2" y2="673.7" stroke="#a6cee3" stroke-width="3" stroke-linecap="round"/>
<line x1="1210.7" y1="706.6" x2="1260.2" y2="706.6" stroke="#1f78b4" stroke-width="3" stroke-linecap="round"/>
<text x="1285" y="683.2" font-size="27.1" text-anchor="start">with learning</text>
<text x="1285" y="716.5" font-size="27.1" text-anchor="start">without learning</text>
<text x="880" y="1073.1" font-size="25.6" text-anchor="start">max escape prob rate = 0.99</text>
<rect x="110.48" y="1324.38" width="12.31" height="392.92" fill="#a6cee3" stroke="#111" stroke-width="1.2"/>
<rect x="122.79" y="1324.38" width="12.31" height="392.92" fill="#1f78b4" stroke="#111" stroke-width="1.2"/>
<rect x="147.41" y="1608.07" width="12.31" height="109.23" fill="#a6cee3" stroke="#111" stroke-width="1.2"/>
<rect x="159.72" y="1520.84" width="12.31" height="196.46" fill="#1f78b4" stroke="#111" stroke-width="1.2"/>
<rect x="184.34" y="1651.29" width="12.31" height="66.01" fill="#a6cee3" stroke="#111" stroke-width="1.2"/>
<rect x="196.65" y="1619.86" width="12.31" height="97.44" fill="#1f78b4" stroke="#111" stroke-width="1.2"/>
<rect x="221.27" y="1668.89" width="12.31" height="48.41" fill="#a6cee3" stroke="#111" stroke-width="1.2"/>
<rect x="233.58" y="1667.01" width="12.31" height="50.29" fill="#1f78b4" stroke="#111" stroke-width="1.2"/>
<rect x="258.2" y="1678.79" width="12.31" height="38.51" fill="#a6cee3" stroke="#111" stroke-width="1.2"/>
<rect x="270.51" y="1692.62" width="12.31" height="24.68" fill="#1f78b4" stroke="#111" stroke-width="1.2"/>
<rect x="295.13" y="1688.22" width="12.31" height="29.08" fill="#a6cee3" stroke="#111" stroke-width="1.2"/>
<rect x="307.44" y="1705.51" width="12.31" height="11.79" fill="#1f78b4" stroke="#111" stroke-width="1.2"/>
<rect x="332.06" y="1693.72" width="12.31" height="23.58" fill="#a6cee3" stroke="#111" stroke-width="1.2"/>
<rect x="344.37" y="1711.56" width="12.31" height="5.74" fill="#1f78b4" stroke="#111" stroke-width="1.2"/>
<rect x="368.99" y="1698.83" width="12.31" height="18.47" fill="#a6cee3" stroke="#111" stroke-width="1.2"/>
<rect x="381.3" y="1714.79" width="12.31" height="2.51" fill="#1f78b4" stroke="#111" stroke-width="1.2"/>
<rect x="405.92" y="1704.73" width="12.31" height="12.57" fill="#a6cee3" stroke="#111" stroke-width="1.2"/>
<rect x="418.23" y="1715.73" width="12.31" height="1.57" fill="#1f78b4" stroke="#111" stroke-width="1.2"/>
<rect x="442.85" y="1705.51" width="12.31" height="11.79" fill="#a6cee3" stroke="#111" stroke-width="1.2"/>
<rect x="455.16" y="1716.51" width="12.31" height="0.79" fill="#1f78b4" stroke="#111" stroke-width="1.2"/>
<rect x="479.78" y="1710.23" width="12.31" height="7.07" fill="#a6cee3" stroke="#111" stroke-width="1.2"/>
<rect x="492.09" y="1716.91" width="12.31" height="0.39" fill="#1f78b4" stroke="#111" stroke-width="1.2"/>
<rect x="516.71" y="1711.8" width="12.31" height="5.5" fill="#a6cee3" stroke="#111" stroke-width="1.2"/>
<rect x="529.02" y="1717.06" width="12.31" height="0.24" fill="#1f78b4" stroke="#111" stroke-width="1.2"/>
<rect x="553.64" y="1712.98" width="12.31" height="4.32" fill="#a6cee3" stroke="#111" stroke-width="1.2"/>
<rect x="565.95" y="1717.14" width="12.31" height="0.16" fill="#1f78b4" stroke="#111" stroke-width="1.2"/>
<rect x="590.57" y="1712.98" width="12.31" height="4.32" fill="#a6cee3" stroke="#111" stroke-width="1.2"/>
<rect x="602.88" y="1717.22" width="12.31" height="0.08" fill="#1f78b4" stroke="#111" stroke-width="1.2"/>
<rect x="627.5" y="1714.94" width="12.31" height="2.36" fill="#a6cee3" stroke="#111" stroke-width="1.2"/>
<rect x="639.81" y="1717.22" width="12.31" height="0.08" fill="#1f78b4" stroke="#111" stroke-width="1.2"/>
<rect x="664.43" y="1707.87" width="12.31" height="9.43" fill="#a6cee3" stroke="#111" stroke-width="1.2"/>
<rect x="676.74" y="1717.3" width="12.31" height="0.01" fill="#1f78b4" stroke="#111" stroke-width="1.2"/>
<line x1="153.56" y1="1615.14" x2="153.56" y2="1601" stroke="#111" stroke-width="1.3"/>
<line x1="143.26" y1="1601" x2="163.87" y2="1601" stroke="#111" stroke-width="1.3"/>
<line x1="143.26" y1="1615.14" x2="163.87" y2="1615.14" stroke="#111" stroke-width="1.3"/>
<line x1="165.88" y1="1528.7" x2="165.88" y2="1512.98" stroke="#111" stroke-width="1.3"/>
<line x1="155.57" y1="1512.98" x2="176.18" y2="1512.98" stroke="#111" stroke-width="1.3"/>
<line x1="155.57" y1="1528.7" x2="176.18" y2="1528.7" stroke="#111" stroke-width="1.3"/>
<line x1="190.5" y1="1657.58" x2="190.5" y2="1644.22" stroke="#111" stroke-width="1.3"/>
<line x1="180.19" y1="1644.22" x2="200.8" y2="1644.22" stroke="#111" stroke-width="1.3"/>
<line x1="180.19" y1="1657.58" x2="200.8" y2="1657.58" stroke="#111" stroke-width="1.3"/>
<line x1="202.81" y1="1624.57" x2="202.81" y2="1613.57" stroke="#111" stroke-width="1.3"/>
<line x1="192.5" y1="1613.57" x2="213.11" y2="1613.57" stroke="#111" stroke-width="1.3"/>
<line x1="192.5" y1="1624.57" x2="213.11" y2="1624.57" stroke="#111" stroke-width="1.3"/>
<line x1="227.43" y1="1674.08" x2="227.43" y2="1663.08" stroke="#111" stroke-width="1.3"/>
<line x1="217.12" y1="1663.08" x2="237.73" y2="1663.08" stroke="#111" stroke-width="1.3"/>
<line x1="217.12" y1="1674.08" x2="237.73" y2="1674.08" stroke="#111" stroke-width="1.3"/>
<line x1="239.74" y1="1674.87" x2="239.74" y2="1658.83" stroke="#111" stroke-width="1.3"/>
<line x1="229.44" y1="1658.83" x2="250.04" y2="1658.83" stroke="#111" stroke-width="1.3"/>
<line x1="229.44" y1="1674.87" x2="250.04" y2="1674.87" stroke="#111" stroke-width="1.3"/>
<line x1="264.36" y1="1683.9" x2="264.36" y2="1673.29" stroke="#111" stroke-width="1.3"/>
<line x1="254.06" y1="1673.29" x2="274.66" y2="1673.29" stroke="#111" stroke-width="1.3"/>
<line x1="254.06" y1="1683.9" x2="274.66" y2="1683.9" stroke="#111" stroke-width="1.3"/>
<line x1="276.67" y1="1696.08" x2="276.67" y2="1688.54" stroke="#111" stroke-width="1.3"/>
<line x1="266.37" y1="1688.54" x2="286.97" y2="1688.54" stroke="#111" stroke-width="1.3"/>
<line x1="266.37" y1="1696.08" x2="286.97" y2="1696.08" stroke="#111" stroke-width="1.3"/>
<line x1="301.29" y1="1692.62" x2="301.29" y2="1683.74" stroke="#111" stroke-width="1.3"/>
<line x1="290.99" y1="1683.74" x2="311.59" y2="1683.74" stroke="#111" stroke-width="1.3"/>
<line x1="290.99" y1="1692.62" x2="311.59" y2="1692.62" stroke="#111" stroke-width="1.3"/>
<line x1="313.6" y1="1707.87" x2="313.6" y2="1702.37" stroke="#111" stroke-width="1.3"/>
<line x1="303.3" y1="1702.37" x2="323.9" y2="1702.37" stroke="#111" stroke-width="1.3"/>
<line x1="303.3" y1="1707.87" x2="323.9" y2="1707.87" stroke="#111" stroke-width="1.3"/>
<line x1="338.22" y1="1697.18" x2="338.22" y2="1689.32" stroke="#111" stroke-width="1.3"/>
<line x1="327.92" y1="1689.32" x2="348.52" y2="1689.32" stroke="#111" stroke-width="1.3"/>
<line x1="327.92" y1="1697.18" x2="348.52" y2="1697.18" stroke="#111" stroke-width="1.3"/>
<line x1="350.53" y1="1714.16" x2="350.53" y2="1709.44" stroke="#111" stroke-width="1.3"/>
<line x1="340.23" y1="1709.44" x2="360.83" y2="1709.44" stroke="#111" stroke-width="1.3"/>
<line x1="340.23" y1="1714.16" x2="360.83" y2="1714.16" stroke="#111" stroke-width="1.3"/>
<line x1="375.15" y1="1702.05" x2="375.15" y2="1695.61" stroke="#111" stroke-width="1.3"/>
<line x1="364.85" y1="1695.61" x2="385.45" y2="1695.61" stroke="#111" stroke-width="1.3"/>
<line x1="364.85" y1="1702.05" x2="385.45" y2="1702.05" stroke="#111" stroke-width="1.3"/>
<line x1="387.46" y1="1715.73" x2="387.46" y2="1712.59" stroke="#111" stroke-width="1.3"/>
<line x1="377.16" y1="1712.59" x2="397.76" y2="1712.59" stroke="#111" stroke-width="1.3"/>
<line x1="377.16" y1="1715.73" x2="397.76" y2="1715.73" stroke="#111" stroke-width="1.3"/>
<line x1="412.08" y1="1708.66" x2="412.08" y2="1701.74" stroke="#111" stroke-width="1.3"/>
<line x1="401.78" y1="1701.74" x2="422.38" y2="1701.74" stroke="#111" stroke-width="1.3"/>
<line x1="401.78" y1="1708.66" x2="422.38" y2="1708.66" stroke="#111" stroke-width="1.3"/>
<line x1="424.39" y1="1716.91" x2="424.39" y2="1714.94" stroke="#111" stroke-width="1.3"/>
<line x1="414.09" y1="1714.94" x2="434.69" y2="1714.94" stroke="#111" stroke-width="1.3"/>
<line x1="414.09" y1="1716.91" x2="434.69" y2="1716.91" stroke="#111" stroke-width="1.3"/>
<line x1="449.01" y1="1709.05" x2="449.01" y2="1701.98" stroke="#111" stroke-width="1.3"/>
<line x1="438.71" y1="1701.98" x2="459.31" y2="1701.98" stroke="#111" stroke-width="1.3"/>
<line x1="438.71" y1="1709.05" x2="459.31" y2="1709.05" stroke="#111" stroke-width="1.3"/>
<line x1="461.32" y1="1717.3" x2="461.32" y2="1715.73" stroke="#111" stroke-width="1.3"/>
<line x1="451.02" y1="1715.73" x2="471.62" y2="1715.73" stroke="#111" stroke-width="1.3"/>
<line x1="451.02" y1="1717.3" x2="471.62" y2="1717.3" stroke="#111" stroke-width="1.3"/>
<line x1="485.94" y1="1712.11" x2="485.94" y2="1708.26" stroke="#111" stroke-width="1.3"/>
<line x1="475.64" y1="1708.26" x2="496.24" y2="1708.26" stroke="#111" stroke-width="1.3"/>
<line x1="475.64" y1="1712.11" x2="496.24" y2="1712.11" stroke="#111" stroke-width="1.3"/>
<line x1="522.87" y1="1713.92" x2="522.87" y2="1709.76" stroke="#111" stroke-width="1.3"/>
<line x1="512.57" y1="1709.76" x2="533.16" y2="1709.76" stroke="#111" stroke-width="1.3"/>
<line x1="512.57" y1="1713.92" x2="533.16" y2="1713.92" stroke="#111" stroke-width="1.3"/>
<line x1="559.79" y1="1714.94" x2="559.79" y2="1711.01" stroke="#111" stroke-width="1.3"/>
<line x1="549.5" y1="1711.01" x2="570.09" y2="1711.01" stroke="#111" stroke-width="1.3"/>
<line x1="549.5" y1="1714.94" x2="570.09" y2="1714.94" stroke="#111" stroke-width="1.3"/>
<line x1="596.73" y1="1714.94" x2="596.73" y2="1711.25" stroke="#111" stroke-width="1.3"/>
<line x1="586.43" y1="1711.25" x2="607.02" y2="1711.25" stroke="#111" stroke-width="1.3"/>
<line x1="586.43" y1="1714.94" x2="607.02" y2="1714.94" stroke="#111" stroke-width="1.3"/>
<line x1="633.65" y1="1716.12" x2="633.65" y2="1713.69" stroke="#111" stroke-width="1.3"/>
<line x1="623.36" y1="1713.69" x2="643.95" y2="1713.69" stroke="#111" stroke-width="1.3"/>
<line x1="623.36" y1="1716.12" x2="643.95" y2="1716.12" stroke="#111" stroke-width="1.3"/>
<line x1="670.59" y1="1710.54" x2="670.59" y2="1704.73" stroke="#111" stroke-width="1.3"/>
<line x1="660.29" y1="1704.73" x2="680.88" y2="1704.73" stroke="#111" stroke-width="1.3"/>
<line x1="660.29" y1="1710.54" x2="680.88" y2="1710.54" stroke="#111" stroke-width="1.3"/>
<line x1="87.4" y1="1717.3" x2="87.4" y2="1245.8" stroke="#333" stroke-width="1.4"/>
<line x1="87.4" y1="1717.3" x2="76.9" y2="1717.3" stroke="#333" stroke-width="1.4"/>
<text x="65.9" y="1726.5" font-size="25.4" text-anchor="end">0</text>
<line x1="87.4" y1="1638.72" x2="76.9" y2="1638.72" stroke="#333" stroke-width="1.4"/>
<text x="65.9" y="1647.92" font-size="25.4" text-anchor="end">100</text>
<line x1="87.4" y1="1560.13" x2="76.9" y2="1560.13" stroke="#333" stroke-width="1.4"/>
<text x="65.9" y="1569.33" font-size="25.4" text-anchor="end">200</text>
<line x1="87.4" y1="1481.55" x2="76.9" y2="1481.55" stroke="#333" stroke-width="1.4"/>
<text x="65.9" y="1490.75" font-size="25.4" text-anchor="end">300</text>
<line x1="87.4" y1="1402.97" x2="76.9" y2="1402.97" stroke="#333" stroke-width="1.4"/>
<text x="65.9" y="1412.17" font-size="25.4" text-anchor="end">400</text>
<line x1="87.4" y1="1324.38" x2="76.9" y2="1324.38" stroke="#333" stroke-width="1.4"/>
<text x="65.9" y="1333.58" font-size="25.4" text-anchor="end">500</text>
<line x1="87.4" y1="1245.8" x2="76.9" y2="1245.8" stroke="#333" stroke-width="1.4"/>
<text x="65.9" y="1255" font-size="25.4" text-anchor="end">600</text>
<text x="132.09" y="1738.8" font-size="25.4" text-anchor="end" transform="rotate(-90 132.09 1738.8)">0</text>
<text x="169.02" y="1738.8" font-size="25.4" text-anchor="end" transform="rotate(-90 169.02 1738.8)">1</text>
<text x="205.95" y="1738.8" font-size="25.4" text-anchor="end" transform="rotate(-90 205.95 1738.8)">2</text>
<text x="242.88" y="1738.8" font-size="25.4" text-anchor="end" transform="rotate(-90 242.88 1738.8)">3</text>
<text x="279.81" y="1738.8" font-size="25.4" text-anchor="end" transform="rotate(-90 279.81 1738.8)">4</text>
<text x="316.74" y="1738.8" font-size="25.4" text-anchor="end" transform="rotate(-90 316.74 1738.8)">5</text>
<text x="353.67" y="1738.8" font-size="25.4" text-anchor="end" transform="rotate(-90 353.67 1738.8)">6</text>
<text x="390.6" y="1738.8" font-size="25.4" text-anchor="end" transform="rotate(-90 390.6 1738.8)">7</text>
<text x="427.53" y="1738.8" font-size="25.4" text-anchor="end" transform="rotate(-90 427.53 1738.8)">8</text>
<text x="464.46" y="1738.8" font-size="25.4" text-anchor="end" transform="rotate(-90 464.46 1738.8)">9</text>
<text x="501.39" y="1738.8" font-size="25.4" text-anchor="end" transform="rotate(-90 501.39 1738.8)">10</text>
<text x="538.32" y="1738.8" font-size="25.4" text-anchor="end" transform="rotate(-90 538.32 1738.8)">11</text>
<text x="575.25" y="1738.8" font-size="25.4" text-anchor="end" transform="rotate(-90 575.25 1738.8)">12</text>
<text x="612.18" y="1738.8" font-size="25.4" text-anchor="end" transform="rotate(-90 612.18 1738.8)">13</text>
<text x="649.11" y="1738.8" font-size="25.4" text-anchor="end" transform="rotate(-90 649.11 1738.8)">14</text>
<text x="686.04" y="1738.8" font-size="25.4" text-anchor="end" transform="rotate(-90 686.04 1738.8)">≥ 15</text>
<text x="399.76" y="1795" font-size="25.4" text-anchor="middle">Age</text>
<text x="22.5" y="1481.3" font-size="25.4" text-anchor="middle" transform="rotate(-90 22.5 1481.3)">Number of individuals</text>
<rect x="457.69" y="1246.5" width="254.5" height="92.5" fill="#fff" stroke="#333" stroke-width="1.3"/>
<rect x="481.89" y="1269.5" width="18" height="16" fill="#a6cee3" stroke="#111" stroke-width="1.2"/>
<rect x="481.89" y="1300.5" width="18" height="16" fill="#1f78b4" stroke="#111" stroke-width="1.2"/>
<text x="523.29" y="1287" font-size="25.4" text-anchor="start">with learning</text>
<text x="523.29" y="1318" font-size="25.4" text-anchor="start">without learning</text>
<rect x="882.11" y="1332.43" width="12.31" height="392.17" fill="#a6cee3" stroke="#111" stroke-width="1.2"/>
<rect x="894.42" y="1332.43" width="12.31" height="392.17" fill="#1f78b4" stroke="#111" stroke-width="1.2"/>
<rect x="919.04" y="1644.05" width="12.31" height="80.55" fill="#a6cee3" stroke="#111" stroke-width="1.2"/>
<rect x="931.35" y="1528.52" width="12.31" height="196.08" fill="#1f78b4" stroke="#111" stroke-width="1.2"/>
<rect x="955.97" y="1677.54" width="12.31" height="47.06" fill="#a6cee3" stroke="#111" stroke-width="1.2"/>
<rect x="968.28" y="1626.09" width="12.31" height="98.51" fill="#1f78b4" stroke="#111" stroke-width="1.2"/>
<rect x="992.9" y="1689.3" width="12.31" height="35.29" fill="#a6cee3" stroke="#111" stroke-width="1.2"/>
<rect x="1005.21" y="1675.97" width="12.31" height="48.63" fill="#1f78b4" stroke="#111" stroke-width="1.2"/>
<rect x="1029.83" y="1691.66" width="12.31" height="32.94" fill="#a6cee3" stroke="#111" stroke-width="1.2"/>
<rect x="1042.14" y="1700.6" width="12.31" height="24" fill="#1f78b4" stroke="#111" stroke-width="1.2"/>
<rect x="1066.76" y="1696.36" width="12.31" height="28.24" fill="#a6cee3" stroke="#111" stroke-width="1.2"/>
<rect x="1079.07" y="1713.07" width="12.31" height="11.53" fill="#1f78b4" stroke="#111" stroke-width="1.2"/>
<rect x="1103.69" y="1700.29" width="12.31" height="24.31" fill="#a6cee3" stroke="#111" stroke-width="1.2"/>
<rect x="1116" y="1719.11" width="12.31" height="5.49" fill="#1f78b4" stroke="#111" stroke-width="1.2"/>
<rect x="1140.62" y="1703.58" width="12.31" height="21.02" fill="#a6cee3" stroke="#111" stroke-width="1.2"/>
<rect x="1152.93" y="1722.25" width="12.31" height="2.35" fill="#1f78b4" stroke="#111" stroke-width="1.2"/>
<rect x="1177.55" y="1706.56" width="12.31" height="18.04" fill="#a6cee3" stroke="#111" stroke-width="1.2"/>
<rect x="1189.86" y="1723.42" width="12.31" height="1.18" fill="#1f78b4" stroke="#111" stroke-width="1.2"/>
<rect x="1214.48" y="1711.27" width="12.31" height="13.33" fill="#a6cee3" stroke="#111" stroke-width="1.2"/>
<rect x="1226.79" y="1723.97" width="12.31" height="0.63" fill="#1f78b4" stroke="#111" stroke-width="1.2"/>
<rect x="1251.41" y="1711.66" width="12.31" height="12.94" fill="#a6cee3" stroke="#111" stroke-width="1.2"/>
<rect x="1263.72" y="1724.29" width="12.31" height="0.31" fill="#1f78b4" stroke="#111" stroke-width="1.2"/>
<rect x="1288.34" y="1714.09" width="12.31" height="10.51" fill="#a6cee3" stroke="#111" stroke-width="1.2"/>
<rect x="1300.65" y="1724.44" width="12.31" height="0.16" fill="#1f78b4" stroke="#111" stroke-width="1.2"/>
<rect x="1325.27" y="1714.56" width="12.31" height="10.04" fill="#a6cee3" stroke="#111" stroke-width="1.2"/>
<rect x="1337.58" y="1724.52" width="12.31" height="0.08" fill="#1f78b4" stroke="#111" stroke-width="1.2"/>
<rect x="1362.2" y="1717.07" width="12.31" height="7.53" fill="#a6cee3" stroke="#111" stroke-width="1.2"/>
<rect x="1374.51" y="1724.52" width="12.31" height="0.08" fill="#1f78b4" stroke="#111" stroke-width="1.2"/>
<rect x="1399.13" y="1718.09" width="12.31" height="6.51" fill="#a6cee3" stroke="#111" stroke-width="1.2"/>
<rect x="1411.44" y="1724.6" width="12.31" height="0.01" fill="#1f78b4" stroke="#111" stroke-width="1.2"/>
<rect x="1436.06" y="1685.38" width="12.31" height="39.22" fill="#a6cee3" stroke="#111" stroke-width="1.2"/>
<rect x="1448.37" y="1724.6" width="12.31" height="0.01" fill="#1f78b4" stroke="#111" stroke-width="1.2"/>
<line x1="925.19" y1="1650.87" x2="925.19" y2="1636.75" stroke="#111" stroke-width="1.3"/>
<line x1="914.89" y1="1636.75" x2="935.49" y2="1636.75" stroke="#111" stroke-width="1.3"/>
<line x1="914.89" y1="1650.87" x2="935.49" y2="1650.87" stroke="#111" stroke-width="1.3"/>
<line x1="937.5" y1="1533.22" x2="937.5" y2="1523.81" stroke="#111" stroke-width="1.3"/>
<line x1="927.21" y1="1523.81" x2="947.8" y2="1523.81" stroke="#111" stroke-width="1.3"/>
<line x1="927.21" y1="1533.22" x2="947.8" y2="1533.22" stroke="#111" stroke-width="1.3"/>
<line x1="962.12" y1="1682.56" x2="962.12" y2="1672.83" stroke="#111" stroke-width="1.3"/>
<line x1="951.83" y1="1672.83" x2="972.42" y2="1672.83" stroke="#111" stroke-width="1.3"/>
<line x1="951.83" y1="1682.56" x2="972.42" y2="1682.56" stroke="#111" stroke-width="1.3"/>
<line x1="974.43" y1="1631.58" x2="974.43" y2="1620.28" stroke="#111" stroke-width="1.3"/>
<line x1="964.13" y1="1620.28" x2="984.73" y2="1620.28" stroke="#111" stroke-width="1.3"/>
<line x1="964.13" y1="1631.58" x2="984.73" y2="1631.58" stroke="#111" stroke-width="1.3"/>
<line x1="999.05" y1="1691.11" x2="999.05" y2="1685.38" stroke="#111" stroke-width="1.3"/>
<line x1="988.75" y1="1685.38" x2="1009.35" y2="1685.38" stroke="#111" stroke-width="1.3"/>
<line x1="988.75" y1="1691.11" x2="1009.35" y2="1691.11" stroke="#111" stroke-width="1.3"/>
<line x1="1011.37" y1="1681.46" x2="1011.37" y2="1670.48" stroke="#111" stroke-width="1.3"/>
<line x1="1001.07" y1="1670.48" x2="1021.66" y2="1670.48" stroke="#111" stroke-width="1.3"/>
<line x1="1001.07" y1="1681.46" x2="1021.66" y2="1681.46" stroke="#111" stroke-width="1.3"/>
<line x1="1035.98" y1="1696.36" x2="1035.98" y2="1686.56" stroke="#111" stroke-width="1.3"/>
<line x1="1025.68" y1="1686.56" x2="1046.28" y2="1686.56" stroke="#111" stroke-width="1.3"/>
<line x1="1025.68" y1="1696.36" x2="1046.28" y2="1696.36" stroke="#111" stroke-width="1.3"/>
<line x1="1048.3" y1="1703.58" x2="1048.3" y2="1696.6" stroke="#111" stroke-width="1.3"/>
<line x1="1038" y1="1696.6" x2="1058.6" y2="1696.6" stroke="#111" stroke-width="1.3"/>
<line x1="1038" y1="1703.58" x2="1058.6" y2="1703.58" stroke="#111" stroke-width="1.3"/>
<line x1="1072.91" y1="1700.29" x2="1072.91" y2="1692.44" stroke="#111" stroke-width="1.3"/>
<line x1="1062.62" y1="1692.44" x2="1083.21" y2="1692.44" stroke="#111" stroke-width="1.3"/>
<line x1="1062.62" y1="1700.29" x2="1083.21" y2="1700.29" stroke="#111" stroke-width="1.3"/>
<line x1="1085.22" y1="1716.13" x2="1085.22" y2="1709.07" stroke="#111" stroke-width="1.3"/>
<line x1="1074.92" y1="1709.07" x2="1095.52" y2="1709.07" stroke="#111" stroke-width="1.3"/>
<line x1="1074.92" y1="1716.13" x2="1095.52" y2="1716.13" stroke="#111" stroke-width="1.3"/>
<line x1="1109.85" y1="1704.6" x2="1109.85" y2="1696.36" stroke="#111" stroke-width="1.3"/>
<line x1="1099.55" y1="1696.36" x2="1120.14" y2="1696.36" stroke="#111" stroke-width="1.3"/>
<line x1="1099.55" y1="1704.6" x2="1120.14" y2="1704.6" stroke="#111" stroke-width="1.3"/>
<line x1="1122.15" y1="1721.46" x2="1122.15" y2="1716.36" stroke="#111" stroke-width="1.3"/>
<line x1="1111.86" y1="1716.36" x2="1132.45" y2="1716.36" stroke="#111" stroke-width="1.3"/>
<line x1="1111.86" y1="1721.46" x2="1132.45" y2="1721.46" stroke="#111" stroke-width="1.3"/>
<line x1="1146.78" y1="1707.34" x2="1146.78" y2="1700.29" stroke="#111" stroke-width="1.3"/>
<line x1="1136.48" y1="1700.29" x2="1157.08" y2="1700.29" stroke="#111" stroke-width="1.3"/>
<line x1="1136.48" y1="1707.34" x2="1157.08" y2="1707.34" stroke="#111" stroke-width="1.3"/>
<line x1="1159.09" y1="1723.82" x2="1159.09" y2="1720.68" stroke="#111" stroke-width="1.3"/>
<line x1="1148.79" y1="1720.68" x2="1169.38" y2="1720.68" stroke="#111" stroke-width="1.3"/>
<line x1="1148.79" y1="1723.82" x2="1169.38" y2="1723.82" stroke="#111" stroke-width="1.3"/>
<line x1="1183.7" y1="1709.7" x2="1183.7" y2="1703.42" stroke="#111" stroke-width="1.3"/>
<line x1="1173.4" y1="1703.42" x2="1194" y2="1703.42" stroke="#111" stroke-width="1.3"/>
<line x1="1173.4" y1="1709.7" x2="1194" y2="1709.7" stroke="#111" stroke-width="1.3"/>
<line x1="1196.01" y1="1724.6" x2="1196.01" y2="1722.25" stroke="#111" stroke-width="1.3"/>
<line x1="1185.71" y1="1722.25" x2="1206.31" y2="1722.25" stroke="#111" stroke-width="1.3"/>
<line x1="1185.71" y1="1724.6" x2="1206.31" y2="1724.6" stroke="#111" stroke-width="1.3"/>
<line x1="1220.63" y1="1715.19" x2="1220.63" y2="1707.34" stroke="#111" stroke-width="1.3"/>
<line x1="1210.34" y1="1707.34" x2="1230.93" y2="1707.34" stroke="#111" stroke-width="1.3"/>
<line x1="1210.34" y1="1715.19" x2="1230.93" y2="1715.19" stroke="#111" stroke-width="1.3"/>
<line x1="1257.57" y1="1715.19" x2="1257.57" y2="1708.13" stroke="#111" stroke-width="1.3"/>
<line x1="1247.27" y1="1708.13" x2="1267.87" y2="1708.13" stroke="#111" stroke-width="1.3"/>
<line x1="1247.27" y1="1715.19" x2="1267.87" y2="1715.19" stroke="#111" stroke-width="1.3"/>
<line x1="1294.49" y1="1718.33" x2="1294.49" y2="1710.48" stroke="#111" stroke-width="1.3"/>
<line x1="1284.19" y1="1710.48" x2="1304.79" y2="1710.48" stroke="#111" stroke-width="1.3"/>
<line x1="1284.19" y1="1718.33" x2="1304.79" y2="1718.33" stroke="#111" stroke-width="1.3"/>
<line x1="1331.42" y1="1717.54" x2="1331.42" y2="1712.05" stroke="#111" stroke-width="1.3"/>
<line x1="1321.12" y1="1712.05" x2="1341.72" y2="1712.05" stroke="#111" stroke-width="1.3"/>
<line x1="1321.12" y1="1717.54" x2="1341.72" y2="1717.54" stroke="#111" stroke-width="1.3"/>
<line x1="1368.36" y1="1719.89" x2="1368.36" y2="1715.19" stroke="#111" stroke-width="1.3"/>
<line x1="1358.06" y1="1715.19" x2="1378.65" y2="1715.19" stroke="#111" stroke-width="1.3"/>
<line x1="1358.06" y1="1719.89" x2="1378.65" y2="1719.89" stroke="#111" stroke-width="1.3"/>
<line x1="1405.28" y1="1721.46" x2="1405.28" y2="1715.19" stroke="#111" stroke-width="1.3"/>
<line x1="1394.98" y1="1715.19" x2="1415.58" y2="1715.19" stroke="#111" stroke-width="1.3"/>
<line x1="1394.98" y1="1721.46" x2="1415.58" y2="1721.46" stroke="#111" stroke-width="1.3"/>
<line x1="1442.22" y1="1691.11" x2="1442.22" y2="1679.11" stroke="#111" stroke-width="1.3"/>
<line x1="1431.92" y1="1679.11" x2="1452.52" y2="1679.11" stroke="#111" stroke-width="1.3"/>
<line x1="1431.92" y1="1691.11" x2="1452.52" y2="1691.11" stroke="#111" stroke-width="1.3"/>
<line x1="858.8" y1="1724.6" x2="858.8" y2="1254" stroke="#333" stroke-width="1.4"/>
<line x1="858.8" y1="1724.6" x2="848.3" y2="1724.6" stroke="#333" stroke-width="1.4"/>
<text x="837.3" y="1733.8" font-size="25.4" text-anchor="end">0</text>
<line x1="858.8" y1="1646.17" x2="848.3" y2="1646.17" stroke="#333" stroke-width="1.4"/>
<text x="837.3" y="1655.37" font-size="25.4" text-anchor="end">100</text>
<line x1="858.8" y1="1567.73" x2="848.3" y2="1567.73" stroke="#333" stroke-width="1.4"/>
<text x="837.3" y="1576.93" font-size="25.4" text-anchor="end">200</text>
<line x1="858.8" y1="1489.3" x2="848.3" y2="1489.3" stroke="#333" stroke-width="1.4"/>
<text x="837.3" y="1498.5" font-size="25.4" text-anchor="end">300</text>
<line x1="858.8" y1="1410.87" x2="848.3" y2="1410.87" stroke="#333" stroke-width="1.4"/>
<text x="837.3" y="1420.07" font-size="25.4" text-anchor="end">400</text>
<line x1="858.8" y1="1332.43" x2="848.3" y2="1332.43" stroke="#333" stroke-width="1.4"/>
<text x="837.3" y="1341.63" font-size="25.4" text-anchor="end">500</text>
<line x1="858.8" y1="1254" x2="848.3" y2="1254" stroke="#333" stroke-width="1.4"/>
<text x="837.3" y="1263.2" font-size="25.4" text-anchor="end">600</text>
<text x="903.72" y="1746.1" font-size="25.4" text-anchor="end" transform="rotate(-90 903.72 1746.1)">0</text>
<text x="940.65" y="1746.1" font-size="25.4" text-anchor="end" transform="rotate(-90 940.65 1746.1)">1</text>
<text x="977.58" y="1746.1" font-size="25.4" text-anchor="end" transform="rotate(-90 977.58 1746.1)">2</text>
<text x="1014.51" y="1746.1" font-size="25.4" text-anchor="end" transform="rotate(-90 1014.51 1746.1)">3</text>
<text x="1051.44" y="1746.1" font-size="25.4" text-anchor="end" transform="rotate(-90 1051.44 1746.1)">4</text>
<text x="1088.37" y="1746.1" font-size="25.4" text-anchor="end" transform="rotate(-90 1088.37 1746.1)">5</text>
<text x="1125.3" y="1746.1" font-size="25.4" text-anchor="end" transform="rotate(-90 1125.3 1746.1)">6</text>
<text x="1162.23" y="1746.1" font-size="25.4" text-anchor="end" transform="rotate(-90 1162.23 1746.1)">7</text>
<text x="1199.16" y="1746.1" font-size="25.4" text-anchor="end" transform="rotate(-90 1199.16 1746.1)">8</text>
<text x="1236.09" y="1746.1" font-size="25.4" text-anchor="end" transform="rotate(-90 1236.09 1746.1)">9</text>
<text x="1273.02" y="1746.1" font-size="25.4" text-anchor="end" transform="rotate(-90 1273.02 1746.1)">10</text>
<text x="1309.95" y="1746.1" font-size="25.4" text-anchor="end" transform="rotate(-90 1309.95 1746.1)">11</text>
<text x="1346.88" y="1746.1" font-size="25.4" text-anchor="end" transform="rotate(-90 1346.88 1746.1)">12</text>
<text x="1383.81" y="1746.1" font-size="25.4" text-anchor="end" transform="rotate(-90 1383.81 1746.1)">13</text>
<text x="1420.74" y="1746.1" font-size="25.4" text-anchor="end" transform="rotate(-90 1420.74 1746.1)">14</text>
<text x="1457.67" y="1746.1" font-size="25.4" text-anchor="end" transform="rotate(-90 1457.67 1746.1)">≥ 15</text>
<text x="1171.39" y="1801.8" font-size="25.4" text-anchor="middle">Age</text>
<text x="793.7" y="1489.3" font-size="25.4" text-anchor="middle" transform="rotate(-90 793.7 1489.3)">Number of individuals</text>
<rect x="1229.32" y="1254.7" width="254.5" height="92.5" fill="#fff" stroke="#333" stroke-width="1.3"/>
<rect x="1253.52" y="1277.7" width="18" height="16" fill="#a6cee3" stroke="#111" stroke-width="1.2"/>
<rect x="1253.52" y="1308.7" width="18" height="16" fill="#1f78b4" stroke="#111" stroke-width="1.2"/>
<text x="1294.92" y="1295.2" font-size="25.4" text-anchor="start">with learning</text>
<text x="1294.92" y="1326.2" font-size="25.4" text-anchor="start">without learning</text>
<rect x="112.01" y="1938" width="12.31" height="392.5" fill="#a6cee3" stroke="#111" stroke-width="1.2"/>
<rect x="124.32" y="1938" width="12.31" height="392.5" fill="#1f78b4" stroke="#111" stroke-width="1.2"/>
<rect x="148.94" y="2273.43" width="12.31" height="57.07" fill="#a6cee3" stroke="#111" stroke-width="1.2"/>
<rect x="161.25" y="2134.25" width="12.31" height="196.25" fill="#1f78b4" stroke="#111" stroke-width="1.2"/>
<rect x="185.87" y="2298.47" width="12.31" height="32.03" fill="#a6cee3" stroke="#111" stroke-width="1.2"/>
<rect x="198.18" y="2232.38" width="12.31" height="98.12" fill="#1f78b4" stroke="#111" stroke-width="1.2"/>
<rect x="222.8" y="2302.48" width="12.31" height="28.02" fill="#a6cee3" stroke="#111" stroke-width="1.2"/>
<rect x="235.11" y="2279.47" width="12.31" height="51.02" fill="#1f78b4" stroke="#111" stroke-width="1.2"/>
<rect x="259.73" y="2304.99" width="12.31" height="25.51" fill="#a6cee3" stroke="#111" stroke-width="1.2"/>
<rect x="272.04" y="2307.97" width="12.31" height="22.53" fill="#1f78b4" stroke="#111" stroke-width="1.2"/>
<rect x="296.66" y="2308.99" width="12.31" height="21.51" fill="#a6cee3" stroke="#111" stroke-width="1.2"/>
<rect x="308.97" y="2318.49" width="12.31" height="12.01" fill="#1f78b4" stroke="#111" stroke-width="1.2"/>
<rect x="333.59" y="2310.09" width="12.31" height="20.41" fill="#a6cee3" stroke="#111" stroke-width="1.2"/>
<rect x="345.9" y="2324.46" width="12.31" height="6.04" fill="#1f78b4" stroke="#111" stroke-width="1.2"/>
<rect x="370.52" y="2310.95" width="12.31" height="19.55" fill="#a6cee3" stroke="#111" stroke-width="1.2"/>
<rect x="382.83" y="2327.52" width="12.31" height="2.98" fill="#1f78b4" stroke="#111" stroke-width="1.2"/>
<rect x="407.45" y="2313.47" width="12.31" height="17.03" fill="#a6cee3" stroke="#111" stroke-width="1.2"/>
<rect x="419.76" y="2329.32" width="12.31" height="1.18" fill="#1f78b4" stroke="#111" stroke-width="1.2"/>
<rect x="444.38" y="2315.98" width="12.31" height="14.52" fill="#a6cee3" stroke="#111" stroke-width="1.2"/>
<rect x="456.69" y="2329.72" width="12.31" height="0.79" fill="#1f78b4" stroke="#111" stroke-width="1.2"/>
<rect x="481.31" y="2317" width="12.31" height="13.5" fill="#a6cee3" stroke="#111" stroke-width="1.2"/>
<rect x="493.62" y="2330.11" width="12.31" height="0.39" fill="#1f78b4" stroke="#111" stroke-width="1.2"/>
<rect x="518.24" y="2317.94" width="12.31" height="12.56" fill="#a6cee3" stroke="#111" stroke-width="1.2"/>
<rect x="530.55" y="2330.34" width="12.31" height="0.16" fill="#1f78b4" stroke="#111" stroke-width="1.2"/>
<rect x="555.17" y="2318.49" width="12.31" height="12.01" fill="#a6cee3" stroke="#111" stroke-width="1.2"/>
<rect x="567.48" y="2330.42" width="12.31" height="0.08" fill="#1f78b4" stroke="#111" stroke-width="1.2"/>
<rect x="592.1" y="2321.08" width="12.31" height="9.42" fill="#a6cee3" stroke="#111" stroke-width="1.2"/>
<rect x="604.41" y="2330.42" width="12.31" height="0.08" fill="#1f78b4" stroke="#111" stroke-width="1.2"/>
<rect x="629.03" y="2321.47" width="12.31" height="9.03" fill="#a6cee3" stroke="#111" stroke-width="1.2"/>
<rect x="641.34" y="2330.5" width="12.31" height="0.01" fill="#1f78b4" stroke="#111" stroke-width="1.2"/>
<rect x="665.96" y="2234.42" width="12.31" height="96.08" fill="#a6cee3" stroke="#111" stroke-width="1.2"/>
<rect x="678.27" y="2330.5" width="12.31" height="0.01" fill="#1f78b4" stroke="#111" stroke-width="1.2"/>
<line x1="155.09" y1="2278.45" x2="155.09" y2="2268.96" stroke="#111" stroke-width="1.3"/>
<line x1="144.79" y1="2268.96" x2="165.4" y2="2268.96" stroke="#111" stroke-width="1.3"/>
<line x1="144.79" y1="2278.45" x2="165.4" y2="2278.45" stroke="#111" stroke-width="1.3"/>
<line x1="167.41" y1="2139.27" x2="167.41" y2="2129.78" stroke="#111" stroke-width="1.3"/>
<line x1="157.1" y1="2129.78" x2="177.71" y2="2129.78" stroke="#111" stroke-width="1.3"/>
<line x1="157.1" y1="2139.27" x2="177.71" y2="2139.27" stroke="#111" stroke-width="1.3"/>
<line x1="192.03" y1="2302" x2="192.03" y2="2294.47" stroke="#111" stroke-width="1.3"/>
<line x1="181.72" y1="2294.47" x2="202.33" y2="2294.47" stroke="#111" stroke-width="1.3"/>
<line x1="181.72" y1="2302" x2="202.33" y2="2302" stroke="#111" stroke-width="1.3"/>
<line x1="204.34" y1="2238.34" x2="204.34" y2="2226.33" stroke="#111" stroke-width="1.3"/>
<line x1="194.03" y1="2226.33" x2="214.64" y2="2226.33" stroke="#111" stroke-width="1.3"/>
<line x1="194.03" y1="2238.34" x2="214.64" y2="2238.34" stroke="#111" stroke-width="1.3"/>
<line x1="228.95" y1="2305.93" x2="228.95" y2="2298.94" stroke="#111" stroke-width="1.3"/>
<line x1="218.65" y1="2298.94" x2="239.25" y2="2298.94" stroke="#111" stroke-width="1.3"/>
<line x1="218.65" y1="2305.93" x2="239.25" y2="2305.93" stroke="#111" stroke-width="1.3"/>
<line x1="241.26" y1="2283.95" x2="241.26" y2="2274.45" stroke="#111" stroke-width="1.3"/>
<line x1="230.96" y1="2274.45" x2="251.56" y2="2274.45" stroke="#111" stroke-width="1.3"/>
<line x1="230.96" y1="2283.95" x2="251.56" y2="2283.95" stroke="#111" stroke-width="1.3"/>
<line x1="265.88" y1="2308.52" x2="265.88" y2="2300.98" stroke="#111" stroke-width="1.3"/>
<line x1="255.58" y1="2300.98" x2="276.19" y2="2300.98" stroke="#111" stroke-width="1.3"/>
<line x1="255.58" y1="2308.52" x2="276.19" y2="2308.52" stroke="#111" stroke-width="1.3"/>
<line x1="278.19" y1="2311.5" x2="278.19" y2="2303.5" stroke="#111" stroke-width="1.3"/>
<line x1="267.89" y1="2303.5" x2="288.5" y2="2303.5" stroke="#111" stroke-width="1.3"/>
<line x1="267.89" y1="2311.5" x2="288.5" y2="2311.5" stroke="#111" stroke-width="1.3"/>
<line x1="302.81" y1="2312.52" x2="302.81" y2="2304.59" stroke="#111" stroke-width="1.3"/>
<line x1="292.51" y1="2304.59" x2="313.12" y2="2304.59" stroke="#111" stroke-width="1.3"/>
<line x1="292.51" y1="2312.52" x2="313.12" y2="2312.52" stroke="#111" stroke-width="1.3"/>
<line x1="315.12" y1="2321.47" x2="315.12" y2="2314.96" stroke="#111" stroke-width="1.3"/>
<line x1="304.82" y1="2314.96" x2="325.43" y2="2314.96" stroke="#111" stroke-width="1.3"/>
<line x1="304.82" y1="2321.47" x2="325.43" y2="2321.47" stroke="#111" stroke-width="1.3"/>
<line x1="339.75" y1="2314.96" x2="339.75" y2="2304.99" stroke="#111" stroke-width="1.3"/>
<line x1="329.44" y1="2304.99" x2="350.05" y2="2304.99" stroke="#111" stroke-width="1.3"/>
<line x1="329.44" y1="2314.96" x2="350.05" y2="2314.96" stroke="#111" stroke-width="1.3"/>
<line x1="352.06" y1="2326.57" x2="352.06" y2="2322.65" stroke="#111" stroke-width="1.3"/>
<line x1="341.75" y1="2322.65" x2="362.36" y2="2322.65" stroke="#111" stroke-width="1.3"/>
<line x1="341.75" y1="2326.57" x2="362.36" y2="2326.57" stroke="#111" stroke-width="1.3"/>
<line x1="376.68" y1="2314.96" x2="376.68" y2="2306.95" stroke="#111" stroke-width="1.3"/>
<line x1="366.38" y1="2306.95" x2="386.98" y2="2306.95" stroke="#111" stroke-width="1.3"/>
<line x1="366.38" y1="2314.96" x2="386.98" y2="2314.96" stroke="#111" stroke-width="1.3"/>
<line x1="388.99" y1="2328.93" x2="388.99" y2="2325.79" stroke="#111" stroke-width="1.3"/>
<line x1="378.69" y1="2325.79" x2="399.29" y2="2325.79" stroke="#111" stroke-width="1.3"/>
<line x1="378.69" y1="2328.93" x2="399.29" y2="2328.93" stroke="#111" stroke-width="1.3"/>
<line x1="413.61" y1="2319.51" x2="413.61" y2="2308.52" stroke="#111" stroke-width="1.3"/>
<line x1="403.31" y1="2308.52" x2="423.91" y2="2308.52" stroke="#111" stroke-width="1.3"/>
<line x1="403.31" y1="2319.51" x2="423.91" y2="2319.51" stroke="#111" stroke-width="1.3"/>
<line x1="425.92" y1="2330.5" x2="425.92" y2="2328.14" stroke="#111" stroke-width="1.3"/>
<line x1="415.62" y1="2328.14" x2="436.22" y2="2328.14" stroke="#111" stroke-width="1.3"/>
<line x1="415.62" y1="2330.5" x2="436.22" y2="2330.5" stroke="#111" stroke-width="1.3"/>
<line x1="450.54" y1="2318.72" x2="450.54" y2="2311.66" stroke="#111" stroke-width="1.3"/>
<line x1="440.24" y1="2311.66" x2="460.84" y2="2311.66" stroke="#111" stroke-width="1.3"/>
<line x1="440.24" y1="2318.72" x2="460.84" y2="2318.72" stroke="#111" stroke-width="1.3"/>
<line x1="462.85" y1="2330.5" x2="462.85" y2="2328.93" stroke="#111" stroke-width="1.3"/>
<line x1="452.55" y1="2328.93" x2="473.15" y2="2328.93" stroke="#111" stroke-width="1.3"/>
<line x1="452.55" y1="2330.5" x2="473.15" y2="2330.5" stroke="#111" stroke-width="1.3"/>
<line x1="487.47" y1="2319.51" x2="487.47" y2="2313.23" stroke="#111" stroke-width="1.3"/>
<line x1="477.17" y1="2313.23" x2="497.77" y2="2313.23" stroke="#111" stroke-width="1.3"/>
<line x1="477.17" y1="2319.51" x2="497.77" y2="2319.51" stroke="#111" stroke-width="1.3"/>
<line x1="524.39" y1="2320.3" x2="524.39" y2="2314.8" stroke="#111" stroke-width="1.3"/>
<line x1="514.1" y1="2314.8" x2="534.69" y2="2314.8" stroke="#111" stroke-width="1.3"/>
<line x1="514.1" y1="2320.3" x2="534.69" y2="2320.3" stroke="#111" stroke-width="1.3"/>
<line x1="561.33" y1="2321.86" x2="561.33" y2="2314.8" stroke="#111" stroke-width="1.3"/>
<line x1="551.03" y1="2314.8" x2="571.62" y2="2314.8" stroke="#111" stroke-width="1.3"/>
<line x1="551.03" y1="2321.86" x2="571.62" y2="2321.86" stroke="#111" stroke-width="1.3"/>
<line x1="598.25" y1="2323.43" x2="598.25" y2="2318.72" stroke="#111" stroke-width="1.3"/>
<line x1="587.96" y1="2318.72" x2="608.55" y2="2318.72" stroke="#111" stroke-width="1.3"/>
<line x1="587.96" y1="2323.43" x2="608.55" y2="2323.43" stroke="#111" stroke-width="1.3"/>
<line x1="635.19" y1="2324.22" x2="635.19" y2="2319.51" stroke="#111" stroke-width="1.3"/>
<line x1="624.89" y1="2319.51" x2="645.49" y2="2319.51" stroke="#111" stroke-width="1.3"/>
<line x1="624.89" y1="2324.22" x2="645.49" y2="2324.22" stroke="#111" stroke-width="1.3"/>
<line x1="672.12" y1="2240.38" x2="672.12" y2="2228.92" stroke="#111" stroke-width="1.3"/>
<line x1="661.82" y1="2228.92" x2="682.42" y2="2228.92" stroke="#111" stroke-width="1.3"/>
<line x1="661.82" y1="2240.38" x2="682.42" y2="2240.38" stroke="#111" stroke-width="1.3"/>
<line x1="89.4" y1="2330.5" x2="89.4" y2="1859.5" stroke="#333" stroke-width="1.4"/>
<line x1="89.4" y1="2330.5" x2="78.9" y2="2330.5" stroke="#333" stroke-width="1.4"/>
<text x="67.9" y="2339.7" font-size="25.4" text-anchor="end">0</text>
<line x1="89.4" y1="2252" x2="78.9" y2="2252" stroke="#333" stroke-width="1.4"/>
<text x="67.9" y="2261.2" font-size="25.4" text-anchor="end">100</text>
<line x1="89.4" y1="2173.5" x2="78.9" y2="2173.5" stroke="#333" stroke-width="1.4"/>
<text x="67.9" y="2182.7" font-size="25.4" text-anchor="end">200</text>
<line x1="89.4" y1="2095" x2="78.9" y2="2095" stroke="#333" stroke-width="1.4"/>
<text x="67.9" y="2104.2" font-size="25.4" text-anchor="end">300</text>
<line x1="89.4" y1="2016.5" x2="78.9" y2="2016.5" stroke="#333" stroke-width="1.4"/>
<text x="67.9" y="2025.7" font-size="25.4" text-anchor="end">400</text>
<line x1="89.4" y1="1938" x2="78.9" y2="1938" stroke="#333" stroke-width="1.4"/>
<text x="67.9" y="1947.2" font-size="25.4" text-anchor="end">500</text>
<line x1="89.4" y1="1859.5" x2="78.9" y2="1859.5" stroke="#333" stroke-width="1.4"/>
<text x="67.9" y="1868.7" font-size="25.4" text-anchor="end">600</text>
<text x="133.62" y="2352" font-size="25.4" text-anchor="end" transform="rotate(-90 133.62 2352)">0</text>
<text x="170.55" y="2352" font-size="25.4" text-anchor="end" transform="rotate(-90 170.55 2352)">1</text>
<text x="207.48" y="2352" font-size="25.4" text-anchor="end" transform="rotate(-90 207.48 2352)">2</text>
<text x="244.41" y="2352" font-size="25.4" text-anchor="end" transform="rotate(-90 244.41 2352)">3</text>
<text x="281.34" y="2352" font-size="25.4" text-anchor="end" transform="rotate(-90 281.34 2352)">4</text>
<text x="318.27" y="2352" font-size="25.4" text-anchor="end" transform="rotate(-90 318.27 2352)">5</text>
<text x="355.2" y="2352" font-size="25.4" text-anchor="end" transform="rotate(-90 355.2 2352)">6</text>
<text x="392.13" y="2352" font-size="25.4" text-anchor="end" transform="rotate(-90 392.13 2352)">7</text>
<text x="429.06" y="2352" font-size="25.4" text-anchor="end" transform="rotate(-90 429.06 2352)">8</text>
<text x="465.99" y="2352" font-size="25.4" text-anchor="end" transform="rotate(-90 465.99 2352)">9</text>
<text x="502.92" y="2352" font-size="25.4" text-anchor="end" transform="rotate(-90 502.92 2352)">10</text>
<text x="539.85" y="2352" font-size="25.4" text-anchor="end" transform="rotate(-90 539.85 2352)">11</text>
<text x="576.78" y="2352" font-size="25.4" text-anchor="end" transform="rotate(-90 576.78 2352)">12</text>
<text x="613.71" y="2352" font-size="25.4" text-anchor="end" transform="rotate(-90 613.71 2352)">13</text>
<text x="650.64" y="2352" font-size="25.4" text-anchor="end" transform="rotate(-90 650.64 2352)">14</text>
<text x="687.57" y="2352" font-size="25.4" text-anchor="end" transform="rotate(-90 687.57 2352)">≥ 15</text>
<text x="401.3" y="2408.5" font-size="25.4" text-anchor="middle">Age</text>
<text x="24" y="2095" font-size="25.4" text-anchor="middle" transform="rotate(-90 24 2095)">Number of individuals</text>
<rect x="459.22" y="1860.2" width="254.5" height="92.5" fill="#fff" stroke="#333" stroke-width="1.3"/>
<rect x="483.42" y="1883.2" width="18" height="16" fill="#a6cee3" stroke="#111" stroke-width="1.2"/>
<rect x="483.42" y="1914.2" width="18" height="16" fill="#1f78b4" stroke="#111" stroke-width="1.2"/>
<text x="524.82" y="1900.7" font-size="25.4" text-anchor="start">with learning</text>
<text x="524.82" y="1931.7" font-size="25.4" text-anchor="start">without learning</text>
<rect x="882.01" y="1938" width="12.31" height="392.5" fill="#a6cee3" stroke="#111" stroke-width="1.2"/>
<rect x="894.32" y="1938" width="12.31" height="392.5" fill="#1f78b4" stroke="#111" stroke-width="1.2"/>
<rect x="918.94" y="2295.96" width="12.31" height="34.54" fill="#a6cee3" stroke="#111" stroke-width="1.2"/>
<rect x="931.25" y="2132.21" width="12.31" height="198.29" fill="#1f78b4" stroke="#111" stroke-width="1.2"/>
<rect x="955.87" y="2312.99" width="12.31" height="17.51" fill="#a6cee3" stroke="#111" stroke-width="1.2"/>
<rect x="968.18" y="2233.4" width="12.31" height="97.1" fill="#1f78b4" stroke="#111" stroke-width="1.2"/>
<rect x="992.8" y="2314.96" width="12.31" height="15.54" fill="#a6cee3" stroke="#111" stroke-width="1.2"/>
<rect x="1005.11" y="2281.44" width="12.31" height="49.06" fill="#1f78b4" stroke="#111" stroke-width="1.2"/>
<rect x="1029.73" y="2314.49" width="12.31" height="16.01" fill="#a6cee3" stroke="#111" stroke-width="1.2"/>
<rect x="1042.04" y="2305.46" width="12.31" height="25.04" fill="#1f78b4" stroke="#111" stroke-width="1.2"/>
<rect x="1066.66" y="2316.45" width="12.31" height="14.05" fill="#a6cee3" stroke="#111" stroke-width="1.2"/>
<rect x="1078.97" y="2318.96" width="12.31" height="11.54" fill="#1f78b4" stroke="#111" stroke-width="1.2"/>
<rect x="1103.59" y="2317.47" width="12.31" height="13.03" fill="#a6cee3" stroke="#111" stroke-width="1.2"/>
<rect x="1115.9" y="2325.01" width="12.31" height="5.5" fill="#1f78b4" stroke="#111" stroke-width="1.2"/>
<rect x="1140.52" y="2318.49" width="12.31" height="12.01" fill="#a6cee3" stroke="#111" stroke-width="1.2"/>
<rect x="1152.83" y="2328.14" width="12.31" height="2.35" fill="#1f78b4" stroke="#111" stroke-width="1.2"/>
<rect x="1177.45" y="2318.49" width="12.31" height="12.01" fill="#a6cee3" stroke="#111" stroke-width="1.2"/>
<rect x="1189.76" y="2329.32" width="12.31" height="1.18" fill="#1f78b4" stroke="#111" stroke-width="1.2"/>
<rect x="1214.38" y="2319.98" width="12.31" height="10.52" fill="#a6cee3" stroke="#111" stroke-width="1.2"/>
<rect x="1226.69" y="2329.72" width="12.31" height="0.79" fill="#1f78b4" stroke="#111" stroke-width="1.2"/>
<rect x="1251.31" y="2319.51" width="12.31" height="10.99" fill="#a6cee3" stroke="#111" stroke-width="1.2"/>
<rect x="1263.62" y="2330.11" width="12.31" height="0.39" fill="#1f78b4" stroke="#111" stroke-width="1.2"/>
<rect x="1288.24" y="2319.98" width="12.31" height="10.52" fill="#a6cee3" stroke="#111" stroke-width="1.2"/>
<rect x="1300.55" y="2330.34" width="12.31" height="0.16" fill="#1f78b4" stroke="#111" stroke-width="1.2"/>
<rect x="1325.17" y="2320.53" width="12.31" height="9.97" fill="#a6cee3" stroke="#111" stroke-width="1.2"/>
<rect x="1337.48" y="2330.42" width="12.31" height="0.08" fill="#1f78b4" stroke="#111" stroke-width="1.2"/>
<rect x="1362.1" y="2319.98" width="12.31" height="10.52" fill="#a6cee3" stroke="#111" stroke-width="1.2"/>
<rect x="1374.41" y="2330.42" width="12.31" height="0.08" fill="#1f78b4" stroke="#111" stroke-width="1.2"/>
<rect x="1399.03" y="2322.02" width="12.31" height="8.48" fill="#a6cee3" stroke="#111" stroke-width="1.2"/>
<rect x="1411.34" y="2330.5" width="12.31" height="0.01" fill="#1f78b4" stroke="#111" stroke-width="1.2"/>
<rect x="1435.96" y="2143.28" width="12.31" height="187.22" fill="#a6cee3" stroke="#111" stroke-width="1.2"/>
<rect x="1448.27" y="2330.5" width="12.31" height="0.01" fill="#1f78b4" stroke="#111" stroke-width="1.2"/>
<line x1="925.1" y1="2300.43" x2="925.1" y2="2289.92" stroke="#111" stroke-width="1.3"/>
<line x1="914.8" y1="2289.92" x2="935.39" y2="2289.92" stroke="#111" stroke-width="1.3"/>
<line x1="914.8" y1="2300.43" x2="935.39" y2="2300.43" stroke="#111" stroke-width="1.3"/>
<line x1="937.41" y1="2137.78" x2="937.41" y2="2125.77" stroke="#111" stroke-width="1.3"/>
<line x1="927.11" y1="2125.77" x2="947.71" y2="2125.77" stroke="#111" stroke-width="1.3"/>
<line x1="927.11" y1="2137.78" x2="947.71" y2="2137.78" stroke="#111" stroke-width="1.3"/>
<line x1="962.03" y1="2315.59" x2="962.03" y2="2309.46" stroke="#111" stroke-width="1.3"/>
<line x1="951.73" y1="2309.46" x2="972.33" y2="2309.46" stroke="#111" stroke-width="1.3"/>
<line x1="951.73" y1="2315.59" x2="972.33" y2="2315.59" stroke="#111" stroke-width="1.3"/>
<line x1="974.34" y1="2237.95" x2="974.34" y2="2228.92" stroke="#111" stroke-width="1.3"/>
<line x1="964.04" y1="2228.92" x2="984.63" y2="2228.92" stroke="#111" stroke-width="1.3"/>
<line x1="964.04" y1="2237.95" x2="984.63" y2="2237.95" stroke="#111" stroke-width="1.3"/>
<line x1="998.96" y1="2317.47" x2="998.96" y2="2312.52" stroke="#111" stroke-width="1.3"/>
<line x1="988.66" y1="2312.52" x2="1009.25" y2="2312.52" stroke="#111" stroke-width="1.3"/>
<line x1="988.66" y1="2317.47" x2="1009.25" y2="2317.47" stroke="#111" stroke-width="1.3"/>
<line x1="1011.27" y1="2286.54" x2="1011.27" y2="2275.94" stroke="#111" stroke-width="1.3"/>
<line x1="1000.97" y1="2275.94" x2="1021.57" y2="2275.94" stroke="#111" stroke-width="1.3"/>
<line x1="1000.97" y1="2286.54" x2="1021.57" y2="2286.54" stroke="#111" stroke-width="1.3"/>
<line x1="1035.88" y1="2317.16" x2="1035.88" y2="2310.88" stroke="#111" stroke-width="1.3"/>
<line x1="1025.59" y1="2310.88" x2="1046.18" y2="2310.88" stroke="#111" stroke-width="1.3"/>
<line x1="1025.59" y1="2317.16" x2="1046.18" y2="2317.16" stroke="#111" stroke-width="1.3"/>
<line x1="1048.2" y1="2308.99" x2="1048.2" y2="2301.45" stroke="#111" stroke-width="1.3"/>
<line x1="1037.9" y1="2301.45" x2="1058.5" y2="2301.45" stroke="#111" stroke-width="1.3"/>
<line x1="1037.9" y1="2308.99" x2="1058.5" y2="2308.99" stroke="#111" stroke-width="1.3"/>
<line x1="1072.82" y1="2319.98" x2="1072.82" y2="2312.52" stroke="#111" stroke-width="1.3"/>
<line x1="1062.52" y1="2312.52" x2="1083.12" y2="2312.52" stroke="#111" stroke-width="1.3"/>
<line x1="1062.52" y1="2319.98" x2="1083.12" y2="2319.98" stroke="#111" stroke-width="1.3"/>
<line x1="1085.12" y1="2321.08" x2="1085.12" y2="2315.98" stroke="#111" stroke-width="1.3"/>
<line x1="1074.83" y1="2315.98" x2="1095.42" y2="2315.98" stroke="#111" stroke-width="1.3"/>
<line x1="1074.83" y1="2321.08" x2="1095.42" y2="2321.08" stroke="#111" stroke-width="1.3"/>
<line x1="1109.75" y1="2321.86" x2="1109.75" y2="2313.23" stroke="#111" stroke-width="1.3"/>
<line x1="1099.45" y1="2313.23" x2="1120.05" y2="2313.23" stroke="#111" stroke-width="1.3"/>
<line x1="1099.45" y1="2321.86" x2="1120.05" y2="2321.86" stroke="#111" stroke-width="1.3"/>
<line x1="1122.06" y1="2327.36" x2="1122.06" y2="2322.65" stroke="#111" stroke-width="1.3"/>
<line x1="1111.76" y1="2322.65" x2="1132.36" y2="2322.65" stroke="#111" stroke-width="1.3"/>
<line x1="1111.76" y1="2327.36" x2="1132.36" y2="2327.36" stroke="#111" stroke-width="1.3"/>
<line x1="1146.68" y1="2322.65" x2="1146.68" y2="2314.8" stroke="#111" stroke-width="1.3"/>
<line x1="1136.38" y1="2314.8" x2="1156.98" y2="2314.8" stroke="#111" stroke-width="1.3"/>
<line x1="1136.38" y1="2322.65" x2="1156.98" y2="2322.65" stroke="#111" stroke-width="1.3"/>
<line x1="1158.99" y1="2329.72" x2="1158.99" y2="2326.57" stroke="#111" stroke-width="1.3"/>
<line x1="1148.69" y1="2326.57" x2="1169.29" y2="2326.57" stroke="#111" stroke-width="1.3"/>
<line x1="1148.69" y1="2329.72" x2="1169.29" y2="2329.72" stroke="#111" stroke-width="1.3"/>
<line x1="1183.61" y1="2321.86" x2="1183.61" y2="2314.8" stroke="#111" stroke-width="1.3"/>
<line x1="1173.31" y1="2314.8" x2="1193.9" y2="2314.8" stroke="#111" stroke-width="1.3"/>
<line x1="1173.31" y1="2321.86" x2="1193.9" y2="2321.86" stroke="#111" stroke-width="1.3"/>
<line x1="1195.91" y1="2330.5" x2="1195.91" y2="2328.14" stroke="#111" stroke-width="1.3"/>
<line x1="1185.62" y1="2328.14" x2="1206.21" y2="2328.14" stroke="#111" stroke-width="1.3"/>
<line x1="1185.62" y1="2330.5" x2="1206.21" y2="2330.5" stroke="#111" stroke-width="1.3"/>
<line x1="1220.54" y1="2323.43" x2="1220.54" y2="2317.16" stroke="#111" stroke-width="1.3"/>
<line x1="1210.24" y1="2317.16" x2="1230.84" y2="2317.16" stroke="#111" stroke-width="1.3"/>
<line x1="1210.24" y1="2323.43" x2="1230.84" y2="2323.43" stroke="#111" stroke-width="1.3"/>
<line x1="1232.85" y1="2330.5" x2="1232.85" y2="2328.93" stroke="#111" stroke-width="1.3"/>
<line x1="1222.55" y1="2328.93" x2="1243.14" y2="2328.93" stroke="#111" stroke-width="1.3"/>
<line x1="1222.55" y1="2330.5" x2="1243.14" y2="2330.5" stroke="#111" stroke-width="1.3"/>
<line x1="1257.47" y1="2323.43" x2="1257.47" y2="2315.59" stroke="#111" stroke-width="1.3"/>
<line x1="1247.17" y1="2315.59" x2="1267.77" y2="2315.59" stroke="#111" stroke-width="1.3"/>
<line x1="1247.17" y1="2323.43" x2="1267.77" y2="2323.43" stroke="#111" stroke-width="1.3"/>
<line x1="1294.39" y1="2323.43" x2="1294.39" y2="2317.16" stroke="#111" stroke-width="1.3"/>
<line x1="1284.1" y1="2317.16" x2="1304.69" y2="2317.16" stroke="#111" stroke-width="1.3"/>
<line x1="1284.1" y1="2323.43" x2="1304.69" y2="2323.43" stroke="#111" stroke-width="1.3"/>
<line x1="1331.33" y1="2323.43" x2="1331.33" y2="2317.94" stroke="#111" stroke-width="1.3"/>
<line x1="1321.03" y1="2317.94" x2="1341.62" y2="2317.94" stroke="#111" stroke-width="1.3"/>
<line x1="1321.03" y1="2323.43" x2="1341.62" y2="2323.43" stroke="#111" stroke-width="1.3"/>
<line x1="1368.26" y1="2324.22" x2="1368.26" y2="2317.16" stroke="#111" stroke-width="1.3"/>
<line x1="1357.96" y1="2317.16" x2="1378.56" y2="2317.16" stroke="#111" stroke-width="1.3"/>
<line x1="1357.96" y1="2324.22" x2="1378.56" y2="2324.22" stroke="#111" stroke-width="1.3"/>
<line x1="1405.18" y1="2325.79" x2="1405.18" y2="2318.72" stroke="#111" stroke-width="1.3"/>
<line x1="1394.88" y1="2318.72" x2="1415.48" y2="2318.72" stroke="#111" stroke-width="1.3"/>
<line x1="1394.88" y1="2325.79" x2="1415.48" y2="2325.79" stroke="#111" stroke-width="1.3"/>
<line x1="1442.12" y1="2148.46" x2="1442.12" y2="2136.76" stroke="#111" stroke-width="1.3"/>
<line x1="1431.82" y1="2136.76" x2="1452.42" y2="2136.76" stroke="#111" stroke-width="1.3"/>
<line x1="1431.82" y1="2148.46" x2="1452.42" y2="2148.46" stroke="#111" stroke-width="1.3"/>
<line x1="858.9" y1="2330.5" x2="858.9" y2="1859.5" stroke="#333" stroke-width="1.4"/>
<line x1="858.9" y1="2330.5" x2="848.4" y2="2330.5" stroke="#333" stroke-width="1.4"/>
<text x="837.4" y="2339.7" font-size="25.4" text-anchor="end">0</text>
<line x1="858.9" y1="2252" x2="848.4" y2="2252" stroke="#333" stroke-width="1.4"/>
<text x="837.4" y="2261.2" font-size="25.4" text-anchor="end">100</text>
<line x1="858.9" y1="2173.5" x2="848.4" y2="2173.5" stroke="#333" stroke-width="1.4"/>
<text x="837.4" y="2182.7" font-size="25.4" text-anchor="end">200</text>
<line x1="858.9" y1="2095" x2="848.4" y2="2095" stroke="#333" stroke-width="1.4"/>
<text x="837.4" y="2104.2" font-size="25.4" text-anchor="end">300</text>
<line x1="858.9" y1="2016.5" x2="848.4" y2="2016.5" stroke="#333" stroke-width="1.4"/>
<text x="837.4" y="2025.7" font-size="25.4" text-anchor="end">400</text>
<line x1="858.9" y1="1938" x2="848.4" y2="1938" stroke="#333" stroke-width="1.4"/>
<text x="837.4" y="1947.2" font-size="25.4" text-anchor="end">500</text>
<line x1="858.9" y1="1859.5" x2="848.4" y2="1859.5" stroke="#333" stroke-width="1.4"/>
<text x="837.4" y="1868.7" font-size="25.4" text-anchor="end">600</text>
<text x="903.62" y="2352" font-size="25.4" text-anchor="end" transform="rotate(-90 903.62 2352)">0</text>
<text x="940.55" y="2352" font-size="25.4" text-anchor="end" transform="rotate(-90 940.55 2352)">1</text>
<text x="977.48" y="2352" font-size="25.4" text-anchor="end" transform="rotate(-90 977.48 2352)">2</text>
<text x="1014.41" y="2352" font-size="25.4" text-anchor="end" transform="rotate(-90 1014.41 2352)">3</text>
<text x="1051.34" y="2352" font-size="25.4" text-anchor="end" transform="rotate(-90 1051.34 2352)">4</text>
<text x="1088.27" y="2352" font-size="25.4" text-anchor="end" transform="rotate(-90 1088.27 2352)">5</text>
<text x="1125.2" y="2352" font-size="25.4" text-anchor="end" transform="rotate(-90 1125.2 2352)">6</text>
<text x="1162.13" y="2352" font-size="25.4" text-anchor="end" transform="rotate(-90 1162.13 2352)">7</text>
<text x="1199.06" y="2352" font-size="25.4" text-anchor="end" transform="rotate(-90 1199.06 2352)">8</text>
<text x="1235.99" y="2352" font-size="25.4" text-anchor="end" transform="rotate(-90 1235.99 2352)">9</text>
<text x="1272.92" y="2352" font-size="25.4" text-anchor="end" transform="rotate(-90 1272.92 2352)">10</text>
<text x="1309.85" y="2352" font-size="25.4" text-anchor="end" transform="rotate(-90 1309.85 2352)">11</text>
<text x="1346.78" y="2352" font-size="25.4" text-anchor="end" transform="rotate(-90 1346.78 2352)">12</text>
<text x="1383.71" y="2352" font-size="25.4" text-anchor="end" transform="rotate(-90 1383.71 2352)">13</text>
<text x="1420.64" y="2352" font-size="25.4" text-anchor="end" transform="rotate(-90 1420.64 2352)">14</text>
<text x="1457.57" y="2352" font-size="25.4" text-anchor="end" transform="rotate(-90 1457.57 2352)">≥ 15</text>
<text x="1171.3" y="2408.5" font-size="25.4" text-anchor="middle">Age</text>
<text x="793.7" y="2095" font-size="25.4" text-anchor="middle" transform="rotate(-90 793.7 2095)">Number of individuals</text>
<rect x="1229.22" y="1860.2" width="254.5" height="92.5" fill="#fff" stroke="#333" stroke-width="1.3"/>
<rect x="1253.42" y="1883.2" width="18" height="16" fill="#a6cee3" stroke="#111" stroke-width="1.2"/>
<rect x="1253.42" y="1914.2" width="18" height="16" fill="#1f78b4" stroke="#111" stroke-width="1.2"/>
<text x="1294.82" y="1900.7" font-size="25.4" text-anchor="start">with learning</text>
<text x="1294.82" y="1931.7" font-size="25.4" text-anchor="start">without learning</text>
<text x="0.5" y="35.9" font-size="48.5" text-anchor="start" font-weight="bold">a)</text>
<text x="757.9" y="35.9" font-size="48.5" text-anchor="start" font-weight="bold">b)</text>
<text x="0.5" y="625.9" font-size="48.5" text-anchor="start" font-weight="bold">c)</text>
<text x="758.4" y="627.5" font-size="48.5" text-anchor="start" font-weight="bold">d)</text>
<text x="-0.3" y="1215.5" font-size="48.5" text-anchor="start" font-weight="bold">e)</text>
<text x="757.3" y="1225.9" font-size="48.5" text-anchor="start" font-weight="bold">f)</text>
<text x="0.5" y="1830.3" font-size="48.5" text-anchor="start" font-weight="bold">g)</text>
<text x="757.7" y="1836.3" font-size="48.5" text-anchor="start" font-weight="bold">h)</text>
</svg>
</body></html>
